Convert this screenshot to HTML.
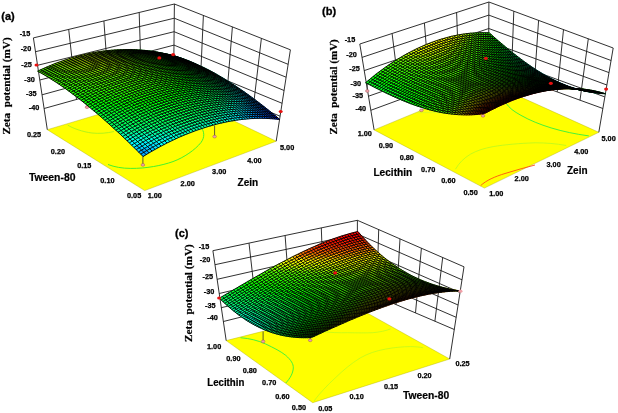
<!DOCTYPE html><html><head><meta charset="utf-8"><title>Zeta potential response surfaces</title><style>
html,body{margin:0;padding:0;background:#fff}svg{display:block}
.tk{font:bold 7.3px "Liberation Sans",sans-serif;fill:#000;stroke:#000;stroke-width:0.25px}
.ax{font:bold 10.1px "Liberation Sans",sans-serif;fill:#000;stroke:#000;stroke-width:0.2px}
.lb{font:bold 11px "Liberation Sans",sans-serif;fill:#000;stroke:#000;stroke-width:0.3px}
.zt{font:bold 11.3px "Liberation Serif",serif;fill:#000;stroke:#000;stroke-width:0.2px}
</style></head><body>
<svg width="618" height="413" viewBox="0 0 618 413">
<rect width="618" height="413" fill="#fff"/>
<g id="plot-a"><polygon points="144.7,190.6 276.2,141.2 173.5,92 47.3,129.7" fill="#ffff00" stroke="#a8a800" stroke-width="0.4"/>
<path d="M67.7,125.1C72,128 83,132 92,133C99,133.8 107,133.2 114,131.5" fill="none" stroke="#a0f020" stroke-width="0.8"/><path d="M108,164.5C114.5,167 122,168.4 130.8,168.4C146,168.6 162,165.5 173,161.6C184,157.5 195,150 201,142.5C205,137 204.5,131.5 200.5,126.4" fill="none" stroke="#30f030" stroke-width="0.9"/>
<path d="M33.4,37.9L47.3,129.7M174.4,4L173.5,92M290.4,49.8L276.2,141.2M68.7,29.4L76.5,99.5M103.9,20.9L108.9,90.4M139.2,12.5L141.3,81.3M203.4,15.4L200.3,83.3M232.4,26.9L226.9,94.2M261.4,38.3L253.5,105.2M33.4,37.9L174.4,4L290.4,49.8M35.5,51.7L174.3,18.2L288.1,64.3M37.5,65.3L174.1,31.7L286.1,77.2M39.8,80L174,45.1L284.1,90.5M42,94.8L173.8,58.7L282.1,103.3M44.1,108.5L173.7,72.3L280.1,116.2" fill="none" stroke="#1a1a1a" stroke-width="0.9"/>
<path d="M142.9,155.9V164.9" stroke="#333" stroke-width="0.8"/><ellipse cx="142.9" cy="164.9" rx="1.8" ry="1.4" fill="#f0a0a8" stroke="#844" stroke-width="0.4"/><path d="M214.6,125.5V136.6" stroke="#333" stroke-width="0.8"/><ellipse cx="214.6" cy="136.6" rx="1.8" ry="1.4" fill="#f0a0a8" stroke="#844" stroke-width="0.4"/><path d="M87,100V107.2" stroke="#333" stroke-width="0.8"/><ellipse cx="87" cy="107.2" rx="1.8" ry="1.4" fill="#f0a0a8" stroke="#844" stroke-width="0.4"/>
<g stroke-width="0.5" stroke-linejoin="round"><path d="M173.4,55.8 178.3,57.1 174.4,55.9 169.5,54.6z" fill="#00ffc2" stroke="#00ffc2"/><path d="M177.3,57.2 182.2,58.4 178.3,57.1 173.4,55.8z" fill="#00ffb7" stroke="#00ffb7"/><path d="M168.4,54.7 173.4,55.8 169.5,54.6 164.5,53.5z" fill="#00ff84" stroke="#00ff84"/><path d="M181.2,58.6 186.1,59.8 182.2,58.4 177.3,57.2z" fill="#00ffae" stroke="#00ffae"/><path d="M172.3,56.1 177.3,57.2 173.4,55.8 168.4,54.7z" fill="#00ff7a" stroke="#00ff7a"/><path d="M163.4,53.7 168.4,54.7 164.5,53.5 159.5,52.5z" fill="#00ff5c" stroke="#00ff5c"/><path d="M185.2,60.2 190.1,61.4 186.1,59.8 181.2,58.6z" fill="#00ffa9" stroke="#00ffa9"/><path d="M176.3,57.6 181.2,58.6 177.3,57.2 172.3,56.1z" fill="#00ff72" stroke="#00ff72"/><path d="M167.3,55.1 172.3,56.1 168.4,54.7 163.4,53.7z" fill="#00ff57" stroke="#00ff57"/><path d="M189.3,61.9 194.1,63.1 190.1,61.4 185.2,60.2z" fill="#00ffa5" stroke="#00ffa5"/><path d="M158.3,52.9 163.4,53.7 159.5,52.5 154.4,51.6z" fill="#00ff3f" stroke="#00ff3f"/><path d="M180.3,59.2 185.2,60.2 181.2,58.6 176.3,57.6z" fill="#00ff6e" stroke="#00ff6e"/><path d="M171.3,56.6 176.3,57.6 172.3,56.1 167.3,55.1z" fill="#00ff53" stroke="#00ff53"/><path d="M193.3,63.7 198.2,64.9 194.1,63.1 189.3,61.9z" fill="#00ffa5" stroke="#00ffa5"/><path d="M162.2,54.3 167.3,55.1 163.4,53.7 158.3,52.9z" fill="#00ff3a" stroke="#00ff3a"/><path d="M184.3,60.9 189.3,61.9 185.2,60.2 180.3,59.2z" fill="#00ff6d" stroke="#00ff6d"/><path d="M153.1,52.2 158.3,52.9 154.4,51.6 149.2,50.9z" fill="#00ff25" stroke="#00ff25"/><path d="M175.3,58.3 180.3,59.2 176.3,57.6 171.3,56.6z" fill="#00ff50" stroke="#00ff50"/><path d="M197.4,65.7 202.3,66.8 198.2,64.9 193.3,63.7z" fill="#00ffa6" stroke="#00ffa6"/><path d="M166.2,55.8 171.3,56.6 167.3,55.1 162.2,54.3z" fill="#00ff37" stroke="#00ff37"/><path d="M188.4,62.7 193.3,63.7 189.3,61.9 184.3,60.9z" fill="#00ff6d" stroke="#00ff6d"/><path d="M157.1,53.6 162.2,54.3 158.3,52.9 153.1,52.2z" fill="#00ff20" stroke="#00ff20"/><path d="M201.5,67.7 206.4,68.8 202.3,66.8 197.4,65.7z" fill="#00ffab" stroke="#00ffab"/><path d="M147.9,51.7 153.1,52.2 149.2,50.9 144,50.3z" fill="#00ff0c" stroke="#00ff0c"/><path d="M179.3,60 184.3,60.9 180.3,59.2 175.3,58.3z" fill="#00ff4f" stroke="#00ff4f"/><path d="M170.2,57.5 175.3,58.3 171.3,56.6 166.2,55.8z" fill="#00ff34" stroke="#00ff34"/><path d="M192.5,64.7 197.4,65.7 193.3,63.7 188.4,62.7z" fill="#00ff6e" stroke="#00ff6e"/><path d="M161,55.2 166.2,55.8 162.2,54.3 157.1,53.6z" fill="#00ff1c" stroke="#00ff1c"/><path d="M205.7,69.9 210.5,70.9 206.4,68.8 201.5,67.7z" fill="#00ffb1" stroke="#00ffb1"/><path d="M183.4,61.9 188.4,62.7 184.3,60.9 179.3,60z" fill="#00ff4f" stroke="#00ff4f"/><path d="M151.8,53.1 157.1,53.6 153.1,52.2 147.9,51.7z" fill="#00ff07" stroke="#00ff07"/><path d="M142.7,51.3 147.9,51.7 144,50.3 138.8,49.9z" fill="#09ff00" stroke="#09ff00"/><path d="M174.2,59.3 179.3,60 175.3,58.3 170.2,57.5z" fill="#00ff34" stroke="#00ff34"/><path d="M196.6,66.8 201.5,67.7 197.4,65.7 192.5,64.7z" fill="#00ff70" stroke="#00ff70"/><path d="M209.9,72.2 214.7,73.2 210.5,70.9 205.7,69.9z" fill="#00ffba" stroke="#00ffba"/><path d="M165,56.9 170.2,57.5 166.2,55.8 161,55.2z" fill="#00ff1a" stroke="#00ff1a"/><path d="M187.5,63.9 192.5,64.7 188.4,62.7 183.4,61.9z" fill="#00ff51" stroke="#00ff51"/><path d="M155.8,54.7 161,55.2 157.1,53.6 151.8,53.1z" fill="#00ff04" stroke="#00ff04"/><path d="M200.8,69 205.7,69.9 201.5,67.7 196.6,66.8z" fill="#00ff77" stroke="#00ff77"/><path d="M146.6,52.8 151.8,53.1 147.9,51.7 142.7,51.3z" fill="#0dff00" stroke="#0dff00"/><path d="M178.3,61.2 183.4,61.9 179.3,60 174.2,59.3z" fill="#00ff34" stroke="#00ff34"/><path d="M137.3,51 142.7,51.3 138.8,49.9 133.5,49.6z" fill="#1bff00" stroke="#1bff00"/><path d="M214.1,74.6 218.9,75.6 214.7,73.2 209.9,72.2z" fill="#00ffc5" stroke="#00ffc5"/><path d="M169.1,58.7 174.2,59.3 170.2,57.5 165,56.9z" fill="#00ff1a" stroke="#00ff1a"/><path d="M191.6,66 196.6,66.8 192.5,64.7 187.5,63.9z" fill="#00ff53" stroke="#00ff53"/><path d="M159.8,56.4 165,56.9 161,55.2 155.8,54.7z" fill="#00ff02" stroke="#00ff02"/><path d="M204.9,71.3 209.9,72.2 205.7,69.9 200.8,69z" fill="#00ff81" stroke="#00ff81"/><path d="M182.4,63.2 187.5,63.9 183.4,61.9 178.3,61.2z" fill="#00ff36" stroke="#00ff36"/><path d="M150.5,54.4 155.8,54.7 151.8,53.1 146.6,52.8z" fill="#0fff00" stroke="#0fff00"/><path d="M218.3,77.1 223.1,78.1 218.9,75.6 214.1,74.6z" fill="#00ffd3" stroke="#00ffd3"/><path d="M141.2,52.5 146.6,52.8 142.7,51.3 137.3,51z" fill="#1fff00" stroke="#1fff00"/><path d="M132,50.9 137.3,51 133.5,49.6 128.1,49.5z" fill="#2bff00" stroke="#2bff00"/><path d="M195.8,68.2 200.8,69 196.6,66.8 191.6,66z" fill="#00ff57" stroke="#00ff57"/><path d="M173.1,60.6 178.3,61.2 174.2,59.3 169.1,58.7z" fill="#00ff1a" stroke="#00ff1a"/><path d="M209.2,73.8 214.1,74.6 209.9,72.2 204.9,71.3z" fill="#00ff8c" stroke="#00ff8c"/><path d="M163.8,58.3 169.1,58.7 165,56.9 159.8,56.4z" fill="#00ff02" stroke="#00ff02"/><path d="M222.6,79.7 227.4,80.7 223.1,78.1 218.3,77.1z" fill="#00ffe2" stroke="#00ffe2"/><path d="M186.5,65.4 191.6,66 187.5,63.9 182.4,63.2z" fill="#00ff39" stroke="#00ff39"/><path d="M154.5,56.1 159.8,56.4 155.8,54.7 150.5,54.4z" fill="#11ff00" stroke="#11ff00"/><path d="M200,70.6 204.9,71.3 200.8,69 195.8,68.2z" fill="#00ff5d" stroke="#00ff5d"/><path d="M145.2,54.2 150.5,54.4 146.6,52.8 141.2,52.5z" fill="#21ff00" stroke="#21ff00"/><path d="M177.2,62.7 182.4,63.2 178.3,61.2 173.1,60.6z" fill="#00ff1c" stroke="#00ff1c"/><path d="M135.9,52.5 141.2,52.5 137.3,51 132,50.9z" fill="#2fff00" stroke="#2fff00"/><path d="M213.4,76.3 218.3,77.1 214.1,74.6 209.2,73.8z" fill="#00ff9a" stroke="#00ff9a"/><path d="M126.5,51 132,50.9 128.1,49.5 122.7,49.6z" fill="#3aff00" stroke="#3aff00"/><path d="M226.8,82.5 231.6,83.4 227.4,80.7 222.6,79.7z" fill="#00fff4" stroke="#00fff4"/><path d="M167.9,60.2 173.1,60.6 169.1,58.7 163.8,58.3z" fill="#00ff03" stroke="#00ff03"/><path d="M190.7,67.6 195.8,68.2 191.6,66 186.5,65.4z" fill="#00ff3d" stroke="#00ff3d"/><path d="M158.6,58 163.8,58.3 159.8,56.4 154.5,56.1z" fill="#11ff00" stroke="#11ff00"/><path d="M204.2,73.1 209.2,73.8 204.9,71.3 200,70.6z" fill="#00ff63" stroke="#00ff63"/><path d="M181.4,64.9 186.5,65.4 182.4,63.2 177.2,62.7z" fill="#00ff20" stroke="#00ff20"/><path d="M217.7,79 222.6,79.7 218.3,77.1 213.4,76.3z" fill="#00ffaa" stroke="#00ffaa"/><path d="M149.2,56 154.5,56.1 150.5,54.4 145.2,54.2z" fill="#22ff00" stroke="#22ff00"/><path d="M231.1,85.3 235.9,86.2 231.6,83.4 226.8,82.5z" fill="#00f6ff" stroke="#00f6ff"/><path d="M139.8,54.2 145.2,54.2 141.2,52.5 135.9,52.5z" fill="#30ff00" stroke="#30ff00"/><path d="M130.4,52.6 135.9,52.5 132,50.9 126.5,51z" fill="#3dff00" stroke="#3dff00"/><path d="M121.1,51.3 126.5,51 122.7,49.6 117.2,49.8z" fill="#47ff00" stroke="#47ff00"/><path d="M194.9,70 200,70.6 195.8,68.2 190.7,67.6z" fill="#00ff42" stroke="#00ff42"/><path d="M172,62.3 177.2,62.7 173.1,60.6 167.9,60.2z" fill="#00ff05" stroke="#00ff05"/><path d="M208.4,75.6 213.4,76.3 209.2,73.8 204.2,73.1z" fill="#00ff6b" stroke="#00ff6b"/><path d="M162.6,60 167.9,60.2 163.8,58.3 158.6,58z" fill="#10ff00" stroke="#10ff00"/><path d="M222,81.7 226.8,82.5 222.6,79.7 217.7,79z" fill="#00ffbd" stroke="#00ffbd"/><path d="M235.5,88.2 240.2,89.1 235.9,86.2 231.1,85.3z" fill="#00e0ff" stroke="#00e0ff"/><path d="M185.6,67.2 190.7,67.6 186.5,65.4 181.4,64.9z" fill="#00ff24" stroke="#00ff24"/><path d="M153.2,57.9 158.6,58 154.5,56.1 149.2,56z" fill="#22ff00" stroke="#22ff00"/><path d="M143.8,56 149.2,56 145.2,54.2 139.8,54.2z" fill="#31ff00" stroke="#31ff00"/><path d="M199.1,72.5 204.2,73.1 200,70.6 194.9,70z" fill="#00ff49" stroke="#00ff49"/><path d="M176.2,64.5 181.4,64.9 177.2,62.7 172,62.3z" fill="#00ff09" stroke="#00ff09"/><path d="M134.4,54.3 139.8,54.2 135.9,52.5 130.4,52.6z" fill="#3eff00" stroke="#3eff00"/><path d="M212.7,78.3 217.7,79 213.4,76.3 208.4,75.6z" fill="#00ff76" stroke="#00ff76"/><path d="M125,52.9 130.4,52.6 126.5,51 121.1,51.3z" fill="#49ff00" stroke="#49ff00"/><path d="M115.5,51.7 121.1,51.3 117.2,49.8 111.7,50.2z" fill="#52ff00" stroke="#52ff00"/><path d="M239.8,91.3 244.6,92.1 240.2,89.1 235.5,88.2z" fill="#00c8ff" stroke="#00c8ff"/><path d="M226.3,84.6 231.1,85.3 226.8,82.5 222,81.7z" fill="#00ffd1" stroke="#00ffd1"/><path d="M166.8,62.1 172,62.3 167.9,60.2 162.6,60z" fill="#0eff00" stroke="#0eff00"/><path d="M189.8,69.6 194.9,70 190.7,67.6 185.6,67.2z" fill="#00ff2a" stroke="#00ff2a"/><path d="M157.3,59.9 162.6,60 158.6,58 153.2,57.9z" fill="#21ff00" stroke="#21ff00"/><path d="M203.4,75.1 208.4,75.6 204.2,73.1 199.1,72.5z" fill="#00ff51" stroke="#00ff51"/><path d="M244.2,94.4 248.9,95.2 244.6,92.1 239.8,91.3z" fill="#00aeff" stroke="#00aeff"/><path d="M180.4,66.9 185.6,67.2 181.4,64.9 176.2,64.5z" fill="#00ff0d" stroke="#00ff0d"/><path d="M217,81.1 222,81.7 217.7,79 212.7,78.3z" fill="#00ff88" stroke="#00ff88"/><path d="M147.9,57.9 153.2,57.9 149.2,56 143.8,56z" fill="#31ff00" stroke="#31ff00"/><path d="M230.6,87.6 235.5,88.2 231.1,85.3 226.3,84.6z" fill="#00ffe7" stroke="#00ffe7"/><path d="M138.4,56.2 143.8,56 139.8,54.2 134.4,54.3z" fill="#3fff00" stroke="#3fff00"/><path d="M128.9,54.6 134.4,54.3 130.4,52.6 125,52.9z" fill="#4bff00" stroke="#4bff00"/><path d="M110,52.3 115.5,51.7 111.7,50.2 106.1,50.7z" fill="#71ff00" stroke="#71ff00"/><path d="M119.4,53.3 125,52.9 121.1,51.3 115.5,51.7z" fill="#5aff00" stroke="#5aff00"/><path d="M194,72.1 199.1,72.5 194.9,70 189.8,69.6z" fill="#00ff30" stroke="#00ff30"/><path d="M170.9,64.4 176.2,64.5 172,62.3 166.8,62.1z" fill="#0bff00" stroke="#0bff00"/><path d="M248.6,97.7 253.3,98.4 248.9,95.2 244.2,94.4z" fill="#0093ff" stroke="#0093ff"/><path d="M207.7,77.8 212.7,78.3 208.4,75.6 203.4,75.1z" fill="#00ff59" stroke="#00ff59"/><path d="M161.4,62.1 166.8,62.1 162.6,60 157.3,59.9z" fill="#1eff00" stroke="#1eff00"/><path d="M235,90.6 239.8,91.3 235.5,88.2 230.6,87.6z" fill="#00ffff" stroke="#00ffff"/><path d="M221.3,84 226.3,84.6 222,81.7 217,81.1z" fill="#00ff9d" stroke="#00ff9d"/><path d="M184.6,69.3 189.8,69.6 185.6,67.2 180.4,66.9z" fill="#00ff13" stroke="#00ff13"/><path d="M151.9,60 157.3,59.9 153.2,57.9 147.9,57.9z" fill="#30ff00" stroke="#30ff00"/><path d="M142.4,58.1 147.9,57.9 143.8,56 138.4,56.2z" fill="#3fff00" stroke="#3fff00"/><path d="M198.3,74.8 203.4,75.1 199.1,72.5 194,72.1z" fill="#00ff38" stroke="#00ff38"/><path d="M253,101 257.7,101.7 253.3,98.4 248.6,97.7z" fill="#0080ff" stroke="#0080ff"/><path d="M175.1,66.7 180.4,66.9 176.2,64.5 170.9,64.4z" fill="#07ff00" stroke="#07ff00"/><path d="M132.9,56.5 138.4,56.2 134.4,54.3 128.9,54.6z" fill="#4bff00" stroke="#4bff00"/><path d="M104.4,53 110,52.3 106.1,50.7 100.6,51.4z" fill="#8aff00" stroke="#8aff00"/><path d="M123.4,55.1 128.9,54.6 125,52.9 119.4,53.3z" fill="#5eff00" stroke="#5eff00"/><path d="M113.9,54 119.4,53.3 115.5,51.7 110,52.3z" fill="#78ff00" stroke="#78ff00"/><path d="M212,80.7 217,81.1 212.7,78.3 207.7,77.8z" fill="#00ff63" stroke="#00ff63"/><path d="M239.3,93.8 244.2,94.4 239.8,91.3 235,90.6z" fill="#00e5ff" stroke="#00e5ff"/><path d="M225.7,87 230.6,87.6 226.3,84.6 221.3,84z" fill="#00ffb4" stroke="#00ffb4"/><path d="M165.6,64.3 170.9,64.4 166.8,62.1 161.4,62.1z" fill="#1bff00" stroke="#1bff00"/><path d="M188.8,71.9 194,72.1 189.8,69.6 184.6,69.3z" fill="#00ff1a" stroke="#00ff1a"/><path d="M257.4,104.4 262.1,105.1 257.7,101.7 253,101z" fill="#006fff" stroke="#006fff"/><path d="M156,62.2 161.4,62.1 157.3,59.9 151.9,60z" fill="#2dff00" stroke="#2dff00"/><path d="M202.5,77.5 207.7,77.8 203.4,75.1 198.3,74.8z" fill="#00ff42" stroke="#00ff42"/><path d="M243.7,97.1 248.6,97.7 244.2,94.4 239.3,93.8z" fill="#00c9ff" stroke="#00c9ff"/><path d="M146.5,60.2 151.9,60 147.9,57.9 142.4,58.1z" fill="#3dff00" stroke="#3dff00"/><path d="M179.3,69.2 184.6,69.3 180.4,66.9 175.1,66.7z" fill="#01ff00" stroke="#01ff00"/><path d="M216.3,83.6 221.3,84 217,81.1 212,80.7z" fill="#00ff6f" stroke="#00ff6f"/><path d="M230,90.1 235,90.6 230.6,87.6 225.7,87z" fill="#00ffcc" stroke="#00ffcc"/><path d="M98.8,54 104.4,53 100.6,51.4 94.9,52.3z" fill="#a0ff00" stroke="#a0ff00"/><path d="M136.9,58.5 142.4,58.1 138.4,56.2 132.9,56.5z" fill="#4aff00" stroke="#4aff00"/><path d="M108.3,54.7 113.9,54 110,52.3 104.4,53z" fill="#91ff00" stroke="#91ff00"/><path d="M127.4,57 132.9,56.5 128.9,54.6 123.4,55.1z" fill="#5fff00" stroke="#5fff00"/><path d="M117.8,55.8 123.4,55.1 119.4,53.3 113.9,54z" fill="#7bff00" stroke="#7bff00"/><path d="M261.8,107.9 266.5,108.5 262.1,105.1 257.4,104.4z" fill="#005cff" stroke="#005cff"/><path d="M193.1,74.6 198.3,74.8 194,72.1 188.8,71.9z" fill="#00ff22" stroke="#00ff22"/><path d="M169.8,66.7 175.1,66.7 170.9,64.4 165.6,64.3z" fill="#17ff00" stroke="#17ff00"/><path d="M248.1,100.4 253,101 248.6,97.7 243.7,97.1z" fill="#00abff" stroke="#00abff"/><path d="M206.9,80.4 212,80.7 207.7,77.8 202.5,77.5z" fill="#00ff4c" stroke="#00ff4c"/><path d="M160.2,64.5 165.6,64.3 161.4,62.1 156,62.2z" fill="#2aff00" stroke="#2aff00"/><path d="M234.4,93.3 239.3,93.8 235,90.6 230,90.1z" fill="#00ffe7" stroke="#00ffe7"/><path d="M220.7,86.6 225.7,87 221.3,84 216.3,83.6z" fill="#00ff84" stroke="#00ff84"/><path d="M183.5,71.8 188.8,71.9 184.6,69.3 179.3,69.2z" fill="#00ff06" stroke="#00ff06"/><path d="M266.2,111.5 270.9,112.1 266.5,108.5 261.8,107.9z" fill="#0049ff" stroke="#0049ff"/><path d="M150.6,62.5 156,62.2 151.9,60 146.5,60.2z" fill="#3aff00" stroke="#3aff00"/><path d="M93.1,55.1 98.8,54 94.9,52.3 89.3,53.4z" fill="#b1ff00" stroke="#b1ff00"/><path d="M141,60.7 146.5,60.2 142.4,58.1 136.9,58.5z" fill="#49ff00" stroke="#49ff00"/><path d="M197.4,77.3 202.5,77.5 198.3,74.8 193.1,74.6z" fill="#00ff2c" stroke="#00ff2c"/><path d="M252.6,103.9 257.4,104.4 253,101 248.1,100.4z" fill="#008dff" stroke="#008dff"/><path d="M102.6,55.7 108.3,54.7 104.4,53 98.8,54z" fill="#a7ff00" stroke="#a7ff00"/><path d="M131.4,59.1 136.9,58.5 132.9,56.5 127.4,57z" fill="#5cff00" stroke="#5cff00"/><path d="M174,69.3 179.3,69.2 175.1,66.7 169.8,66.7z" fill="#11ff00" stroke="#11ff00"/><path d="M112.2,56.6 117.8,55.8 113.9,54 108.3,54.7z" fill="#94ff00" stroke="#94ff00"/><path d="M121.8,57.7 127.4,57 123.4,55.1 117.8,55.8z" fill="#7bff00" stroke="#7bff00"/><path d="M211.2,83.3 216.3,83.6 212,80.7 206.9,80.4z" fill="#00ff57" stroke="#00ff57"/><path d="M238.8,96.6 243.7,97.1 239.3,93.8 234.4,93.3z" fill="#00fbff" stroke="#00fbff"/><path d="M225,89.8 230,90.1 225.7,87 220.7,86.6z" fill="#00ff9d" stroke="#00ff9d"/><path d="M270.7,115.2 275.4,115.7 270.9,112.1 266.2,111.5z" fill="#0035ff" stroke="#0035ff"/><path d="M164.4,66.9 169.8,66.7 165.6,64.3 160.2,64.5z" fill="#25ff00" stroke="#25ff00"/><path d="M187.8,74.5 193.1,74.6 188.8,71.9 183.5,71.8z" fill="#00ff0e" stroke="#00ff0e"/><path d="M257,107.4 261.8,107.9 257.4,104.4 252.6,103.9z" fill="#007aff" stroke="#007aff"/><path d="M154.7,64.8 160.2,64.5 156,62.2 150.6,62.5z" fill="#37ff00" stroke="#37ff00"/><path d="M87.4,56.4 93.1,55.1 89.3,53.4 83.6,54.7z" fill="#bcff00" stroke="#bcff00"/><path d="M201.7,80.2 206.9,80.4 202.5,77.5 197.4,77.3z" fill="#00ff36" stroke="#00ff36"/><path d="M275.2,119 279.8,119.5 275.4,115.7 270.7,115.2z" fill="#001fff" stroke="#001fff"/><path d="M243.3,100 248.1,100.4 243.7,97.1 238.8,96.6z" fill="#00ddff" stroke="#00ddff"/><path d="M145.1,62.9 150.6,62.5 146.5,60.2 141,60.7z" fill="#46ff00" stroke="#46ff00"/><path d="M178.2,71.9 183.5,71.8 179.3,69.2 174,69.3z" fill="#0bff00" stroke="#0bff00"/><path d="M215.6,86.4 220.7,86.6 216.3,83.6 211.2,83.3z" fill="#00ff63" stroke="#00ff63"/><path d="M229.4,93 234.4,93.3 230,90.1 225,89.8z" fill="#00ffb8" stroke="#00ffb8"/><path d="M97,56.9 102.6,55.7 98.8,54 93.1,55.1z" fill="#b7ff00" stroke="#b7ff00"/><path d="M135.5,61.2 141,60.7 136.9,58.5 131.4,59.1z" fill="#55ff00" stroke="#55ff00"/><path d="M106.6,57.6 112.2,56.6 108.3,54.7 102.6,55.7z" fill="#a9ff00" stroke="#a9ff00"/><path d="M125.8,59.8 131.4,59.1 127.4,57 121.8,57.7z" fill="#77ff00" stroke="#77ff00"/><path d="M116.2,58.6 121.8,57.7 117.8,55.8 112.2,56.6z" fill="#93ff00" stroke="#93ff00"/><path d="M261.5,111.1 266.2,111.5 261.8,107.9 257,107.4z" fill="#0066ff" stroke="#0066ff"/><path d="M168.6,69.5 174,69.3 169.8,66.7 164.4,66.9z" fill="#1fff00" stroke="#1fff00"/><path d="M192.1,77.3 197.4,77.3 193.1,74.6 187.8,74.5z" fill="#00ff18" stroke="#00ff18"/><path d="M247.7,103.5 252.6,103.9 248.1,100.4 243.3,100z" fill="#00bdff" stroke="#00bdff"/><path d="M206,83.2 211.2,83.3 206.9,80.4 201.7,80.2z" fill="#00ff42" stroke="#00ff42"/><path d="M158.9,67.3 164.4,66.9 160.2,64.5 154.7,64.8z" fill="#32ff00" stroke="#32ff00"/><path d="M81.7,57.8 87.4,56.4 83.6,54.7 77.9,56.1z" fill="#c0ff00" stroke="#c0ff00"/><path d="M233.8,96.4 238.8,96.6 234.4,93.3 229.4,93z" fill="#00ffd5" stroke="#00ffd5"/><path d="M220,89.6 225,89.8 220.7,86.6 215.6,86.4z" fill="#00ff71" stroke="#00ff71"/><path d="M182.5,74.6 187.8,74.5 183.5,71.8 178.2,71.9z" fill="#03ff00" stroke="#03ff00"/><path d="M265.9,114.8 270.7,115.2 266.2,111.5 261.5,111.1z" fill="#0052ff" stroke="#0052ff"/><path d="M149.3,65.3 154.7,64.8 150.6,62.5 145.1,62.9z" fill="#42ff00" stroke="#42ff00"/><path d="M91.3,58.2 97,56.9 93.1,55.1 87.4,56.4z" fill="#c0ff00" stroke="#c0ff00"/><path d="M139.6,63.5 145.1,62.9 141,60.7 135.5,61.2z" fill="#50ff00" stroke="#50ff00"/><path d="M100.9,58.8 106.6,57.6 102.6,55.7 97,56.9z" fill="#b8ff00" stroke="#b8ff00"/><path d="M252.2,107.1 257,107.4 252.6,103.9 247.7,103.5z" fill="#009bff" stroke="#009bff"/><path d="M196.4,80.3 201.7,80.2 197.4,77.3 192.1,77.3z" fill="#00ff22" stroke="#00ff22"/><path d="M129.9,62 135.5,61.2 131.4,59.1 125.8,59.8z" fill="#70ff00" stroke="#70ff00"/><path d="M110.5,59.6 116.2,58.6 112.2,56.6 106.6,57.6z" fill="#a7ff00" stroke="#a7ff00"/><path d="M120.2,60.7 125.8,59.8 121.8,57.7 116.2,58.6z" fill="#8dff00" stroke="#8dff00"/><path d="M172.8,72.1 178.2,71.9 174,69.3 168.6,69.5z" fill="#19ff00" stroke="#19ff00"/><path d="M238.3,99.8 243.3,100 238.8,96.6 233.8,96.4z" fill="#00fff3" stroke="#00fff3"/><path d="M210.4,86.3 215.6,86.4 211.2,83.3 206,83.2z" fill="#00ff4e" stroke="#00ff4e"/><path d="M270.4,118.6 275.2,119 270.7,115.2 265.9,114.8z" fill="#003dff" stroke="#003dff"/><path d="M224.4,92.9 229.4,93 225,89.8 220,89.6z" fill="#00ff8d" stroke="#00ff8d"/><path d="M76,59.5 81.7,57.8 77.9,56.1 72.2,57.7z" fill="#bdff00" stroke="#bdff00"/><path d="M163.2,69.8 168.6,69.5 164.4,66.9 158.9,67.3z" fill="#2cff00" stroke="#2cff00"/><path d="M186.8,77.5 192.1,77.3 187.8,74.5 182.5,74.6z" fill="#00ff06" stroke="#00ff06"/><path d="M256.6,110.8 261.5,111.1 257,107.4 252.2,107.1z" fill="#0082ff" stroke="#0082ff"/><path d="M85.5,59.7 91.3,58.2 87.4,56.4 81.7,57.8z" fill="#c3ff00" stroke="#c3ff00"/><path d="M153.4,67.8 158.9,67.3 154.7,64.8 149.3,65.3z" fill="#3dff00" stroke="#3dff00"/><path d="M200.8,83.3 206,83.2 201.7,80.2 196.4,80.3z" fill="#00ff2e" stroke="#00ff2e"/><path d="M242.7,103.3 247.7,103.5 243.3,100 238.3,99.8z" fill="#00ebff" stroke="#00ebff"/><path d="M95.2,60.1 100.9,58.8 97,56.9 91.3,58.2z" fill="#c1ff00" stroke="#c1ff00"/><path d="M143.7,65.9 149.3,65.3 145.1,62.9 139.6,63.5z" fill="#4bff00" stroke="#4bff00"/><path d="M177.1,74.9 182.5,74.6 178.2,71.9 172.8,72.1z" fill="#11ff00" stroke="#11ff00"/><path d="M214.8,89.5 220,89.6 215.6,86.4 210.4,86.3z" fill="#00ff5c" stroke="#00ff5c"/><path d="M228.8,96.2 233.8,96.4 229.4,93 224.4,92.9z" fill="#00ffaa" stroke="#00ffaa"/><path d="M104.8,60.8 110.5,59.6 106.6,57.6 100.9,58.8z" fill="#b5ff00" stroke="#b5ff00"/><path d="M134,64.3 139.6,63.5 135.5,61.2 129.9,62z" fill="#65ff00" stroke="#65ff00"/><path d="M114.5,61.8 120.2,60.7 116.2,58.6 110.5,59.6z" fill="#a1ff00" stroke="#a1ff00"/><path d="M124.2,62.9 129.9,62 125.8,59.8 120.2,60.7z" fill="#85ff00" stroke="#85ff00"/><path d="M70.2,61.3 76,59.5 72.2,57.7 66.4,59.5z" fill="#b5ff00" stroke="#b5ff00"/><path d="M261.1,114.5 265.9,114.8 261.5,111.1 256.6,110.8z" fill="#006dff" stroke="#006dff"/><path d="M167.4,72.5 172.8,72.1 168.6,69.5 163.2,69.8z" fill="#25ff00" stroke="#25ff00"/><path d="M191.1,80.4 196.4,80.3 192.1,77.3 186.8,77.5z" fill="#00ff11" stroke="#00ff11"/><path d="M79.8,61.4 85.5,59.7 81.7,57.8 76,59.5z" fill="#c0ff00" stroke="#c0ff00"/><path d="M247.2,106.9 252.2,107.1 247.7,103.5 242.7,103.3z" fill="#00c9ff" stroke="#00c9ff"/><path d="M205.2,86.4 210.4,86.3 206,83.2 200.8,83.3z" fill="#00ff3b" stroke="#00ff3b"/><path d="M157.7,70.4 163.2,69.8 158.9,67.3 153.4,67.8z" fill="#37ff00" stroke="#37ff00"/><path d="M233.2,99.7 238.3,99.8 233.8,96.4 228.8,96.2z" fill="#00ffc9" stroke="#00ffc9"/><path d="M219.2,92.9 224.4,92.9 220,89.6 214.8,89.5z" fill="#00ff6a" stroke="#00ff6a"/><path d="M89.4,61.7 95.2,60.1 91.3,58.2 85.5,59.7z" fill="#c3ff00" stroke="#c3ff00"/><path d="M265.6,118.4 270.4,118.6 265.9,114.8 261.1,114.5z" fill="#0058ff" stroke="#0058ff"/><path d="M181.4,77.8 186.8,77.5 182.5,74.6 177.1,74.9z" fill="#09ff00" stroke="#09ff00"/><path d="M147.9,68.5 153.4,67.8 149.3,65.3 143.7,65.9z" fill="#46ff00" stroke="#46ff00"/><path d="M64.4,63.3 70.2,61.3 66.4,59.5 60.7,61.5z" fill="#a5ff00" stroke="#a5ff00"/><path d="M99.1,62.2 104.8,60.8 100.9,58.8 95.2,60.1z" fill="#bdff00" stroke="#bdff00"/><path d="M138.1,66.8 143.7,65.9 139.6,63.5 134,64.3z" fill="#57ff00" stroke="#57ff00"/><path d="M108.8,63 114.5,61.8 110.5,59.6 104.8,60.8z" fill="#aeff00" stroke="#aeff00"/><path d="M128.3,65.3 134,64.3 129.9,62 124.2,62.9z" fill="#7aff00" stroke="#7aff00"/><path d="M251.7,110.6 256.6,110.8 252.2,107.1 247.2,106.9z" fill="#00a5ff" stroke="#00a5ff"/><path d="M118.6,64 124.2,62.9 120.2,60.7 114.5,61.8z" fill="#97ff00" stroke="#97ff00"/><path d="M195.5,83.5 200.8,83.3 196.4,80.3 191.1,80.4z" fill="#00ff1c" stroke="#00ff1c"/><path d="M171.7,75.3 177.1,74.9 172.8,72.1 167.4,72.5z" fill="#1dff00" stroke="#1dff00"/><path d="M74,63.2 79.8,61.4 76,59.5 70.2,61.3z" fill="#b7ff00" stroke="#b7ff00"/><path d="M237.7,103.3 242.7,103.3 238.3,99.8 233.2,99.7z" fill="#00ffe9" stroke="#00ffe9"/><path d="M209.6,89.7 214.8,89.5 210.4,86.3 205.2,86.4z" fill="#00ff49" stroke="#00ff49"/><path d="M223.7,96.3 228.8,96.2 224.4,92.9 219.2,92.9z" fill="#00ff82" stroke="#00ff82"/><path d="M161.9,73.1 167.4,72.5 163.2,69.8 157.7,70.4z" fill="#30ff00" stroke="#30ff00"/><path d="M58.7,65.5 64.4,63.3 60.7,61.5 54.9,63.6z" fill="#90ff00" stroke="#90ff00"/><path d="M83.7,63.4 89.4,61.7 85.5,59.7 79.8,61.4z" fill="#bfff00" stroke="#bfff00"/><path d="M185.8,80.8 191.1,80.4 186.8,77.5 181.4,77.8z" fill="#00ff01" stroke="#00ff01"/><path d="M256.2,114.4 261.1,114.5 256.6,110.8 251.7,110.6z" fill="#0086ff" stroke="#0086ff"/><path d="M152.1,71.1 157.7,70.4 153.4,67.8 147.9,68.5z" fill="#40ff00" stroke="#40ff00"/><path d="M93.4,63.8 99.1,62.2 95.2,60.1 89.4,61.7z" fill="#beff00" stroke="#beff00"/><path d="M199.9,86.7 205.2,86.4 200.8,83.3 195.5,83.5z" fill="#00ff29" stroke="#00ff29"/><path d="M242.2,106.9 247.2,106.9 242.7,103.3 237.7,103.3z" fill="#00f3ff" stroke="#00f3ff"/><path d="M142.3,69.3 147.9,68.5 143.7,65.9 138.1,66.8z" fill="#4eff00" stroke="#4eff00"/><path d="M68.3,65.3 74,63.2 70.2,61.3 64.4,63.3z" fill="#a7ff00" stroke="#a7ff00"/><path d="M103.1,64.5 108.8,63 104.8,60.8 99.1,62.2z" fill="#b5ff00" stroke="#b5ff00"/><path d="M176,78.3 181.4,77.8 177.1,74.9 171.7,75.3z" fill="#15ff00" stroke="#15ff00"/><path d="M214,93 219.2,92.9 214.8,89.5 209.6,89.7z" fill="#00ff57" stroke="#00ff57"/><path d="M228.1,99.8 233.2,99.7 228.8,96.2 223.7,96.3z" fill="#00ffa2" stroke="#00ffa2"/><path d="M132.5,67.8 138.1,66.8 134,64.3 128.3,65.3z" fill="#6bff00" stroke="#6bff00"/><path d="M112.9,65.3 118.6,64 114.5,61.8 108.8,63z" fill="#a3ff00" stroke="#a3ff00"/><path d="M122.7,66.4 128.3,65.3 124.2,62.9 118.6,64z" fill="#89ff00" stroke="#89ff00"/><path d="M52.9,67.9 58.7,65.5 54.9,63.6 49.2,66z" fill="#78ff00" stroke="#78ff00"/><path d="M260.7,118.3 265.6,118.4 261.1,114.5 256.2,114.4z" fill="#0071ff" stroke="#0071ff"/><path d="M77.9,65.3 83.7,63.4 79.8,61.4 74,63.2z" fill="#b4ff00" stroke="#b4ff00"/><path d="M166.2,76 171.7,75.3 167.4,72.5 161.9,73.1z" fill="#28ff00" stroke="#28ff00"/><path d="M190.1,83.9 195.5,83.5 191.1,80.4 185.8,80.8z" fill="#00ff0d" stroke="#00ff0d"/><path d="M246.7,110.7 251.7,110.6 247.2,106.9 242.2,106.9z" fill="#00cfff" stroke="#00cfff"/><path d="M87.6,65.6 93.4,63.8 89.4,61.7 83.7,63.4z" fill="#b9ff00" stroke="#b9ff00"/><path d="M204.3,90 209.6,89.7 205.2,86.4 199.9,86.7z" fill="#00ff37" stroke="#00ff37"/><path d="M156.4,73.9 161.9,73.1 157.7,70.4 152.1,71.1z" fill="#39ff00" stroke="#39ff00"/><path d="M62.5,67.5 68.3,65.3 64.4,63.3 58.7,65.5z" fill="#90ff00" stroke="#90ff00"/><path d="M232.6,103.4 237.7,103.3 233.2,99.7 228.1,99.8z" fill="#00ffc3" stroke="#00ffc3"/><path d="M218.5,96.5 223.7,96.3 219.2,92.9 214,93z" fill="#00ff67" stroke="#00ff67"/><path d="M47.1,70.5 52.9,67.9 49.2,66 43.4,68.5z" fill="#5aff00" stroke="#5aff00"/><path d="M180.3,81.3 185.8,80.8 181.4,77.8 176,78.3z" fill="#0bff00" stroke="#0bff00"/><path d="M97.4,66.1 103.1,64.5 99.1,62.2 93.4,63.8z" fill="#b6ff00" stroke="#b6ff00"/><path d="M146.5,72 152.1,71.1 147.9,68.5 142.3,69.3z" fill="#48ff00" stroke="#48ff00"/><path d="M107.2,66.8 112.9,65.3 108.8,63 103.1,64.5z" fill="#a9ff00" stroke="#a9ff00"/><path d="M136.7,70.4 142.3,69.3 138.1,66.8 132.5,67.8z" fill="#59ff00" stroke="#59ff00"/><path d="M72.1,67.4 77.9,65.3 74,63.2 68.3,65.3z" fill="#a3ff00" stroke="#a3ff00"/><path d="M117,67.8 122.7,66.4 118.6,64 112.9,65.3z" fill="#94ff00" stroke="#94ff00"/><path d="M126.8,68.9 132.5,67.8 128.3,65.3 122.7,66.4z" fill="#7aff00" stroke="#7aff00"/><path d="M251.2,114.5 256.2,114.4 251.7,110.6 246.7,110.7z" fill="#00a9ff" stroke="#00a9ff"/><path d="M194.5,87.1 199.9,86.7 195.5,83.5 190.1,83.9z" fill="#00ff1a" stroke="#00ff1a"/><path d="M170.5,78.9 176,78.3 171.7,75.3 166.2,76z" fill="#1fff00" stroke="#1fff00"/><path d="M41.3,73.2 47.1,70.5 43.4,68.5 37.6,71.2z" fill="#49ff00" stroke="#49ff00"/><path d="M56.7,70 62.5,67.5 58.7,65.5 52.9,67.9z" fill="#77ff00" stroke="#77ff00"/><path d="M237.1,107.1 242.2,106.9 237.7,103.3 232.6,103.4z" fill="#00ffe5" stroke="#00ffe5"/><path d="M208.7,93.3 214,93 209.6,89.7 204.3,90z" fill="#00ff46" stroke="#00ff46"/><path d="M81.8,67.5 87.6,65.6 83.7,63.4 77.9,65.3z" fill="#aeff00" stroke="#aeff00"/><path d="M222.9,100 228.1,99.8 223.7,96.3 218.5,96.5z" fill="#00ff7e" stroke="#00ff7e"/><path d="M160.6,76.8 166.2,76 161.9,73.1 156.4,73.9z" fill="#31ff00" stroke="#31ff00"/><path d="M184.7,84.4 190.1,83.9 185.8,80.8 180.3,81.3z" fill="#01ff00" stroke="#01ff00"/><path d="M91.6,67.9 97.4,66.1 93.4,63.8 87.6,65.6z" fill="#b0ff00" stroke="#b0ff00"/><path d="M255.7,118.4 260.7,118.3 256.2,114.4 251.2,114.5z" fill="#0088ff" stroke="#0088ff"/><path d="M66.3,69.7 72.1,67.4 68.3,65.3 62.5,67.5z" fill="#8cff00" stroke="#8cff00"/><path d="M150.8,74.8 156.4,73.9 152.1,71.1 146.5,72z" fill="#40ff00" stroke="#40ff00"/><path d="M50.9,72.6 56.7,70 52.9,67.9 47.1,70.5z" fill="#59ff00" stroke="#59ff00"/><path d="M101.4,68.5 107.2,66.8 103.1,64.5 97.4,66.1z" fill="#a9ff00" stroke="#a9ff00"/><path d="M198.9,90.4 204.3,90 199.9,86.7 194.5,87.1z" fill="#00ff28" stroke="#00ff28"/><path d="M140.9,73.1 146.5,72 142.3,69.3 136.7,70.4z" fill="#4dff00" stroke="#4dff00"/><path d="M241.6,110.8 246.7,110.7 242.2,106.9 237.1,107.1z" fill="#00f5ff" stroke="#00f5ff"/><path d="M111.2,69.3 117,67.8 112.9,65.3 107.2,66.8z" fill="#99ff00" stroke="#99ff00"/><path d="M131,71.6 136.7,70.4 132.5,67.8 126.8,68.9z" fill="#67ff00" stroke="#67ff00"/><path d="M174.9,82 180.3,81.3 176,78.3 170.5,78.9z" fill="#15ff00" stroke="#15ff00"/><path d="M121.1,70.3 126.8,68.9 122.7,66.4 117,67.8z" fill="#83ff00" stroke="#83ff00"/><path d="M213.2,96.8 218.5,96.5 214,93 208.7,93.3z" fill="#00ff56" stroke="#00ff56"/><path d="M227.4,103.6 232.6,103.4 228.1,99.8 222.9,100z" fill="#00ffa0" stroke="#00ffa0"/><path d="M76,69.7 81.8,67.5 77.9,65.3 72.1,67.4z" fill="#9cff00" stroke="#9cff00"/><path d="M165,79.8 170.5,78.9 166.2,76 160.6,76.8z" fill="#28ff00" stroke="#28ff00"/><path d="M60.5,72.2 66.3,69.7 62.5,67.5 56.7,70z" fill="#73ff00" stroke="#73ff00"/><path d="M45.1,75.4 50.9,72.6 47.1,70.5 41.3,73.2z" fill="#49ff00" stroke="#49ff00"/><path d="M189.1,87.7 194.5,87.1 190.1,83.9 184.7,84.4z" fill="#00ff0c" stroke="#00ff0c"/><path d="M85.8,69.9 91.6,67.9 87.6,65.6 81.8,67.5z" fill="#a4ff00" stroke="#a4ff00"/><path d="M246.1,114.7 251.2,114.5 246.7,110.7 241.6,110.8z" fill="#00cfff" stroke="#00cfff"/><path d="M155.1,77.7 160.6,76.8 156.4,73.9 150.8,74.8z" fill="#38ff00" stroke="#38ff00"/><path d="M203.4,93.8 208.7,93.3 204.3,90 198.9,90.4z" fill="#00ff37" stroke="#00ff37"/><path d="M95.6,70.3 101.4,68.5 97.4,66.1 91.6,67.9z" fill="#a2ff00" stroke="#a2ff00"/><path d="M231.9,107.4 237.1,107.1 232.6,103.4 227.4,103.6z" fill="#00ffc3" stroke="#00ffc3"/><path d="M217.7,100.4 222.9,100 218.5,96.5 213.2,96.8z" fill="#00ff67" stroke="#00ff67"/><path d="M70.2,72 76,69.7 72.1,67.4 66.3,69.7z" fill="#86ff00" stroke="#86ff00"/><path d="M145.1,75.9 150.8,74.8 146.5,72 140.9,73.1z" fill="#46ff00" stroke="#46ff00"/><path d="M179.2,85.2 184.7,84.4 180.3,81.3 174.9,82z" fill="#0bff00" stroke="#0bff00"/><path d="M105.5,71 111.2,69.3 107.2,66.8 101.4,68.5z" fill="#98ff00" stroke="#98ff00"/><path d="M135.2,74.3 140.9,73.1 136.7,70.4 131,71.6z" fill="#52ff00" stroke="#52ff00"/><path d="M54.7,74.8 60.5,72.2 56.7,70 50.9,72.6z" fill="#54ff00" stroke="#54ff00"/><path d="M115.4,71.9 121.1,70.3 117,67.8 111.2,69.3z" fill="#87ff00" stroke="#87ff00"/><path d="M125.3,73 131,71.6 126.8,68.9 121.1,70.3z" fill="#70ff00" stroke="#70ff00"/><path d="M250.7,118.6 255.7,118.4 251.2,114.5 246.1,114.7z" fill="#00a7ff" stroke="#00a7ff"/><path d="M193.5,91 198.9,90.4 194.5,87.1 189.1,87.7z" fill="#00ff1b" stroke="#00ff1b"/><path d="M80,72 85.8,69.9 81.8,67.5 76,69.7z" fill="#91ff00" stroke="#91ff00"/><path d="M169.3,82.9 174.9,82 170.5,78.9 165,79.8z" fill="#1eff00" stroke="#1eff00"/><path d="M236.5,111.2 241.6,110.8 237.1,107.1 231.9,107.4z" fill="#00ffe7" stroke="#00ffe7"/><path d="M207.9,97.3 213.2,96.8 208.7,93.3 203.4,93.8z" fill="#00ff47" stroke="#00ff47"/><path d="M222.2,104.1 227.4,103.6 222.9,100 217.7,100.4z" fill="#00ff81" stroke="#00ff81"/><path d="M64.4,74.5 70.2,72 66.3,69.7 60.5,72.2z" fill="#6bff00" stroke="#6bff00"/><path d="M89.8,72.3 95.6,70.3 91.6,67.9 85.8,69.9z" fill="#95ff00" stroke="#95ff00"/><path d="M159.4,80.8 165,79.8 160.6,76.8 155.1,77.7z" fill="#2fff00" stroke="#2fff00"/><path d="M48.9,77.7 54.7,74.8 50.9,72.6 45.1,75.4z" fill="#47ff00" stroke="#47ff00"/><path d="M183.6,88.4 189.1,87.7 184.7,84.4 179.2,85.2z" fill="#00ff01" stroke="#00ff01"/><path d="M99.7,72.8 105.5,71 101.4,68.5 95.6,70.3z" fill="#91ff00" stroke="#91ff00"/><path d="M149.4,78.9 155.1,77.7 150.8,74.8 145.1,75.9z" fill="#3dff00" stroke="#3dff00"/><path d="M139.4,77.2 145.1,75.9 140.9,73.1 135.2,74.3z" fill="#4aff00" stroke="#4aff00"/><path d="M109.6,73.6 115.4,71.9 111.2,69.3 105.5,71z" fill="#86ff00" stroke="#86ff00"/><path d="M74.1,74.4 80,72 76,69.7 70.2,72z" fill="#7bff00" stroke="#7bff00"/><path d="M198,94.5 203.4,93.8 198.9,90.4 193.5,91z" fill="#00ff2a" stroke="#00ff2a"/><path d="M129.5,75.8 135.2,74.3 131,71.6 125.3,73z" fill="#5aff00" stroke="#5aff00"/><path d="M119.5,74.6 125.3,73 121.1,70.3 115.4,71.9z" fill="#73ff00" stroke="#73ff00"/><path d="M241,115.1 246.1,114.7 241.6,110.8 236.5,111.2z" fill="#00f1ff" stroke="#00f1ff"/><path d="M173.7,86.1 179.2,85.2 174.9,82 169.3,82.9z" fill="#13ff00" stroke="#13ff00"/><path d="M58.6,77.2 64.4,74.5 60.5,72.2 54.7,74.8z" fill="#50ff00" stroke="#50ff00"/><path d="M212.3,101 217.7,100.4 213.2,96.8 207.9,97.3z" fill="#00ff58" stroke="#00ff58"/><path d="M226.7,107.8 231.9,107.4 227.4,103.6 222.2,104.1z" fill="#00ffa4" stroke="#00ffa4"/><path d="M84,74.5 89.8,72.3 85.8,69.9 80,72z" fill="#84ff00" stroke="#84ff00"/><path d="M163.7,83.9 169.3,82.9 165,79.8 159.4,80.8z" fill="#25ff00" stroke="#25ff00"/><path d="M188.1,91.8 193.5,91 189.1,87.7 183.6,88.4z" fill="#00ff10" stroke="#00ff10"/><path d="M93.9,74.9 99.7,72.8 95.6,70.3 89.8,72.3z" fill="#85ff00" stroke="#85ff00"/><path d="M68.3,76.9 74.1,74.4 70.2,72 64.4,74.5z" fill="#60ff00" stroke="#60ff00"/><path d="M245.5,119.1 250.7,118.6 246.1,114.7 241,115.1z" fill="#00c9ff" stroke="#00c9ff"/><path d="M52.7,80.1 58.6,77.2 54.7,74.8 48.9,77.7z" fill="#44ff00" stroke="#44ff00"/><path d="M153.7,81.9 159.4,80.8 155.1,77.7 149.4,78.9z" fill="#34ff00" stroke="#34ff00"/><path d="M202.4,98 207.9,97.3 203.4,93.8 198,94.5z" fill="#00ff3a" stroke="#00ff3a"/><path d="M103.8,75.5 109.6,73.6 105.5,71 99.7,72.8z" fill="#7eff00" stroke="#7eff00"/><path d="M231.2,111.7 236.5,111.2 231.9,107.4 226.7,107.8z" fill="#00ffc9" stroke="#00ffc9"/><path d="M216.8,104.7 222.2,104.1 217.7,100.4 212.3,101z" fill="#00ff6a" stroke="#00ff6a"/><path d="M143.7,80.2 149.4,78.9 145.1,75.9 139.4,77.2z" fill="#41ff00" stroke="#41ff00"/><path d="M178.1,89.4 183.6,88.4 179.2,85.2 173.7,86.1z" fill="#07ff00" stroke="#07ff00"/><path d="M113.7,76.3 119.5,74.6 115.4,71.9 109.6,73.6z" fill="#71ff00" stroke="#71ff00"/><path d="M133.7,78.7 139.4,77.2 135.2,74.3 129.5,75.8z" fill="#4cff00" stroke="#4cff00"/><path d="M123.7,77.4 129.5,75.8 125.3,73 119.5,74.6z" fill="#5cff00" stroke="#5cff00"/><path d="M78.1,76.9 84,74.5 80,72 74.1,74.4z" fill="#6dff00" stroke="#6dff00"/><path d="M62.5,79.7 68.3,76.9 64.4,74.5 58.6,77.2z" fill="#4cff00" stroke="#4cff00"/><path d="M192.5,95.3 198,94.5 193.5,91 188.1,91.8z" fill="#00ff1f" stroke="#00ff1f"/><path d="M168.1,87.1 173.7,86.1 169.3,82.9 163.7,83.9z" fill="#1aff00" stroke="#1aff00"/><path d="M88,77.2 93.9,74.9 89.8,72.3 84,74.5z" fill="#73ff00" stroke="#73ff00"/><path d="M235.8,115.6 241,115.1 236.5,111.2 231.2,111.7z" fill="#00ffef" stroke="#00ffef"/><path d="M206.9,101.7 212.3,101 207.9,97.3 202.4,98z" fill="#00ff4c" stroke="#00ff4c"/><path d="M221.4,108.5 226.7,107.8 222.2,104.1 216.8,104.7z" fill="#00ff89" stroke="#00ff89"/><path d="M158.1,85.1 163.7,83.9 159.4,80.8 153.7,81.9z" fill="#2aff00" stroke="#2aff00"/><path d="M98,77.6 103.8,75.5 99.7,72.8 93.9,74.9z" fill="#72ff00" stroke="#72ff00"/><path d="M72.3,79.5 78.1,76.9 74.1,74.4 68.3,76.9z" fill="#52ff00" stroke="#52ff00"/><path d="M182.5,92.8 188.1,91.8 183.6,88.4 178.1,89.4z" fill="#00ff06" stroke="#00ff06"/><path d="M148,83.3 153.7,81.9 149.4,78.9 143.7,80.2z" fill="#38ff00" stroke="#38ff00"/><path d="M56.6,82.6 62.5,79.7 58.6,77.2 52.7,80.1z" fill="#40ff00" stroke="#40ff00"/><path d="M107.9,78.3 113.7,76.3 109.6,73.6 103.8,75.5z" fill="#69ff00" stroke="#69ff00"/><path d="M138,81.7 143.7,80.2 139.4,77.2 133.7,78.7z" fill="#43ff00" stroke="#43ff00"/><path d="M117.9,79.2 123.7,77.4 119.5,74.6 113.7,76.3z" fill="#59ff00" stroke="#59ff00"/><path d="M128,80.3 133.7,78.7 129.5,75.8 123.7,77.4z" fill="#4dff00" stroke="#4dff00"/><path d="M197,98.9 202.4,98 198,94.5 192.5,95.3z" fill="#00ff30" stroke="#00ff30"/><path d="M240.3,119.6 245.5,119.1 241,115.1 235.8,115.6z" fill="#00e7ff" stroke="#00e7ff"/><path d="M82.2,79.6 88,77.2 84,74.5 78.1,76.9z" fill="#5cff00" stroke="#5cff00"/><path d="M172.5,90.5 178.1,89.4 173.7,86.1 168.1,87.1z" fill="#0eff00" stroke="#0eff00"/><path d="M211.5,105.4 216.8,104.7 212.3,101 206.9,101.7z" fill="#00ff5e" stroke="#00ff5e"/><path d="M225.9,112.3 231.2,111.7 226.7,107.8 221.4,108.5z" fill="#00ffae" stroke="#00ffae"/><path d="M66.4,82.3 72.3,79.5 68.3,76.9 62.5,79.7z" fill="#47ff00" stroke="#47ff00"/><path d="M92.1,79.9 98,77.6 93.9,74.9 88,77.2z" fill="#60ff00" stroke="#60ff00"/><path d="M162.4,88.4 168.1,87.1 163.7,83.9 158.1,85.1z" fill="#1eff00" stroke="#1eff00"/><path d="M187,96.3 192.5,95.3 188.1,91.8 182.5,92.8z" fill="#00ff16" stroke="#00ff16"/><path d="M102.1,80.4 107.9,78.3 103.8,75.5 98,77.6z" fill="#5cff00" stroke="#5cff00"/><path d="M152.4,86.5 158.1,85.1 153.7,81.9 148,83.3z" fill="#2dff00" stroke="#2dff00"/><path d="M76.3,82.2 82.2,79.6 78.1,76.9 72.3,79.5z" fill="#4cff00" stroke="#4cff00"/><path d="M201.5,102.6 206.9,101.7 202.4,98 197,98.9z" fill="#00ff41" stroke="#00ff41"/><path d="M112.1,81.2 117.9,79.2 113.7,76.3 107.9,78.3z" fill="#51ff00" stroke="#51ff00"/><path d="M142.3,84.9 148,83.3 143.7,80.2 138,81.7z" fill="#39ff00" stroke="#39ff00"/><path d="M230.5,116.3 235.8,115.6 231.2,111.7 225.9,112.3z" fill="#00ffd5" stroke="#00ffd5"/><path d="M60.6,85.3 66.4,82.3 62.5,79.7 56.6,82.6z" fill="#3bff00" stroke="#3bff00"/><path d="M216,109.3 221.4,108.5 216.8,104.7 211.5,105.4z" fill="#00ff71" stroke="#00ff71"/><path d="M122.2,82.2 128,80.3 123.7,77.4 117.9,79.2z" fill="#4cff00" stroke="#4cff00"/><path d="M132.2,83.4 138,81.7 133.7,78.7 128,80.3z" fill="#44ff00" stroke="#44ff00"/><path d="M176.9,94 182.5,92.8 178.1,89.4 172.5,90.5z" fill="#01ff00" stroke="#01ff00"/><path d="M86.3,82.4 92.1,79.9 88,77.2 82.2,79.6z" fill="#4fff00" stroke="#4fff00"/><path d="M166.9,91.8 172.5,90.5 168.1,87.1 162.4,88.4z" fill="#12ff00" stroke="#12ff00"/><path d="M191.5,100 197,98.9 192.5,95.3 187,96.3z" fill="#00ff27" stroke="#00ff27"/><path d="M70.5,85 76.3,82.2 72.3,79.5 66.4,82.3z" fill="#42ff00" stroke="#42ff00"/><path d="M96.2,82.8 102.1,80.4 98,77.6 92.1,79.9z" fill="#4fff00" stroke="#4fff00"/><path d="M235.1,120.4 240.3,119.6 235.8,115.6 230.5,116.3z" fill="#00fffd" stroke="#00fffd"/><path d="M206,106.4 211.5,105.4 206.9,101.7 201.5,102.6z" fill="#00ff53" stroke="#00ff53"/><path d="M156.8,89.8 162.4,88.4 158.1,85.1 152.4,86.5z" fill="#22ff00" stroke="#22ff00"/><path d="M220.5,113.2 225.9,112.3 221.4,108.5 216,109.3z" fill="#00ff97" stroke="#00ff97"/><path d="M106.3,83.4 112.1,81.2 107.9,78.3 102.1,80.4z" fill="#4dff00" stroke="#4dff00"/><path d="M146.7,88.1 152.4,86.5 148,83.3 142.3,84.9z" fill="#2fff00" stroke="#2fff00"/><path d="M181.4,97.5 187,96.3 182.5,92.8 176.9,94z" fill="#00ff0f" stroke="#00ff0f"/><path d="M116.3,84.2 122.2,82.2 117.9,79.2 112.1,81.2z" fill="#49ff00" stroke="#49ff00"/><path d="M80.4,85 86.3,82.4 82.2,79.6 76.3,82.2z" fill="#46ff00" stroke="#46ff00"/><path d="M136.5,86.6 142.3,84.9 138,81.7 132.2,83.4z" fill="#3aff00" stroke="#3aff00"/><path d="M126.4,85.3 132.2,83.4 128,80.3 122.2,82.2z" fill="#42ff00" stroke="#42ff00"/><path d="M64.6,88 70.5,85 66.4,82.3 60.6,85.3z" fill="#35ff00" stroke="#35ff00"/><path d="M196,103.7 201.5,102.6 197,98.9 191.5,100z" fill="#00ff38" stroke="#00ff38"/><path d="M171.3,95.3 176.9,94 172.5,90.5 166.9,91.8z" fill="#06ff00" stroke="#06ff00"/><path d="M90.4,85.3 96.2,82.8 92.1,79.9 86.3,82.4z" fill="#47ff00" stroke="#47ff00"/><path d="M210.5,110.2 216,109.3 211.5,105.4 206,106.4z" fill="#00ff66" stroke="#00ff66"/><path d="M225.1,117.2 230.5,116.3 225.9,112.3 220.5,113.2z" fill="#00ffbe" stroke="#00ffbe"/><path d="M161.2,93.3 166.9,91.8 162.4,88.4 156.8,89.8z" fill="#15ff00" stroke="#15ff00"/><path d="M74.5,87.9 80.4,85 76.3,82.2 70.5,85z" fill="#3bff00" stroke="#3bff00"/><path d="M100.4,85.7 106.3,83.4 102.1,80.4 96.2,82.8z" fill="#47ff00" stroke="#47ff00"/><path d="M185.9,101.2 191.5,100 187,96.3 181.4,97.5z" fill="#00ff20" stroke="#00ff20"/><path d="M151,91.5 156.8,89.8 152.4,86.5 146.7,88.1z" fill="#23ff00" stroke="#23ff00"/><path d="M110.5,86.4 116.3,84.2 112.1,81.2 106.3,83.4z" fill="#44ff00" stroke="#44ff00"/><path d="M140.9,89.9 146.7,88.1 142.3,84.9 136.5,86.6z" fill="#2fff00" stroke="#2fff00"/><path d="M120.6,87.4 126.4,85.3 122.2,82.2 116.3,84.2z" fill="#3fff00" stroke="#3fff00"/><path d="M200.5,107.5 206,106.4 201.5,102.6 196,103.7z" fill="#00ff4b" stroke="#00ff4b"/><path d="M130.7,88.5 136.5,86.6 132.2,83.4 126.4,85.3z" fill="#38ff00" stroke="#38ff00"/><path d="M84.5,88 90.4,85.3 86.3,82.4 80.4,85z" fill="#3eff00" stroke="#3eff00"/><path d="M229.7,121.3 235.1,120.4 230.5,116.3 225.1,117.2z" fill="#00ffe6" stroke="#00ffe6"/><path d="M215.1,114.2 220.5,113.2 216,109.3 210.5,110.2z" fill="#00ff83" stroke="#00ff83"/><path d="M175.8,98.9 181.4,97.5 176.9,94 171.3,95.3z" fill="#00ff0a" stroke="#00ff0a"/><path d="M68.6,90.9 74.5,87.9 70.5,85 64.6,88z" fill="#2eff00" stroke="#2eff00"/><path d="M94.5,88.3 100.4,85.7 96.2,82.8 90.4,85.3z" fill="#3fff00" stroke="#3fff00"/><path d="M165.6,96.8 171.3,95.3 166.9,91.8 161.2,93.3z" fill="#08ff00" stroke="#08ff00"/><path d="M190.4,104.9 196,103.7 191.5,100 185.9,101.2z" fill="#00ff31" stroke="#00ff31"/><path d="M104.6,88.8 110.5,86.4 106.3,83.4 100.4,85.7z" fill="#3eff00" stroke="#3eff00"/><path d="M155.4,94.9 161.2,93.3 156.8,89.8 151,91.5z" fill="#17ff00" stroke="#17ff00"/><path d="M78.6,90.9 84.5,88 80.4,85 74.5,87.9z" fill="#33ff00" stroke="#33ff00"/><path d="M205,111.4 210.5,110.2 206,106.4 200.5,107.5z" fill="#00ff5e" stroke="#00ff5e"/><path d="M219.7,118.2 225.1,117.2 220.5,113.2 215.1,114.2z" fill="#00ffab" stroke="#00ffab"/><path d="M114.8,89.6 120.6,87.4 116.3,84.2 110.5,86.4z" fill="#3bff00" stroke="#3bff00"/><path d="M145.3,93.3 151,91.5 146.7,88.1 140.9,89.9z" fill="#23ff00" stroke="#23ff00"/><path d="M124.9,90.6 130.7,88.5 126.4,85.3 120.6,87.4z" fill="#35ff00" stroke="#35ff00"/><path d="M180.2,102.6 185.9,101.2 181.4,97.5 175.8,98.9z" fill="#00ff1b" stroke="#00ff1b"/><path d="M135.1,91.8 140.9,89.9 136.5,86.6 130.7,88.5z" fill="#2dff00" stroke="#2dff00"/><path d="M88.7,91 94.5,88.3 90.4,85.3 84.5,88z" fill="#36ff00" stroke="#36ff00"/><path d="M194.9,108.8 200.5,107.5 196,103.7 190.4,104.9z" fill="#00ff44" stroke="#00ff44"/><path d="M72.7,94 78.6,90.9 74.5,87.9 68.6,90.9z" fill="#26ff00" stroke="#26ff00"/><path d="M170.1,100.4 175.8,98.9 171.3,95.3 165.6,96.8z" fill="#00ff06" stroke="#00ff06"/><path d="M98.8,91.4 104.6,88.8 100.4,85.7 94.5,88.3z" fill="#36ff00" stroke="#36ff00"/><path d="M209.6,115.4 215.1,114.2 210.5,110.2 205,111.4z" fill="#00ff74" stroke="#00ff74"/><path d="M224.3,122.4 229.7,121.3 225.1,117.2 219.7,118.2z" fill="#00ffd4" stroke="#00ffd4"/><path d="M159.9,98.5 165.6,96.8 161.2,93.3 155.4,94.9z" fill="#0aff00" stroke="#0aff00"/><path d="M108.9,92.1 114.8,89.6 110.5,86.4 104.6,88.8z" fill="#34ff00" stroke="#34ff00"/><path d="M184.8,106.4 190.4,104.9 185.9,101.2 180.2,102.6z" fill="#00ff2d" stroke="#00ff2d"/><path d="M149.7,96.8 155.4,94.9 151,91.5 145.3,93.3z" fill="#16ff00" stroke="#16ff00"/><path d="M82.8,94 88.7,91 84.5,88 78.6,90.9z" fill="#2bff00" stroke="#2bff00"/><path d="M119.1,92.9 124.9,90.6 120.6,87.4 114.8,89.6z" fill="#30ff00" stroke="#30ff00"/><path d="M139.5,95.3 145.3,93.3 140.9,89.9 135.1,91.8z" fill="#21ff00" stroke="#21ff00"/><path d="M129.2,94 135.1,91.8 130.7,88.5 124.9,90.6z" fill="#2aff00" stroke="#2aff00"/><path d="M199.5,112.7 205,111.4 200.5,107.5 194.9,108.8z" fill="#00ff58" stroke="#00ff58"/><path d="M174.6,104.2 180.2,102.6 175.8,98.9 170.1,100.4z" fill="#00ff18" stroke="#00ff18"/><path d="M92.9,94.2 98.8,91.4 94.5,88.3 88.7,91z" fill="#2cff00" stroke="#2cff00"/><path d="M214.2,119.5 219.7,118.2 215.1,114.2 209.6,115.4z" fill="#00ff9c" stroke="#00ff9c"/><path d="M76.9,97.1 82.8,94 78.6,90.9 72.7,94z" fill="#1eff00" stroke="#1eff00"/><path d="M164.3,102.2 170.1,100.4 165.6,96.8 159.9,98.5z" fill="#00ff05" stroke="#00ff05"/><path d="M103,94.7 108.9,92.1 104.6,88.8 98.8,91.4z" fill="#2cff00" stroke="#2cff00"/><path d="M189.3,110.2 194.9,108.8 190.4,104.9 184.8,106.4z" fill="#00ff3f" stroke="#00ff3f"/><path d="M154.1,100.4 159.9,98.5 155.4,94.9 149.7,96.8z" fill="#09ff00" stroke="#09ff00"/><path d="M113.2,95.4 119.1,92.9 114.8,89.6 108.9,92.1z" fill="#29ff00" stroke="#29ff00"/><path d="M204,116.7 209.6,115.4 205,111.4 199.5,112.7z" fill="#00ff6c" stroke="#00ff6c"/><path d="M143.9,98.8 149.7,96.8 145.3,93.3 139.5,95.3z" fill="#14ff00" stroke="#14ff00"/><path d="M123.4,96.3 129.2,94 124.9,90.6 119.1,92.9z" fill="#25ff00" stroke="#25ff00"/><path d="M87,97.2 92.9,94.2 88.7,91 82.8,94z" fill="#21ff00" stroke="#21ff00"/><path d="M133.6,97.4 139.5,95.3 135.1,91.8 129.2,94z" fill="#1eff00" stroke="#1eff00"/><path d="M218.8,123.6 224.3,122.4 219.7,118.2 214.2,119.5z" fill="#00ffc5" stroke="#00ffc5"/><path d="M179.1,108 184.8,106.4 180.2,102.6 174.6,104.2z" fill="#00ff2a" stroke="#00ff2a"/><path d="M97.1,97.5 103,94.7 98.8,91.4 92.9,94.2z" fill="#22ff00" stroke="#22ff00"/><path d="M168.8,105.9 174.6,104.2 170.1,100.4 164.3,102.2z" fill="#00ff17" stroke="#00ff17"/><path d="M193.8,114.2 199.5,112.7 194.9,108.8 189.3,110.2z" fill="#00ff53" stroke="#00ff53"/><path d="M81,100.3 87,97.2 82.8,94 76.9,97.1z" fill="#14ff00" stroke="#14ff00"/><path d="M107.3,98 113.2,95.4 108.9,92.1 103,94.7z" fill="#21ff00" stroke="#21ff00"/><path d="M208.6,120.9 214.2,119.5 209.6,115.4 204,116.7z" fill="#00ff90" stroke="#00ff90"/><path d="M158.6,104.1 164.3,102.2 159.9,98.5 154.1,100.4z" fill="#00ff06" stroke="#00ff06"/><path d="M117.5,98.8 123.4,96.3 119.1,92.9 113.2,95.4z" fill="#1eff00" stroke="#1eff00"/><path d="M148.3,102.4 154.1,100.4 149.7,96.8 143.9,98.8z" fill="#07ff00" stroke="#07ff00"/><path d="M183.6,111.9 189.3,110.2 184.8,106.4 179.1,108z" fill="#00ff3d" stroke="#00ff3d"/><path d="M127.7,99.8 133.6,97.4 129.2,94 123.4,96.3z" fill="#18ff00" stroke="#18ff00"/><path d="M138,101 143.9,98.8 139.5,95.3 133.6,97.4z" fill="#11ff00" stroke="#11ff00"/><path d="M91.2,100.5 97.1,97.5 92.9,94.2 87,97.2z" fill="#16ff00" stroke="#16ff00"/><path d="M198.4,118.3 204,116.7 199.5,112.7 193.8,114.2z" fill="#00ff68" stroke="#00ff68"/><path d="M173.3,109.8 179.1,108 174.6,104.2 168.8,105.9z" fill="#00ff29" stroke="#00ff29"/><path d="M101.4,100.9 107.3,98 103,94.7 97.1,97.5z" fill="#17ff00" stroke="#17ff00"/><path d="M213.2,125.1 218.8,123.6 214.2,119.5 208.6,120.9z" fill="#00ffba" stroke="#00ffba"/><path d="M163.1,107.9 168.8,105.9 164.3,102.2 158.6,104.1z" fill="#00ff18" stroke="#00ff18"/><path d="M85.3,103.7 91.2,100.5 87,97.2 81,100.3z" fill="#09ff00" stroke="#09ff00"/><path d="M111.6,101.5 117.5,98.8 113.2,95.4 107.3,98z" fill="#15ff00" stroke="#15ff00"/><path d="M188.2,115.9 193.8,114.2 189.3,110.2 183.6,111.9z" fill="#00ff51" stroke="#00ff51"/><path d="M152.7,106.2 158.6,104.1 154.1,100.4 148.3,102.4z" fill="#00ff09" stroke="#00ff09"/><path d="M121.9,102.3 127.7,99.8 123.4,96.3 117.5,98.8z" fill="#11ff00" stroke="#11ff00"/><path d="M142.4,104.7 148.3,102.4 143.9,98.8 138,101z" fill="#03ff00" stroke="#03ff00"/><path d="M132.1,103.4 138,101 133.6,97.4 127.7,99.8z" fill="#0bff00" stroke="#0bff00"/><path d="M203,122.4 208.6,120.9 204,116.7 198.4,118.3z" fill="#00ff88" stroke="#00ff88"/><path d="M95.4,103.9 101.4,100.9 97.1,97.5 91.2,100.5z" fill="#0bff00" stroke="#0bff00"/><path d="M177.9,113.7 183.6,111.9 179.1,108 173.3,109.8z" fill="#00ff3c" stroke="#00ff3c"/><path d="M105.7,104.4 111.6,101.5 107.3,98 101.4,100.9z" fill="#0bff00" stroke="#0bff00"/><path d="M167.6,111.8 173.3,109.8 168.8,105.9 163.1,107.9z" fill="#00ff2a" stroke="#00ff2a"/><path d="M192.7,120 198.4,118.3 193.8,114.2 188.2,115.9z" fill="#00ff65" stroke="#00ff65"/><path d="M115.9,105.1 121.9,102.3 117.5,98.8 111.6,101.5z" fill="#09ff00" stroke="#09ff00"/><path d="M157.2,110 163.1,107.9 158.6,104.1 152.7,106.2z" fill="#00ff1b" stroke="#00ff1b"/><path d="M89.5,107.2 95.4,103.9 91.2,100.5 85.3,103.7z" fill="#00ff03" stroke="#00ff03"/><path d="M207.6,126.7 213.2,125.1 208.6,120.9 203,122.4z" fill="#00ffb2" stroke="#00ffb2"/><path d="M126.2,106 132.1,103.4 127.7,99.8 121.9,102.3z" fill="#04ff00" stroke="#04ff00"/><path d="M146.9,108.5 152.7,106.2 148.3,102.4 142.4,104.7z" fill="#00ff0e" stroke="#00ff0e"/><path d="M136.6,107.1 142.4,104.7 138,101 132.1,103.4z" fill="#00ff03" stroke="#00ff03"/><path d="M182.4,117.8 188.2,115.9 183.6,111.9 177.9,113.7z" fill="#00ff50" stroke="#00ff50"/><path d="M99.7,107.5 105.7,104.4 101.4,100.9 95.4,103.9z" fill="#00ff01" stroke="#00ff01"/><path d="M197.4,124.2 203,122.4 198.4,118.3 192.7,120z" fill="#00ff84" stroke="#00ff84"/><path d="M172.1,115.8 177.9,113.7 173.3,109.8 167.6,111.8z" fill="#00ff3e" stroke="#00ff3e"/><path d="M110,108 115.9,105.1 111.6,101.5 105.7,104.4z" fill="#00ff02" stroke="#00ff02"/><path d="M161.8,113.9 167.6,111.8 163.1,107.9 157.2,110z" fill="#00ff2d" stroke="#00ff2d"/><path d="M120.3,108.8 126.2,106 121.9,102.3 115.9,105.1z" fill="#00ff06" stroke="#00ff06"/><path d="M151.4,112.3 157.2,110 152.7,106.2 146.9,108.5z" fill="#00ff20" stroke="#00ff20"/><path d="M93.8,110.8 99.7,107.5 95.4,103.9 89.5,107.2z" fill="#00ff11" stroke="#00ff11"/><path d="M187,121.9 192.7,120 188.2,115.9 182.4,117.8z" fill="#00ff65" stroke="#00ff65"/><path d="M130.7,109.7 136.6,107.1 132.1,103.4 126.2,106z" fill="#00ff0c" stroke="#00ff0c"/><path d="M141,110.9 146.9,108.5 142.4,104.7 136.6,107.1z" fill="#00ff15" stroke="#00ff15"/><path d="M202,128.5 207.6,126.7 203,122.4 197.4,124.2z" fill="#00ffae" stroke="#00ffae"/><path d="M104.1,111.1 110,108 105.7,104.4 99.7,107.5z" fill="#00ff11" stroke="#00ff11"/><path d="M176.7,119.8 182.4,117.8 177.9,113.7 172.1,115.8z" fill="#00ff52" stroke="#00ff52"/><path d="M114.4,111.7 120.3,108.8 115.9,105.1 110,108z" fill="#00ff12" stroke="#00ff12"/><path d="M166.3,118 172.1,115.8 167.6,111.8 161.8,113.9z" fill="#00ff41" stroke="#00ff41"/><path d="M191.6,126.1 197.4,124.2 192.7,120 187,121.9z" fill="#00ff84" stroke="#00ff84"/><path d="M124.7,112.6 130.7,109.7 126.2,106 120.3,108.8z" fill="#00ff17" stroke="#00ff17"/><path d="M155.9,116.3 161.8,113.9 157.2,110 151.4,112.3z" fill="#00ff33" stroke="#00ff33"/><path d="M135.1,113.6 141,110.9 136.6,107.1 130.7,109.7z" fill="#00ff1d" stroke="#00ff1d"/><path d="M145.5,114.8 151.4,112.3 146.9,108.5 141,110.9z" fill="#00ff27" stroke="#00ff27"/><path d="M98.1,114.4 104.1,111.1 99.7,107.5 93.8,110.8z" fill="#00ff21" stroke="#00ff21"/><path d="M181.3,124 187,121.9 182.4,117.8 176.7,119.8z" fill="#00ff67" stroke="#00ff67"/><path d="M108.4,114.9 114.4,111.7 110,108 104.1,111.1z" fill="#00ff21" stroke="#00ff21"/><path d="M170.9,122.1 176.7,119.8 172.1,115.8 166.3,118z" fill="#00ff55" stroke="#00ff55"/><path d="M196.3,130.4 202,128.5 197.4,124.2 191.6,126.1z" fill="#00ffae" stroke="#00ffae"/><path d="M118.8,115.5 124.7,112.6 120.3,108.8 114.4,111.7z" fill="#00ff23" stroke="#00ff23"/><path d="M160.4,120.3 166.3,118 161.8,113.9 155.9,116.3z" fill="#00ff46" stroke="#00ff46"/><path d="M129.2,116.4 135.1,113.6 130.7,109.7 124.7,112.6z" fill="#00ff28" stroke="#00ff28"/><path d="M150,118.8 155.9,116.3 151.4,112.3 145.5,114.8z" fill="#00ff3a" stroke="#00ff3a"/><path d="M139.6,117.5 145.5,114.8 141,110.9 135.1,113.6z" fill="#00ff30" stroke="#00ff30"/><path d="M185.9,128.3 191.6,126.1 187,121.9 181.3,124z" fill="#00ff88" stroke="#00ff88"/><path d="M102.5,118.2 108.4,114.9 104.1,111.1 98.1,114.4z" fill="#00ff31" stroke="#00ff31"/><path d="M175.4,126.3 181.3,124 176.7,119.8 170.9,122.1z" fill="#00ff6b" stroke="#00ff6b"/><path d="M112.9,118.7 118.8,115.5 114.4,111.7 108.4,114.9z" fill="#00ff32" stroke="#00ff32"/><path d="M165,124.5 170.9,122.1 166.3,118 160.4,120.3z" fill="#00ff5b" stroke="#00ff5b"/><path d="M123.2,119.5 129.2,116.4 124.7,112.6 118.8,115.5z" fill="#00ff35" stroke="#00ff35"/><path d="M154.6,122.9 160.4,120.3 155.9,116.3 150,118.8z" fill="#00ff4e" stroke="#00ff4e"/><path d="M133.7,120.4 139.6,117.5 135.1,113.6 129.2,116.4z" fill="#00ff3b" stroke="#00ff3b"/><path d="M190.5,132.6 196.3,130.4 191.6,126.1 185.9,128.3z" fill="#00ffb2" stroke="#00ffb2"/><path d="M144.1,121.6 150,118.8 145.5,114.8 139.6,117.5z" fill="#00ff43" stroke="#00ff43"/><path d="M106.9,122.1 112.9,118.7 108.4,114.9 102.5,118.2z" fill="#00ff43" stroke="#00ff43"/><path d="M180.1,130.6 185.9,128.3 181.3,124 175.4,126.3z" fill="#00ff8f" stroke="#00ff8f"/><path d="M117.3,122.7 123.2,119.5 118.8,115.5 112.9,118.7z" fill="#00ff44" stroke="#00ff44"/><path d="M169.6,128.7 175.4,126.3 170.9,122.1 165,124.5z" fill="#00ff70" stroke="#00ff70"/><path d="M127.7,123.5 133.7,120.4 129.2,116.4 123.2,119.5z" fill="#00ff48" stroke="#00ff48"/><path d="M159.1,127.1 165,124.5 160.4,120.3 154.6,122.9z" fill="#00ff63" stroke="#00ff63"/><path d="M138.2,124.5 144.1,121.6 139.6,117.5 133.7,120.4z" fill="#00ff4e" stroke="#00ff4e"/><path d="M148.6,125.7 154.6,122.9 150,118.8 144.1,121.6z" fill="#00ff57" stroke="#00ff57"/><path d="M184.7,134.9 190.5,132.6 185.9,128.3 180.1,130.6z" fill="#00ffba" stroke="#00ffba"/><path d="M111.3,126.1 117.3,122.7 112.9,118.7 106.9,122.1z" fill="#00ff55" stroke="#00ff55"/><path d="M174.2,133.1 180.1,130.6 175.4,126.3 169.6,128.7z" fill="#00ff9a" stroke="#00ff9a"/><path d="M121.8,126.7 127.7,123.5 123.2,119.5 117.3,122.7z" fill="#00ff57" stroke="#00ff57"/><path d="M163.7,131.4 169.6,128.7 165,124.5 159.1,127.1z" fill="#00ff7f" stroke="#00ff7f"/><path d="M132.2,127.6 138.2,124.5 133.7,120.4 127.7,123.5z" fill="#00ff5c" stroke="#00ff5c"/><path d="M153.2,129.9 159.1,127.1 154.6,122.9 148.6,125.7z" fill="#00ff6c" stroke="#00ff6c"/><path d="M142.7,128.6 148.6,125.7 144.1,121.6 138.2,124.5z" fill="#00ff63" stroke="#00ff63"/><path d="M115.8,130.2 121.8,126.7 117.3,122.7 111.3,126.1z" fill="#00ff68" stroke="#00ff68"/><path d="M178.8,137.4 184.7,134.9 180.1,130.6 174.2,133.1z" fill="#00ffc6" stroke="#00ffc6"/><path d="M126.2,130.9 132.2,127.6 127.7,123.5 121.8,126.7z" fill="#00ff6b" stroke="#00ff6b"/><path d="M168.3,135.7 174.2,133.1 169.6,128.7 163.7,131.4z" fill="#00ffa9" stroke="#00ffa9"/><path d="M136.7,131.8 142.7,128.6 138.2,124.5 132.2,127.6z" fill="#00ff70" stroke="#00ff70"/><path d="M157.8,134.2 163.7,131.4 159.1,127.1 153.2,129.9z" fill="#00ff92" stroke="#00ff92"/><path d="M147.3,132.9 153.2,129.9 148.6,125.7 142.7,128.6z" fill="#00ff7f" stroke="#00ff7f"/><path d="M120.3,134.3 126.2,130.9 121.8,126.7 115.8,130.2z" fill="#00ff88" stroke="#00ff88"/><path d="M172.9,140.2 178.8,137.4 174.2,133.1 168.3,135.7z" fill="#00ffd5" stroke="#00ffd5"/><path d="M130.8,135.1 136.7,131.8 132.2,127.6 126.2,130.9z" fill="#00ff8e" stroke="#00ff8e"/><path d="M162.4,138.6 168.3,135.7 163.7,131.4 157.8,134.2z" fill="#00ffbc" stroke="#00ffbc"/><path d="M141.3,136 147.3,132.9 142.7,128.6 136.7,131.8z" fill="#00ff99" stroke="#00ff99"/><path d="M151.8,137.2 157.8,134.2 153.2,129.9 147.3,132.9z" fill="#00ffa8" stroke="#00ffa8"/><path d="M124.8,138.6 130.8,135.1 126.2,130.9 120.3,134.3z" fill="#00ffaf" stroke="#00ffaf"/><path d="M135.3,139.4 141.3,136 136.7,131.8 130.8,135.1z" fill="#00ffb6" stroke="#00ffb6"/><path d="M167,143 172.9,140.2 168.3,135.7 162.4,138.6z" fill="#00ffe8" stroke="#00ffe8"/><path d="M145.9,140.4 151.8,137.2 147.3,132.9 141.3,136z" fill="#00ffc2" stroke="#00ffc2"/><path d="M156.4,141.6 162.4,138.6 157.8,134.2 151.8,137.2z" fill="#00ffd3" stroke="#00ffd3"/><path d="M129.3,142.9 135.3,139.4 130.8,135.1 124.8,138.6z" fill="#00ffd8" stroke="#00ffd8"/><path d="M139.9,143.8 145.9,140.4 141.3,136 135.3,139.4z" fill="#00ffe1" stroke="#00ffe1"/><path d="M150.5,144.9 156.4,141.6 151.8,137.2 145.9,140.4z" fill="#00ffee" stroke="#00ffee"/><path d="M161.1,146.1 167,143 162.4,138.6 156.4,141.6z" fill="#00ffff" stroke="#00ffff"/><path d="M133.9,147.4 139.9,143.8 135.3,139.4 129.3,142.9z" fill="#00fbff" stroke="#00fbff"/><path d="M144.5,148.3 150.5,144.9 145.9,140.4 139.9,143.8z" fill="#00f2ff" stroke="#00f2ff"/><path d="M155.1,149.4 161.1,146.1 156.4,141.6 150.5,144.9z" fill="#00e4ff" stroke="#00e4ff"/><path d="M138.5,151.9 144.5,148.3 139.9,143.8 133.9,147.4z" fill="#00cfff" stroke="#00cfff"/><path d="M149.1,152.8 155.1,149.4 150.5,144.9 144.5,148.3z" fill="#00c5ff" stroke="#00c5ff"/><path d="M143.1,156.5 149.1,152.8 144.5,148.3 138.5,151.9z" fill="#00a2ff" stroke="#00a2ff"/></g>
<path d="M143.1,156.5 138.5,151.9 133.9,147.4 129.3,142.9 124.8,138.6 120.3,134.3 115.8,130.2 111.3,126.1 106.9,122.1 102.5,118.2 98.1,114.4 93.8,110.8 89.5,107.2 85.3,103.7 81,100.3 76.9,97.1 72.7,94 68.6,90.9 64.6,88 60.6,85.3 56.6,82.6 52.7,80.1 48.9,77.7 45.1,75.4 41.3,73.2 37.6,71.2M143.1,156.5 149.1,152.8 155.1,149.4 161.1,146.1 167,143 172.9,140.2 178.8,137.4 184.7,134.9 190.5,132.6 196.3,130.4 202,128.5 207.6,126.7 213.2,125.1 218.8,123.6 224.3,122.4 229.7,121.3 235.1,120.4 240.3,119.6 245.5,119.1 250.7,118.6 255.7,118.4 260.7,118.3 265.6,118.4 270.4,118.6 275.2,119 279.8,119.5M146.1,154.6 141.5,150 136.9,145.6 132.3,141.1 127.8,136.8 123.3,132.6 118.8,128.4 114.3,124.4 109.9,120.4 105.5,116.5 101.1,112.8 96.8,109.1 92.5,105.5 88.2,102.1 84,98.7 79.8,95.5 75.7,92.4 71.6,89.4 67.5,86.5 63.5,83.8 59.6,81.1 55.6,78.6 51.8,76.2 48,74 44.2,71.8 40.5,69.8M140.8,154.1 146.8,150.5 152.8,147.1 158.8,143.9 164.7,140.8 170.6,137.9 176.5,135.2 182.4,132.7 188.2,130.4 193.9,128.3 199.7,126.3 205.3,124.5 210.9,122.9 216.5,121.5 222,120.3 227.4,119.2 232.8,118.3 238.1,117.6 243.3,117.1 248.4,116.7 253.5,116.4 258.5,116.4 263.4,116.4 268.2,116.7 272.9,117.1 277.6,117.6M149.1,152.8 144.5,148.3 139.9,143.8 135.3,139.4 130.8,135.1 126.2,130.9 121.8,126.7 117.3,122.7 112.9,118.7 108.4,114.9 104.1,111.1 99.7,107.5 95.4,103.9 91.2,100.5 87,97.2 82.8,94 78.6,90.9 74.5,87.9 70.5,85 66.4,82.3 62.5,79.7 58.6,77.2 54.7,74.8 50.9,72.6 47.1,70.5 43.4,68.5M138.5,151.9 144.5,148.3 150.5,144.9 156.4,141.6 162.4,138.6 168.3,135.7 174.2,133.1 180.1,130.6 185.9,128.3 191.6,126.1 197.4,124.2 203,122.4 208.6,120.9 214.2,119.5 219.7,118.2 225.1,117.2 230.5,116.3 235.8,115.6 241,115.1 246.1,114.7 251.2,114.5 256.2,114.4 261.1,114.5 265.9,114.8 270.7,115.2 275.4,115.7M152.1,151.1 147.5,146.5 142.9,142.1 138.3,137.7 133.8,133.4 129.2,129.2 124.7,125.1 120.3,121 115.8,117.1 111.4,113.3 107,109.6 102.7,105.9 98.4,102.4 94.1,99 89.9,95.7 85.7,92.5 81.6,89.4 77.5,86.4 73.4,83.6 69.4,80.9 65.4,78.3 61.5,75.8 57.6,73.5 53.8,71.3 50,69.2 46.3,67.2M136.2,149.6 142.2,146 148.2,142.6 154.1,139.4 160.1,136.4 166,133.5 171.9,130.9 177.7,128.4 183.6,126.1 189.3,124 195,122.1 200.7,120.3 206.3,118.8 211.9,117.4 217.4,116.2 222.8,115.2 228.2,114.3 233.5,113.6 238.7,113.1 243.9,112.8 249,112.6 254,112.5 258.9,112.7 263.7,112.9 268.5,113.3 273.1,113.9M155.1,149.4 150.5,144.9 145.9,140.4 141.3,136 136.7,131.8 132.2,127.6 127.7,123.5 123.2,119.5 118.8,115.5 114.4,111.7 110,108 105.7,104.4 101.4,100.9 97.1,97.5 92.9,94.2 88.7,91 84.5,88 80.4,85 76.3,82.2 72.3,79.5 68.3,76.9 64.4,74.5 60.5,72.2 56.7,70 52.9,67.9 49.2,66M133.9,147.4 139.9,143.8 145.9,140.4 151.8,137.2 157.8,134.2 163.7,131.4 169.6,128.7 175.4,126.3 181.3,124 187,121.9 192.7,120 198.4,118.3 204,116.7 209.6,115.4 215.1,114.2 220.5,113.2 225.9,112.3 231.2,111.7 236.5,111.2 241.6,110.8 246.7,110.7 251.7,110.6 256.6,110.8 261.5,111.1 266.2,111.5 270.9,112.1M158.1,147.7 153.5,143.2 148.9,138.8 144.3,134.4 139.7,130.2 135.2,126 130.7,121.9 126.2,117.9 121.8,114 117.4,110.2 113,106.5 108.6,102.9 104.3,99.4 100,96.1 95.8,92.8 91.6,89.6 87.4,86.6 83.3,83.7 79.2,80.9 75.2,78.2 71.2,75.6 67.3,73.2 63.4,70.9 59.6,68.7 55.8,66.7 52,64.8M131.6,145.1 137.6,141.6 143.6,138.2 149.5,135 155.5,132 161.4,129.2 167.3,126.6 173.1,124.2 179,121.9 184.7,119.8 190.5,117.9 196.1,116.2 201.8,114.7 207.3,113.4 212.8,112.2 218.3,111.2 223.6,110.4 228.9,109.7 234.2,109.3 239.4,108.9 244.4,108.8 249.5,108.8 254.4,108.9 259.2,109.2 264,109.7 268.7,110.3M161.1,146.1 156.4,141.6 151.8,137.2 147.3,132.9 142.7,128.6 138.2,124.5 133.7,120.4 129.2,116.4 124.7,112.6 120.3,108.8 115.9,105.1 111.6,101.5 107.3,98 103,94.7 98.8,91.4 94.5,88.3 90.4,85.3 86.3,82.4 82.2,79.6 78.1,76.9 74.1,74.4 70.2,72 66.3,69.7 62.5,67.5 58.7,65.5 54.9,63.6M129.3,142.9 135.3,139.4 141.3,136 147.3,132.9 153.2,129.9 159.1,127.1 165,124.5 170.9,122.1 176.7,119.8 182.4,117.8 188.2,115.9 193.8,114.2 199.5,112.7 205,111.4 210.5,110.2 216,109.3 221.4,108.5 226.7,107.8 231.9,107.4 237.1,107.1 242.2,106.9 247.2,106.9 252.2,107.1 257,107.4 261.8,107.9 266.5,108.5M164.1,144.6 159.4,140.1 154.8,135.7 150.2,131.4 145.7,127.1 141.1,123 136.6,118.9 132.2,115 127.7,111.1 123.3,107.4 118.9,103.7 114.5,100.1 110.2,96.7 105.9,93.3 101.7,90.1 97.5,87 93.3,84 89.2,81.1 85.1,78.4 81.1,75.7 77.1,73.2 73.1,70.8 69.2,68.5 65.4,66.4 61.6,64.4 57.8,62.5M127,140.8 133,137.2 139,133.9 145,130.7 150.9,127.8 156.8,125 162.7,122.4 168.6,120 174.4,117.8 180.2,115.7 185.9,113.9 191.6,112.2 197.2,110.7 202.8,109.4 208.3,108.3 213.7,107.3 219.1,106.5 224.4,105.9 229.7,105.5 234.8,105.2 239.9,105.1 245,105.1 249.9,105.3 254.8,105.7 259.6,106.1 264.3,106.8M167,143 162.4,138.6 157.8,134.2 153.2,129.9 148.6,125.7 144.1,121.6 139.6,117.5 135.1,113.6 130.7,109.7 126.2,106 121.9,102.3 117.5,98.8 113.2,95.4 108.9,92.1 104.6,88.8 100.4,85.7 96.2,82.8 92.1,79.9 88,77.2 84,74.5 80,72 76,69.7 72.1,67.4 68.3,65.3 64.4,63.3 60.7,61.5M124.8,138.6 130.8,135.1 136.7,131.8 142.7,128.6 148.6,125.7 154.6,122.9 160.4,120.3 166.3,118 172.1,115.8 177.9,113.7 183.6,111.9 189.3,110.2 194.9,108.8 200.5,107.5 206,106.4 211.5,105.4 216.8,104.7 222.2,104.1 227.4,103.6 232.6,103.4 237.7,103.3 242.7,103.3 247.7,103.5 252.6,103.9 257.4,104.4 262.1,105.1M170,141.6 165.4,137.1 160.8,132.8 156.2,128.5 151.6,124.3 147.1,120.2 142.6,116.2 138.1,112.2 133.6,108.4 129.2,104.7 124.8,101 120.4,97.5 116.1,94.1 111.8,90.8 107.6,87.6 103.4,84.5 99.2,81.6 95,78.7 90.9,76 86.9,73.4 82.9,70.9 78.9,68.6 75,66.3 71.1,64.3 67.3,62.3 63.6,60.5M122.5,136.5 128.5,133 134.5,129.7 140.4,126.5 146.4,123.6 152.3,120.9 158.2,118.3 164,115.9 169.8,113.7 175.6,111.7 181.3,109.9 187,108.3 192.6,106.8 198.2,105.6 203.7,104.5 209.2,103.5 214.6,102.8 219.9,102.2 225.2,101.8 230.4,101.6 235.5,101.5 240.5,101.5 245.5,101.8 250.4,102.2 255.2,102.7 259.9,103.4M172.9,140.2 168.3,135.7 163.7,131.4 159.1,127.1 154.6,122.9 150,118.8 145.5,114.8 141,110.9 136.6,107.1 132.1,103.4 127.7,99.8 123.4,96.3 119.1,92.9 114.8,89.6 110.5,86.4 106.3,83.4 102.1,80.4 98,77.6 93.9,74.9 89.8,72.3 85.8,69.9 81.8,67.5 77.9,65.3 74,63.2 70.2,61.3 66.4,59.5M120.3,134.3 126.2,130.9 132.2,127.6 138.2,124.5 144.1,121.6 150,118.8 155.9,116.3 161.8,113.9 167.6,111.8 173.3,109.8 179.1,108 184.8,106.4 190.4,104.9 196,103.7 201.5,102.6 206.9,101.7 212.3,101 217.7,100.4 222.9,100 228.1,99.8 233.2,99.7 238.3,99.8 243.3,100 248.1,100.4 253,101 257.7,101.7M175.9,138.8 171.3,134.4 166.7,130 162.1,125.8 157.5,121.6 153,117.5 148.5,113.6 144,109.7 139.5,105.9 135.1,102.2 130.7,98.6 126.3,95.1 122,91.7 117.7,88.5 113.4,85.3 109.2,82.3 105,79.3 100.9,76.5 96.8,73.8 92.7,71.3 88.7,68.8 84.7,66.5 80.8,64.3 76.9,62.3 73.1,60.4 69.3,58.6M118,132.2 124,128.8 130,125.5 135.9,122.4 141.9,119.5 147.8,116.8 153.6,114.3 159.5,112 165.3,109.8 171.1,107.8 176.8,106.1 182.5,104.5 188.1,103 193.7,101.8 199.2,100.7 204.7,99.9 210.1,99.1 215.4,98.6 220.7,98.2 225.9,98 231,98 236.1,98.1 241,98.3 245.9,98.7 250.7,99.3 255.5,100M178.8,137.4 174.2,133.1 169.6,128.7 165,124.5 160.4,120.3 155.9,116.3 151.4,112.3 146.9,108.5 142.4,104.7 138,101 133.6,97.4 129.2,94 124.9,90.6 120.6,87.4 116.3,84.2 112.1,81.2 107.9,78.3 103.8,75.5 99.7,72.8 95.6,70.3 91.6,67.9 87.6,65.6 83.7,63.4 79.8,61.4 76,59.5 72.2,57.7M115.8,130.2 121.8,126.7 127.7,123.5 133.7,120.4 139.6,117.5 145.5,114.8 151.4,112.3 157.2,110 163.1,107.9 168.8,105.9 174.6,104.2 180.2,102.6 185.9,101.2 191.5,100 197,98.9 202.4,98 207.9,97.3 213.2,96.8 218.5,96.5 223.7,96.3 228.8,96.2 233.8,96.4 238.8,96.6 243.7,97.1 248.6,97.7 253.3,98.4M181.8,136.2 177.1,131.8 172.5,127.5 167.9,123.3 163.4,119.1 158.8,115.1 154.3,111.1 149.8,107.3 145.4,103.5 140.9,99.9 136.5,96.3 132.2,92.9 127.8,89.5 123.5,86.3 119.3,83.2 115,80.2 110.8,77.3 106.7,74.5 102.6,71.9 98.5,69.3 94.5,66.9 90.5,64.7 86.6,62.5 82.7,60.5 78.8,58.6 75,56.9M113.5,128.1 119.5,124.7 125.5,121.5 131.4,118.4 137.4,115.5 143.3,112.9 149.1,110.4 155,108.1 160.8,106 166.6,104 172.3,102.3 178,100.7 183.6,99.3 189.2,98.1 194.7,97.1 200.2,96.3 205.6,95.6 211,95.1 216.2,94.7 221.4,94.6 226.6,94.5 231.6,94.7 236.6,95 241.5,95.4 246.4,96 251.1,96.8M184.7,134.9 180.1,130.6 175.4,126.3 170.9,122.1 166.3,118 161.8,113.9 157.2,110 152.7,106.2 148.3,102.4 143.9,98.8 139.5,95.3 135.1,91.8 130.7,88.5 126.4,85.3 122.2,82.2 117.9,79.2 113.7,76.3 109.6,73.6 105.5,71 101.4,68.5 97.4,66.1 93.4,63.8 89.4,61.7 85.5,59.7 81.7,57.8 77.9,56.1M111.3,126.1 117.3,122.7 123.2,119.5 129.2,116.4 135.1,113.6 141,110.9 146.9,108.5 152.7,106.2 158.6,104.1 164.3,102.2 170.1,100.4 175.8,98.9 181.4,97.5 187,96.3 192.5,95.3 198,94.5 203.4,93.8 208.7,93.3 214,93 219.2,92.9 224.4,92.9 229.4,93 234.4,93.3 239.3,93.8 244.2,94.4 248.9,95.2M187.6,133.7 183,129.4 178.4,125.1 173.8,120.9 169.2,116.8 164.7,112.8 160.1,108.9 155.7,105.1 151.2,101.4 146.8,97.8 142.4,94.2 138,90.8 133.6,87.5 129.3,84.3 125.1,81.2 120.8,78.3 116.6,75.4 112.5,72.7 108.4,70.1 104.3,67.6 100.2,65.2 96.3,63 92.3,60.9 88.4,58.9 84.6,57.1 80.8,55.3M109.1,124.1 115.1,120.7 121,117.5 127,114.5 132.9,111.6 138.8,109 144.7,106.6 150.5,104.3 156.3,102.2 162.1,100.3 167.8,98.6 173.5,97.1 179.2,95.7 184.7,94.6 190.3,93.6 195.8,92.8 201.2,92.1 206.5,91.6 211.8,91.3 217,91.2 222.2,91.2 227.2,91.4 232.2,91.7 237.1,92.2 242,92.8 246.8,93.6M190.5,132.6 185.9,128.3 181.3,124 176.7,119.8 172.1,115.8 167.6,111.8 163.1,107.9 158.6,104.1 154.1,100.4 149.7,96.8 145.3,93.3 140.9,89.9 136.5,86.6 132.2,83.4 128,80.3 123.7,77.4 119.5,74.6 115.4,71.9 111.2,69.3 107.2,66.8 103.1,64.5 99.1,62.2 95.2,60.1 91.3,58.2 87.4,56.4 83.6,54.7M106.9,122.1 112.9,118.7 118.8,115.5 124.7,112.6 130.7,109.7 136.6,107.1 142.4,104.7 148.3,102.4 154.1,100.4 159.9,98.5 165.6,96.8 171.3,95.3 176.9,94 182.5,92.8 188.1,91.8 193.5,91 198.9,90.4 204.3,90 209.6,89.7 214.8,89.5 220,89.6 225,89.8 230,90.1 235,90.6 239.8,91.3 244.6,92.1M193.4,131.5 188.8,127.2 184.1,122.9 179.6,118.8 175,114.7 170.5,110.8 165.9,106.9 161.5,103.1 157,99.4 152.6,95.8 148.1,92.3 143.8,89 139.4,85.7 135.1,82.5 130.8,79.5 126.6,76.6 122.4,73.8 118.2,71.1 114.1,68.5 110,66 106,63.7 102,61.5 98,59.4 94.1,57.5 90.3,55.7 86.5,54M104.7,120.2 110.6,116.8 116.6,113.6 122.5,110.6 128.5,107.9 134.3,105.2 140.2,102.8 146.1,100.6 151.9,98.6 157.7,96.7 163.4,95 169.1,93.5 174.7,92.2 180.3,91.1 185.8,90.1 191.3,89.4 196.7,88.7 202.1,88.3 207.4,88 212.6,87.9 217.8,88 222.8,88.2 227.8,88.6 232.8,89.1 237.6,89.7 242.4,90.6M196.3,130.4 191.6,126.1 187,121.9 182.4,117.8 177.9,113.7 173.3,109.8 168.8,105.9 164.3,102.2 159.9,98.5 155.4,94.9 151,91.5 146.7,88.1 142.3,84.9 138,81.7 133.7,78.7 129.5,75.8 125.3,73 121.1,70.3 117,67.8 112.9,65.3 108.8,63 104.8,60.8 100.9,58.8 97,56.9 93.1,55.1 89.3,53.4M102.5,118.2 108.4,114.9 114.4,111.7 120.3,108.8 126.2,106 132.1,103.4 138,101 143.9,98.8 149.7,96.8 155.4,94.9 161.2,93.3 166.9,91.8 172.5,90.5 178.1,89.4 183.6,88.4 189.1,87.7 194.5,87.1 199.9,86.7 205.2,86.4 210.4,86.3 215.6,86.4 220.7,86.6 225.7,87 230.6,87.6 235.5,88.2 240.2,89.1M199.1,129.4 194.5,125.1 189.9,120.9 185.3,116.8 180.7,112.8 176.2,108.9 171.7,105 167.2,101.3 162.7,97.6 158.3,94.1 153.9,90.6 149.5,87.3 145.2,84.1 140.9,80.9 136.6,77.9 132.3,75 128.1,72.3 124,69.6 119.8,67.1 115.7,64.7 111.7,62.4 107.7,60.2 103.7,58.2 99.8,56.3 95.9,54.5 92.1,52.8M100.3,116.3 106.3,113 112.2,109.9 118.1,106.9 124,104.2 129.9,101.6 135.8,99.2 141.6,97 147.5,95 153.2,93.2 159,91.5 164.6,90.1 170.3,88.8 175.9,87.7 181.4,86.8 186.9,86.1 192.3,85.5 197.7,85.1 203,84.8 208.2,84.8 213.4,84.9 218.5,85.1 223.5,85.5 228.4,86.1 233.3,86.8 238.1,87.6M202,128.5 197.4,124.2 192.7,120 188.2,115.9 183.6,111.9 179.1,108 174.6,104.2 170.1,100.4 165.6,96.8 161.2,93.3 156.8,89.8 152.4,86.5 148,83.3 143.7,80.2 139.4,77.2 135.2,74.3 131,71.6 126.8,68.9 122.7,66.4 118.6,64 114.5,61.8 110.5,59.6 106.6,57.6 102.6,55.7 98.8,54 94.9,52.3M98.1,114.4 104.1,111.1 110,108 115.9,105.1 121.9,102.3 127.7,99.8 133.6,97.4 139.5,95.3 145.3,93.3 151,91.5 156.8,89.8 162.4,88.4 168.1,87.1 173.7,86.1 179.2,85.2 184.7,84.4 190.1,83.9 195.5,83.5 200.8,83.3 206,83.2 211.2,83.3 216.3,83.6 221.3,84 226.3,84.6 231.1,85.3 235.9,86.2M204.8,127.5 200.2,123.3 195.6,119.1 191,115 186.5,111.1 181.9,107.2 177.4,103.3 172.9,99.6 168.5,96 164,92.5 159.6,89.1 155.2,85.8 150.9,82.6 146.6,79.5 142.3,76.5 138,73.7 133.8,71 129.7,68.3 125.5,65.8 121.4,63.5 117.4,61.2 113.4,59.1 109.4,57.1 105.5,55.2 101.6,53.5 97.8,51.9M96,112.6 101.9,109.3 107.8,106.2 113.8,103.3 119.7,100.6 125.6,98 131.4,95.7 137.3,93.5 143.1,91.6 148.8,89.8 154.6,88.2 160.3,86.7 165.9,85.5 171.5,84.4 177,83.6 182.5,82.9 187.9,82.3 193.3,82 198.6,81.8 203.9,81.7 209,81.8 214.1,82.1 219.2,82.6 224.1,83.1 229,83.9 233.8,84.7M207.6,126.7 203,122.4 198.4,118.3 193.8,114.2 189.3,110.2 184.8,106.4 180.2,102.6 175.8,98.9 171.3,95.3 166.9,91.8 162.4,88.4 158.1,85.1 153.7,81.9 149.4,78.9 145.1,75.9 140.9,73.1 136.7,70.4 132.5,67.8 128.3,65.3 124.2,62.9 120.2,60.7 116.2,58.6 112.2,56.6 108.3,54.7 104.4,53 100.6,51.4M93.8,110.8 99.7,107.5 105.7,104.4 111.6,101.5 117.5,98.8 123.4,96.3 129.2,94 135.1,91.8 140.9,89.9 146.7,88.1 152.4,86.5 158.1,85.1 163.7,83.9 169.3,82.9 174.9,82 180.3,81.3 185.8,80.8 191.1,80.4 196.4,80.3 201.7,80.2 206.9,80.4 212,80.7 217,81.1 222,81.7 226.8,82.5 231.6,83.4M210.4,125.8 205.8,121.6 201.2,117.5 196.7,113.4 192.1,109.5 187.6,105.6 183.1,101.9 178.6,98.2 174.1,94.6 169.7,91.1 165.3,87.7 160.9,84.5 156.6,81.3 152.2,78.3 148,75.3 143.7,72.5 139.5,69.8 135.3,67.2 131.2,64.8 127.1,62.4 123,60.2 119,58.1 115,56.2 111.1,54.3 107.2,52.6 103.4,51.1M91.7,109 97.6,105.7 103.5,102.6 109.4,99.8 115.3,97.1 121.2,94.6 127.1,92.3 132.9,90.2 138.7,88.2 144.5,86.5 150.2,84.9 155.9,83.5 161.5,82.3 167.1,81.3 172.7,80.4 178.2,79.8 183.6,79.3 189,78.9 194.3,78.8 199.5,78.8 204.7,78.9 209.8,79.2 214.8,79.7 219.8,80.3 224.7,81.1 229.5,82M213.2,125.1 208.6,120.9 204,116.7 199.5,112.7 194.9,108.8 190.4,104.9 185.9,101.2 181.4,97.5 176.9,94 172.5,90.5 168.1,87.1 163.7,83.9 159.4,80.8 155.1,77.7 150.8,74.8 146.5,72 142.3,69.3 138.1,66.8 134,64.3 129.9,62 125.8,59.8 121.8,57.7 117.8,55.8 113.9,54 110,52.3 106.1,50.7M89.5,107.2 95.4,103.9 101.4,100.9 107.3,98 113.2,95.4 119.1,92.9 124.9,90.6 130.7,88.5 136.5,86.6 142.3,84.9 148,83.3 153.7,81.9 159.4,80.8 165,79.8 170.5,78.9 176,78.3 181.4,77.8 186.8,77.5 192.1,77.3 197.4,77.3 202.5,77.5 207.7,77.8 212.7,78.3 217.7,79 222.6,79.7 227.4,80.7M216,124.3 211.4,120.1 206.8,116 202.3,112 197.7,108.1 193.2,104.3 188.7,100.5 184.2,96.9 179.7,93.4 175.3,89.9 170.9,86.6 166.5,83.4 162.2,80.2 157.9,77.2 153.6,74.3 149.3,71.5 145.1,68.9 140.9,66.3 136.8,63.9 132.7,61.6 128.6,59.4 124.6,57.4 120.6,55.4 116.7,53.6 112.8,52 108.9,50.4M87.4,105.4 93.3,102.2 99.2,99.2 105.1,96.4 111,93.7 116.9,91.2 122.8,89 128.6,86.9 134.4,85 140.1,83.3 145.9,81.7 151.6,80.4 157.2,79.2 162.8,78.2 168.3,77.4 173.8,76.8 179.3,76.3 184.6,76 190,75.9 195.2,75.9 200.4,76.1 205.5,76.5 210.6,77 215.5,77.6 220.4,78.4 225.2,79.3M218.8,123.6 214.2,119.5 209.6,115.4 205,111.4 200.5,107.5 196,103.7 191.5,100 187,96.3 182.5,92.8 178.1,89.4 173.7,86.1 169.3,82.9 165,79.8 160.6,76.8 156.4,73.9 152.1,71.1 147.9,68.5 143.7,65.9 139.6,63.5 135.5,61.2 131.4,59.1 127.4,57 123.4,55.1 119.4,53.3 115.5,51.7 111.7,50.2M85.3,103.7 91.2,100.5 97.1,97.5 103,94.7 108.9,92.1 114.8,89.6 120.6,87.4 126.4,85.3 132.2,83.4 138,81.7 143.7,80.2 149.4,78.9 155.1,77.7 160.6,76.8 166.2,76 171.7,75.3 177.1,74.9 182.5,74.6 187.8,74.5 193.1,74.6 198.3,74.8 203.4,75.1 208.4,75.6 213.4,76.3 218.3,77.1 223.1,78.1M221.5,123 216.9,118.8 212.4,114.8 207.8,110.8 203.3,106.9 198.7,103.1 194.2,99.4 189.7,95.8 185.3,92.3 180.9,88.9 176.5,85.6 172.1,82.4 167.7,79.3 163.4,76.3 159.1,73.5 154.9,70.7 150.7,68.1 146.5,65.6 142.3,63.2 138.2,60.9 134.2,58.8 130.1,56.8 126.2,54.9 122.2,53.1 118.3,51.5 114.5,49.9M83.1,102 89.1,98.8 95,95.8 100.9,93 106.8,90.4 112.6,88 118.5,85.8 124.3,83.7 130.1,81.9 135.9,80.2 141.6,78.7 147.3,77.4 152.9,76.3 158.5,75.3 164,74.5 169.5,73.9 175,73.5 180.4,73.2 185.7,73.1 190.9,73.2 196.1,73.4 201.2,73.8 206.3,74.3 211.3,75 216.2,75.8 221,76.8M224.3,122.4 219.7,118.2 215.1,114.2 210.5,110.2 206,106.4 201.5,102.6 197,98.9 192.5,95.3 188.1,91.8 183.6,88.4 179.2,85.2 174.9,82 170.5,78.9 166.2,76 161.9,73.1 157.7,70.4 153.4,67.8 149.3,65.3 145.1,62.9 141,60.7 136.9,58.5 132.9,56.5 128.9,54.6 125,52.9 121.1,51.3 117.2,49.8M81,100.3 87,97.2 92.9,94.2 98.8,91.4 104.6,88.8 110.5,86.4 116.3,84.2 122.2,82.2 128,80.3 133.7,78.7 139.4,77.2 145.1,75.9 150.8,74.8 156.4,73.9 161.9,73.1 167.4,72.5 172.8,72.1 178.2,71.9 183.5,71.8 188.8,71.9 194,72.1 199.1,72.5 204.2,73.1 209.2,73.8 214.1,74.6 218.9,75.6M227,121.8 222.4,117.7 217.8,113.7 213.3,109.7 208.7,105.9 204.2,102.1 199.7,98.5 195.2,94.9 190.8,91.4 186.4,88 182,84.8 177.6,81.6 173.3,78.6 168.9,75.6 164.7,72.8 160.4,70.1 156.2,67.5 152,65 147.9,62.7 143.8,60.4 139.7,58.3 135.6,56.3 131.7,54.5 127.7,52.7 123.8,51.1 119.9,49.7M79,98.7 84.9,95.6 90.8,92.6 96.6,89.9 102.5,87.3 108.4,84.9 114.2,82.7 120,80.7 125.8,78.9 131.6,77.2 137.3,75.8 143,74.5 148.6,73.4 154.2,72.5 159.8,71.7 165.3,71.2 170.7,70.8 176.1,70.5 181.4,70.5 186.7,70.6 191.9,70.8 197,71.3 202.1,71.8 207,72.5 212,73.4 216.8,74.4M229.7,121.3 225.1,117.2 220.5,113.2 216,109.3 211.5,105.4 206.9,101.7 202.4,98 198,94.5 193.5,91 189.1,87.7 184.7,84.4 180.3,81.3 176,78.3 171.7,75.3 167.4,72.5 163.2,69.8 158.9,67.3 154.7,64.8 150.6,62.5 146.5,60.2 142.4,58.1 138.4,56.2 134.4,54.3 130.4,52.6 126.5,51 122.7,49.6M76.9,97.1 82.8,94 88.7,91 94.5,88.3 100.4,85.7 106.3,83.4 112.1,81.2 117.9,79.2 123.7,77.4 129.5,75.8 135.2,74.3 140.9,73.1 146.5,72 152.1,71.1 157.7,70.4 163.2,69.8 168.6,69.5 174,69.3 179.3,69.2 184.6,69.3 189.8,69.6 194.9,70 200,70.6 204.9,71.3 209.9,72.2 214.7,73.2M232.4,120.8 227.8,116.7 223.2,112.7 218.7,108.8 214.2,105 209.6,101.3 205.2,97.7 200.7,94.1 196.2,90.7 191.8,87.4 187.4,84.1 183.1,81 178.7,78 174.4,75.1 170.1,72.3 165.9,69.6 161.7,67.1 157.5,64.6 153.3,62.3 149.2,60.1 145.1,58 141.1,56.1 137.1,54.2 133.2,52.5 129.3,51 125.4,49.5M74.8,95.5 80.7,92.4 86.6,89.5 92.5,86.8 98.3,84.2 104.2,81.9 110,79.7 115.8,77.8 121.6,76 127.4,74.4 133.1,72.9 138.8,71.7 144.4,70.7 150,69.8 155.5,69.1 161,68.5 166.5,68.2 171.9,68 177.2,68 182.5,68.1 187.7,68.4 192.8,68.8 197.9,69.4 202.8,70.2 207.8,71 212.6,72.1M235.1,120.4 230.5,116.3 225.9,112.3 221.4,108.5 216.8,104.7 212.3,101 207.9,97.3 203.4,93.8 198.9,90.4 194.5,87.1 190.1,83.9 185.8,80.8 181.4,77.8 177.1,74.9 172.8,72.1 168.6,69.5 164.4,66.9 160.2,64.5 156,62.2 151.9,60 147.9,57.9 143.8,56 139.8,54.2 135.9,52.5 132,50.9 128.1,49.5M72.7,94 78.6,90.9 84.5,88 90.4,85.3 96.2,82.8 102.1,80.4 107.9,78.3 113.7,76.3 119.5,74.6 125.3,73 131,71.6 136.7,70.4 142.3,69.3 147.9,68.5 153.4,67.8 158.9,67.3 164.4,66.9 169.8,66.7 175.1,66.7 180.4,66.9 185.6,67.2 190.7,67.6 195.8,68.2 200.8,69 205.7,69.9 210.5,70.9M237.7,120 233.1,115.9 228.6,112 224,108.1 219.5,104.3 215,100.7 210.5,97.1 206.1,93.6 201.6,90.2 197.2,86.9 192.8,83.7 188.5,80.6 184.1,77.6 179.8,74.7 175.5,72 171.3,69.3 167.1,66.8 162.9,64.4 158.7,62.1 154.6,59.9 150.6,57.9 146.5,56 142.5,54.2 138.6,52.5 134.6,51 130.8,49.5M70.7,92.4 76.6,89.4 82.4,86.5 88.3,83.8 94.2,81.3 100,79 105.8,76.9 111.7,74.9 117.4,73.2 123.2,71.6 128.9,70.2 134.6,69 140.2,68 145.8,67.2 151.3,66.5 156.8,66 162.3,65.7 167.7,65.5 173,65.5 178.3,65.7 183.5,66 188.6,66.5 193.7,67.1 198.7,67.9 203.6,68.8 208.5,69.9M240.3,119.6 235.8,115.6 231.2,111.7 226.7,107.8 222.2,104.1 217.7,100.4 213.2,96.8 208.7,93.3 204.3,90 199.9,86.7 195.5,83.5 191.1,80.4 186.8,77.5 182.5,74.6 178.2,71.9 174,69.3 169.8,66.7 165.6,64.3 161.4,62.1 157.3,59.9 153.2,57.9 149.2,56 145.2,54.2 141.2,52.5 137.3,51 133.5,49.6M68.6,90.9 74.5,87.9 80.4,85 86.3,82.4 92.1,79.9 98,77.6 103.8,75.5 109.6,73.6 115.4,71.9 121.1,70.3 126.8,68.9 132.5,67.8 138.1,66.8 143.7,65.9 149.3,65.3 154.7,64.8 160.2,64.5 165.6,64.3 170.9,64.4 176.2,64.5 181.4,64.9 186.5,65.4 191.6,66 196.6,66.8 201.5,67.7 206.4,68.8M243,119.3 238.4,115.3 233.8,111.4 229.3,107.6 224.8,103.8 220.3,100.2 215.8,96.6 211.4,93.2 207,89.8 202.5,86.5 198.2,83.4 193.8,80.3 189.5,77.4 185.2,74.5 180.9,71.8 176.6,69.2 172.4,66.7 168.2,64.3 164.1,62.1 160,59.9 155.9,57.9 151.9,56 147.9,54.3 143.9,52.6 140,51.1 136.1,49.7M66.6,89.5 72.5,86.5 78.4,83.6 84.2,81 90.1,78.5 95.9,76.2 101.7,74.2 107.5,72.3 113.3,70.5 119,69 124.7,67.7 130.4,66.5 136,65.5 141.6,64.7 147.2,64.1 152.7,63.6 158.1,63.3 163.5,63.2 168.8,63.2 174.1,63.4 179.3,63.8 184.4,64.3 189.5,64.9 194.5,65.7 199.5,66.7 204.3,67.8M245.5,119.1 241,115.1 236.5,111.2 231.9,107.4 227.4,103.6 222.9,100 218.5,96.5 214,93 209.6,89.7 205.2,86.4 200.8,83.3 196.4,80.3 192.1,77.3 187.8,74.5 183.5,71.8 179.3,69.2 175.1,66.7 170.9,64.4 166.8,62.1 162.6,60 158.6,58 154.5,56.1 150.5,54.4 146.6,52.8 142.7,51.3 138.8,49.9M64.6,88 70.5,85 76.3,82.2 82.2,79.6 88,77.2 93.9,74.9 99.7,72.8 105.5,71 111.2,69.3 117,67.8 122.7,66.4 128.3,65.3 134,64.3 139.6,63.5 145.1,62.9 150.6,62.5 156,62.2 161.4,62.1 166.8,62.1 172,62.3 177.2,62.7 182.4,63.2 187.5,63.9 192.5,64.7 197.4,65.7 202.3,66.8M248.1,118.8 243.6,114.9 239,111 234.5,107.2 230,103.5 225.5,99.9 221.1,96.3 216.6,92.9 212.2,89.6 207.8,86.4 203.4,83.2 199.1,80.2 194.7,77.3 190.4,74.5 186.2,71.8 181.9,69.2 177.7,66.8 173.5,64.4 169.4,62.2 165.3,60.1 161.2,58.1 157.2,56.3 153.2,54.5 149.2,52.9 145.3,51.4 141.4,50.1M62.6,86.6 68.4,83.7 74.3,80.9 80.2,78.2 86,75.8 91.8,73.6 97.6,71.6 103.4,69.7 109.2,68 114.9,66.5 120.6,65.2 126.3,64.1 131.9,63.1 137.5,62.4 143,61.8 148.5,61.3 154,61.1 159.4,61 164.7,61 170,61.3 175.2,61.7 180.3,62.2 185.4,62.9 190.4,63.7 195.4,64.7 200.2,65.8M250.7,118.6 246.1,114.7 241.6,110.8 237.1,107.1 232.6,103.4 228.1,99.8 223.7,96.3 219.2,92.9 214.8,89.5 210.4,86.3 206,83.2 201.7,80.2 197.4,77.3 193.1,74.6 188.8,71.9 184.6,69.3 180.4,66.9 176.2,64.5 172,62.3 167.9,60.2 163.8,58.3 159.8,56.4 155.8,54.7 151.8,53.1 147.9,51.7 144,50.3M60.6,85.3 66.4,82.3 72.3,79.5 78.1,76.9 84,74.5 89.8,72.3 95.6,70.3 101.4,68.5 107.2,66.8 112.9,65.3 118.6,64 124.2,62.9 129.9,62 135.5,61.2 141,60.7 146.5,60.2 151.9,60 157.3,59.9 162.6,60 167.9,60.2 173.1,60.6 178.3,61.2 183.4,61.9 188.4,62.7 193.3,63.7 198.2,64.9M253.2,118.5 248.7,114.6 244.2,110.7 239.7,107 235.2,103.3 230.7,99.7 226.2,96.2 221.8,92.8 217.4,89.5 213,86.4 208.6,83.3 204.3,80.3 200,77.4 195.7,74.6 191.4,72 187.2,69.4 183,67 178.8,64.7 174.6,62.5 170.5,60.4 166.5,58.5 162.4,56.6 158.4,54.9 154.5,53.4 150.5,51.9 146.7,50.6M58.6,83.9 64.5,81 70.3,78.2 76.1,75.7 82,73.3 87.8,71.1 93.6,69.1 99.4,67.2 105.1,65.6 110.9,64.2 116.6,62.9 122.2,61.8 127.8,60.9 133.4,60.1 139,59.6 144.4,59.2 149.9,59 155.3,58.9 160.6,59 165.9,59.2 171.1,59.7 176.2,60.2 181.3,60.9 186.3,61.8 191.3,62.8 196.2,63.9M255.7,118.4 251.2,114.5 246.7,110.7 242.2,106.9 237.7,103.3 233.2,99.7 228.8,96.2 224.4,92.9 220,89.6 215.6,86.4 211.2,83.3 206.9,80.4 202.5,77.5 198.3,74.8 194,72.1 189.8,69.6 185.6,67.2 181.4,64.9 177.2,62.7 173.1,60.6 169.1,58.7 165,56.9 161,55.2 157.1,53.6 153.1,52.2 149.2,50.9M56.6,82.6 62.5,79.7 68.3,76.9 74.1,74.4 80,72 85.8,69.9 91.6,67.9 97.4,66.1 103.1,64.5 108.8,63 114.5,61.8 120.2,60.7 125.8,59.8 131.4,59.1 136.9,58.5 142.4,58.1 147.9,57.9 153.2,57.9 158.6,58 163.8,58.3 169.1,58.7 174.2,59.3 179.3,60 184.3,60.9 189.3,61.9 194.1,63.1M258.2,118.3 253.7,114.4 249.2,110.6 244.7,106.9 240.2,103.3 235.8,99.7 231.3,96.3 226.9,92.9 222.5,89.7 218.1,86.5 213.8,83.5 209.4,80.5 205.1,77.7 200.8,74.9 196.6,72.3 192.3,69.8 188.1,67.4 184,65.1 179.8,62.9 175.7,60.9 171.6,59 167.6,57.2 163.6,55.5 159.6,54 155.7,52.5 151.8,51.2M54.7,81.3 60.5,78.4 66.3,75.7 72.2,73.2 78,70.8 83.8,68.7 89.6,66.7 95.4,64.9 101.1,63.3 106.8,61.9 112.5,60.7 118.2,59.6 123.8,58.7 129.4,58 134.9,57.5 140.4,57.1 145.8,57 151.2,56.9 156.5,57.1 161.8,57.3 167,57.8 172.2,58.4 177.3,59.1 182.3,60 187.2,61 192.1,62.2M260.7,118.3 256.2,114.4 251.7,110.6 247.2,106.9 242.7,103.3 238.3,99.8 233.8,96.4 229.4,93 225,89.8 220.7,86.6 216.3,83.6 212,80.7 207.7,77.8 203.4,75.1 199.1,72.5 194.9,70 190.7,67.6 186.5,65.4 182.4,63.2 178.3,61.2 174.2,59.3 170.2,57.5 166.2,55.8 162.2,54.3 158.3,52.9 154.4,51.6M52.7,80.1 58.6,77.2 64.4,74.5 70.2,72 76,69.7 81.8,67.5 87.6,65.6 93.4,63.8 99.1,62.2 104.8,60.8 110.5,59.6 116.2,58.6 121.8,57.7 127.4,57 132.9,56.5 138.4,56.2 143.8,56 149.2,56 154.5,56.1 159.8,56.4 165,56.9 170.2,57.5 175.3,58.3 180.3,59.2 185.2,60.2 190.1,61.4M263.2,118.3 258.7,114.5 254.2,110.7 249.7,107 245.2,103.4 240.8,99.9 236.3,96.5 231.9,93.2 227.5,89.9 223.2,86.8 218.8,83.8 214.5,80.9 210.2,78.1 205.9,75.4 201.7,72.8 197.4,70.3 193.2,67.9 189.1,65.7 184.9,63.5 180.8,61.5 176.8,59.6 172.7,57.9 168.7,56.2 164.8,54.7 160.8,53.3 157,52M50.8,78.9 56.6,76 62.4,73.3 68.3,70.8 74.1,68.5 79.9,66.4 85.6,64.5 91.4,62.7 97.1,61.2 102.9,59.8 108.5,58.6 114.2,57.6 119.8,56.7 125.4,56.1 130.9,55.6 136.4,55.2 141.8,55.1 147.2,55.1 152.5,55.2 157.8,55.6 163,56 168.2,56.7 173.3,57.4 178.3,58.3 183.2,59.4 188.1,60.6M265.6,118.4 261.1,114.5 256.6,110.8 252.2,107.1 247.7,103.5 243.3,100 238.8,96.6 234.4,93.3 230,90.1 225.7,87 221.3,84 217,81.1 212.7,78.3 208.4,75.6 204.2,73.1 200,70.6 195.8,68.2 191.6,66 187.5,63.9 183.4,61.9 179.3,60 175.3,58.3 171.3,56.6 167.3,55.1 163.4,53.7 159.5,52.5M48.9,77.7 54.7,74.8 60.5,72.2 66.3,69.7 72.1,67.4 77.9,65.3 83.7,63.4 89.4,61.7 95.2,60.1 100.9,58.8 106.6,57.6 112.2,56.6 117.8,55.8 123.4,55.1 128.9,54.6 134.4,54.3 139.8,54.2 145.2,54.2 150.5,54.4 155.8,54.7 161,55.2 166.2,55.8 171.3,56.6 176.3,57.6 181.2,58.6 186.1,59.8M268,118.5 263.5,114.6 259.1,110.9 254.6,107.3 250.1,103.7 245.7,100.2 241.3,96.8 236.9,93.6 232.5,90.4 228.1,87.3 223.8,84.3 219.5,81.4 215.2,78.6 210.9,76 206.7,73.4 202.5,70.9 198.3,68.6 194.1,66.4 190,64.3 185.9,62.3 181.8,60.4 177.8,58.7 173.8,57.1 169.8,55.6 165.9,54.2 162,53M47,76.5 52.8,73.7 58.6,71.1 64.4,68.6 70.2,66.3 76,64.3 81.7,62.4 87.5,60.7 93.2,59.1 98.9,57.8 104.6,56.6 110.2,55.7 115.8,54.8 121.4,54.2 126.9,53.8 132.4,53.5 137.8,53.3 143.2,53.4 148.5,53.6 153.8,53.9 159,54.4 164.2,55.1 169.3,55.9 174.3,56.8 179.3,57.9 184.2,59.1M270.4,118.6 265.9,114.8 261.5,111.1 257,107.4 252.6,103.9 248.1,100.4 243.7,97.1 239.3,93.8 235,90.6 230.6,87.6 226.3,84.6 222,81.7 217.7,79 213.4,76.3 209.2,73.8 204.9,71.3 200.8,69 196.6,66.8 192.5,64.7 188.4,62.7 184.3,60.9 180.3,59.2 176.3,57.6 172.3,56.1 168.4,54.7 164.5,53.5M45.1,75.4 50.9,72.6 56.7,70 62.5,67.5 68.3,65.3 74,63.2 79.8,61.4 85.5,59.7 91.3,58.2 97,56.9 102.6,55.7 108.3,54.7 113.9,54 119.4,53.3 125,52.9 130.4,52.6 135.9,52.5 141.2,52.5 146.6,52.8 151.8,53.1 157.1,53.6 162.2,54.3 167.3,55.1 172.3,56.1 177.3,57.2 182.2,58.4M272.8,118.8 268.3,115 263.9,111.3 259.4,107.7 255,104.1 250.6,100.7 246.2,97.3 241.8,94.1 237.4,90.9 233,87.9 228.7,84.9 224.4,82.1 220.1,79.3 215.9,76.7 211.6,74.2 207.4,71.7 203.2,69.4 199.1,67.3 194.9,65.2 190.9,63.2 186.8,61.4 182.8,59.7 178.8,58.1 174.8,56.6 170.9,55.3 167,54M43.2,74.3 49,71.5 54.8,68.9 60.6,66.5 66.3,64.3 72.1,62.3 77.9,60.4 83.6,58.7 89.3,57.3 95,55.9 100.7,54.8 106.3,53.9 111.9,53.1 117.5,52.5 123,52.1 128.5,51.8 133.9,51.7 139.3,51.8 144.6,52 149.9,52.4 155.1,52.9 160.2,53.6 165.3,54.4 170.4,55.4 175.3,56.5 180.2,57.7M275.2,119 270.7,115.2 266.2,111.5 261.8,107.9 257.4,104.4 253,101 248.6,97.7 244.2,94.4 239.8,91.3 235.5,88.2 231.1,85.3 226.8,82.5 222.6,79.7 218.3,77.1 214.1,74.6 209.9,72.2 205.7,69.9 201.5,67.7 197.4,65.7 193.3,63.7 189.3,61.9 185.2,60.2 181.2,58.6 177.3,57.2 173.4,55.8 169.5,54.6M41.3,73.2 47.1,70.5 52.9,67.9 58.7,65.5 64.4,63.3 70.2,61.3 76,59.5 81.7,57.8 87.4,56.4 93.1,55.1 98.8,54 104.4,53 110,52.3 115.5,51.7 121.1,51.3 126.5,51 132,50.9 137.3,51 142.7,51.3 147.9,51.7 153.1,52.2 158.3,52.9 163.4,53.7 168.4,54.7 173.4,55.8 178.3,57.1M277.5,119.2 273,115.5 268.6,111.8 264.2,108.2 259.7,104.7 255.3,101.3 250.9,98 246.6,94.8 242.2,91.7 237.9,88.6 233.5,85.7 229.3,82.9 225,80.2 220.7,77.6 216.5,75.1 212.3,72.7 208.1,70.4 204,68.3 199.9,66.2 195.8,64.3 191.7,62.5 187.7,60.8 183.7,59.2 179.7,57.8 175.8,56.4 171.9,55.2M39.5,72.2 45.2,69.5 51,66.9 56.8,64.6 62.6,62.4 68.3,60.4 74.1,58.6 79.8,56.9 85.5,55.5 91.2,54.2 96.8,53.1 102.5,52.2 108.1,51.5 113.6,50.9 119.1,50.5 124.6,50.3 130,50.2 135.4,50.3 140.7,50.6 146,51 151.2,51.5 156.3,52.2 161.4,53.1 166.5,54.1 171.4,55.2 176.3,56.5M279.8,119.5 275.4,115.7 270.9,112.1 266.5,108.5 262.1,105.1 257.7,101.7 253.3,98.4 248.9,95.2 244.6,92.1 240.2,89.1 235.9,86.2 231.6,83.4 227.4,80.7 223.1,78.1 218.9,75.6 214.7,73.2 210.5,70.9 206.4,68.8 202.3,66.8 198.2,64.9 194.1,63.1 190.1,61.4 186.1,59.8 182.2,58.4 178.3,57.1 174.4,55.9M37.6,71.2 43.4,68.5 49.2,66 54.9,63.6 60.7,61.5 66.4,59.5 72.2,57.7 77.9,56.1 83.6,54.7 89.3,53.4 94.9,52.3 100.6,51.4 106.1,50.7 111.7,50.2 117.2,49.8 122.7,49.6 128.1,49.5 133.5,49.6 138.8,49.9 144,50.3 149.2,50.9 154.4,51.6 159.5,52.5 164.5,53.5 169.5,54.6 174.4,55.9" fill="none" stroke="#000" stroke-width="0.92" stroke-linejoin="round"/>
<ellipse cx="36.5" cy="65" rx="2.0" ry="1.6" fill="#e81010"/><ellipse cx="159.3" cy="57.9" rx="2.0" ry="1.6" fill="#e81010"/><ellipse cx="173.1" cy="54.6" rx="2.0" ry="1.6" fill="#e81010"/><ellipse cx="280.7" cy="111.5" rx="2.0" ry="1.6" fill="#e81010"/>
<text x="30.2" y="35.6" text-anchor="end" class="tk">-15</text><text x="31.2" y="51.3" text-anchor="end" class="tk">-20</text><text x="31.9" y="67.2" text-anchor="end" class="tk">-25</text><text x="34.8" y="82.4" text-anchor="end" class="tk">-30</text><text x="36.5" y="96.2" text-anchor="end" class="tk">-35</text><text x="39.4" y="110.4" text-anchor="end" class="tk">-40</text><text x="34" y="136.6" text-anchor="middle" class="tk">0.25</text><text x="57.9" y="153.7" text-anchor="middle" class="tk">0.20</text><text x="84.3" y="167.5" text-anchor="middle" class="tk">0.15</text><text x="107.4" y="183.1" text-anchor="middle" class="tk">0.10</text><text x="134.1" y="198.2" text-anchor="middle" class="tk">0.05</text><text x="154.8" y="197.7" text-anchor="middle" class="tk">1.00</text><text x="187.7" y="185.6" text-anchor="middle" class="tk">2.00</text><text x="219.2" y="173.6" text-anchor="middle" class="tk">3.00</text><text x="254.4" y="163" text-anchor="middle" class="tk">4.00</text><text x="287.1" y="149.9" text-anchor="middle" class="tk">5.00</text><text x="28.9" y="181.2" class="ax" textLength="46.6" lengthAdjust="spacingAndGlyphs">Tween-80</text><text x="237.6" y="185.7" class="ax" textLength="20.6" lengthAdjust="spacingAndGlyphs">Zein</text><text transform="translate(9.9,134.6) rotate(-90)" class="zt" textLength="97.2" lengthAdjust="spacingAndGlyphs">Zeta&#160; potential (mV)</text><text x="1.3" y="19.8" class="lb">(a)</text></g>
<g id="plot-b"><polygon points="484.4,188.1 598.8,132.3 488.5,82.5 374.1,129.9" fill="#ffff00" stroke="#a8a800" stroke-width="0.4"/>
<path d="M505.8,102.7C509,108 514,111.5 520.9,115.3C530,120.5 540,124.5 551.1,127.9C563,131.5 575,134 588.8,135.9" fill="none" stroke="#30f040" stroke-width="0.9"/><path d="M455.5,169.2C459,163 464,158 470.6,154.1C477,150.5 484,148.3 493.2,146.6C505,144.6 520,143.3 535,142.8C546,142.8 556,143.6 566.2,145.5" fill="none" stroke="#b8f820" stroke-width="0.8"/><path d="M480.7,185.6C486,180.5 495,176.5 505,173.5C515,170.5 525,167.5 535,165" fill="none" stroke="#ff5010" stroke-width="0.9"/><path d="M417.7,112.8C430,112.2 445,112.8 455.5,113.9" fill="none" stroke="#c8f830" stroke-width="0.6"/>
<path d="M359.8,44L374.1,129.9M488.9,2L488.5,82.5M613.2,48L598.8,132.3M392.1,33.5L400.3,99.5M424.4,23L429.7,88.7M456.6,12.5L459.1,77.8M513.8,11.2L511.4,75.3M538.6,20.4L534.3,83.6M563.5,29.6L557.2,91.9M588.3,38.8L580,100.2M359.8,44L488.9,2L613.2,48M362,57.4L488.8,15.1L611.1,60.5M364.2,70.6L488.8,28.5L609,72.6M366.4,83.8L488.7,41.5L606.9,85M368.5,96.2L488.6,54.3L604.8,96.9M370.8,110.3L488.6,67L602.9,108.5" fill="none" stroke="#1a1a1a" stroke-width="0.9"/>
<path d="M483,113.5V115.8" stroke="#333" stroke-width="0.8"/><ellipse cx="483" cy="115.8" rx="1.8" ry="1.4" fill="#f0a0a8" stroke="#844" stroke-width="0.4"/><path d="M421.4,109V110.3" stroke="#333" stroke-width="0.8"/><ellipse cx="421.4" cy="110.3" rx="1.8" ry="1.4" fill="#f0a0a8" stroke="#844" stroke-width="0.4"/><path d="M367.3,84V91" stroke="#333" stroke-width="0.8"/><ellipse cx="367.3" cy="91" rx="1.8" ry="1.4" fill="#f0a0a8" stroke="#844" stroke-width="0.4"/>
<g stroke-width="0.5" stroke-linejoin="round"><path d="M489.1,36.5 493.6,36.7 489.3,32.8 484.7,32.7z" fill="#1fff00" stroke="#1fff00"/><path d="M493.5,40.3 498,40.6 493.6,36.7 489.1,36.5z" fill="#09ff00" stroke="#09ff00"/><path d="M497.9,44 502.4,44.3 498,40.6 493.5,40.3z" fill="#00ff0e" stroke="#00ff0e"/><path d="M502.3,47.6 506.8,48 502.4,44.3 497.9,44z" fill="#00ff26" stroke="#00ff26"/><path d="M506.7,51.2 511.1,51.6 506.8,48 502.3,47.6z" fill="#00ff3c" stroke="#00ff3c"/><path d="M511.2,54.6 515.6,55 511.1,51.6 506.7,51.2z" fill="#00ff51" stroke="#00ff51"/><path d="M515.6,58 520,58.4 515.6,55 511.2,54.6z" fill="#00ff65" stroke="#00ff65"/><path d="M520.1,61.2 524.4,61.7 520,58.4 515.6,58z" fill="#00ff7e" stroke="#00ff7e"/><path d="M524.5,64.3 528.8,64.8 524.4,61.7 520.1,61.2z" fill="#00ff9e" stroke="#00ff9e"/><path d="M484.5,36.5 489.1,36.5 484.7,32.7 480.1,32.7z" fill="#32ff00" stroke="#32ff00"/><path d="M489,40.2 493.5,40.3 489.1,36.5 484.5,36.5z" fill="#1dff00" stroke="#1dff00"/><path d="M493.4,43.9 497.9,44 493.5,40.3 489,40.2z" fill="#09ff00" stroke="#09ff00"/><path d="M529,67.3 533.3,67.9 528.8,64.8 524.5,64.3z" fill="#00ffba" stroke="#00ffba"/><path d="M497.8,47.5 502.3,47.6 497.9,44 493.4,43.9z" fill="#00ff0d" stroke="#00ff0d"/><path d="M502.3,50.9 506.7,51.2 502.3,47.6 497.8,47.5z" fill="#00ff22" stroke="#00ff22"/><path d="M533.6,70.2 537.8,70.8 533.3,67.9 529,67.3z" fill="#00ffd3" stroke="#00ffd3"/><path d="M506.7,54.3 511.2,54.6 506.7,51.2 502.3,50.9z" fill="#00ff37" stroke="#00ff37"/><path d="M511.2,57.6 515.6,58 511.2,54.6 506.7,54.3z" fill="#00ff4a" stroke="#00ff4a"/><path d="M538.1,72.9 542.3,73.5 537.8,70.8 533.6,70.2z" fill="#00ffe8" stroke="#00ffe8"/><path d="M515.7,60.8 520.1,61.2 515.6,58 511.2,57.6z" fill="#00ff5b" stroke="#00ff5b"/><path d="M479.9,36.6 484.5,36.5 480.1,32.7 475.5,32.9z" fill="#43ff00" stroke="#43ff00"/><path d="M484.3,40.3 489,40.2 484.5,36.5 479.9,36.6z" fill="#2fff00" stroke="#2fff00"/><path d="M520.2,63.9 524.5,64.3 520.1,61.2 515.7,60.8z" fill="#00ff6b" stroke="#00ff6b"/><path d="M488.8,43.9 493.4,43.9 489,40.2 484.3,40.3z" fill="#1bff00" stroke="#1bff00"/><path d="M542.7,75.5 546.9,76.2 542.3,73.5 538.1,72.9z" fill="#00fff9" stroke="#00fff9"/><path d="M493.3,47.4 497.8,47.5 493.4,43.9 488.8,43.9z" fill="#09ff00" stroke="#09ff00"/><path d="M524.7,66.9 529,67.3 524.5,64.3 520.2,63.9z" fill="#00ff81" stroke="#00ff81"/><path d="M497.7,50.9 502.3,50.9 497.8,47.5 493.3,47.4z" fill="#00ff0a" stroke="#00ff0a"/><path d="M547.3,77.9 551.5,78.6 546.9,76.2 542.7,75.5z" fill="#00f7ff" stroke="#00f7ff"/><path d="M502.2,54.2 506.7,54.3 502.3,50.9 497.7,50.9z" fill="#00ff1e" stroke="#00ff1e"/><path d="M529.2,69.7 533.6,70.2 529,67.3 524.7,66.9z" fill="#00ff98" stroke="#00ff98"/><path d="M506.7,57.5 511.2,57.6 506.7,54.3 502.2,54.2z" fill="#00ff30" stroke="#00ff30"/><path d="M475.2,36.9 479.9,36.6 475.5,32.9 470.7,33.2z" fill="#54ff00" stroke="#54ff00"/><path d="M552,80.2 556.1,80.9 551.5,78.6 547.3,77.9z" fill="#00eeff" stroke="#00eeff"/><path d="M511.2,60.6 515.7,60.8 511.2,57.6 506.7,57.5z" fill="#00ff41" stroke="#00ff41"/><path d="M533.8,72.4 538.1,72.9 533.6,70.2 529.2,69.7z" fill="#00ffac" stroke="#00ffac"/><path d="M479.7,40.5 484.3,40.3 479.9,36.6 475.2,36.9z" fill="#3fff00" stroke="#3fff00"/><path d="M484.2,44.1 488.8,43.9 484.3,40.3 479.7,40.5z" fill="#2cff00" stroke="#2cff00"/><path d="M515.7,63.7 520.2,63.9 515.7,60.8 511.2,60.6z" fill="#00ff50" stroke="#00ff50"/><path d="M488.6,47.6 493.3,47.4 488.8,43.9 484.2,44.1z" fill="#1aff00" stroke="#1aff00"/><path d="M538.4,74.9 542.7,75.5 538.1,72.9 533.8,72.4z" fill="#00ffbc" stroke="#00ffbc"/><path d="M493.1,51 497.7,50.9 493.3,47.4 488.6,47.6z" fill="#0aff00" stroke="#0aff00"/><path d="M556.7,82.3 560.7,83.1 556.1,80.9 552,80.2z" fill="#00eaff" stroke="#00eaff"/><path d="M520.3,66.6 524.7,66.9 520.2,63.9 515.7,63.7z" fill="#00ff5d" stroke="#00ff5d"/><path d="M497.6,54.3 502.2,54.2 497.7,50.9 493.1,51z" fill="#00ff07" stroke="#00ff07"/><path d="M543.1,77.3 547.3,77.9 542.7,75.5 538.4,74.9z" fill="#00ffc8" stroke="#00ffc8"/><path d="M524.9,69.4 529.2,69.7 524.7,66.9 520.3,66.6z" fill="#00ff69" stroke="#00ff69"/><path d="M502.2,57.5 506.7,57.5 502.2,54.2 497.6,54.3z" fill="#00ff19" stroke="#00ff19"/><path d="M470.5,37.4 475.2,36.9 470.7,33.2 466,33.7z" fill="#7fff00" stroke="#7fff00"/><path d="M475,40.9 479.7,40.5 475.2,36.9 470.5,37.4z" fill="#4dff00" stroke="#4dff00"/><path d="M561.4,84.2 565.5,85.1 560.7,83.1 556.7,82.3z" fill="#00eaff" stroke="#00eaff"/><path d="M506.7,60.6 511.2,60.6 506.7,57.5 502.2,57.5z" fill="#00ff28" stroke="#00ff28"/><path d="M479.5,44.4 484.2,44.1 479.7,40.5 475,40.9z" fill="#3bff00" stroke="#3bff00"/><path d="M529.5,72 533.8,72.4 529.2,69.7 524.9,69.4z" fill="#00ff74" stroke="#00ff74"/><path d="M547.7,79.6 552,80.2 547.3,77.9 543.1,77.3z" fill="#00ffcf" stroke="#00ffcf"/><path d="M484,47.9 488.6,47.6 484.2,44.1 479.5,44.4z" fill="#2aff00" stroke="#2aff00"/><path d="M511.2,63.6 515.7,63.7 511.2,60.6 506.7,60.6z" fill="#00ff37" stroke="#00ff37"/><path d="M488.5,51.2 493.1,51 488.6,47.6 484,47.9z" fill="#1aff00" stroke="#1aff00"/><path d="M566.2,86 570.2,86.9 565.5,85.1 561.4,84.2z" fill="#00efff" stroke="#00efff"/><path d="M534.1,74.5 538.4,74.9 533.8,72.4 529.5,72z" fill="#00ff82" stroke="#00ff82"/><path d="M515.8,66.4 520.3,66.6 515.7,63.7 511.2,63.6z" fill="#00ff43" stroke="#00ff43"/><path d="M493,54.5 497.6,54.3 493.1,51 488.5,51.2z" fill="#0bff00" stroke="#0bff00"/><path d="M552.5,81.6 556.7,82.3 552,80.2 547.7,79.6z" fill="#00ffd3" stroke="#00ffd3"/><path d="M465.7,38 470.5,37.4 466,33.7 461.2,34.4z" fill="#a9ff00" stroke="#a9ff00"/><path d="M497.6,57.6 502.2,57.5 497.6,54.3 493,54.5z" fill="#00ff03" stroke="#00ff03"/><path d="M470.2,41.5 475,40.9 470.5,37.4 465.7,38z" fill="#6cff00" stroke="#6cff00"/><path d="M520.4,69.2 524.9,69.4 520.3,66.6 515.8,66.4z" fill="#00ff4e" stroke="#00ff4e"/><path d="M538.8,76.9 543.1,77.3 538.4,74.9 534.1,74.5z" fill="#00ff8d" stroke="#00ff8d"/><path d="M474.7,45 479.5,44.4 475,40.9 470.2,41.5z" fill="#49ff00" stroke="#49ff00"/><path d="M502.1,60.7 506.7,60.6 502.2,57.5 497.6,57.6z" fill="#00ff12" stroke="#00ff12"/><path d="M571.1,87.6 575.1,88.5 570.2,86.9 566.2,86z" fill="#00f9ff" stroke="#00f9ff"/><path d="M479.2,48.3 484,47.9 479.5,44.4 474.7,45z" fill="#38ff00" stroke="#38ff00"/><path d="M557.2,83.5 561.4,84.2 556.7,82.3 552.5,81.6z" fill="#00ffd1" stroke="#00ffd1"/><path d="M525,71.8 529.5,72 524.9,69.4 520.4,69.2z" fill="#00ff57" stroke="#00ff57"/><path d="M506.7,63.6 511.2,63.6 506.7,60.6 502.1,60.7z" fill="#00ff1f" stroke="#00ff1f"/><path d="M483.8,51.6 488.5,51.2 484,47.9 479.2,48.3z" fill="#29ff00" stroke="#29ff00"/><path d="M543.5,79.1 547.7,79.6 543.1,77.3 538.8,76.9z" fill="#00ff93" stroke="#00ff93"/><path d="M460.9,38.8 465.7,38 461.2,34.4 456.4,35.3z" fill="#cdff00" stroke="#cdff00"/><path d="M488.3,54.9 493,54.5 488.5,51.2 483.8,51.6z" fill="#1bff00" stroke="#1bff00"/><path d="M511.3,66.5 515.8,66.4 511.2,63.6 506.7,63.6z" fill="#00ff2b" stroke="#00ff2b"/><path d="M529.7,74.3 534.1,74.5 529.5,72 525,71.8z" fill="#00ff5e" stroke="#00ff5e"/><path d="M465.4,42.3 470.2,41.5 465.7,38 460.9,38.8z" fill="#8eff00" stroke="#8eff00"/><path d="M576,89 580,89.9 575.1,88.5 571.1,87.6z" fill="#00fff5" stroke="#00fff5"/><path d="M562.1,85.3 566.2,86 561.4,84.2 557.2,83.5z" fill="#00ffcb" stroke="#00ffcb"/><path d="M492.9,58 497.6,57.6 493,54.5 488.3,54.9z" fill="#0eff00" stroke="#0eff00"/><path d="M469.9,45.7 474.7,45 470.2,41.5 465.4,42.3z" fill="#59ff00" stroke="#59ff00"/><path d="M548.2,81.1 552.5,81.6 547.7,79.6 543.5,79.1z" fill="#00ff95" stroke="#00ff95"/><path d="M515.9,69.2 520.4,69.2 515.8,66.4 511.3,66.5z" fill="#00ff35" stroke="#00ff35"/><path d="M474.5,49 479.2,48.3 474.7,45 469.9,45.7z" fill="#45ff00" stroke="#45ff00"/><path d="M497.5,61 502.1,60.7 497.6,57.6 492.9,58z" fill="#02ff00" stroke="#02ff00"/><path d="M534.4,76.6 538.8,76.9 534.1,74.5 529.7,74.3z" fill="#00ff62" stroke="#00ff62"/><path d="M479,52.2 483.8,51.6 479.2,48.3 474.5,49z" fill="#36ff00" stroke="#36ff00"/><path d="M456,39.8 460.9,38.8 456.4,35.3 451.5,36.3z" fill="#deff00" stroke="#deff00"/><path d="M502.1,63.9 506.7,63.6 502.1,60.7 497.5,61z" fill="#00ff0a" stroke="#00ff0a"/><path d="M520.5,71.7 525,71.8 520.4,69.2 515.9,69.2z" fill="#00ff3d" stroke="#00ff3d"/><path d="M567,86.8 571.1,87.6 566.2,86 562.1,85.3z" fill="#00ffbf" stroke="#00ffbf"/><path d="M553,83 557.2,83.5 552.5,81.6 548.2,81.1z" fill="#00ff92" stroke="#00ff92"/><path d="M483.6,55.4 488.3,54.9 483.8,51.6 479,52.2z" fill="#29ff00" stroke="#29ff00"/><path d="M581,90.1 584.9,91.1 580,89.9 576,89z" fill="#00ffe0" stroke="#00ffe0"/><path d="M460.5,43.2 465.4,42.3 460.9,38.8 456,39.8z" fill="#afff00" stroke="#afff00"/><path d="M539.1,78.7 543.5,79.1 538.8,76.9 534.4,76.6z" fill="#00ff65" stroke="#00ff65"/><path d="M506.7,66.7 511.3,66.5 506.7,63.6 502.1,63.9z" fill="#00ff15" stroke="#00ff15"/><path d="M465.1,46.5 469.9,45.7 465.4,42.3 460.5,43.2z" fill="#79ff00" stroke="#79ff00"/><path d="M488.2,58.5 492.9,58 488.3,54.9 483.6,55.4z" fill="#1cff00" stroke="#1cff00"/><path d="M525.2,74.2 529.7,74.3 525,71.8 520.5,71.7z" fill="#00ff43" stroke="#00ff43"/><path d="M469.6,49.8 474.5,49 469.9,45.7 465.1,46.5z" fill="#4fff00" stroke="#4fff00"/><path d="M492.8,61.4 497.5,61 492.9,58 488.2,58.5z" fill="#11ff00" stroke="#11ff00"/><path d="M511.3,69.3 515.9,69.2 511.3,66.5 506.7,66.7z" fill="#00ff1f" stroke="#00ff1f"/><path d="M557.9,84.7 562.1,85.3 557.2,83.5 553,83z" fill="#00ff8b" stroke="#00ff8b"/><path d="M543.9,80.8 548.2,81.1 543.5,79.1 539.1,78.7z" fill="#00ff65" stroke="#00ff65"/><path d="M571.9,88.2 576,89 571.1,87.6 567,86.8z" fill="#00ffaf" stroke="#00ffaf"/><path d="M451.1,41 456,39.8 451.5,36.3 446.6,37.6z" fill="#ecff00" stroke="#ecff00"/><path d="M474.2,53 479,52.2 474.5,49 469.6,49.8z" fill="#41ff00" stroke="#41ff00"/><path d="M529.9,76.4 534.4,76.6 529.7,74.3 525.2,74.2z" fill="#00ff47" stroke="#00ff47"/><path d="M586.1,91.1 590,92.1 584.9,91.1 581,90.1z" fill="#00ffc6" stroke="#00ffc6"/><path d="M455.7,44.3 460.5,43.2 456,39.8 451.1,41z" fill="#c9ff00" stroke="#c9ff00"/><path d="M497.4,64.3 502.1,63.9 497.5,61 492.8,61.4z" fill="#07ff00" stroke="#07ff00"/><path d="M478.8,56.1 483.6,55.4 479,52.2 474.2,53z" fill="#35ff00" stroke="#35ff00"/><path d="M516,71.8 520.5,71.7 515.9,69.2 511.3,69.3z" fill="#00ff26" stroke="#00ff26"/><path d="M460.2,47.6 465.1,46.5 460.5,43.2 455.7,44.3z" fill="#92ff00" stroke="#92ff00"/><path d="M548.7,82.6 553,83 548.2,81.1 543.9,80.8z" fill="#00ff63" stroke="#00ff63"/><path d="M483.4,59.1 488.2,58.5 483.6,55.4 478.8,56.1z" fill="#29ff00" stroke="#29ff00"/><path d="M502,67 506.7,66.7 502.1,63.9 497.4,64.3z" fill="#00ff02" stroke="#00ff02"/><path d="M562.8,86.2 567,86.8 562.1,85.3 557.9,84.7z" fill="#00ff7e" stroke="#00ff7e"/><path d="M534.7,78.6 539.1,78.7 534.4,76.6 529.9,76.4z" fill="#00ff49" stroke="#00ff49"/><path d="M464.8,50.8 469.6,49.8 465.1,46.5 460.2,47.6z" fill="#65ff00" stroke="#65ff00"/><path d="M576.9,89.3 581,90.1 576,89 571.9,88.2z" fill="#00ff99" stroke="#00ff99"/><path d="M446.2,42.3 451.1,41 446.6,37.6 441.6,39z" fill="#f5ff00" stroke="#f5ff00"/><path d="M520.7,74.2 525.2,74.2 520.5,71.7 516,71.8z" fill="#00ff2b" stroke="#00ff2b"/><path d="M488,62 492.8,61.4 488.2,58.5 483.4,59.1z" fill="#1fff00" stroke="#1fff00"/><path d="M469.4,53.9 474.2,53 469.6,49.8 464.8,50.8z" fill="#4bff00" stroke="#4bff00"/><path d="M450.7,45.6 455.7,44.3 451.1,41 446.2,42.3z" fill="#d6ff00" stroke="#d6ff00"/><path d="M506.7,69.6 511.3,69.3 506.7,66.7 502,67z" fill="#00ff0a" stroke="#00ff0a"/><path d="M591.2,91.8 595.1,92.9 590,92.1 586.1,91.1z" fill="#00ffa5" stroke="#00ffa5"/><path d="M539.5,80.5 543.9,80.8 539.1,78.7 534.7,78.6z" fill="#00ff49" stroke="#00ff49"/><path d="M474,57 478.8,56.1 474.2,53 469.4,53.9z" fill="#3fff00" stroke="#3fff00"/><path d="M553.6,84.2 557.9,84.7 553,83 548.7,82.6z" fill="#00ff5e" stroke="#00ff5e"/><path d="M455.3,48.8 460.2,47.6 455.7,44.3 450.7,45.6z" fill="#a9ff00" stroke="#a9ff00"/><path d="M492.6,64.8 497.4,64.3 492.8,61.4 488,62z" fill="#15ff00" stroke="#15ff00"/><path d="M525.4,76.5 529.9,76.4 525.2,74.2 520.7,74.2z" fill="#00ff2e" stroke="#00ff2e"/><path d="M567.8,87.5 571.9,88.2 567,86.8 562.8,86.2z" fill="#00ff6e" stroke="#00ff6e"/><path d="M511.4,72.1 516,71.8 511.3,69.3 506.7,69.6z" fill="#00ff10" stroke="#00ff10"/><path d="M459.9,52 464.8,50.8 460.2,47.6 455.3,48.8z" fill="#7bff00" stroke="#7bff00"/><path d="M441.2,43.8 446.2,42.3 441.6,39 436.6,40.6z" fill="#fbff00" stroke="#fbff00"/><path d="M478.6,59.9 483.4,59.1 478.8,56.1 474,57z" fill="#34ff00" stroke="#34ff00"/><path d="M582.1,90.2 586.1,91.1 581,90.1 576.9,89.3z" fill="#00ff7d" stroke="#00ff7d"/><path d="M497.3,67.5 502,67 497.4,64.3 492.6,64.8z" fill="#0eff00" stroke="#0eff00"/><path d="M445.8,47.1 450.7,45.6 446.2,42.3 441.2,43.8z" fill="#ddff00" stroke="#ddff00"/><path d="M464.5,55 469.4,53.9 464.8,50.8 459.9,52z" fill="#54ff00" stroke="#54ff00"/><path d="M544.3,82.3 548.7,82.6 543.9,80.8 539.5,80.5z" fill="#00ff46" stroke="#00ff46"/><path d="M530.2,78.5 534.7,78.6 529.9,76.4 525.4,76.5z" fill="#00ff30" stroke="#00ff30"/><path d="M483.2,62.8 488,62 483.4,59.1 478.6,59.9z" fill="#2aff00" stroke="#2aff00"/><path d="M516.1,74.4 520.7,74.2 516,71.8 511.4,72.1z" fill="#00ff15" stroke="#00ff15"/><path d="M558.5,85.7 562.8,86.2 557.9,84.7 553.6,84.2z" fill="#00ff57" stroke="#00ff57"/><path d="M450.3,50.2 455.3,48.8 450.7,45.6 445.8,47.1z" fill="#b9ff00" stroke="#b9ff00"/><path d="M596.5,92.4 600.4,93.5 595.1,92.9 591.2,91.8z" fill="#00ff7f" stroke="#00ff7f"/><path d="M502,70.1 506.7,69.6 502,67 497.3,67.5z" fill="#07ff00" stroke="#07ff00"/><path d="M469.1,58 474,57 469.4,53.9 464.5,55z" fill="#47ff00" stroke="#47ff00"/><path d="M572.8,88.6 576.9,89.3 571.9,88.2 567.8,87.5z" fill="#00ff62" stroke="#00ff62"/><path d="M436.2,45.6 441.2,43.8 436.6,40.6 431.6,42.4z" fill="#fdff00" stroke="#fdff00"/><path d="M487.8,65.6 492.6,64.8 488,62 483.2,62.8z" fill="#22ff00" stroke="#22ff00"/><path d="M454.9,53.3 459.9,52 455.3,48.8 450.3,50.2z" fill="#8bff00" stroke="#8bff00"/><path d="M535,80.5 539.5,80.5 534.7,78.6 530.2,78.5z" fill="#00ff2e" stroke="#00ff2e"/><path d="M473.7,61 478.6,59.9 474,57 469.1,58z" fill="#3dff00" stroke="#3dff00"/><path d="M520.8,76.6 525.4,76.5 520.7,74.2 516.1,74.4z" fill="#00ff18" stroke="#00ff18"/><path d="M440.8,48.7 445.8,47.1 441.2,43.8 436.2,45.6z" fill="#e0ff00" stroke="#e0ff00"/><path d="M549.2,83.9 553.6,84.2 548.7,82.6 544.3,82.3z" fill="#00ff41" stroke="#00ff41"/><path d="M506.7,72.5 511.4,72.1 506.7,69.6 502,70.1z" fill="#02ff00" stroke="#02ff00"/><path d="M587.2,90.9 591.2,91.8 586.1,91.1 582.1,90.2z" fill="#00ff65" stroke="#00ff65"/><path d="M459.5,56.3 464.5,55 459.9,52 454.9,53.3z" fill="#67ff00" stroke="#67ff00"/><path d="M492.5,68.2 497.3,67.5 492.6,64.8 487.8,65.6z" fill="#1bff00" stroke="#1bff00"/><path d="M563.5,87 567.8,87.5 562.8,86.2 558.5,85.7z" fill="#00ff4d" stroke="#00ff4d"/><path d="M445.3,51.8 450.3,50.2 445.8,47.1 440.8,48.7z" fill="#c1ff00" stroke="#c1ff00"/><path d="M478.3,63.8 483.2,62.8 478.6,59.9 473.7,61z" fill="#34ff00" stroke="#34ff00"/><path d="M431.2,47.5 436.2,45.6 431.6,42.4 426.6,44.3z" fill="#faff00" stroke="#faff00"/><path d="M464.1,59.3 469.1,58 464.5,55 459.5,56.3z" fill="#4eff00" stroke="#4eff00"/><path d="M525.6,78.7 530.2,78.5 525.4,76.5 520.8,76.6z" fill="#00ff18" stroke="#00ff18"/><path d="M511.4,74.8 516.1,74.4 511.4,72.1 506.7,72.5z" fill="#00ff01" stroke="#00ff01"/><path d="M578,89.5 582.1,90.2 576.9,89.3 572.8,88.6z" fill="#00ff53" stroke="#00ff53"/><path d="M539.9,82.2 544.3,82.3 539.5,80.5 535,80.5z" fill="#00ff2b" stroke="#00ff2b"/><path d="M497.2,70.7 502,70.1 497.3,67.5 492.5,68.2z" fill="#15ff00" stroke="#15ff00"/><path d="M601.9,92.6 605.7,93.8 600.4,93.5 596.5,92.4z" fill="#00ff60" stroke="#00ff60"/><path d="M449.9,54.9 454.9,53.3 450.3,50.2 445.3,51.8z" fill="#97ff00" stroke="#97ff00"/><path d="M483,66.5 487.8,65.6 483.2,62.8 478.3,63.8z" fill="#2cff00" stroke="#2cff00"/><path d="M435.7,50.6 440.8,48.7 436.2,45.6 431.2,47.5z" fill="#e0ff00" stroke="#e0ff00"/><path d="M554.2,85.4 558.5,85.7 553.6,84.2 549.2,83.9z" fill="#00ff39" stroke="#00ff39"/><path d="M468.8,62.1 473.7,61 469.1,58 464.1,59.3z" fill="#44ff00" stroke="#44ff00"/><path d="M454.5,57.8 459.5,56.3 454.9,53.3 449.9,54.9z" fill="#74ff00" stroke="#74ff00"/><path d="M440.3,53.6 445.3,51.8 440.8,48.7 435.7,50.6z" fill="#c4ff00" stroke="#c4ff00"/><path d="M592.5,91.4 596.5,92.4 591.2,91.8 587.2,90.9z" fill="#00ff50" stroke="#00ff50"/><path d="M568.6,88 572.8,88.6 567.8,87.5 563.5,87z" fill="#00ff40" stroke="#00ff40"/><path d="M426.1,49.6 431.2,47.5 426.6,44.3 421.5,46.5z" fill="#f3ff00" stroke="#f3ff00"/><path d="M516.2,77 520.8,76.6 516.1,74.4 511.4,74.8z" fill="#00ff03" stroke="#00ff03"/><path d="M501.9,73.1 506.7,72.5 502,70.1 497.2,70.7z" fill="#11ff00" stroke="#11ff00"/><path d="M487.7,69.1 492.5,68.2 487.8,65.6 483,66.5z" fill="#26ff00" stroke="#26ff00"/><path d="M530.5,80.6 535,80.5 530.2,78.5 525.6,78.7z" fill="#00ff16" stroke="#00ff16"/><path d="M473.4,64.9 478.3,63.8 473.7,61 468.8,62.1z" fill="#3cff00" stroke="#3cff00"/><path d="M544.8,83.8 549.2,83.9 544.3,82.3 539.9,82.2z" fill="#00ff25" stroke="#00ff25"/><path d="M459.2,60.7 464.1,59.3 459.5,56.3 454.5,57.8z" fill="#55ff00" stroke="#55ff00"/><path d="M444.9,56.6 449.9,54.9 445.3,51.8 440.3,53.6z" fill="#9cff00" stroke="#9cff00"/><path d="M430.7,52.6 435.7,50.6 431.2,47.5 426.1,49.6z" fill="#dbff00" stroke="#dbff00"/><path d="M583.2,90.1 587.2,90.9 582.1,90.2 578,89.5z" fill="#00ff40" stroke="#00ff40"/><path d="M559.2,86.6 563.5,87 558.5,85.7 554.2,85.4z" fill="#00ff2e" stroke="#00ff2e"/><path d="M492.4,71.5 497.2,70.7 492.5,68.2 487.7,69.1z" fill="#21ff00" stroke="#21ff00"/><path d="M506.7,75.4 511.4,74.8 506.7,72.5 501.9,73.1z" fill="#0eff00" stroke="#0eff00"/><path d="M478.1,67.5 483,66.5 478.3,63.8 473.4,64.9z" fill="#35ff00" stroke="#35ff00"/><path d="M421,51.8 426.1,49.6 421.5,46.5 416.5,48.8z" fill="#e9ff00" stroke="#e9ff00"/><path d="M521,79 525.6,78.7 520.8,76.6 516.2,77z" fill="#00ff02" stroke="#00ff02"/><path d="M463.8,63.5 468.8,62.1 464.1,59.3 459.2,60.7z" fill="#4aff00" stroke="#4aff00"/><path d="M449.5,59.5 454.5,57.8 449.9,54.9 444.9,56.6z" fill="#7bff00" stroke="#7bff00"/><path d="M435.3,55.6 440.3,53.6 435.7,50.6 430.7,52.6z" fill="#bfff00" stroke="#bfff00"/><path d="M535.3,82.3 539.9,82.2 535,80.5 530.5,80.6z" fill="#00ff12" stroke="#00ff12"/><path d="M573.8,88.9 578,89.5 572.8,88.6 568.6,88z" fill="#00ff30" stroke="#00ff30"/><path d="M425.6,54.8 430.7,52.6 426.1,49.6 421,51.8z" fill="#d2ff00" stroke="#d2ff00"/><path d="M549.8,85.2 554.2,85.4 549.2,83.9 544.8,83.8z" fill="#00ff1c" stroke="#00ff1c"/><path d="M439.9,58.5 444.9,56.6 440.3,53.6 435.3,55.6z" fill="#9aff00" stroke="#9aff00"/><path d="M482.8,70.1 487.7,69.1 483,66.5 478.1,67.5z" fill="#30ff00" stroke="#30ff00"/><path d="M468.5,66.2 473.4,64.9 468.8,62.1 463.8,63.5z" fill="#43ff00" stroke="#43ff00"/><path d="M454.2,62.3 459.2,60.7 454.5,57.8 449.5,59.5z" fill="#5eff00" stroke="#5eff00"/><path d="M497.1,73.9 501.9,73.1 497.2,70.7 492.4,71.5z" fill="#1eff00" stroke="#1eff00"/><path d="M597.9,91.6 601.9,92.6 596.5,92.4 592.5,91.4z" fill="#00ff38" stroke="#00ff38"/><path d="M511.5,77.5 516.2,77 511.4,74.8 506.7,75.4z" fill="#0dff00" stroke="#0dff00"/><path d="M415.9,54.3 421,51.8 416.5,48.8 411.4,51.4z" fill="#daff00" stroke="#daff00"/><path d="M525.8,80.8 530.5,80.6 525.6,78.7 521,79z" fill="#00ff00" stroke="#00ff00"/><path d="M430.2,57.7 435.3,55.6 430.7,52.6 425.6,54.8z" fill="#b3ff00" stroke="#b3ff00"/><path d="M564.3,87.6 568.6,88 563.5,87 559.2,86.6z" fill="#00ff20" stroke="#00ff20"/><path d="M444.5,61.3 449.5,59.5 444.9,56.6 439.9,58.5z" fill="#7cff00" stroke="#7cff00"/><path d="M458.8,65 463.8,63.5 459.2,60.7 454.2,62.3z" fill="#4eff00" stroke="#4eff00"/><path d="M473.1,68.8 478.1,67.5 473.4,64.9 468.5,66.2z" fill="#3cff00" stroke="#3cff00"/><path d="M588.5,90.6 592.5,91.4 587.2,90.9 583.2,90.1z" fill="#00ff2b" stroke="#00ff2b"/><path d="M540.3,83.8 544.8,83.8 539.9,82.2 535.3,82.3z" fill="#00ff0b" stroke="#00ff0b"/><path d="M487.5,72.5 492.4,71.5 487.7,69.1 482.8,70.1z" fill="#2bff00" stroke="#2bff00"/><path d="M420.5,57.2 425.6,54.8 421,51.8 415.9,54.3z" fill="#c1ff00" stroke="#c1ff00"/><path d="M501.9,76.1 506.7,75.4 501.9,73.1 497.1,73.9z" fill="#1cff00" stroke="#1cff00"/><path d="M434.8,60.6 439.9,58.5 435.3,55.6 430.2,57.7z" fill="#92ff00" stroke="#92ff00"/><path d="M410.8,57 415.9,54.3 411.4,51.4 406.3,54.1z" fill="#c4ff00" stroke="#c4ff00"/><path d="M516.3,79.4 521,79 516.2,77 511.5,77.5z" fill="#0eff00" stroke="#0eff00"/><path d="M449.1,64.1 454.2,62.3 449.5,59.5 444.5,61.3z" fill="#62ff00" stroke="#62ff00"/><path d="M554.8,86.4 559.2,86.6 554.2,85.4 549.8,85.2z" fill="#00ff11" stroke="#00ff11"/><path d="M463.5,67.7 468.5,66.2 463.8,63.5 458.8,65z" fill="#47ff00" stroke="#47ff00"/><path d="M579,89.5 583.2,90.1 578,89.5 573.8,88.9z" fill="#00ff1d" stroke="#00ff1d"/><path d="M425.1,60 430.2,57.7 425.6,54.8 420.5,57.2z" fill="#a0ff00" stroke="#a0ff00"/><path d="M477.8,71.3 482.8,70.1 478.1,67.5 473.1,68.8z" fill="#37ff00" stroke="#37ff00"/><path d="M530.7,82.5 535.3,82.3 530.5,80.6 525.8,80.8z" fill="#04ff00" stroke="#04ff00"/><path d="M492.2,74.8 497.1,73.9 492.4,71.5 487.5,72.5z" fill="#29ff00" stroke="#29ff00"/><path d="M415.4,59.8 420.5,57.2 415.9,54.3 410.8,57z" fill="#a5ff00" stroke="#a5ff00"/><path d="M439.4,63.3 444.5,61.3 439.9,58.5 434.8,60.6z" fill="#77ff00" stroke="#77ff00"/><path d="M405.7,59.8 410.8,57 406.3,54.1 401.2,57z" fill="#9dff00" stroke="#9dff00"/><path d="M506.7,78.1 511.5,77.5 506.7,75.4 501.9,76.1z" fill="#1cff00" stroke="#1cff00"/><path d="M453.8,66.8 458.8,65 454.2,62.3 449.1,64.1z" fill="#50ff00" stroke="#50ff00"/><path d="M545.3,85.1 549.8,85.2 544.8,83.8 540.3,83.8z" fill="#00ff02" stroke="#00ff02"/><path d="M569.5,88.4 573.8,88.9 568.6,88 564.3,87.6z" fill="#00ff10" stroke="#00ff10"/><path d="M429.7,62.8 434.8,60.6 430.2,57.7 425.1,60z" fill="#84ff00" stroke="#84ff00"/><path d="M468.2,70.2 473.1,68.8 468.5,66.2 463.5,67.7z" fill="#42ff00" stroke="#42ff00"/><path d="M521.1,81.2 525.8,80.8 521,79 516.3,79.4z" fill="#11ff00" stroke="#11ff00"/><path d="M482.6,73.7 487.5,72.5 482.8,70.1 477.8,71.3z" fill="#34ff00" stroke="#34ff00"/><path d="M420,62.6 425.1,60 420.5,57.2 415.4,59.8z" fill="#88ff00" stroke="#88ff00"/><path d="M444,66.1 449.1,64.1 444.5,61.3 439.4,63.3z" fill="#60ff00" stroke="#60ff00"/><path d="M410.3,62.6 415.4,59.8 410.8,57 405.7,59.8z" fill="#83ff00" stroke="#83ff00"/><path d="M593.9,90.7 597.9,91.6 592.5,91.4 588.5,90.6z" fill="#00ff12" stroke="#00ff12"/><path d="M400.6,62.9 405.7,59.8 401.2,57 396.1,60.1z" fill="#74ff00" stroke="#74ff00"/><path d="M497,77 501.9,76.1 497.1,73.9 492.2,74.8z" fill="#27ff00" stroke="#27ff00"/><path d="M458.4,69.4 463.5,67.7 458.8,65 453.8,66.8z" fill="#4aff00" stroke="#4aff00"/><path d="M535.7,84 540.3,83.8 535.3,82.3 530.7,82.5z" fill="#0bff00" stroke="#0bff00"/><path d="M559.9,87.3 564.3,87.6 559.2,86.6 554.8,86.4z" fill="#00ff03" stroke="#00ff03"/><path d="M434.3,65.6 439.4,63.3 434.8,60.6 429.7,62.8z" fill="#6dff00" stroke="#6dff00"/><path d="M472.9,72.7 477.8,71.3 473.1,68.8 468.2,70.2z" fill="#3dff00" stroke="#3dff00"/><path d="M511.5,80.1 516.3,79.4 511.5,77.5 506.7,78.1z" fill="#1dff00" stroke="#1dff00"/><path d="M424.6,65.3 429.7,62.8 425.1,60 420,62.6z" fill="#71ff00" stroke="#71ff00"/><path d="M448.7,68.7 453.8,66.8 449.1,64.1 444,66.1z" fill="#50ff00" stroke="#50ff00"/><path d="M584.3,89.9 588.5,90.6 583.2,90.1 579,89.5z" fill="#00ff07" stroke="#00ff07"/><path d="M395.5,66.1 400.6,62.9 396.1,60.1 391,63.4z" fill="#4eff00" stroke="#4eff00"/><path d="M414.9,65.3 420,62.6 415.4,59.8 410.3,62.6z" fill="#6cff00" stroke="#6cff00"/><path d="M487.3,75.9 492.2,74.8 487.5,72.5 482.6,73.7z" fill="#32ff00" stroke="#32ff00"/><path d="M405.2,65.5 410.3,62.6 405.7,59.8 400.6,62.9z" fill="#5eff00" stroke="#5eff00"/><path d="M550.3,86.3 554.8,86.4 549.8,85.2 545.3,85.1z" fill="#09ff00" stroke="#09ff00"/><path d="M526.1,82.8 530.7,82.5 525.8,80.8 521.1,81.2z" fill="#16ff00" stroke="#16ff00"/><path d="M463.1,71.9 468.2,70.2 463.5,67.7 458.4,69.4z" fill="#45ff00" stroke="#45ff00"/><path d="M438.9,68.2 444,66.1 439.4,63.3 434.3,65.6z" fill="#58ff00" stroke="#58ff00"/><path d="M501.8,79 506.7,78.1 501.9,76.1 497,77z" fill="#28ff00" stroke="#28ff00"/><path d="M574.8,89 579,89.5 573.8,88.9 569.5,88.4z" fill="#03ff00" stroke="#03ff00"/><path d="M390.4,69.5 395.5,66.1 391,63.4 385.9,66.9z" fill="#3eff00" stroke="#3eff00"/><path d="M429.2,68 434.3,65.6 429.7,62.8 424.6,65.3z" fill="#5cff00" stroke="#5cff00"/><path d="M477.6,75 482.6,73.7 477.8,71.3 472.9,72.7z" fill="#3bff00" stroke="#3bff00"/><path d="M453.4,71.2 458.4,69.4 453.8,66.8 448.7,68.7z" fill="#4bff00" stroke="#4bff00"/><path d="M400,68.7 405.2,65.5 400.6,62.9 395.5,66.1z" fill="#48ff00" stroke="#48ff00"/><path d="M419.4,67.9 424.6,65.3 420,62.6 414.9,65.3z" fill="#58ff00" stroke="#58ff00"/><path d="M409.7,68.2 414.9,65.3 410.3,62.6 405.2,65.5z" fill="#4fff00" stroke="#4fff00"/><path d="M540.7,85.3 545.3,85.1 540.3,83.8 535.7,84z" fill="#13ff00" stroke="#13ff00"/><path d="M516.4,81.8 521.1,81.2 516.3,79.4 511.5,80.1z" fill="#21ff00" stroke="#21ff00"/><path d="M492.1,78 497,77 492.2,74.8 487.3,75.9z" fill="#31ff00" stroke="#31ff00"/><path d="M385.3,73.1 390.4,69.5 385.9,66.9 380.8,70.6z" fill="#2cff00" stroke="#2cff00"/><path d="M443.6,70.8 448.7,68.7 444,66.1 438.9,68.2z" fill="#4eff00" stroke="#4eff00"/><path d="M467.8,74.2 472.9,72.7 468.2,70.2 463.1,71.9z" fill="#42ff00" stroke="#42ff00"/><path d="M565.1,88.1 569.5,88.4 564.3,87.6 559.9,87.3z" fill="#0cff00" stroke="#0cff00"/><path d="M394.9,72.1 400,68.7 395.5,66.1 390.4,69.5z" fill="#39ff00" stroke="#39ff00"/><path d="M433.8,70.5 438.9,68.2 434.3,65.6 429.2,68z" fill="#4fff00" stroke="#4fff00"/><path d="M380.2,76.9 385.3,73.1 380.8,70.6 375.7,74.4z" fill="#19ff00" stroke="#19ff00"/><path d="M506.7,80.8 511.5,80.1 506.7,78.1 501.8,79z" fill="#2aff00" stroke="#2aff00"/><path d="M531,84.3 535.7,84 530.7,82.5 526.1,82.8z" fill="#1dff00" stroke="#1dff00"/><path d="M424,70.5 429.2,68 424.6,65.3 419.4,67.9z" fill="#4eff00" stroke="#4eff00"/><path d="M404.6,71.3 409.7,68.2 405.2,65.5 400,68.7z" fill="#43ff00" stroke="#43ff00"/><path d="M482.4,77.2 487.3,75.9 482.6,73.7 477.6,75z" fill="#39ff00" stroke="#39ff00"/><path d="M458.1,73.7 463.1,71.9 458.4,69.4 453.4,71.2z" fill="#47ff00" stroke="#47ff00"/><path d="M414.3,70.8 419.4,67.9 414.9,65.3 409.7,68.2z" fill="#4aff00" stroke="#4aff00"/><path d="M555.5,87.2 559.9,87.3 554.8,86.4 550.3,86.3z" fill="#15ff00" stroke="#15ff00"/><path d="M375.1,80.9 380.2,76.9 375.7,74.4 370.7,78.5z" fill="#03ff00" stroke="#03ff00"/><path d="M589.8,90 593.9,90.7 588.5,90.6 584.3,89.9z" fill="#0fff00" stroke="#0fff00"/><path d="M389.8,75.6 394.9,72.1 390.4,69.5 385.3,73.1z" fill="#28ff00" stroke="#28ff00"/><path d="M448.3,73.3 453.4,71.2 448.7,68.7 443.6,70.8z" fill="#4aff00" stroke="#4aff00"/><path d="M472.6,76.5 477.6,75 472.9,72.7 467.8,74.2z" fill="#3fff00" stroke="#3fff00"/><path d="M496.9,80 501.8,79 497,77 492.1,78z" fill="#32ff00" stroke="#32ff00"/><path d="M370.1,85 375.1,80.9 370.7,78.5 365.6,82.7z" fill="#00ff18" stroke="#00ff18"/><path d="M521.3,83.4 526.1,82.8 521.1,81.2 516.4,81.8z" fill="#26ff00" stroke="#26ff00"/><path d="M438.5,73.1 443.6,70.8 438.9,68.2 433.8,70.5z" fill="#4bff00" stroke="#4bff00"/><path d="M399.4,74.6 404.6,71.3 400,68.7 394.9,72.1z" fill="#35ff00" stroke="#35ff00"/><path d="M545.8,86.4 550.3,86.3 545.3,85.1 540.7,85.3z" fill="#1eff00" stroke="#1eff00"/><path d="M580.1,89.3 584.3,89.9 579,89.5 574.8,89z" fill="#16ff00" stroke="#16ff00"/><path d="M428.7,73.1 433.8,70.5 429.2,68 424,70.5z" fill="#49ff00" stroke="#49ff00"/><path d="M384.7,79.3 389.8,75.6 385.3,73.1 380.2,76.9z" fill="#15ff00" stroke="#15ff00"/><path d="M409.1,73.8 414.3,70.8 409.7,68.2 404.6,71.3z" fill="#3eff00" stroke="#3eff00"/><path d="M418.9,73.3 424,70.5 419.4,67.9 414.3,70.8z" fill="#45ff00" stroke="#45ff00"/><path d="M462.8,76 467.8,74.2 463.1,71.9 458.1,73.7z" fill="#44ff00" stroke="#44ff00"/><path d="M487.1,79.3 492.1,78 487.3,75.9 482.4,77.2z" fill="#39ff00" stroke="#39ff00"/><path d="M511.6,82.6 516.4,81.8 511.5,80.1 506.7,80.8z" fill="#2eff00" stroke="#2eff00"/><path d="M379.6,83.2 384.7,79.3 380.2,76.9 375.1,80.9z" fill="#01ff00" stroke="#01ff00"/><path d="M394.3,78 399.4,74.6 394.9,72.1 389.8,75.6z" fill="#25ff00" stroke="#25ff00"/><path d="M453,75.6 458.1,73.7 453.4,71.2 448.3,73.3z" fill="#47ff00" stroke="#47ff00"/><path d="M570.4,88.6 574.8,89 569.5,88.4 565.1,88.1z" fill="#1dff00" stroke="#1dff00"/><path d="M536.1,85.6 540.7,85.3 535.7,84 531,84.3z" fill="#26ff00" stroke="#26ff00"/><path d="M374.5,87.3 379.6,83.2 375.1,80.9 370.1,85z" fill="#00ff1a" stroke="#00ff1a"/><path d="M477.3,78.7 482.4,77.2 477.6,75 472.6,76.5z" fill="#3fff00" stroke="#3fff00"/><path d="M404,77 409.1,73.8 404.6,71.3 399.4,74.6z" fill="#31ff00" stroke="#31ff00"/><path d="M443.1,75.5 448.3,73.3 443.6,70.8 438.5,73.1z" fill="#47ff00" stroke="#47ff00"/><path d="M433.3,75.5 438.5,73.1 433.8,70.5 428.7,73.1z" fill="#45ff00" stroke="#45ff00"/><path d="M501.8,81.8 506.7,80.8 501.8,79 496.9,80z" fill="#35ff00" stroke="#35ff00"/><path d="M413.7,76.3 418.9,73.3 414.3,70.8 409.1,73.8z" fill="#3aff00" stroke="#3aff00"/><path d="M389.2,81.7 394.3,78 389.8,75.6 384.7,79.3z" fill="#13ff00" stroke="#13ff00"/><path d="M423.5,75.8 428.7,73.1 424,70.5 418.9,73.3z" fill="#41ff00" stroke="#41ff00"/><path d="M560.7,87.9 565.1,88.1 559.9,87.3 555.5,87.2z" fill="#24ff00" stroke="#24ff00"/><path d="M467.5,78.2 472.6,76.5 467.8,74.2 462.8,76z" fill="#43ff00" stroke="#43ff00"/><path d="M526.3,84.8 531,84.3 526.1,82.8 521.3,83.4z" fill="#2eff00" stroke="#2eff00"/><path d="M398.8,80.4 404,77 399.4,74.6 394.3,78z" fill="#22ff00" stroke="#22ff00"/><path d="M384,85.5 389.2,81.7 384.7,79.3 379.6,83.2z" fill="#00ff01" stroke="#00ff01"/><path d="M492,81.2 496.9,80 492.1,78 487.1,79.3z" fill="#3bff00" stroke="#3bff00"/><path d="M457.7,77.9 462.8,76 458.1,73.7 453,75.6z" fill="#45ff00" stroke="#45ff00"/><path d="M550.9,87.3 555.5,87.2 550.3,86.3 545.8,86.4z" fill="#2bff00" stroke="#2bff00"/><path d="M408.6,79.4 413.7,76.3 409.1,73.8 404,77z" fill="#2eff00" stroke="#2eff00"/><path d="M516.5,84.1 521.3,83.4 516.4,81.8 511.6,82.6z" fill="#34ff00" stroke="#34ff00"/><path d="M447.8,77.8 453,75.6 448.3,73.3 443.1,75.5z" fill="#45ff00" stroke="#45ff00"/><path d="M378.9,89.5 384,85.5 379.6,83.2 374.5,87.3z" fill="#00ff1b" stroke="#00ff1b"/><path d="M418.3,78.7 423.5,75.8 418.9,73.3 413.7,76.3z" fill="#37ff00" stroke="#37ff00"/><path d="M482.1,80.7 487.1,79.3 482.4,77.2 477.3,78.7z" fill="#40ff00" stroke="#40ff00"/><path d="M438,77.9 443.1,75.5 438.5,73.1 433.3,75.5z" fill="#42ff00" stroke="#42ff00"/><path d="M428.1,78.2 433.3,75.5 428.7,73.1 423.5,75.8z" fill="#3eff00" stroke="#3eff00"/><path d="M393.7,84 398.8,80.4 394.3,78 389.2,81.7z" fill="#11ff00" stroke="#11ff00"/><path d="M585.6,89.4 589.8,90 584.3,89.9 580.1,89.3z" fill="#2cff00" stroke="#2cff00"/><path d="M541.2,86.6 545.8,86.4 540.7,85.3 536.1,85.6z" fill="#31ff00" stroke="#31ff00"/><path d="M506.7,83.5 511.6,82.6 506.7,80.8 501.8,81.8z" fill="#3aff00" stroke="#3aff00"/><path d="M472.3,80.3 477.3,78.7 472.6,76.5 467.5,78.2z" fill="#43ff00" stroke="#43ff00"/><path d="M403.4,82.8 408.6,79.4 404,77 398.8,80.4z" fill="#20ff00" stroke="#20ff00"/><path d="M388.5,87.8 393.7,84 389.2,81.7 384,85.5z" fill="#00ff03" stroke="#00ff03"/><path d="M575.8,88.9 580.1,89.3 574.8,89 570.4,88.6z" fill="#31ff00" stroke="#31ff00"/><path d="M462.4,80.1 467.5,78.2 462.8,76 457.7,77.9z" fill="#44ff00" stroke="#44ff00"/><path d="M496.8,83 501.8,81.8 496.9,80 492,81.2z" fill="#3fff00" stroke="#3fff00"/><path d="M413.1,81.8 418.3,78.7 413.7,76.3 408.6,79.4z" fill="#2cff00" stroke="#2cff00"/><path d="M531.3,86 536.1,85.6 531,84.3 526.3,84.8z" fill="#37ff00" stroke="#37ff00"/><path d="M452.5,80 457.7,77.9 453,75.6 447.8,77.8z" fill="#43ff00" stroke="#43ff00"/><path d="M423,81 428.1,78.2 423.5,75.8 418.3,78.7z" fill="#35ff00" stroke="#35ff00"/><path d="M383.4,91.7 388.5,87.8 384,85.5 378.9,89.5z" fill="#00ff1b" stroke="#00ff1b"/><path d="M442.7,80.2 447.8,77.8 443.1,75.5 438,77.9z" fill="#41ff00" stroke="#41ff00"/><path d="M432.8,80.5 438,77.9 433.3,75.5 428.1,78.2z" fill="#3cff00" stroke="#3cff00"/><path d="M566,88.4 570.4,88.6 565.1,88.1 560.7,87.9z" fill="#36ff00" stroke="#36ff00"/><path d="M398.2,86.3 403.4,82.8 398.8,80.4 393.7,84z" fill="#0fff00" stroke="#0fff00"/><path d="M487,82.6 492,81.2 487.1,79.3 482.1,80.7z" fill="#42ff00" stroke="#42ff00"/><path d="M521.5,85.5 526.3,84.8 521.3,83.4 516.5,84.1z" fill="#3cff00" stroke="#3cff00"/><path d="M477.1,82.3 482.1,80.7 477.3,78.7 472.3,80.3z" fill="#44ff00" stroke="#44ff00"/><path d="M408,85.1 413.1,81.8 408.6,79.4 403.4,82.8z" fill="#1eff00" stroke="#1eff00"/><path d="M556.2,87.9 560.7,87.9 555.5,87.2 550.9,87.3z" fill="#3aff00" stroke="#3aff00"/><path d="M393,90 398.2,86.3 393.7,84 388.5,87.8z" fill="#00ff03" stroke="#00ff03"/><path d="M511.6,85 516.5,84.1 511.6,82.6 506.7,83.5z" fill="#41ff00" stroke="#41ff00"/><path d="M467.2,82.1 472.3,80.3 467.5,78.2 462.4,80.1z" fill="#45ff00" stroke="#45ff00"/><path d="M417.8,84 423,81 418.3,78.7 413.1,81.8z" fill="#2aff00" stroke="#2aff00"/><path d="M457.3,82.2 462.4,80.1 457.7,77.9 452.5,80z" fill="#43ff00" stroke="#43ff00"/><path d="M546.3,87.5 550.9,87.3 545.8,86.4 541.2,86.6z" fill="#3fff00" stroke="#3fff00"/><path d="M427.6,83.3 432.8,80.5 428.1,78.2 423,81z" fill="#34ff00" stroke="#34ff00"/><path d="M447.4,82.3 452.5,80 447.8,77.8 442.7,80.2z" fill="#40ff00" stroke="#40ff00"/><path d="M387.9,93.9 393,90 388.5,87.8 383.4,91.7z" fill="#00ff1b" stroke="#00ff1b"/><path d="M437.5,82.7 442.7,80.2 438,77.9 432.8,80.5z" fill="#3bff00" stroke="#3bff00"/><path d="M501.8,84.6 506.7,83.5 501.8,81.8 496.8,83z" fill="#44ff00" stroke="#44ff00"/><path d="M402.8,88.5 408,85.1 403.4,82.8 398.2,86.3z" fill="#0fff00" stroke="#0fff00"/><path d="M536.5,87 541.2,86.6 536.1,85.6 531.3,86z" fill="#43ff00" stroke="#43ff00"/><path d="M491.8,84.3 496.8,83 492,81.2 487,82.6z" fill="#46ff00" stroke="#46ff00"/><path d="M412.6,87.3 417.8,84 413.1,81.8 408,85.1z" fill="#1dff00" stroke="#1dff00"/><path d="M581.3,88.9 585.6,89.4 580.1,89.3 575.8,88.9z" fill="#47ff00" stroke="#47ff00"/><path d="M397.6,92.2 402.8,88.5 398.2,86.3 393,90z" fill="#00ff03" stroke="#00ff03"/><path d="M481.9,84.1 487,82.6 482.1,80.7 477.1,82.3z" fill="#47ff00" stroke="#47ff00"/><path d="M526.6,86.6 531.3,86 526.3,84.8 521.5,85.5z" fill="#46ff00" stroke="#46ff00"/><path d="M422.4,86.2 427.6,83.3 423,81 417.8,84z" fill="#2aff00" stroke="#2aff00"/><path d="M472,84.1 477.1,82.3 472.3,80.3 467.2,82.1z" fill="#47ff00" stroke="#47ff00"/><path d="M571.4,88.7 575.8,88.9 570.4,88.6 566,88.4z" fill="#4aff00" stroke="#4aff00"/><path d="M432.3,85.4 437.5,82.7 432.8,80.5 427.6,83.3z" fill="#34ff00" stroke="#34ff00"/><path d="M462,84.1 467.2,82.1 462.4,80.1 457.3,82.2z" fill="#45ff00" stroke="#45ff00"/><path d="M442.2,84.8 447.4,82.3 442.7,80.2 437.5,82.7z" fill="#3bff00" stroke="#3bff00"/><path d="M516.6,86.3 521.5,85.5 516.5,84.1 511.6,85z" fill="#49ff00" stroke="#49ff00"/><path d="M452.1,84.4 457.3,82.2 452.5,80 447.4,82.3z" fill="#41ff00" stroke="#41ff00"/><path d="M392.4,96 397.6,92.2 393,90 387.9,93.9z" fill="#00ff19" stroke="#00ff19"/><path d="M407.3,90.7 412.6,87.3 408,85.1 402.8,88.5z" fill="#0fff00" stroke="#0fff00"/><path d="M561.5,88.4 566,88.4 560.7,87.9 556.2,87.9z" fill="#4cff00" stroke="#4cff00"/><path d="M506.7,86 511.6,85 506.7,83.5 501.8,84.6z" fill="#4bff00" stroke="#4bff00"/><path d="M417.2,89.4 422.4,86.2 417.8,84 412.6,87.3z" fill="#1eff00" stroke="#1eff00"/><path d="M551.6,88.1 556.2,87.9 550.9,87.3 546.3,87.5z" fill="#4fff00" stroke="#4fff00"/><path d="M496.8,85.9 501.8,84.6 496.8,83 491.8,84.3z" fill="#4cff00" stroke="#4cff00"/><path d="M402.1,94.2 407.3,90.7 402.8,88.5 397.6,92.2z" fill="#00ff02" stroke="#00ff02"/><path d="M427,88.3 432.3,85.4 427.6,83.3 422.4,86.2z" fill="#2aff00" stroke="#2aff00"/><path d="M486.8,85.8 491.8,84.3 487,82.6 481.9,84.1z" fill="#4cff00" stroke="#4cff00"/><path d="M541.6,87.8 546.3,87.5 541.2,86.6 536.5,87z" fill="#51ff00" stroke="#51ff00"/><path d="M437,87.5 442.2,84.8 437.5,82.7 432.3,85.4z" fill="#35ff00" stroke="#35ff00"/><path d="M476.8,85.8 481.9,84.1 477.1,82.3 472,84.1z" fill="#4bff00" stroke="#4bff00"/><path d="M466.8,86 472,84.1 467.2,82.1 462,84.1z" fill="#48ff00" stroke="#48ff00"/><path d="M446.9,86.8 452.1,84.4 447.4,82.3 442.2,84.8z" fill="#3dff00" stroke="#3dff00"/><path d="M456.9,86.3 462,84.1 457.3,82.2 452.1,84.4z" fill="#43ff00" stroke="#43ff00"/><path d="M396.9,98 402.1,94.2 397.6,92.2 392.4,96z" fill="#00ff17" stroke="#00ff17"/><path d="M411.9,92.7 417.2,89.4 412.6,87.3 407.3,90.7z" fill="#10ff00" stroke="#10ff00"/><path d="M531.7,87.6 536.5,87 531.3,86 526.6,86.6z" fill="#56ff00" stroke="#56ff00"/><path d="M521.7,87.4 526.6,86.6 521.5,85.5 516.6,86.3z" fill="#5aff00" stroke="#5aff00"/><path d="M421.8,91.4 427,88.3 422.4,86.2 417.2,89.4z" fill="#1fff00" stroke="#1fff00"/><path d="M511.7,87.3 516.6,86.3 511.6,85 506.7,86z" fill="#5bff00" stroke="#5bff00"/><path d="M406.7,96.3 411.9,92.7 407.3,90.7 402.1,94.2z" fill="#01ff00" stroke="#01ff00"/><path d="M431.7,90.4 437,87.5 432.3,85.4 427,88.3z" fill="#2cff00" stroke="#2cff00"/><path d="M576.9,88.7 581.3,88.9 575.8,88.9 571.4,88.7z" fill="#82ff00" stroke="#82ff00"/><path d="M501.7,87.3 506.7,86 501.8,84.6 496.8,85.9z" fill="#5aff00" stroke="#5aff00"/><path d="M441.7,89.5 446.9,86.8 442.2,84.8 437,87.5z" fill="#37ff00" stroke="#37ff00"/><path d="M491.7,87.3 496.8,85.9 491.8,84.3 486.8,85.8z" fill="#56ff00" stroke="#56ff00"/><path d="M566.9,88.6 571.4,88.7 566,88.4 561.5,88.4z" fill="#83ff00" stroke="#83ff00"/><path d="M451.7,88.7 456.9,86.3 452.1,84.4 446.9,86.8z" fill="#40ff00" stroke="#40ff00"/><path d="M481.7,87.5 486.8,85.8 481.9,84.1 476.8,85.8z" fill="#50ff00" stroke="#50ff00"/><path d="M416.6,94.7 421.8,91.4 417.2,89.4 411.9,92.7z" fill="#12ff00" stroke="#12ff00"/><path d="M401.5,100 406.7,96.3 402.1,94.2 396.9,98z" fill="#00ff14" stroke="#00ff14"/><path d="M471.7,87.8 476.8,85.8 472,84.1 466.8,86z" fill="#4cff00" stroke="#4cff00"/><path d="M461.7,88.2 466.8,86 462,84.1 456.9,86.3z" fill="#47ff00" stroke="#47ff00"/><path d="M556.9,88.5 561.5,88.4 556.2,87.9 551.6,88.1z" fill="#84ff00" stroke="#84ff00"/><path d="M546.9,88.4 551.6,88.1 546.3,87.5 541.6,87.8z" fill="#85ff00" stroke="#85ff00"/><path d="M426.5,93.4 431.7,90.4 427,88.3 421.8,91.4z" fill="#22ff00" stroke="#22ff00"/><path d="M536.9,88.4 541.6,87.8 536.5,87 531.7,87.6z" fill="#85ff00" stroke="#85ff00"/><path d="M411.3,98.2 416.6,94.7 411.9,92.7 406.7,96.3z" fill="#04ff00" stroke="#04ff00"/><path d="M436.4,92.3 441.7,89.5 437,87.5 431.7,90.4z" fill="#2fff00" stroke="#2fff00"/><path d="M526.8,88.3 531.7,87.6 526.6,86.6 521.7,87.4z" fill="#83ff00" stroke="#83ff00"/><path d="M516.8,88.4 521.7,87.4 516.6,86.3 511.7,87.3z" fill="#80ff00" stroke="#80ff00"/><path d="M446.4,91.3 451.7,88.7 446.9,86.8 441.7,89.5z" fill="#3bff00" stroke="#3bff00"/><path d="M506.7,88.5 511.7,87.3 506.7,86 501.7,87.3z" fill="#7aff00" stroke="#7aff00"/><path d="M421.2,96.6 426.5,93.4 421.8,91.4 416.6,94.7z" fill="#16ff00" stroke="#16ff00"/><path d="M456.4,90.5 461.7,88.2 456.9,86.3 451.7,88.7z" fill="#44ff00" stroke="#44ff00"/><path d="M406.1,101.9 411.3,98.2 406.7,96.3 401.5,100z" fill="#00ff0f" stroke="#00ff0f"/><path d="M496.7,88.7 501.7,87.3 496.8,85.9 491.7,87.3z" fill="#71ff00" stroke="#71ff00"/><path d="M466.5,89.9 471.7,87.8 466.8,86 461.7,88.2z" fill="#4cff00" stroke="#4cff00"/><path d="M486.6,89 491.7,87.3 486.8,85.8 481.7,87.5z" fill="#65ff00" stroke="#65ff00"/><path d="M476.5,89.3 481.7,87.5 476.8,85.8 471.7,87.8z" fill="#55ff00" stroke="#55ff00"/><path d="M431.2,95.3 436.4,92.3 431.7,90.4 426.5,93.4z" fill="#26ff00" stroke="#26ff00"/><path d="M415.9,100.1 421.2,96.6 416.6,94.7 411.3,98.2z" fill="#08ff00" stroke="#08ff00"/><path d="M572.4,88.5 576.9,88.7 571.4,88.7 566.9,88.6z" fill="#d3ff00" stroke="#d3ff00"/><path d="M441.2,94.1 446.4,91.3 441.7,89.5 436.4,92.3z" fill="#34ff00" stroke="#34ff00"/><path d="M562.3,88.7 566.9,88.6 561.5,88.4 556.9,88.5z" fill="#cfff00" stroke="#cfff00"/><path d="M552.2,88.8 556.9,88.5 551.6,88.1 546.9,88.4z" fill="#cbff00" stroke="#cbff00"/><path d="M451.2,93 456.4,90.5 451.7,88.7 446.4,91.3z" fill="#40ff00" stroke="#40ff00"/><path d="M542.1,88.9 546.9,88.4 541.6,87.8 536.9,88.4z" fill="#c3ff00" stroke="#c3ff00"/><path d="M425.9,98.4 431.2,95.3 426.5,93.4 421.2,96.6z" fill="#1aff00" stroke="#1aff00"/><path d="M410.7,103.7 415.9,100.1 411.3,98.2 406.1,101.9z" fill="#00ff0a" stroke="#00ff0a"/><path d="M532,89.1 536.9,88.4 531.7,87.6 526.8,88.3z" fill="#bbff00" stroke="#bbff00"/><path d="M461.3,92.1 466.5,89.9 461.7,88.2 456.4,90.5z" fill="#4aff00" stroke="#4aff00"/><path d="M521.9,89.3 526.8,88.3 521.7,87.4 516.8,88.4z" fill="#b0ff00" stroke="#b0ff00"/><path d="M471.3,91.4 476.5,89.3 471.7,87.8 466.5,89.9z" fill="#56ff00" stroke="#56ff00"/><path d="M511.8,89.5 516.8,88.4 511.7,87.3 506.7,88.5z" fill="#a3ff00" stroke="#a3ff00"/><path d="M481.5,90.8 486.6,89 481.7,87.5 476.5,89.3z" fill="#6eff00" stroke="#6eff00"/><path d="M501.7,89.9 506.7,88.5 501.7,87.3 496.7,88.7z" fill="#94ff00" stroke="#94ff00"/><path d="M491.6,90.3 496.7,88.7 491.7,87.3 486.6,89z" fill="#82ff00" stroke="#82ff00"/><path d="M435.9,97 441.2,94.1 436.4,92.3 431.2,95.3z" fill="#2bff00" stroke="#2bff00"/><path d="M420.6,101.8 425.9,98.4 421.2,96.6 415.9,100.1z" fill="#0dff00" stroke="#0dff00"/><path d="M445.9,95.7 451.2,93 446.4,91.3 441.2,94.1z" fill="#39ff00" stroke="#39ff00"/><path d="M456,94.6 461.3,92.1 456.4,90.5 451.2,93z" fill="#46ff00" stroke="#46ff00"/><path d="M430.6,100.1 435.9,97 431.2,95.3 425.9,98.4z" fill="#20ff00" stroke="#20ff00"/><path d="M415.3,105.4 420.6,101.8 415.9,100.1 410.7,103.7z" fill="#00ff02" stroke="#00ff02"/><path d="M466.1,93.6 471.3,91.4 466.5,89.9 461.3,92.1z" fill="#52ff00" stroke="#52ff00"/><path d="M476.3,92.8 481.5,90.8 476.5,89.3 471.3,91.4z" fill="#72ff00" stroke="#72ff00"/><path d="M567.9,88.6 572.4,88.5 566.9,88.6 562.3,88.7z" fill="#fffb00" stroke="#fffb00"/><path d="M557.7,88.9 562.3,88.7 556.9,88.5 552.2,88.8z" fill="#fbff00" stroke="#fbff00"/><path d="M486.4,92 491.6,90.3 486.6,89 481.5,90.8z" fill="#8eff00" stroke="#8eff00"/><path d="M440.6,98.6 445.9,95.7 441.2,94.1 435.9,97z" fill="#31ff00" stroke="#31ff00"/><path d="M547.5,89.2 552.2,88.8 546.9,88.4 542.1,88.9z" fill="#f2ff00" stroke="#f2ff00"/><path d="M496.6,91.4 501.7,89.9 496.7,88.7 491.6,90.3z" fill="#aaff00" stroke="#aaff00"/><path d="M537.3,89.6 542.1,88.9 536.9,88.4 532,89.1z" fill="#e8ff00" stroke="#e8ff00"/><path d="M527.1,90 532,89.1 526.8,88.3 521.9,89.3z" fill="#deff00" stroke="#deff00"/><path d="M506.8,90.9 511.8,89.5 506.7,88.5 501.7,89.9z" fill="#c3ff00" stroke="#c3ff00"/><path d="M516.9,90.4 521.9,89.3 516.8,88.4 511.8,89.5z" fill="#d3ff00" stroke="#d3ff00"/><path d="M425.3,103.4 430.6,100.1 425.9,98.4 420.6,101.8z" fill="#14ff00" stroke="#14ff00"/><path d="M450.7,97.3 456,94.6 451.2,93 445.9,95.7z" fill="#41ff00" stroke="#41ff00"/><path d="M460.9,96.1 466.1,93.6 461.3,92.1 456,94.6z" fill="#4fff00" stroke="#4fff00"/><path d="M435.3,101.7 440.6,98.6 435.9,97 430.6,100.1z" fill="#27ff00" stroke="#27ff00"/><path d="M420,106.9 425.3,103.4 420.6,101.8 415.3,105.4z" fill="#05ff00" stroke="#05ff00"/><path d="M471,95 476.3,92.8 471.3,91.4 466.1,93.6z" fill="#70ff00" stroke="#70ff00"/><path d="M481.2,94 486.4,92 481.5,90.8 476.3,92.8z" fill="#94ff00" stroke="#94ff00"/><path d="M445.4,100.1 450.7,97.3 445.9,95.7 440.6,98.6z" fill="#39ff00" stroke="#39ff00"/><path d="M491.4,93.1 496.6,91.4 491.6,90.3 486.4,92z" fill="#baff00" stroke="#baff00"/><path d="M430,105 435.3,101.7 430.6,100.1 425.3,103.4z" fill="#1cff00" stroke="#1cff00"/><path d="M501.7,92.4 506.8,90.9 501.7,89.9 496.6,91.4z" fill="#d5ff00" stroke="#d5ff00"/><path d="M511.9,91.7 516.9,90.4 511.8,89.5 506.8,90.9z" fill="#e7ff00" stroke="#e7ff00"/><path d="M455.6,98.7 460.9,96.1 456,94.6 450.7,97.3z" fill="#4aff00" stroke="#4aff00"/><path d="M522.1,91 527.1,90 521.9,89.3 516.9,90.4z" fill="#f7ff00" stroke="#f7ff00"/><path d="M532.4,90.4 537.3,89.6 532,89.1 527.1,90z" fill="#fff800" stroke="#fff800"/><path d="M542.7,89.8 547.5,89.2 542.1,88.9 537.3,89.6z" fill="#ffe900" stroke="#ffe900"/><path d="M552.9,89.3 557.7,88.9 552.2,88.8 547.5,89.2z" fill="#ffcf00" stroke="#ffcf00"/><path d="M563.2,88.7 567.9,88.6 562.3,88.7 557.7,88.9z" fill="#ffb500" stroke="#ffb500"/><path d="M465.8,97.4 471,95 466.1,93.6 460.9,96.1z" fill="#68ff00" stroke="#68ff00"/><path d="M440.1,103.1 445.4,100.1 440.6,98.6 435.3,101.7z" fill="#30ff00" stroke="#30ff00"/><path d="M424.7,108.4 430,105 425.3,103.4 420,106.9z" fill="#0eff00" stroke="#0eff00"/><path d="M476,96.2 481.2,94 476.3,92.8 471,95z" fill="#94ff00" stroke="#94ff00"/><path d="M450.2,101.5 455.6,98.7 450.7,97.3 445.4,100.1z" fill="#43ff00" stroke="#43ff00"/><path d="M486.2,95.1 491.4,93.1 486.4,92 481.2,94z" fill="#c3ff00" stroke="#c3ff00"/><path d="M434.7,106.4 440.1,103.1 435.3,101.7 430,105z" fill="#25ff00" stroke="#25ff00"/><path d="M496.5,94 501.7,92.4 496.6,91.4 491.4,93.1z" fill="#dfff00" stroke="#dfff00"/><path d="M460.4,99.9 465.8,97.4 460.9,96.1 455.6,98.7z" fill="#5aff00" stroke="#5aff00"/><path d="M506.8,93.1 511.9,91.7 506.8,90.9 501.7,92.4z" fill="#f6ff00" stroke="#f6ff00"/><path d="M517.1,92.2 522.1,91 516.9,90.4 511.9,91.7z" fill="#fff200" stroke="#fff200"/><path d="M527.4,91.4 532.4,90.4 527.1,90 522.1,91z" fill="#ffd300" stroke="#ffd300"/><path d="M444.9,104.5 450.2,101.5 445.4,100.1 440.1,103.1z" fill="#3aff00" stroke="#3aff00"/><path d="M429.4,109.8 434.7,106.4 430,105 424.7,108.4z" fill="#18ff00" stroke="#18ff00"/><path d="M470.7,98.5 476,96.2 471,95 465.8,97.4z" fill="#8eff00" stroke="#8eff00"/><path d="M537.8,90.6 542.7,89.8 537.3,89.6 532.4,90.4z" fill="#ffaf00" stroke="#ffaf00"/><path d="M548.1,89.9 552.9,89.3 547.5,89.2 542.7,89.8z" fill="#ff8c00" stroke="#ff8c00"/><path d="M558.5,89.1 563.2,88.7 557.7,88.9 552.9,89.3z" fill="#ff7200" stroke="#ff7200"/><path d="M481,97.2 486.2,95.1 481.2,94 476,96.2z" fill="#c5ff00" stroke="#c5ff00"/><path d="M455.1,102.7 460.4,99.9 455.6,98.7 450.2,101.5z" fill="#4eff00" stroke="#4eff00"/><path d="M491.3,95.9 496.5,94 491.4,93.1 486.2,95.1z" fill="#e6ff00" stroke="#e6ff00"/><path d="M439.5,107.6 444.9,104.5 440.1,103.1 434.7,106.4z" fill="#30ff00" stroke="#30ff00"/><path d="M501.6,94.8 506.8,93.1 501.7,92.4 496.5,94z" fill="#fffc00" stroke="#fffc00"/><path d="M465.4,101 470.7,98.5 465.8,97.4 460.4,99.9z" fill="#82ff00" stroke="#82ff00"/><path d="M512,93.7 517.1,92.2 511.9,91.7 506.8,93.1z" fill="#ffd900" stroke="#ffd900"/><path d="M449.7,105.6 455.1,102.7 450.2,101.5 444.9,104.5z" fill="#47ff00" stroke="#47ff00"/><path d="M434.2,111 439.5,107.6 434.7,106.4 429.4,109.8z" fill="#24ff00" stroke="#24ff00"/><path d="M522.4,92.6 527.4,91.4 522.1,91 517.1,92.2z" fill="#ffaa00" stroke="#ffaa00"/><path d="M475.7,99.5 481,97.2 476,96.2 470.7,98.5z" fill="#c1ff00" stroke="#c1ff00"/><path d="M532.8,91.6 537.8,90.6 532.4,90.4 527.4,91.4z" fill="#ff7c00" stroke="#ff7c00"/><path d="M543.2,90.6 548.1,89.9 542.7,89.8 537.8,90.6z" fill="#ff6600" stroke="#ff6600"/><path d="M486,98 491.3,95.9 486.2,95.1 481,97.2z" fill="#e9ff00" stroke="#e9ff00"/><path d="M460,103.7 465.4,101 460.4,99.9 455.1,102.7z" fill="#71ff00" stroke="#71ff00"/><path d="M553.7,89.6 558.5,89.1 552.9,89.3 548.1,89.9z" fill="#ff5000" stroke="#ff5000"/><path d="M444.4,108.7 449.7,105.6 444.9,104.5 439.5,107.6z" fill="#3dff00" stroke="#3dff00"/><path d="M496.4,96.6 501.6,94.8 496.5,94 491.3,95.9z" fill="#fff400" stroke="#fff400"/><path d="M470.3,101.9 475.7,99.5 470.7,98.5 465.4,101z" fill="#b6ff00" stroke="#b6ff00"/><path d="M506.8,95.3 512,93.7 506.8,93.1 501.6,94.8z" fill="#ffc000" stroke="#ffc000"/><path d="M454.6,106.6 460,103.7 455.1,102.7 449.7,105.6z" fill="#5aff00" stroke="#5aff00"/><path d="M439,112.1 444.4,108.7 439.5,107.6 434.2,111z" fill="#31ff00" stroke="#31ff00"/><path d="M517.3,94 522.4,92.6 517.1,92.2 512,93.7z" fill="#ff8700" stroke="#ff8700"/><path d="M480.7,100.2 486,98 481,97.2 475.7,99.5z" fill="#e8ff00" stroke="#e8ff00"/><path d="M527.7,92.8 532.8,91.6 527.4,91.4 522.4,92.6z" fill="#ff6600" stroke="#ff6600"/><path d="M465,104.6 470.3,101.9 465.4,101 460,103.7z" fill="#a4ff00" stroke="#a4ff00"/><path d="M491.1,98.6 496.4,96.6 491.3,95.9 486,98z" fill="#fff000" stroke="#fff000"/><path d="M538.3,91.6 543.2,90.6 537.8,90.6 532.8,91.6z" fill="#ff4c00" stroke="#ff4c00"/><path d="M449.2,109.7 454.6,106.6 449.7,105.6 444.4,108.7z" fill="#4bff00" stroke="#4bff00"/><path d="M548.8,90.3 553.7,89.6 548.1,89.9 543.2,90.6z" fill="#ff3200" stroke="#ff3200"/><path d="M501.6,97.1 506.8,95.3 501.6,94.8 496.4,96.6z" fill="#ffaf00" stroke="#ffaf00"/><path d="M475.4,102.7 480.7,100.2 475.7,99.5 470.3,101.9z" fill="#e3ff00" stroke="#e3ff00"/><path d="M512.1,95.6 517.3,94 512,93.7 506.8,95.3z" fill="#ff7400" stroke="#ff7400"/><path d="M443.8,113 449.2,109.7 444.4,108.7 439,112.1z" fill="#41ff00" stroke="#41ff00"/><path d="M459.6,107.5 465,104.6 460,103.7 454.6,106.6z" fill="#8cff00" stroke="#8cff00"/><path d="M485.8,100.8 491.1,98.6 486,98 480.7,100.2z" fill="#ffef00" stroke="#ffef00"/><path d="M522.6,94.1 527.7,92.8 522.4,92.6 517.3,94z" fill="#ff5400" stroke="#ff5400"/><path d="M470,105.3 475.4,102.7 470.3,101.9 465,104.6z" fill="#daff00" stroke="#daff00"/><path d="M533.2,92.7 538.3,91.6 532.8,91.6 527.7,92.8z" fill="#ff3600" stroke="#ff3600"/><path d="M496.3,99 501.6,97.1 496.4,96.6 491.1,98.6z" fill="#ffa500" stroke="#ffa500"/><path d="M454.2,110.5 459.6,107.5 454.6,106.6 449.2,109.7z" fill="#72ff00" stroke="#72ff00"/><path d="M543.8,91.2 548.8,90.3 543.2,90.6 538.3,91.6z" fill="#ff1c00" stroke="#ff1c00"/><path d="M506.9,97.3 512.1,95.6 506.8,95.3 501.6,97.1z" fill="#ff6a00" stroke="#ff6a00"/><path d="M480.5,103.2 485.8,100.8 480.7,100.2 475.4,102.7z" fill="#fff300" stroke="#fff300"/><path d="M448.7,113.7 454.2,110.5 449.2,109.7 443.8,113z" fill="#51ff00" stroke="#51ff00"/><path d="M464.6,108.1 470,105.3 465,104.6 459.6,107.5z" fill="#cdff00" stroke="#cdff00"/><path d="M517.5,95.6 522.6,94.1 517.3,94 512.1,95.6z" fill="#ff4600" stroke="#ff4600"/><path d="M491,101.2 496.3,99 491.1,98.6 485.8,100.8z" fill="#ffa200" stroke="#ffa200"/><path d="M528.1,94 533.2,92.7 527.7,92.8 522.6,94.1z" fill="#ff2300" stroke="#ff2300"/><path d="M475.1,105.8 480.5,103.2 475.4,102.7 470,105.3z" fill="#fffb00" stroke="#fffb00"/><path d="M459.1,111.1 464.6,108.1 459.6,107.5 454.2,110.5z" fill="#b1ff00" stroke="#b1ff00"/><path d="M501.6,99.3 506.9,97.3 501.6,97.1 496.3,99z" fill="#ff6400" stroke="#ff6400"/><path d="M538.8,92.3 543.8,91.2 538.3,91.6 533.2,92.7z" fill="#ff1200" stroke="#ff1200"/><path d="M485.6,103.6 491,101.2 485.8,100.8 480.5,103.2z" fill="#ffa600" stroke="#ffa600"/><path d="M512.2,97.3 517.5,95.6 512.1,95.6 506.9,97.3z" fill="#ff3c00" stroke="#ff3c00"/><path d="M453.7,114.3 459.1,111.1 454.2,110.5 448.7,113.7z" fill="#8eff00" stroke="#8eff00"/><path d="M469.6,108.6 475.1,105.8 470,105.3 464.6,108.1z" fill="#f8ff00" stroke="#f8ff00"/><path d="M522.9,95.4 528.1,94 522.6,94.1 517.5,95.6z" fill="#ff1a00" stroke="#ff1a00"/><path d="M496.2,101.4 501.6,99.3 496.3,99 491,101.2z" fill="#ff6100" stroke="#ff6100"/><path d="M480.2,106.1 485.6,103.6 480.5,103.2 475.1,105.8z" fill="#ffb200" stroke="#ffb200"/><path d="M464.2,111.6 469.6,108.6 464.6,108.1 459.1,111.1z" fill="#e8ff00" stroke="#e8ff00"/><path d="M533.6,93.5 538.8,92.3 533.2,92.7 528.1,94z" fill="#ff0900" stroke="#ff0900"/><path d="M506.9,99.2 512.2,97.3 506.9,97.3 501.6,99.3z" fill="#ff3500" stroke="#ff3500"/><path d="M490.8,103.7 496.2,101.4 491,101.2 485.6,103.6z" fill="#ff6200" stroke="#ff6200"/><path d="M458.7,114.7 464.2,111.6 459.1,111.1 453.7,114.3z" fill="#d5ff00" stroke="#d5ff00"/><path d="M517.7,97.1 522.9,95.4 517.5,95.6 512.2,97.3z" fill="#ff1500" stroke="#ff1500"/><path d="M474.7,108.9 480.2,106.1 475.1,105.8 469.6,108.6z" fill="#ffc500" stroke="#ffc500"/><path d="M501.6,101.3 506.9,99.2 501.6,99.3 496.2,101.4z" fill="#ff3100" stroke="#ff3100"/><path d="M528.5,95 533.6,93.5 528.1,94 522.9,95.4z" fill="#ff0200" stroke="#ff0200"/><path d="M485.4,106.2 490.8,103.7 485.6,103.6 480.2,106.1z" fill="#ff6700" stroke="#ff6700"/><path d="M469.2,111.8 474.7,108.9 469.6,108.6 464.2,111.6z" fill="#ffe000" stroke="#ffe000"/><path d="M512.3,99 517.7,97.1 512.2,97.3 506.9,99.2z" fill="#ff1100" stroke="#ff1100"/><path d="M496.2,103.6 501.6,101.3 496.2,101.4 490.8,103.7z" fill="#ff3100" stroke="#ff3100"/><path d="M463.7,114.9 469.2,111.8 464.2,111.6 458.7,114.7z" fill="#fff700" stroke="#fff700"/><path d="M479.9,108.9 485.4,106.2 480.2,106.1 474.7,108.9z" fill="#ff6f00" stroke="#ff6f00"/><path d="M523.2,96.6 528.5,95 522.9,95.4 517.7,97.1z" fill="#ff0000" stroke="#ff0000"/><path d="M507,101 512.3,99 506.9,99.2 501.6,101.3z" fill="#ff0f00" stroke="#ff0f00"/><path d="M474.4,111.8 479.9,108.9 474.7,108.9 469.2,111.8z" fill="#ff7b00" stroke="#ff7b00"/><path d="M490.7,106.1 496.2,103.6 490.8,103.7 485.4,106.2z" fill="#ff3400" stroke="#ff3400"/><path d="M517.9,98.4 523.2,96.6 517.7,97.1 512.3,99z" fill="#ff0000" stroke="#ff0000"/><path d="M468.9,114.9 474.4,111.8 469.2,111.8 463.7,114.9z" fill="#ff9a00" stroke="#ff9a00"/><path d="M501.5,103.3 507,101 501.6,101.3 496.2,103.6z" fill="#ff0f00" stroke="#ff0f00"/><path d="M485.2,108.7 490.7,106.1 485.4,106.2 479.9,108.9z" fill="#ff3b00" stroke="#ff3b00"/><path d="M512.5,100.4 517.9,98.4 512.3,99 507,101z" fill="#ff0000" stroke="#ff0000"/><path d="M479.6,111.6 485.2,108.7 479.9,108.9 474.4,111.8z" fill="#ff4500" stroke="#ff4500"/><path d="M496.1,105.7 501.5,103.3 496.2,103.6 490.7,106.1z" fill="#ff1000" stroke="#ff1000"/><path d="M474.1,114.7 479.6,111.6 474.4,111.8 468.9,114.9z" fill="#ff5300" stroke="#ff5300"/><path d="M507,102.7 512.5,100.4 507,101 501.5,103.3z" fill="#ff0000" stroke="#ff0000"/><path d="M490.5,108.3 496.1,105.7 490.7,106.1 485.2,108.7z" fill="#ff1200" stroke="#ff1200"/><path d="M485,111.2 490.5,108.3 485.2,108.7 479.6,111.6z" fill="#ff1600" stroke="#ff1600"/><path d="M501.5,105.1 507,102.7 501.5,103.3 496.1,105.7z" fill="#ff0000" stroke="#ff0000"/><path d="M479.4,114.2 485,111.2 479.6,111.6 474.1,114.7z" fill="#ff1c00" stroke="#ff1c00"/><path d="M496,107.7 501.5,105.1 496.1,105.7 490.5,108.3z" fill="#ff0000" stroke="#ff0000"/><path d="M490.4,110.5 496,107.7 490.5,108.3 485,111.2z" fill="#ff0000" stroke="#ff0000"/><path d="M484.7,113.5 490.4,110.5 485,111.2 479.4,114.2z" fill="#ff0000" stroke="#ff0000"/></g>
<path d="M484.7,113.5 479.4,114.2 474.1,114.7 468.9,114.9 463.7,114.9 458.7,114.7 453.7,114.3 448.7,113.7 443.8,113 439,112.1 434.2,111 429.4,109.8 424.7,108.4 420,106.9 415.3,105.4 410.7,103.7 406.1,101.9 401.5,100 396.9,98 392.4,96 387.9,93.9 383.4,91.7 378.9,89.5 374.5,87.3 370.1,85 365.6,82.7M484.7,113.5 490.4,110.5 496,107.7 501.5,105.1 507,102.7 512.5,100.4 517.9,98.4 523.2,96.6 528.5,95 533.6,93.5 538.8,92.3 543.8,91.2 548.8,90.3 553.7,89.6 558.5,89.1 563.2,88.7 567.9,88.6 572.4,88.5 576.9,88.7 581.3,88.9 585.6,89.4 589.8,90 593.9,90.7 597.9,91.6 601.9,92.6 605.7,93.8M487.6,111.9 482.2,112.7 476.9,113.1 471.6,113.3 466.5,113.3 461.4,113.1 456.4,112.7 451.4,112.1 446.5,111.3 441.7,110.4 436.8,109.3 432.1,108 427.3,106.7 422.6,105.2 418,103.6 413.3,101.8 408.7,100 404.1,98.1 399.5,96.1 395,94 390.5,91.9 386,89.7 381.5,87.5 377,85.2 372.6,82.9 368.2,80.6M482,113.9 487.7,110.8 493.3,108 498.8,105.4 504.3,103 509.7,100.8 515.1,98.7 520.4,96.9 525.7,95.2 530.9,93.8 536,92.5 541,91.4 546,90.5 550.9,89.8 555.7,89.2 560.4,88.8 565.1,88.6 569.7,88.6 574.1,88.7 578.5,89 582.8,89.4 587.1,90 591.2,90.7 595.2,91.5 599.2,92.5 603,93.6M490.4,110.5 485,111.2 479.6,111.6 474.4,111.8 469.2,111.8 464.2,111.6 459.1,111.1 454.2,110.5 449.2,109.7 444.4,108.7 439.5,107.6 434.7,106.4 430,105 425.3,103.4 420.6,101.8 415.9,100.1 411.3,98.2 406.7,96.3 402.1,94.2 397.6,92.2 393,90 388.5,87.8 384,85.5 379.6,83.2 375.1,80.9 370.7,78.5M479.4,114.2 485,111.2 490.5,108.3 496.1,105.7 501.5,103.3 507,101 512.3,99 517.7,97.1 522.9,95.4 528.1,94 533.2,92.7 538.3,91.6 543.2,90.6 548.1,89.9 552.9,89.3 557.7,88.9 562.3,88.7 566.9,88.6 571.4,88.7 575.8,88.9 580.1,89.3 584.3,89.9 588.5,90.6 592.5,91.4 596.5,92.4 600.4,93.5M493.2,109 487.8,109.7 482.4,110.2 477.2,110.3 472,110.3 466.9,110 461.9,109.6 456.9,109 451.9,108.1 447.1,107.2 442.2,106 437.4,104.7 432.7,103.3 427.9,101.8 423.2,100.1 418.6,98.3 413.9,96.4 409.3,94.5 404.7,92.4 400.2,90.3 395.6,88.1 391.1,85.9 386.6,83.6 382.1,81.2 377.6,78.8 373.2,76.4M476.7,114.5 482.3,111.4 487.9,108.6 493.4,105.9 498.8,103.5 504.3,101.2 509.6,99.1 514.9,97.2 520.2,95.6 525.3,94.1 530.5,92.7 535.5,91.6 540.5,90.7 545.4,89.9 550.2,89.3 554.9,88.9 559.6,88.6 564.2,88.5 568.7,88.6 573.1,88.8 577.4,89.2 581.7,89.7 585.8,90.4 589.9,91.2 593.9,92.1 597.7,93.2M496,107.7 490.5,108.3 485.2,108.7 479.9,108.9 474.7,108.9 469.6,108.6 464.6,108.1 459.6,107.5 454.6,106.6 449.7,105.6 444.9,104.5 440.1,103.1 435.3,101.7 430.6,100.1 425.9,98.4 421.2,96.6 416.6,94.7 411.9,92.7 407.3,90.7 402.8,88.5 398.2,86.3 393.7,84 389.2,81.7 384.7,79.3 380.2,76.9 375.7,74.4M474.1,114.7 479.6,111.6 485.2,108.7 490.7,106.1 496.2,103.6 501.6,101.3 506.9,99.2 512.2,97.3 517.5,95.6 522.6,94.1 527.7,92.8 532.8,91.6 537.8,90.6 542.7,89.8 547.5,89.2 552.2,88.8 556.9,88.5 561.5,88.4 566,88.4 570.4,88.6 574.8,89 579,89.5 583.2,90.1 587.2,90.9 591.2,91.8 595.1,92.9M498.8,106.3 493.3,107 487.9,107.4 482.7,107.5 477.5,107.5 472.3,107.2 467.3,106.7 462.3,106 457.3,105.1 452.4,104.1 447.6,102.9 442.8,101.6 438,100.1 433.2,98.5 428.5,96.8 423.8,95 419.2,93.1 414.6,91 409.9,88.9 405.4,86.8 400.8,84.5 396.3,82.2 391.7,79.8 387.2,77.4 382.7,75 378.3,72.5M471.5,114.8 477,111.7 482.6,108.9 488,106.2 493.5,103.7 498.9,101.4 504.2,99.3 509.5,97.4 514.8,95.6 519.9,94.1 525.1,92.7 530.1,91.5 535.1,90.6 540,89.7 544.8,89.1 549.6,88.6 554.2,88.3 558.8,88.2 563.3,88.2 567.8,88.4 572.1,88.7 576.4,89.2 580.6,89.8 584.6,90.6 588.6,91.5 592.6,92.5M501.5,105.1 496.1,105.7 490.7,106.1 485.4,106.2 480.2,106.1 475.1,105.8 470,105.3 465,104.6 460,103.7 455.1,102.7 450.2,101.5 445.4,100.1 440.6,98.6 435.9,97 431.2,95.3 426.5,93.4 421.8,91.4 417.2,89.4 412.6,87.3 408,85.1 403.4,82.8 398.8,80.4 394.3,78 389.8,75.6 385.3,73.1 380.8,70.6M468.9,114.9 474.4,111.8 479.9,108.9 485.4,106.2 490.8,103.7 496.2,101.4 501.6,99.3 506.9,97.3 512.1,95.6 517.3,94 522.4,92.6 527.4,91.4 532.4,90.4 537.3,89.6 542.1,88.9 546.9,88.4 551.6,88.1 556.2,87.9 560.7,87.9 565.1,88.1 569.5,88.4 573.8,88.9 578,89.5 582.1,90.2 586.1,91.1 590,92.1M504.3,103.8 498.8,104.5 493.4,104.8 488.1,104.9 482.9,104.8 477.8,104.5 472.7,104 467.7,103.2 462.7,102.3 457.8,101.3 452.9,100 448.1,98.7 443.3,97.2 438.5,95.5 433.8,93.7 429.1,91.9 424.4,89.9 419.8,87.8 415.2,85.6 410.6,83.4 406,81.1 401.4,78.7 396.9,76.3 392.3,73.8 387.8,71.3 383.3,68.7M466.3,114.9 471.8,111.8 477.3,108.9 482.8,106.2 488.2,103.7 493.6,101.3 498.9,99.2 504.2,97.2 509.5,95.4 514.6,93.9 519.7,92.5 524.8,91.2 529.8,90.2 534.7,89.4 539.5,88.7 544.3,88.2 548.9,87.8 553.6,87.6 558.1,87.6 562.5,87.7 566.9,88 571.2,88.5 575.4,89.1 579.5,89.8 583.5,90.7 587.5,91.7M507,102.7 501.5,103.3 496.2,103.6 490.8,103.7 485.6,103.6 480.5,103.2 475.4,102.7 470.3,101.9 465.4,101 460.4,99.9 455.6,98.7 450.7,97.3 445.9,95.7 441.2,94.1 436.4,92.3 431.7,90.4 427,88.3 422.4,86.2 417.8,84 413.1,81.8 408.6,79.4 404,77 399.4,74.6 394.9,72.1 390.4,69.5 385.9,66.9M463.7,114.9 469.2,111.8 474.7,108.9 480.2,106.1 485.6,103.6 491,101.2 496.3,99 501.6,97.1 506.8,95.3 512,93.7 517.1,92.2 522.1,91 527.1,90 532,89.1 536.9,88.4 541.6,87.8 546.3,87.5 550.9,87.3 555.5,87.2 559.9,87.3 564.3,87.6 568.6,88 572.8,88.6 576.9,89.3 581,90.1 584.9,91.1M509.8,101.5 504.3,102.1 498.9,102.4 493.5,102.5 488.3,102.4 483.1,102 478.1,101.4 473,100.7 468,99.7 463.1,98.6 458.2,97.3 453.4,95.9 448.6,94.4 443.8,92.7 439.1,90.8 434.3,88.9 429.7,86.9 425,84.7 420.4,82.5 415.7,80.2 411.1,77.8 406.6,75.4 402,72.9 397.5,70.4 392.9,67.8 388.4,65.2M461.2,114.8 466.7,111.7 472.2,108.7 477.6,106 483,103.4 488.4,101 493.7,98.9 499,96.9 504.2,95 509.4,93.4 514.5,92 519.5,90.7 524.5,89.6 529.4,88.7 534.3,88 539,87.5 543.7,87.1 548.4,86.8 552.9,86.8 557.4,86.9 561.8,87.1 566.1,87.5 570.3,88.1 574.4,88.8 578.5,89.6 582.4,90.5M512.5,100.4 507,101 501.6,101.3 496.2,101.4 491,101.2 485.8,100.8 480.7,100.2 475.7,99.5 470.7,98.5 465.8,97.4 460.9,96.1 456,94.6 451.2,93 446.4,91.3 441.7,89.5 437,87.5 432.3,85.4 427.6,83.3 423,81 418.3,78.7 413.7,76.3 409.1,73.8 404.6,71.3 400,68.7 395.5,66.1 391,63.4M458.7,114.7 464.2,111.6 469.6,108.6 475.1,105.8 480.5,103.2 485.8,100.8 491.1,98.6 496.4,96.6 501.6,94.8 506.8,93.1 511.9,91.7 516.9,90.4 521.9,89.3 526.8,88.3 531.7,87.6 536.5,87 541.2,86.6 545.8,86.4 550.3,86.3 554.8,86.4 559.2,86.6 563.5,87 567.8,87.5 571.9,88.2 576,89 580,89.9M515.2,99.4 509.7,100 504.2,100.2 498.9,100.3 493.7,100.1 488.5,99.7 483.4,99.1 478.3,98.3 473.3,97.3 468.4,96.1 463.5,94.8 458.6,93.3 453.8,91.7 449,90 444.3,88.1 439.6,86.1 434.9,84 430.2,81.9 425.6,79.6 420.9,77.2 416.3,74.8 411.7,72.3 407.2,69.7 402.6,67.1 398.1,64.5 393.5,61.8M456.1,114.5 461.6,111.4 467.1,108.4 472.5,105.6 477.9,103 483.3,100.6 488.6,98.3 493.8,96.3 499,94.4 504.2,92.8 509.3,91.3 514.4,90 519.3,88.9 524.3,87.9 529.1,87.1 533.9,86.5 538.6,86.1 543.2,85.8 547.8,85.7 552.3,85.8 556.7,86 561,86.4 565.3,86.9 569.4,87.5 573.5,88.3 577.5,89.2M517.9,98.4 512.3,99 506.9,99.2 501.6,99.3 496.3,99 491.1,98.6 486,98 481,97.2 476,96.2 471,95 466.1,93.6 461.3,92.1 456.4,90.5 451.7,88.7 446.9,86.8 442.2,84.8 437.5,82.7 432.8,80.5 428.1,78.2 423.5,75.8 418.9,73.3 414.3,70.8 409.7,68.2 405.2,65.5 400.6,62.9 396.1,60.1M453.7,114.3 459.1,111.1 464.6,108.1 470,105.3 475.4,102.7 480.7,100.2 486,98 491.3,95.9 496.5,94 501.7,92.4 506.8,90.9 511.8,89.5 516.8,88.4 521.7,87.4 526.6,86.6 531.3,86 536.1,85.6 540.7,85.3 545.3,85.1 549.8,85.2 554.2,85.4 558.5,85.7 562.8,86.2 567,86.8 571.1,87.6 575.1,88.5M520.5,97.5 515,98 509.6,98.3 504.2,98.3 499,98 493.8,97.6 488.7,96.9 483.6,96.1 478.6,95.1 473.6,93.9 468.7,92.5 463.9,91 459.1,89.3 454.3,87.5 449.5,85.6 444.8,83.6 440.1,81.4 435.4,79.2 430.7,76.8 426.1,74.4 421.5,71.9 416.9,69.3 412.3,66.7 407.7,64 403.2,61.3 398.6,58.6M451.2,114.1 456.6,110.8 462.1,107.8 467.5,105 472.9,102.3 478.2,99.9 483.5,97.6 488.7,95.5 494,93.6 499.1,91.9 504.2,90.4 509.3,89 514.2,87.9 519.2,86.9 524,86.1 528.8,85.4 533.5,84.9 538.2,84.6 542.8,84.5 547.3,84.5 551.7,84.7 556.1,85 560.3,85.5 564.5,86.1 568.6,86.8 572.6,87.7M523.2,96.6 517.7,97.1 512.2,97.3 506.9,97.3 501.6,97.1 496.4,96.6 491.3,95.9 486.2,95.1 481.2,94 476.3,92.8 471.3,91.4 466.5,89.9 461.7,88.2 456.9,86.3 452.1,84.4 447.4,82.3 442.7,80.2 438,77.9 433.3,75.5 428.7,73.1 424,70.5 419.4,67.9 414.9,65.3 410.3,62.6 405.7,59.8 401.2,57M448.7,113.7 454.2,110.5 459.6,107.5 465,104.6 470.3,101.9 475.7,99.5 481,97.2 486.2,95.1 491.4,93.1 496.6,91.4 501.7,89.9 506.7,88.5 511.7,87.3 516.6,86.3 521.5,85.5 526.3,84.8 531,84.3 535.7,84 540.3,83.8 544.8,83.8 549.2,83.9 553.6,84.2 557.9,84.7 562.1,85.3 566.2,86 570.2,86.9M525.8,95.8 520.3,96.2 514.8,96.5 509.5,96.4 504.2,96.1 499,95.7 493.9,95 488.8,94.1 483.8,93 478.9,91.8 473.9,90.3 469.1,88.8 464.2,87.1 459.5,85.2 454.7,83.3 450,81.2 445.2,79 440.6,76.7 435.9,74.3 431.2,71.8 426.6,69.2 422,66.6 417.4,63.9 412.8,61.2 408.3,58.4 403.7,55.5M446.2,113.4 451.7,110.1 457.1,107.1 462.5,104.2 467.9,101.5 473.2,99 478.5,96.7 483.7,94.6 488.9,92.6 494.1,90.9 499.2,89.3 504.2,87.9 509.2,86.7 514.1,85.7 519,84.8 523.8,84.1 528.5,83.6 533.2,83.2 537.8,83.1 542.3,83 546.8,83.2 551.1,83.4 555.4,83.9 559.7,84.4 563.8,85.1 567.8,86M528.5,95 522.9,95.4 517.5,95.6 512.1,95.6 506.8,95.3 501.6,94.8 496.5,94 491.4,93.1 486.4,92 481.5,90.8 476.5,89.3 471.7,87.8 466.8,86 462,84.1 457.3,82.2 452.5,80 447.8,77.8 443.1,75.5 438.5,73.1 433.8,70.5 429.2,68 424.6,65.3 420,62.6 415.4,59.8 410.8,57 406.3,54.1M443.8,113 449.2,109.7 454.6,106.6 460,103.7 465.4,101 470.7,98.5 476,96.2 481.2,94 486.4,92 491.6,90.3 496.7,88.7 501.7,87.3 506.7,86 511.6,85 516.5,84.1 521.3,83.4 526.1,82.8 530.7,82.5 535.3,82.3 539.9,82.2 544.3,82.3 548.7,82.6 553,83 557.2,83.5 561.4,84.2 565.5,85.1M531.1,94.2 525.5,94.7 520.1,94.8 514.7,94.8 509.4,94.4 504.2,93.9 499.1,93.2 494,92.2 489,91.1 484,89.8 479.1,88.4 474.2,86.8 469.4,85 464.6,83.1 459.8,81.1 455.1,79 450.4,76.7 445.7,74.3 441,71.9 436.4,69.4 431.8,66.7 427.1,64 422.5,61.3 418,58.5 413.4,55.6 408.8,52.7M441.4,112.5 446.8,109.2 452.2,106.1 457.6,103.2 462.9,100.5 468.2,97.9 473.5,95.6 478.7,93.4 483.9,91.4 489.1,89.6 494.2,88 499.2,86.6 504.2,85.3 509.2,84.2 514,83.3 518.9,82.6 523.6,82.1 528.3,81.7 532.9,81.4 537.4,81.4 541.9,81.4 546.3,81.7 550.6,82.1 554.9,82.6 559,83.3 563.1,84.1M533.6,93.5 528.1,94 522.6,94.1 517.3,94 512,93.7 506.8,93.1 501.7,92.4 496.6,91.4 491.6,90.3 486.6,89 481.7,87.5 476.8,85.8 472,84.1 467.2,82.1 462.4,80.1 457.7,77.9 453,75.6 448.3,73.3 443.6,70.8 438.9,68.2 434.3,65.6 429.7,62.8 425.1,60 420.5,57.2 415.9,54.3 411.4,51.4M439,112.1 444.4,108.7 449.7,105.6 455.1,102.7 460.4,99.9 465.8,97.4 471,95 476.3,92.8 481.5,90.8 486.6,89 491.7,87.3 496.8,85.9 501.8,84.6 506.7,83.5 511.6,82.6 516.4,81.8 521.1,81.2 525.8,80.8 530.5,80.6 535,80.5 539.5,80.5 543.9,80.8 548.2,81.1 552.5,81.6 556.7,82.3 560.7,83.1M536.2,92.9 530.7,93.3 525.2,93.4 519.8,93.3 514.6,92.9 509.3,92.4 504.2,91.6 499.1,90.6 494.1,89.4 489.2,88.1 484.2,86.6 479.4,84.9 474.5,83.1 469.7,81.2 465,79.1 460.2,76.9 455.5,74.6 450.8,72.2 446.1,69.7 441.5,67.1 436.9,64.4 432.2,61.7 427.6,58.9 423.1,56 418.5,53.1 413.9,50.1M436.6,111.5 441.9,108.2 447.3,105.1 452.7,102.1 458,99.3 463.3,96.7 468.6,94.3 473.8,92.1 479,90.1 484.1,88.2 489.2,86.6 494.3,85.1 499.3,83.8 504.2,82.7 509.1,81.7 513.9,80.9 518.7,80.3 523.4,79.9 528,79.6 532.6,79.5 537.1,79.6 541.5,79.8 545.8,80.1 550.1,80.6 554.3,81.3 558.4,82M538.8,92.3 533.2,92.7 527.7,92.8 522.4,92.6 517.1,92.2 511.9,91.7 506.8,90.9 501.7,89.9 496.7,88.7 491.7,87.3 486.8,85.8 481.9,84.1 477.1,82.3 472.3,80.3 467.5,78.2 462.8,76 458.1,73.7 453.4,71.2 448.7,68.7 444,66.1 439.4,63.3 434.8,60.6 430.2,57.7 425.6,54.8 421,51.8 416.5,48.8M434.2,111 439.5,107.6 444.9,104.5 450.2,101.5 455.6,98.7 460.9,96.1 466.1,93.6 471.3,91.4 476.5,89.3 481.7,87.5 486.8,85.8 491.8,84.3 496.8,83 501.8,81.8 506.7,80.8 511.5,80.1 516.3,79.4 521,79 525.6,78.7 530.2,78.5 534.7,78.6 539.1,78.7 543.5,79.1 547.7,79.6 552,80.2 556.1,80.9M541.3,91.7 535.7,92.1 530.3,92.2 524.9,92 519.6,91.6 514.4,91 509.3,90.2 504.2,89.1 499.2,87.9 494.2,86.6 489.3,85 484.4,83.3 479.6,81.5 474.8,79.5 470,77.3 465.3,75.1 460.6,72.7 455.9,70.3 451.2,67.7 446.6,65 442,62.3 437.3,59.5 432.7,56.6 428.1,53.7 423.6,50.7 419,47.6M431.8,110.4 437.1,107 442.5,103.8 447.8,100.8 453.1,98 458.4,95.3 463.7,92.9 468.9,90.6 474.1,88.6 479.2,86.7 484.3,85 489.4,83.4 494.4,82.1 499.4,80.9 504.2,79.9 509.1,79.1 513.9,78.5 518.6,78 523.2,77.7 527.8,77.5 532.3,77.5 536.7,77.7 541.1,78 545.4,78.5 549.6,79.1 553.8,79.8M543.8,91.2 538.3,91.6 532.8,91.6 527.4,91.4 522.1,91 516.9,90.4 511.8,89.5 506.7,88.5 501.7,87.3 496.8,85.9 491.8,84.3 487,82.6 482.1,80.7 477.3,78.7 472.6,76.5 467.8,74.2 463.1,71.9 458.4,69.4 453.8,66.8 449.1,64.1 444.5,61.3 439.9,58.5 435.3,55.6 430.7,52.6 426.1,49.6 421.5,46.5M429.4,109.8 434.7,106.4 440.1,103.1 445.4,100.1 450.7,97.3 456,94.6 461.3,92.1 466.5,89.9 471.7,87.8 476.8,85.8 481.9,84.1 487,82.6 492,81.2 496.9,80 501.8,79 506.7,78.1 511.5,77.5 516.2,77 520.8,76.6 525.4,76.5 529.9,76.4 534.4,76.6 538.8,76.9 543.1,77.3 547.3,77.9 551.5,78.6M546.3,90.8 540.7,91.1 535.3,91.1 529.9,90.9 524.6,90.5 519.4,89.8 514.3,88.9 509.2,87.9 504.2,86.6 499.3,85.2 494.3,83.6 489.5,81.9 484.6,79.9 479.9,77.9 475.1,75.7 470.4,73.4 465.6,71 461,68.5 456.3,65.9 451.6,63.2 447,60.4 442.4,57.5 437.8,54.6 433.2,51.5 428.6,48.5 424.1,45.4M427,109.1 432.4,105.7 437.7,102.4 443,99.4 448.3,96.5 453.6,93.8 458.8,91.3 464.1,89 469.2,86.9 474.4,85 479.5,83.2 484.5,81.6 489.6,80.2 494.5,79 499.4,78 504.3,77.1 509.1,76.4 513.8,75.9 518.4,75.6 523,75.4 527.6,75.3 532,75.4 536.4,75.7 540.7,76.1 545,76.7 549.2,77.4M548.8,90.3 543.2,90.6 537.8,90.6 532.4,90.4 527.1,90 521.9,89.3 516.8,88.4 511.7,87.3 506.7,86 501.8,84.6 496.8,83 492,81.2 487.1,79.3 482.4,77.2 477.6,75 472.9,72.7 468.2,70.2 463.5,67.7 458.8,65 454.2,62.3 449.5,59.5 444.9,56.6 440.3,53.6 435.7,50.6 431.2,47.5 426.6,44.3M424.7,108.4 430,105 435.3,101.7 440.6,98.6 445.9,95.7 451.2,93 456.4,90.5 461.7,88.2 466.8,86 472,84.1 477.1,82.3 482.1,80.7 487.1,79.3 492.1,78 497,77 501.9,76.1 506.7,75.4 511.4,74.8 516.1,74.4 520.7,74.2 525.2,74.2 529.7,74.3 534.1,74.5 538.4,74.9 542.7,75.5 546.9,76.2M551.2,90 545.7,90.2 540.2,90.2 534.9,90 529.6,89.5 524.4,88.8 519.3,87.9 514.2,86.8 509.2,85.5 504.2,84 499.3,82.4 494.5,80.6 489.6,78.6 484.8,76.5 480.1,74.3 475.4,72 470.7,69.5 466,66.9 461.3,64.2 456.7,61.5 452,58.6 447.4,55.7 442.8,52.7 438.2,49.6 433.7,46.5 429.1,43.3M422.3,107.7 427.6,104.2 433,100.9 438.3,97.8 443.5,94.9 448.8,92.2 454,89.6 459.3,87.3 464.4,85.1 469.6,83.1 474.7,81.3 479.7,79.7 484.7,78.2 489.7,77 494.6,75.9 499.5,75 504.3,74.3 509,73.7 513.7,73.3 518.3,73 522.9,73 527.4,73 531.8,73.3 536.1,73.7 540.4,74.2 544.6,74.9M553.7,89.6 548.1,89.9 542.7,89.8 537.3,89.6 532,89.1 526.8,88.3 521.7,87.4 516.6,86.3 511.6,85 506.7,83.5 501.8,81.8 496.9,80 492.1,78 487.3,75.9 482.6,73.7 477.8,71.3 473.1,68.8 468.5,66.2 463.8,63.5 459.2,60.7 454.5,57.8 449.9,54.9 445.3,51.8 440.8,48.7 436.2,45.6 431.6,42.4M420,106.9 425.3,103.4 430.6,100.1 435.9,97 441.2,94.1 446.4,91.3 451.7,88.7 456.9,86.3 462,84.1 467.2,82.1 472.3,80.3 477.3,78.7 482.4,77.2 487.3,75.9 492.2,74.8 497.1,73.9 501.9,73.1 506.7,72.5 511.4,72.1 516,71.8 520.5,71.7 525,71.8 529.5,72 533.8,72.4 538.1,72.9 542.3,73.5M556.1,89.3 550.5,89.6 545.1,89.5 539.7,89.2 534.5,88.7 529.3,88 524.1,87 519.1,85.9 514.1,84.5 509.1,83 504.2,81.3 499.4,79.5 494.6,77.5 489.8,75.3 485,73.1 480.3,70.7 475.6,68.2 470.9,65.5 466.3,62.8 461.7,60 457,57.1 452.4,54.1 447.8,51 443.3,47.9 438.7,44.7 434.1,41.4M417.6,106.2 422.9,102.6 428.2,99.3 433.5,96.1 438.8,93.2 444,90.4 449.3,87.8 454.5,85.4 459.6,83.2 464.8,81.1 469.9,79.3 475,77.6 480,76.1 484.9,74.8 489.9,73.7 494.7,72.7 499.6,71.9 504.3,71.3 509,70.9 513.6,70.6 518.2,70.5 522.7,70.5 527.2,70.7 531.5,71 535.8,71.5 540.1,72.2M558.5,89.1 552.9,89.3 547.5,89.2 542.1,88.9 536.9,88.4 531.7,87.6 526.6,86.6 521.5,85.5 516.5,84.1 511.6,82.6 506.7,80.8 501.8,79 497,77 492.2,74.8 487.5,72.5 482.8,70.1 478.1,67.5 473.4,64.9 468.8,62.1 464.1,59.3 459.5,56.3 454.9,53.3 450.3,50.2 445.8,47.1 441.2,43.8 436.6,40.6M415.3,105.4 420.6,101.8 425.9,98.4 431.2,95.3 436.4,92.3 441.7,89.5 446.9,86.8 452.1,84.4 457.3,82.2 462.4,80.1 467.5,78.2 472.6,76.5 477.6,75 482.6,73.7 487.5,72.5 492.4,71.5 497.2,70.7 502,70.1 506.7,69.6 511.3,69.3 515.9,69.2 520.4,69.2 524.9,69.4 529.2,69.7 533.6,70.2 537.8,70.8M560.9,88.9 555.3,89.1 549.9,89 544.5,88.6 539.3,88.1 534.1,87.3 529,86.3 523.9,85.1 518.9,83.7 514,82.2 509.1,80.4 504.3,78.5 499.5,76.5 494.7,74.3 489.9,72 485.2,69.5 480.5,67 475.9,64.3 471.2,61.5 466.6,58.6 462,55.7 457.4,52.6 452.8,49.5 448.2,46.3 443.7,43.1 439.1,39.8M413,104.5 418.3,100.9 423.5,97.5 428.8,94.3 434.1,91.3 439.3,88.5 444.5,85.8 449.7,83.4 454.9,81.1 460,79 465.1,77.1 470.2,75.4 475.2,73.9 480.2,72.5 485.1,71.3 490,70.3 494.8,69.5 499.6,68.8 504.3,68.3 509,68 513.6,67.8 518.1,67.8 522.6,68 527,68.3 531.3,68.7 535.6,69.3M563.2,88.7 557.7,88.9 552.2,88.8 546.9,88.4 541.6,87.8 536.5,87 531.3,86 526.3,84.8 521.3,83.4 516.4,81.8 511.5,80.1 506.7,78.1 501.9,76.1 497.1,73.9 492.4,71.5 487.7,69.1 483,66.5 478.3,63.8 473.7,61 469.1,58 464.5,55 459.9,52 455.3,48.8 450.7,45.6 446.2,42.3 441.6,39M410.7,103.7 415.9,100.1 421.2,96.6 426.5,93.4 431.7,90.4 437,87.5 442.2,84.8 447.4,82.3 452.5,80 457.7,77.9 462.8,76 467.8,74.2 472.9,72.7 477.8,71.3 482.8,70.1 487.7,69.1 492.5,68.2 497.3,67.5 502,67 506.7,66.7 511.3,66.5 515.8,66.4 520.3,66.6 524.7,66.9 529,67.3 533.3,67.9M565.6,88.6 560,88.7 554.6,88.6 549.2,88.2 544,87.6 538.8,86.8 533.7,85.8 528.7,84.5 523.7,83.1 518.8,81.5 513.9,79.7 509.1,77.8 504.3,75.7 499.5,73.5 494.8,71.1 490.1,68.6 485.4,66 480.8,63.3 476.1,60.4 471.5,57.5 466.9,54.5 462.3,51.4 457.8,48.2 453.2,44.9 448.6,41.6 444.1,38.2M408.4,102.8 413.6,99.1 418.9,95.7 424.1,92.4 429.4,89.4 434.6,86.5 439.8,83.8 445,81.3 450.2,78.9 455.3,76.8 460.4,74.8 465.5,73.1 470.5,71.5 475.5,70.1 480.4,68.8 485.3,67.8 490.2,66.9 495,66.2 499.7,65.6 504.4,65.3 509,65.1 513.5,65 518,65.1 522.4,65.4 526.8,65.8 531.1,66.4M567.9,88.6 562.3,88.7 556.9,88.5 551.6,88.1 546.3,87.5 541.2,86.6 536.1,85.6 531,84.3 526.1,82.8 521.1,81.2 516.3,79.4 511.5,77.5 506.7,75.4 501.9,73.1 497.2,70.7 492.5,68.2 487.8,65.6 483.2,62.8 478.6,59.9 474,57 469.4,53.9 464.8,50.8 460.2,47.6 455.7,44.3 451.1,41 446.6,37.6M406.1,101.9 411.3,98.2 416.6,94.7 421.8,91.4 427,88.3 432.3,85.4 437.5,82.7 442.7,80.2 447.8,77.8 453,75.6 458.1,73.7 463.1,71.9 468.2,70.2 473.1,68.8 478.1,67.5 483,66.5 487.8,65.6 492.6,64.8 497.4,64.3 502.1,63.9 506.7,63.6 511.2,63.6 515.7,63.7 520.2,63.9 524.5,64.3 528.8,64.8M570.2,88.5 564.6,88.6 559.2,88.4 553.9,88 548.6,87.3 543.5,86.5 538.4,85.4 533.4,84.1 528.4,82.6 523.5,81 518.6,79.2 513.8,77.2 509,75.1 504.3,72.8 499.6,70.4 494.9,67.8 490.2,65.2 485.6,62.4 481,59.5 476.4,56.5 471.8,53.4 467.2,50.3 462.7,47 458.1,43.7 453.6,40.4 449,36.9M403.8,100.9 409,97.2 414.3,93.7 419.5,90.4 424.7,87.3 429.9,84.4 435.1,81.6 440.3,79 445.5,76.7 450.6,74.5 455.7,72.4 460.8,70.6 465.8,69 470.8,67.5 475.8,66.2 480.7,65.1 485.5,64.2 490.3,63.4 495.1,62.9 499.8,62.4 504.4,62.2 509,62.1 513.5,62.2 517.9,62.4 522.3,62.8 526.6,63.3M572.4,88.5 566.9,88.6 561.5,88.4 556.2,87.9 550.9,87.3 545.8,86.4 540.7,85.3 535.7,84 530.7,82.5 525.8,80.8 521,79 516.2,77 511.4,74.8 506.7,72.5 502,70.1 497.3,67.5 492.6,64.8 488,62 483.4,59.1 478.8,56.1 474.2,53 469.6,49.8 465.1,46.5 460.5,43.2 456,39.8 451.5,36.3M401.5,100 406.7,96.3 411.9,92.7 417.2,89.4 422.4,86.2 427.6,83.3 432.8,80.5 438,77.9 443.1,75.5 448.3,73.3 453.4,71.2 458.4,69.4 463.5,67.7 468.5,66.2 473.4,64.9 478.3,63.8 483.2,62.8 488,62 492.8,61.4 497.5,61 502.1,60.7 506.7,60.6 511.2,60.6 515.7,60.8 520.1,61.2 524.4,61.7M574.7,88.6 569.2,88.6 563.8,88.4 558.4,87.9 553.2,87.2 548.1,86.3 543,85.2 538,83.9 533,82.4 528.2,80.7 523.3,78.8 518.5,76.8 513.7,74.6 509,72.3 504.3,69.8 499.7,67.2 495,64.5 490.4,61.7 485.8,58.8 481.2,55.7 476.6,52.6 472.1,49.4 467.5,46.1 463,42.7 458.4,39.3 453.9,35.8M399.2,99 404.4,95.3 409.6,91.7 414.9,88.3 420.1,85.2 425.3,82.2 430.5,79.3 435.6,76.7 440.8,74.3 445.9,72 451,70 456.1,68.1 461.1,66.4 466.1,64.9 471.1,63.5 476,62.4 480.9,61.4 485.7,60.6 490.5,59.9 495.2,59.5 499.8,59.2 504.4,59 509,59.1 513.4,59.2 517.8,59.6 522.2,60.1M576.9,88.7 571.4,88.7 566,88.4 560.7,87.9 555.5,87.2 550.3,86.3 545.3,85.1 540.3,83.8 535.3,82.3 530.5,80.6 525.6,78.7 520.8,76.6 516.1,74.4 511.4,72.1 506.7,69.6 502,67 497.4,64.3 492.8,61.4 488.2,58.5 483.6,55.4 479,52.2 474.5,49 469.9,45.7 465.4,42.3 460.9,38.8 456.4,35.3M396.9,98 402.1,94.2 407.3,90.7 412.6,87.3 417.8,84 423,81 428.1,78.2 433.3,75.5 438.5,73.1 443.6,70.8 448.7,68.7 453.8,66.8 458.8,65 463.8,63.5 468.8,62.1 473.7,61 478.6,59.9 483.4,59.1 488.2,58.5 492.9,58 497.6,57.6 502.2,57.5 506.7,57.5 511.2,57.6 515.6,58 520,58.4M579.1,88.8 573.6,88.8 568.2,88.5 562.9,88 557.7,87.3 552.6,86.3 547.5,85.1 542.5,83.8 537.6,82.2 532.7,80.5 527.9,78.6 523.1,76.5 518.4,74.3 513.7,71.9 509,69.4 504.3,66.8 499.7,64 495.1,61.2 490.5,58.2 486,55.1 481.4,51.9 476.9,48.6 472.3,45.3 467.8,41.9 463.3,38.4 458.8,34.8M394.7,97 399.9,93.2 405.1,89.6 410.3,86.2 415.5,82.9 420.6,79.9 425.8,77 431,74.3 436.1,71.8 441.3,69.5 446.4,67.4 451.4,65.4 456.5,63.7 461.5,62.1 466.5,60.7 471.4,59.5 476.3,58.5 481.1,57.6 485.9,56.9 490.6,56.4 495.3,56.1 499.9,55.9 504.5,55.9 509,56 513.4,56.3 517.8,56.7M581.3,88.9 575.8,88.9 570.4,88.6 565.1,88.1 559.9,87.3 554.8,86.4 549.8,85.2 544.8,83.8 539.9,82.2 535,80.5 530.2,78.5 525.4,76.5 520.7,74.2 516,71.8 511.3,69.3 506.7,66.7 502.1,63.9 497.5,61 492.9,58 488.3,54.9 483.8,51.6 479.2,48.3 474.7,45 470.2,41.5 465.7,38 461.2,34.4M392.4,96 397.6,92.2 402.8,88.5 408,85.1 413.1,81.8 418.3,78.7 423.5,75.8 428.7,73.1 433.8,70.5 438.9,68.2 444,66.1 449.1,64.1 454.2,62.3 459.2,60.7 464.1,59.3 469.1,58 474,57 478.8,56.1 483.6,55.4 488.3,54.9 493,54.5 497.6,54.3 502.2,54.2 506.7,54.3 511.2,54.6 515.6,55M583.5,89.2 578,89.1 572.6,88.8 567.3,88.2 562.1,87.4 557,86.5 552,85.2 547,83.8 542.1,82.3 537.3,80.5 532.4,78.5 527.7,76.4 523,74.2 518.3,71.8 513.6,69.2 509,66.5 504.4,63.7 499.8,60.8 495.2,57.8 490.7,54.6 486.1,51.4 481.6,48.1 477.1,44.7 472.6,41.2 468.1,37.7 463.6,34.1M390.1,94.9 395.3,91.1 400.5,87.4 405.7,83.9 410.9,80.6 416,77.5 421.2,74.6 426.4,71.8 431.5,69.3 436.6,66.9 441.7,64.7 446.8,62.7 451.8,60.9 456.9,59.3 461.8,57.8 466.8,56.6 471.7,55.5 476.5,54.6 481.3,53.8 486.1,53.3 490.7,52.9 495.4,52.6 500,52.6 504.5,52.7 509,52.9 513.3,53.3M585.6,89.4 580.1,89.3 574.8,89 569.5,88.4 564.3,87.6 559.2,86.6 554.2,85.4 549.2,83.9 544.3,82.3 539.5,80.5 534.7,78.6 529.9,76.4 525.2,74.2 520.5,71.7 515.9,69.2 511.3,66.5 506.7,63.6 502.1,60.7 497.6,57.6 493,54.5 488.5,51.2 484,47.9 479.5,44.4 475,40.9 470.5,37.4 466,33.7M387.9,93.9 393,90 398.2,86.3 403.4,82.8 408.6,79.4 413.7,76.3 418.9,73.3 424,70.5 429.2,68 434.3,65.6 439.4,63.3 444.5,61.3 449.5,59.5 454.5,57.8 459.5,56.3 464.5,55 469.4,53.9 474.2,53 479,52.2 483.8,51.6 488.5,51.2 493.1,51 497.7,50.9 502.3,50.9 506.7,51.2 511.1,51.6M587.7,89.7 582.2,89.6 576.9,89.2 571.6,88.6 566.5,87.8 561.4,86.8 556.4,85.5 551.4,84.1 546.5,82.4 541.7,80.6 536.9,78.6 532.2,76.5 527.5,74.2 522.8,71.7 518.2,69.2 513.6,66.4 509,63.6 504.4,60.6 499.9,57.5 495.3,54.4 490.8,51.1 486.3,47.7 481.8,44.2 477.3,40.7 472.9,37.1 468.4,33.4M385.6,92.8 390.8,88.9 395.9,85.2 401.1,81.6 406.3,78.2 411.4,75.1 416.6,72.1 421.7,69.3 426.9,66.6 432,64.2 437.1,62 442.2,59.9 447.2,58 452.2,56.3 457.2,54.8 462.2,53.5 467.1,52.4 471.9,51.4 476.7,50.6 481.5,50 486.2,49.6 490.9,49.3 495.5,49.2 500,49.2 504.5,49.4 509,49.8M589.8,90 584.3,89.9 579,89.5 573.8,88.9 568.6,88 563.5,87 558.5,85.7 553.6,84.2 548.7,82.6 543.9,80.8 539.1,78.7 534.4,76.6 529.7,74.3 525,71.8 520.4,69.2 515.8,66.4 511.2,63.6 506.7,60.6 502.2,57.5 497.6,54.3 493.1,51 488.6,47.6 484.2,44.1 479.7,40.5 475.2,36.9 470.7,33.2M383.4,91.7 388.5,87.8 393.7,84 398.8,80.4 404,77 409.1,73.8 414.3,70.8 419.4,67.9 424.6,65.3 429.7,62.8 434.8,60.6 439.9,58.5 444.9,56.6 449.9,54.9 454.9,53.3 459.9,52 464.8,50.8 469.6,49.8 474.5,49 479.2,48.3 484,47.9 488.6,47.6 493.3,47.4 497.8,47.5 502.3,47.6 506.8,48M591.9,90.3 586.4,90.2 581.1,89.8 575.9,89.2 570.7,88.3 565.7,87.2 560.7,85.9 555.7,84.4 550.9,82.8 546.1,80.9 541.3,78.9 536.6,76.7 531.9,74.4 527.3,71.9 522.6,69.3 518.1,66.5 513.5,63.6 509,60.6 504.4,57.5 499.9,54.2 495.4,50.9 491,47.5 486.5,44 482,40.4 477.6,36.7 473.1,33M381.2,90.6 386.3,86.6 391.4,82.8 396.6,79.2 401.7,75.8 406.9,72.6 412,69.5 417.1,66.6 422.3,63.9 427.4,61.4 432.5,59.1 437.6,57 442.6,55.1 447.6,53.3 452.6,51.8 457.6,50.4 462.5,49.2 467.4,48.2 472.2,47.3 477,46.7 481.7,46.2 486.4,45.8 491,45.7 495.6,45.7 500.1,45.8 504.6,46.2M593.9,90.7 588.5,90.6 583.2,90.1 578,89.5 572.8,88.6 567.8,87.5 562.8,86.2 557.9,84.7 553,83 548.2,81.1 543.5,79.1 538.8,76.9 534.1,74.5 529.5,72 524.9,69.4 520.3,66.6 515.7,63.7 511.2,60.6 506.7,57.5 502.2,54.2 497.7,50.9 493.3,47.4 488.8,43.9 484.3,40.3 479.9,36.6 475.5,32.9M378.9,89.5 384,85.5 389.2,81.7 394.3,78 399.4,74.6 404.6,71.3 409.7,68.2 414.9,65.3 420,62.6 425.1,60 430.2,57.7 435.3,55.6 440.3,53.6 445.3,51.8 450.3,50.2 455.3,48.8 460.2,47.6 465.1,46.5 469.9,45.7 474.7,45 479.5,44.4 484.2,44.1 488.8,43.9 493.4,43.9 497.9,44 502.4,44.3M595.9,91.1 590.5,91 585.2,90.5 580,89.8 574.9,88.9 569.9,87.8 564.9,86.5 560,85 555.1,83.3 550.4,81.4 545.6,79.3 540.9,77.1 536.3,74.7 531.7,72.2 527.1,69.5 522.5,66.7 518,63.8 513.5,60.7 509,57.5 504.5,54.3 500,50.9 495.5,47.4 491.1,43.9 486.7,40.2 482.2,36.5 477.8,32.8M376.7,88.4 381.8,84.4 386.9,80.5 392,76.8 397.2,73.3 402.3,70 407.4,66.9 412.6,63.9 417.7,61.2 422.8,58.6 427.9,56.3 433,54.1 438,52.1 443,50.3 448,48.7 453,47.2 457.9,46 462.8,44.9 467.7,44 472.5,43.3 477.2,42.7 481.9,42.3 486.6,42.1 491.2,42.1 495.7,42.2 500.2,42.4M597.9,91.6 592.5,91.4 587.2,90.9 582.1,90.2 576.9,89.3 571.9,88.2 567,86.8 562.1,85.3 557.2,83.5 552.5,81.6 547.7,79.6 543.1,77.3 538.4,74.9 533.8,72.4 529.2,69.7 524.7,66.9 520.2,63.9 515.7,60.8 511.2,57.6 506.7,54.3 502.3,50.9 497.8,47.5 493.4,43.9 489,40.2 484.5,36.5 480.1,32.7M374.5,87.3 379.6,83.2 384.7,79.3 389.8,75.6 394.9,72.1 400,68.7 405.2,65.5 410.3,62.6 415.4,59.8 420.5,57.2 425.6,54.8 430.7,52.6 435.7,50.6 440.8,48.7 445.8,47.1 450.7,45.6 455.7,44.3 460.5,43.2 465.4,42.3 470.2,41.5 475,40.9 479.7,40.5 484.3,40.3 489,40.2 493.5,40.3 498,40.6M599.9,92.1 594.5,91.9 589.3,91.4 584.1,90.6 579,89.7 574,88.5 569,87.2 564.1,85.6 559.3,83.9 554.6,81.9 549.9,79.9 545.2,77.6 540.6,75.2 536,72.6 531.4,69.9 526.9,67.1 522.4,64.1 517.9,61 513.4,57.8 509,54.5 504.5,51 500.1,47.5 495.7,43.9 491.2,40.2 486.8,36.5 482.4,32.7M372.3,86.1 377.3,82 382.4,78.1 387.5,74.3 392.6,70.8 397.8,67.4 402.9,64.2 408,61.2 413.1,58.4 418.2,55.8 423.3,53.3 428.4,51.1 433.4,49 438.5,47.1 443.5,45.5 448.4,44 453.4,42.6 458.3,41.5 463.1,40.5 468,39.8 472.7,39.2 477.4,38.7 482.1,38.5 486.7,38.4 491.3,38.4 495.8,38.7M601.9,92.6 596.5,92.4 591.2,91.8 586.1,91.1 581,90.1 576,89 571.1,87.6 566.2,86 561.4,84.2 556.7,82.3 552,80.2 547.3,77.9 542.7,75.5 538.1,72.9 533.6,70.2 529,67.3 524.5,64.3 520.1,61.2 515.6,58 511.2,54.6 506.7,51.2 502.3,47.6 497.9,44 493.5,40.3 489.1,36.5 484.7,32.7M370.1,85 375.1,80.9 380.2,76.9 385.3,73.1 390.4,69.5 395.5,66.1 400.6,62.9 405.7,59.8 410.8,57 415.9,54.3 421,51.8 426.1,49.6 431.2,47.5 436.2,45.6 441.2,43.8 446.2,42.3 451.1,41 456,39.8 460.9,38.8 465.7,38 470.5,37.4 475.2,36.9 479.9,36.6 484.5,36.5 489.1,36.5 493.6,36.7M603.8,93.2 598.4,92.9 593.2,92.4 588,91.6 583,90.6 578,89.4 573.1,88 568.2,86.4 563.4,84.6 558.7,82.7 554,80.5 549.4,78.2 544.8,75.8 540.2,73.2 535.7,70.4 531.2,67.6 526.7,64.5 522.2,61.4 517.8,58.2 513.4,54.8 509,51.3 504.5,47.8 500.1,44.1 495.8,40.4 491.4,36.6 487,32.7M367.8,83.8 372.9,79.7 378,75.7 383,71.8 388.1,68.2 393.2,64.8 398.3,61.5 403.5,58.4 408.6,55.5 413.7,52.9 418.7,50.3 423.8,48 428.9,45.9 433.9,44 438.9,42.2 443.9,40.6 448.8,39.3 453.7,38.1 458.6,37.1 463.4,36.2 468.2,35.6 473,35.1 477.7,34.7 482.3,34.6 486.9,34.6 491.4,34.8M605.7,93.8 600.4,93.5 595.1,92.9 590,92.1 584.9,91.1 580,89.9 575.1,88.5 570.2,86.9 565.5,85.1 560.7,83.1 556.1,80.9 551.5,78.6 546.9,76.2 542.3,73.5 537.8,70.8 533.3,67.9 528.8,64.8 524.4,61.7 520,58.4 515.6,55 511.1,51.6 506.8,48 502.4,44.3 498,40.6 493.6,36.7 489.3,32.8M365.6,82.7 370.7,78.5 375.7,74.4 380.8,70.6 385.9,66.9 391,63.4 396.1,60.1 401.2,57 406.3,54.1 411.4,51.4 416.5,48.8 421.5,46.5 426.6,44.3 431.6,42.4 436.6,40.6 441.6,39 446.6,37.6 451.5,36.3 456.4,35.3 461.2,34.4 466,33.7 470.7,33.2 475.5,32.9 480.1,32.7 484.7,32.7 489.3,32.8" fill="none" stroke="#000" stroke-width="0.92" stroke-linejoin="round"/>
<ellipse cx="485.9" cy="58.3" rx="2.0" ry="1.6" fill="#e81010"/><ellipse cx="550.9" cy="83.3" rx="2.0" ry="1.6" fill="#e81010"/><ellipse cx="606.1" cy="89.1" rx="2.0" ry="1.6" fill="#e81010"/>
<text x="355.2" y="41.9" text-anchor="end" class="tk">-15</text><text x="356.9" y="56.8" text-anchor="end" class="tk">-20</text><text x="359.8" y="71.3" text-anchor="end" class="tk">-25</text><text x="361" y="85.6" text-anchor="end" class="tk">-30</text><text x="363" y="97.8" text-anchor="end" class="tk">-35</text><text x="366" y="111.1" text-anchor="end" class="tk">-40</text><text x="364.8" y="135.5" text-anchor="middle" class="tk">1.00</text><text x="385.9" y="148.1" text-anchor="middle" class="tk">0.90</text><text x="406.8" y="160.2" text-anchor="middle" class="tk">0.80</text><text x="428.2" y="172" text-anchor="middle" class="tk">0.70</text><text x="448.4" y="182.6" text-anchor="middle" class="tk">0.60</text><text x="470.6" y="195" text-anchor="middle" class="tk">0.50</text><text x="496.3" y="195.7" text-anchor="middle" class="tk">1.00</text><text x="521.7" y="181.1" text-anchor="middle" class="tk">2.00</text><text x="553.6" y="167.2" text-anchor="middle" class="tk">3.00</text><text x="581.3" y="154.4" text-anchor="middle" class="tk">4.00</text><text x="608.6" y="140.6" text-anchor="middle" class="tk">5.00</text><text x="373.4" y="176.2" class="ax" textLength="38.8" lengthAdjust="spacingAndGlyphs">Lecithin</text><text x="567" y="173.7" class="ax" textLength="20.5" lengthAdjust="spacingAndGlyphs">Zein</text><text transform="translate(337.4,134.5) rotate(-90)" class="zt" textLength="95.2" lengthAdjust="spacingAndGlyphs">Zeta&#160; potential (mV)</text><text x="322" y="15.2" class="lb">(b)</text></g>
<g id="plot-c"><polygon points="312.7,402.7 449.7,359 357.3,307.5 226.2,340.6" fill="#ffff00" stroke="#a8a800" stroke-width="0.4"/>
<path d="M240.5,337.7C250,338.5 258,340.5 265.7,344C274,348 281,351.5 285.8,355.4C291,360 293.5,364 293.3,367.9C293,373.5 290,378.5 285.8,383" fill="none" stroke="#30f040" stroke-width="0.9"/><path d="M321.3,331.5C330,332.6 340,332.9 347.7,332.7C357,332.9 366,333 372.9,332.7C380,332 386,330.8 390.5,328.9" fill="none" stroke="#b8f820" stroke-width="0.7"/><path d="M314,401C320,393 327,385.5 335.2,378C343,370.5 351,363.5 360.3,357.9C368,353.5 376,350.8 385.5,349.1C394,347.5 402,346.7 410.7,346.6C416,346.7 420,347.1 423.2,347.8" fill="none" stroke="#b8f820" stroke-width="0.7"/>
<path d="M212.9,250.7L226.2,340.6M357.4,220.3L357.3,307.5M464,266.8L449.7,359M249,243.1L256.9,313.1M285.1,235.5L290.3,304.8M321.3,227.9L323.8,296.4M378.7,229.6L376.7,296.3M400,238.9L396.1,304.6M421.4,248.2L415.5,312.9M442.7,257.5L434.9,321.2M212.9,250.7L357.4,220.3L464,266.8M215,264.7L357.4,234L462,279.8M217.1,279.3L357.4,247.5L460,292.5M219.2,293.5L357.4,261L458.1,305M221.3,307.7L357.3,274.5L456.2,317.3M223.4,321.5L357.3,288L454.3,329.5" fill="none" stroke="#1a1a1a" stroke-width="0.9"/>
<path d="M263.1,331.5V341.5" stroke="#333" stroke-width="0.8"/><ellipse cx="263.1" cy="341.5" rx="1.8" ry="1.4" fill="#f0a0a8" stroke="#844" stroke-width="0.4"/><path d="M310.2,337.5V340.3" stroke="#333" stroke-width="0.8"/><ellipse cx="310.2" cy="340.3" rx="1.8" ry="1.4" fill="#f0a0a8" stroke="#844" stroke-width="0.4"/>
<g stroke-width="0.5" stroke-linejoin="round"><path d="M356.3,237 361.6,235.8 357.9,231.5 352.6,232.8z" fill="#ff0100" stroke="#ff0100"/><path d="M360,241 365.3,239.8 361.6,235.8 356.3,237z" fill="#ff1600" stroke="#ff1600"/><path d="M363.7,244.8 369,243.7 365.3,239.8 360,241z" fill="#ff3800" stroke="#ff3800"/><path d="M351,238.4 356.3,237 352.6,232.8 347.3,234.3z" fill="#ff0200" stroke="#ff0200"/><path d="M354.7,242.4 360,241 356.3,237 351,238.4z" fill="#ff1700" stroke="#ff1700"/><path d="M367.5,248.5 372.8,247.4 369,243.7 363.7,244.8z" fill="#ff6200" stroke="#ff6200"/><path d="M358.4,246.2 363.7,244.8 360,241 354.7,242.4z" fill="#ff3a00" stroke="#ff3a00"/><path d="M345.7,240 351,238.4 347.3,234.3 341.9,235.9z" fill="#ff0500" stroke="#ff0500"/><path d="M371.3,252 376.5,250.9 372.8,247.4 367.5,248.5z" fill="#ff9600" stroke="#ff9600"/><path d="M349.4,244 354.7,242.4 351,238.4 345.7,240z" fill="#ff1a00" stroke="#ff1a00"/><path d="M362.2,249.8 367.5,248.5 363.7,244.8 358.4,246.2z" fill="#ff6200" stroke="#ff6200"/><path d="M375.1,255.3 380.3,254.3 376.5,250.9 371.3,252z" fill="#ffdd00" stroke="#ffdd00"/><path d="M340.3,241.8 345.7,240 341.9,235.9 336.6,237.7z" fill="#ff0900" stroke="#ff0900"/><path d="M353.1,247.7 358.4,246.2 354.7,242.4 349.4,244z" fill="#ff3e00" stroke="#ff3e00"/><path d="M366,253.2 371.3,252 367.5,248.5 362.2,249.8z" fill="#ff9400" stroke="#ff9400"/><path d="M344,245.7 349.4,244 345.7,240 340.3,241.8z" fill="#ff1d00" stroke="#ff1d00"/><path d="M356.9,251.3 362.2,249.8 358.4,246.2 353.1,247.7z" fill="#ff6500" stroke="#ff6500"/><path d="M378.9,258.5 384.1,257.5 380.3,254.3 375.1,255.3z" fill="#f9ff00" stroke="#f9ff00"/><path d="M334.9,243.7 340.3,241.8 336.6,237.7 331.1,239.6z" fill="#ff0f00" stroke="#ff0f00"/><path d="M347.7,249.4 353.1,247.7 349.4,244 344,245.7z" fill="#ff4600" stroke="#ff4600"/><path d="M369.8,256.5 375.1,255.3 371.3,252 366,253.2z" fill="#ffd800" stroke="#ffd800"/><path d="M338.6,247.5 344,245.7 340.3,241.8 334.9,243.7z" fill="#ff2700" stroke="#ff2700"/><path d="M360.6,254.7 366,253.2 362.2,249.8 356.9,251.3z" fill="#ff9800" stroke="#ff9800"/><path d="M382.7,261.5 388,260.5 384.1,257.5 378.9,258.5z" fill="#dcff00" stroke="#dcff00"/><path d="M329.4,245.7 334.9,243.7 331.1,239.6 325.7,241.7z" fill="#ff1600" stroke="#ff1600"/><path d="M351.5,252.9 356.9,251.3 353.1,247.7 347.7,249.4z" fill="#ff6c00" stroke="#ff6c00"/><path d="M373.6,259.6 378.9,258.5 375.1,255.3 369.8,256.5z" fill="#fdff00" stroke="#fdff00"/><path d="M342.3,251.2 347.7,249.4 344,245.7 338.6,247.5z" fill="#ff5000" stroke="#ff5000"/><path d="M364.4,257.9 369.8,256.5 366,253.2 360.6,254.7z" fill="#ffda00" stroke="#ffda00"/><path d="M333.1,249.5 338.6,247.5 334.9,243.7 329.4,245.7z" fill="#ff3500" stroke="#ff3500"/><path d="M355.2,256.2 360.6,254.7 356.9,251.3 351.5,252.9z" fill="#ffa300" stroke="#ffa300"/><path d="M324,247.9 329.4,245.7 325.7,241.7 320.2,243.9z" fill="#ff1d00" stroke="#ff1d00"/><path d="M386.6,264.3 391.8,263.4 388,260.5 382.7,261.5z" fill="#baff00" stroke="#baff00"/><path d="M346.1,254.7 351.5,252.9 347.7,249.4 342.3,251.2z" fill="#ff7500" stroke="#ff7500"/><path d="M377.4,262.6 382.7,261.5 378.9,258.5 373.6,259.6z" fill="#e0ff00" stroke="#e0ff00"/><path d="M336.9,253.1 342.3,251.2 338.6,247.5 333.1,249.5z" fill="#ff5d00" stroke="#ff5d00"/><path d="M327.7,251.6 333.1,249.5 329.4,245.7 324,247.9z" fill="#ff4600" stroke="#ff4600"/><path d="M368.2,261 373.6,259.6 369.8,256.5 364.4,257.9z" fill="#fdff00" stroke="#fdff00"/><path d="M318.5,250.2 324,247.9 320.2,243.9 314.8,246.3z" fill="#ff3000" stroke="#ff3000"/><path d="M359,259.4 364.4,257.9 360.6,254.7 355.2,256.2z" fill="#ffe300" stroke="#ffe300"/><path d="M349.8,258 355.2,256.2 351.5,252.9 346.1,254.7z" fill="#ffb400" stroke="#ffb400"/><path d="M340.6,256.6 346.1,254.7 342.3,251.2 336.9,253.1z" fill="#ff8800" stroke="#ff8800"/><path d="M390.5,267 395.8,266.1 391.8,263.4 386.6,264.3z" fill="#95ff00" stroke="#95ff00"/><path d="M331.4,255.2 336.9,253.1 333.1,249.5 327.7,251.6z" fill="#ff6d00" stroke="#ff6d00"/><path d="M322.2,253.9 327.7,251.6 324,247.9 318.5,250.2z" fill="#ff5900" stroke="#ff5900"/><path d="M381.3,265.4 386.6,264.3 382.7,261.5 377.4,262.6z" fill="#c5ff00" stroke="#c5ff00"/><path d="M313,252.6 318.5,250.2 314.8,246.3 309.3,248.7z" fill="#ff4600" stroke="#ff4600"/><path d="M372.1,263.9 377.4,262.6 373.6,259.6 368.2,261z" fill="#e2ff00" stroke="#e2ff00"/><path d="M362.9,262.5 368.2,261 364.4,257.9 359,259.4z" fill="#faff00" stroke="#faff00"/><path d="M353.6,261.1 359,259.4 355.2,256.2 349.8,258z" fill="#ffee00" stroke="#ffee00"/><path d="M344.4,259.9 349.8,258 346.1,254.7 340.6,256.6z" fill="#ffcb00" stroke="#ffcb00"/><path d="M335.1,258.6 340.6,256.6 336.9,253.1 331.4,255.2z" fill="#ffa700" stroke="#ffa700"/><path d="M325.9,257.4 331.4,255.2 327.7,251.6 322.2,253.9z" fill="#ff8400" stroke="#ff8400"/><path d="M316.7,256.3 322.2,253.9 318.5,250.2 313,252.6z" fill="#ff6f00" stroke="#ff6f00"/><path d="M307.4,255.1 313,252.6 309.3,248.7 303.7,251.3z" fill="#ff5f00" stroke="#ff5f00"/><path d="M394.5,269.5 399.7,268.7 395.8,266.1 390.5,267z" fill="#79ff00" stroke="#79ff00"/><path d="M385.2,268 390.5,267 386.6,264.3 381.3,265.4z" fill="#a1ff00" stroke="#a1ff00"/><path d="M376,266.6 381.3,265.4 377.4,262.6 372.1,263.9z" fill="#c9ff00" stroke="#c9ff00"/><path d="M366.7,265.3 372.1,263.9 368.2,261 362.9,262.5z" fill="#e0ff00" stroke="#e0ff00"/><path d="M301.9,257.8 307.4,255.1 303.7,251.3 298.2,254z" fill="#ff7900" stroke="#ff7900"/><path d="M311.1,258.8 316.7,256.3 313,252.6 307.4,255.1z" fill="#ff9300" stroke="#ff9300"/><path d="M357.4,264.1 362.9,262.5 359,259.4 353.6,261.1z" fill="#f3ff00" stroke="#f3ff00"/><path d="M320.4,259.8 325.9,257.4 322.2,253.9 316.7,256.3z" fill="#ffae00" stroke="#ffae00"/><path d="M329.6,260.8 335.1,258.6 331.4,255.2 325.9,257.4z" fill="#ffca00" stroke="#ffca00"/><path d="M348.2,263 353.6,261.1 349.8,258 344.4,259.9z" fill="#fff900" stroke="#fff900"/><path d="M338.9,261.9 344.4,259.9 340.6,256.6 335.1,258.6z" fill="#ffe800" stroke="#ffe800"/><path d="M296.3,260.5 301.9,257.8 298.2,254 292.6,256.7z" fill="#ffb300" stroke="#ffb300"/><path d="M305.6,261.4 311.1,258.8 307.4,255.1 301.9,257.8z" fill="#ffc800" stroke="#ffc800"/><path d="M398.5,272 403.7,271.2 399.7,268.7 394.5,269.5z" fill="#63ff00" stroke="#63ff00"/><path d="M314.8,262.3 320.4,259.8 316.7,256.3 311.1,258.8z" fill="#ffdd00" stroke="#ffdd00"/><path d="M324.1,263.1 329.6,260.8 325.9,257.4 320.4,259.8z" fill="#ffef00" stroke="#ffef00"/><path d="M389.2,270.5 394.5,269.5 390.5,267 385.2,268z" fill="#86ff00" stroke="#86ff00"/><path d="M333.4,264 338.9,261.9 335.1,258.6 329.6,260.8z" fill="#fffb00" stroke="#fffb00"/><path d="M342.7,264.9 348.2,263 344.4,259.9 338.9,261.9z" fill="#f7ff00" stroke="#f7ff00"/><path d="M379.9,269.2 385.2,268 381.3,265.4 376,266.6z" fill="#a8ff00" stroke="#a8ff00"/><path d="M352,265.9 357.4,264.1 353.6,261.1 348.2,263z" fill="#e9ff00" stroke="#e9ff00"/><path d="M370.6,268.1 376,266.6 372.1,263.9 366.7,265.3z" fill="#c8ff00" stroke="#c8ff00"/><path d="M361.3,267 366.7,265.3 362.9,262.5 357.4,264.1z" fill="#daff00" stroke="#daff00"/><path d="M290.7,263.3 296.3,260.5 292.6,256.7 287.1,259.6z" fill="#ffee00" stroke="#ffee00"/><path d="M300,264.1 305.6,261.4 301.9,257.8 296.3,260.5z" fill="#fff700" stroke="#fff700"/><path d="M309.3,264.8 314.8,262.3 311.1,258.8 305.6,261.4z" fill="#ffff00" stroke="#ffff00"/><path d="M318.6,265.6 324.1,263.1 320.4,259.8 314.8,262.3z" fill="#f7ff00" stroke="#f7ff00"/><path d="M285.1,266.2 290.7,263.3 287.1,259.6 281.5,262.5z" fill="#edff00" stroke="#edff00"/><path d="M327.9,266.3 333.4,264 329.6,260.8 324.1,263.1z" fill="#efff00" stroke="#efff00"/><path d="M294.4,266.9 300,264.1 296.3,260.5 290.7,263.3z" fill="#e7ff00" stroke="#e7ff00"/><path d="M337.2,267.1 342.7,264.9 338.9,261.9 333.4,264z" fill="#e6ff00" stroke="#e6ff00"/><path d="M346.5,267.9 352,265.9 348.2,263 342.7,264.9z" fill="#ddff00" stroke="#ddff00"/><path d="M402.5,274.2 407.8,273.5 403.7,271.2 398.5,272z" fill="#53ff00" stroke="#53ff00"/><path d="M303.7,267.5 309.3,264.8 305.6,261.4 300,264.1z" fill="#e2ff00" stroke="#e2ff00"/><path d="M355.8,268.7 361.3,267 357.4,264.1 352,265.9z" fill="#d2ff00" stroke="#d2ff00"/><path d="M279.5,269.2 285.1,266.2 281.5,262.5 275.9,265.5z" fill="#c6ff00" stroke="#c6ff00"/><path d="M393.2,272.9 398.5,272 394.5,269.5 389.2,270.5z" fill="#72ff00" stroke="#72ff00"/><path d="M365.2,269.6 370.6,268.1 366.7,265.3 361.3,267z" fill="#c1ff00" stroke="#c1ff00"/><path d="M383.9,271.7 389.2,270.5 385.2,268 379.9,269.2z" fill="#8dff00" stroke="#8dff00"/><path d="M374.5,270.6 379.9,269.2 376,266.6 370.6,268.1z" fill="#a9ff00" stroke="#a9ff00"/><path d="M313,268.1 318.6,265.6 314.8,262.3 309.3,264.8z" fill="#ddff00" stroke="#ddff00"/><path d="M288.8,269.8 294.4,266.9 290.7,263.3 285.1,266.2z" fill="#c1ff00" stroke="#c1ff00"/><path d="M322.3,268.7 327.9,266.3 324.1,263.1 318.6,265.6z" fill="#d8ff00" stroke="#d8ff00"/><path d="M273.9,272.3 279.5,269.2 275.9,265.5 270.3,268.6z" fill="#87ff00" stroke="#87ff00"/><path d="M298.1,270.3 303.7,267.5 300,264.1 294.4,266.9z" fill="#bcff00" stroke="#bcff00"/><path d="M331.6,269.3 337.2,267.1 333.4,264 327.9,266.3z" fill="#d3ff00" stroke="#d3ff00"/><path d="M341,269.9 346.5,267.9 342.7,264.9 337.2,267.1z" fill="#cdff00" stroke="#cdff00"/><path d="M283.2,272.7 288.8,269.8 285.1,266.2 279.5,269.2z" fill="#85ff00" stroke="#85ff00"/><path d="M307.4,270.7 313,268.1 309.3,264.8 303.7,267.5z" fill="#b9ff00" stroke="#b9ff00"/><path d="M268.3,275.4 273.9,272.3 270.3,268.6 264.7,271.8z" fill="#50ff00" stroke="#50ff00"/><path d="M350.3,270.6 355.8,268.7 352,265.9 346.5,267.9z" fill="#c2ff00" stroke="#c2ff00"/><path d="M316.7,271.2 322.3,268.7 318.6,265.6 313,268.1z" fill="#b6ff00" stroke="#b6ff00"/><path d="M292.5,273.1 298.1,270.3 294.4,266.9 288.8,269.8z" fill="#86ff00" stroke="#86ff00"/><path d="M359.7,271.4 365.2,269.6 361.3,267 355.8,268.7z" fill="#b4ff00" stroke="#b4ff00"/><path d="M369.1,272.2 374.5,270.6 370.6,268.1 365.2,269.6z" fill="#a4ff00" stroke="#a4ff00"/><path d="M277.6,275.7 283.2,272.7 279.5,269.2 273.9,272.3z" fill="#51ff00" stroke="#51ff00"/><path d="M406.6,276.3 411.8,275.7 407.8,273.5 402.5,274.2z" fill="#4fff00" stroke="#4fff00"/><path d="M378.5,273 383.9,271.7 379.9,269.2 374.5,270.6z" fill="#90ff00" stroke="#90ff00"/><path d="M262.7,278.6 268.3,275.4 264.7,271.8 259.1,275z" fill="#3eff00" stroke="#3eff00"/><path d="M397.2,275.1 402.5,274.2 398.5,272 393.2,272.9z" fill="#64ff00" stroke="#64ff00"/><path d="M326.1,271.7 331.6,269.3 327.9,266.3 322.3,268.7z" fill="#b3ff00" stroke="#b3ff00"/><path d="M387.9,274 393.2,272.9 389.2,270.5 383.9,271.7z" fill="#7cff00" stroke="#7cff00"/><path d="M301.8,273.5 307.4,270.7 303.7,267.5 298.1,270.3z" fill="#87ff00" stroke="#87ff00"/><path d="M335.4,272.1 341,269.9 337.2,267.1 331.6,269.3z" fill="#afff00" stroke="#afff00"/><path d="M286.9,276 292.5,273.1 288.8,269.8 283.2,272.7z" fill="#53ff00" stroke="#53ff00"/><path d="M271.9,278.8 277.6,275.7 273.9,272.3 268.3,275.4z" fill="#3fff00" stroke="#3fff00"/><path d="M257,281.8 262.7,278.6 259.1,275 253.4,278.2z" fill="#2bff00" stroke="#2bff00"/><path d="M311.1,273.8 316.7,271.2 313,268.1 307.4,270.7z" fill="#88ff00" stroke="#88ff00"/><path d="M344.8,272.7 350.3,270.6 346.5,267.9 341,269.9z" fill="#a9ff00" stroke="#a9ff00"/><path d="M296.2,276.3 301.8,273.5 298.1,270.3 292.5,273.1z" fill="#58ff00" stroke="#58ff00"/><path d="M320.5,274.1 326.1,271.7 322.3,268.7 316.7,271.2z" fill="#8aff00" stroke="#8aff00"/><path d="M354.2,273.2 359.7,271.4 355.8,268.7 350.3,270.6z" fill="#a2ff00" stroke="#a2ff00"/><path d="M281.2,279 286.9,276 283.2,272.7 277.6,275.7z" fill="#42ff00" stroke="#42ff00"/><path d="M251.4,285 257,281.8 253.4,278.2 247.8,281.5z" fill="#18ff00" stroke="#18ff00"/><path d="M266.3,282 271.9,278.8 268.3,275.4 262.7,278.6z" fill="#2eff00" stroke="#2eff00"/><path d="M363.6,273.8 369.1,272.2 365.2,269.6 359.7,271.4z" fill="#99ff00" stroke="#99ff00"/><path d="M305.5,276.5 311.1,273.8 307.4,270.7 301.8,273.5z" fill="#5eff00" stroke="#5eff00"/><path d="M329.9,274.5 335.4,272.1 331.6,269.3 326.1,271.7z" fill="#8cff00" stroke="#8cff00"/><path d="M373,274.5 378.5,273 374.5,270.6 369.1,272.2z" fill="#8dff00" stroke="#8dff00"/><path d="M245.7,288.3 251.4,285 247.8,281.5 242.1,284.8z" fill="#05ff00" stroke="#05ff00"/><path d="M290.5,279.2 296.2,276.3 292.5,273.1 286.9,276z" fill="#44ff00" stroke="#44ff00"/><path d="M260.6,285.2 266.3,282 262.7,278.6 257,281.8z" fill="#1bff00" stroke="#1bff00"/><path d="M275.6,282.1 281.2,279 277.6,275.7 271.9,278.8z" fill="#31ff00" stroke="#31ff00"/><path d="M382.5,275.3 387.9,274 383.9,271.7 378.5,273z" fill="#80ff00" stroke="#80ff00"/><path d="M391.9,276.2 397.2,275.1 393.2,272.9 387.9,274z" fill="#6fff00" stroke="#6fff00"/><path d="M410.8,278.3 416,277.7 411.8,275.7 406.6,276.3z" fill="#4dff00" stroke="#4dff00"/><path d="M339.3,274.8 344.8,272.7 341,269.9 335.4,272.1z" fill="#8dff00" stroke="#8dff00"/><path d="M401.3,277.2 406.6,276.3 402.5,274.2 397.2,275.1z" fill="#5bff00" stroke="#5bff00"/><path d="M314.9,276.7 320.5,274.1 316.7,271.2 311.1,273.8z" fill="#64ff00" stroke="#64ff00"/><path d="M240,291.6 245.7,288.3 242.1,284.8 236.5,288.1z" fill="#00ff11" stroke="#00ff11"/><path d="M255,288.4 260.6,285.2 257,281.8 251.4,285z" fill="#08ff00" stroke="#08ff00"/><path d="M299.9,279.3 305.5,276.5 301.8,273.5 296.2,276.3z" fill="#47ff00" stroke="#47ff00"/><path d="M348.7,275.2 354.2,273.2 350.3,270.6 344.8,272.7z" fill="#8cff00" stroke="#8cff00"/><path d="M269.9,285.2 275.6,282.1 271.9,278.8 266.3,282z" fill="#1fff00" stroke="#1fff00"/><path d="M284.9,282.1 290.5,279.2 286.9,276 281.2,279z" fill="#34ff00" stroke="#34ff00"/><path d="M324.3,276.9 329.9,274.5 326.1,271.7 320.5,274.1z" fill="#6aff00" stroke="#6aff00"/><path d="M234.4,294.9 240,291.6 236.5,288.1 230.8,291.5z" fill="#00ff29" stroke="#00ff29"/><path d="M358.1,275.7 363.6,273.8 359.7,271.4 354.2,273.2z" fill="#8aff00" stroke="#8aff00"/><path d="M249.3,291.6 255,288.4 251.4,285 245.7,288.3z" fill="#00ff0c" stroke="#00ff0c"/><path d="M309.2,279.4 314.9,276.7 311.1,273.8 305.5,276.5z" fill="#4aff00" stroke="#4aff00"/><path d="M264.3,288.4 269.9,285.2 266.3,282 260.6,285.2z" fill="#0dff00" stroke="#0dff00"/><path d="M294.2,282.2 299.9,279.3 296.2,276.3 290.5,279.2z" fill="#38ff00" stroke="#38ff00"/><path d="M279.2,285.2 284.9,282.1 281.2,279 275.6,282.1z" fill="#24ff00" stroke="#24ff00"/><path d="M333.7,277.1 339.3,274.8 335.4,272.1 329.9,274.5z" fill="#70ff00" stroke="#70ff00"/><path d="M367.6,276.2 373,274.5 369.1,272.2 363.6,273.8z" fill="#86ff00" stroke="#86ff00"/><path d="M228.7,298.3 234.4,294.9 230.8,291.5 225.1,294.8z" fill="#00ff40" stroke="#00ff40"/><path d="M243.6,294.9 249.3,291.6 245.7,288.3 240,291.6z" fill="#00ff23" stroke="#00ff23"/><path d="M377,276.8 382.5,275.3 378.5,273 373,274.5z" fill="#7fff00" stroke="#7fff00"/><path d="M318.6,279.4 324.3,276.9 320.5,274.1 314.9,276.7z" fill="#4eff00" stroke="#4eff00"/><path d="M258.6,291.6 264.3,288.4 260.6,285.2 255,288.4z" fill="#00ff06" stroke="#00ff06"/><path d="M343.1,277.4 348.7,275.2 344.8,272.7 339.3,274.8z" fill="#75ff00" stroke="#75ff00"/><path d="M222.9,301.6 228.7,298.3 225.1,294.8 219.4,298.2z" fill="#00ff57" stroke="#00ff57"/><path d="M386.5,277.4 391.9,276.2 387.9,274 382.5,275.3z" fill="#75ff00" stroke="#75ff00"/><path d="M273.6,288.3 279.2,285.2 275.6,282.1 269.9,285.2z" fill="#12ff00" stroke="#12ff00"/><path d="M303.6,282.1 309.2,279.4 305.5,276.5 299.9,279.3z" fill="#3dff00" stroke="#3dff00"/><path d="M288.6,285.1 294.2,282.2 290.5,279.2 284.9,282.1z" fill="#29ff00" stroke="#29ff00"/><path d="M396,278.2 401.3,277.2 397.2,275.1 391.9,276.2z" fill="#68ff00" stroke="#68ff00"/><path d="M237.9,298.2 243.6,294.9 240,291.6 234.4,294.9z" fill="#00ff3a" stroke="#00ff3a"/><path d="M405.5,279.1 410.8,278.3 406.6,276.3 401.3,277.2z" fill="#57ff00" stroke="#57ff00"/><path d="M414.9,280.2 420.2,279.6 416,277.7 410.8,278.3z" fill="#4cff00" stroke="#4cff00"/><path d="M352.6,277.6 358.1,275.7 354.2,273.2 348.7,275.2z" fill="#78ff00" stroke="#78ff00"/><path d="M252.9,294.8 258.6,291.6 255,288.4 249.3,291.6z" fill="#00ff1c" stroke="#00ff1c"/><path d="M328.1,279.5 333.7,277.1 329.9,274.5 324.3,276.9z" fill="#51ff00" stroke="#51ff00"/><path d="M267.9,291.4 273.6,288.3 269.9,285.2 264.3,288.4z" fill="#01ff00" stroke="#01ff00"/><path d="M232.2,301.6 237.9,298.2 234.4,294.9 228.7,298.3z" fill="#00ff51" stroke="#00ff51"/><path d="M313,282.1 318.6,279.4 314.9,276.7 309.2,279.4z" fill="#41ff00" stroke="#41ff00"/><path d="M282.9,288.1 288.6,285.1 284.9,282.1 279.2,285.2z" fill="#19ff00" stroke="#19ff00"/><path d="M362,278 367.6,276.2 363.6,273.8 358.1,275.7z" fill="#7aff00" stroke="#7aff00"/><path d="M297.9,285 303.6,282.1 299.9,279.3 294.2,282.2z" fill="#2eff00" stroke="#2eff00"/><path d="M247.2,298.1 252.9,294.8 249.3,291.6 243.6,294.9z" fill="#00ff32" stroke="#00ff32"/><path d="M337.5,279.6 343.1,277.4 339.3,274.8 333.7,277.1z" fill="#5aff00" stroke="#5aff00"/><path d="M226.5,304.9 232.2,301.6 228.7,298.3 222.9,301.6z" fill="#00ff68" stroke="#00ff68"/><path d="M262.2,294.6 267.9,291.4 264.3,288.4 258.6,291.6z" fill="#00ff14" stroke="#00ff14"/><path d="M371.5,278.4 377,276.8 373,274.5 367.6,276.2z" fill="#7aff00" stroke="#7aff00"/><path d="M322.4,282 328.1,279.5 324.3,276.9 318.6,279.4z" fill="#46ff00" stroke="#46ff00"/><path d="M277.2,291.2 282.9,288.1 279.2,285.2 273.6,288.3z" fill="#08ff00" stroke="#08ff00"/><path d="M241.4,301.4 247.2,298.1 243.6,294.9 237.9,298.2z" fill="#00ff49" stroke="#00ff49"/><path d="M292.2,287.9 297.9,285 294.2,282.2 288.6,285.1z" fill="#1fff00" stroke="#1fff00"/><path d="M307.3,284.8 313,282.1 309.2,279.4 303.6,282.1z" fill="#34ff00" stroke="#34ff00"/><path d="M381.1,278.8 386.5,277.4 382.5,275.3 377,276.8z" fill="#76ff00" stroke="#76ff00"/><path d="M347,279.7 352.6,277.6 348.7,275.2 343.1,277.4z" fill="#63ff00" stroke="#63ff00"/><path d="M256.5,297.8 262.2,294.6 258.6,291.6 252.9,294.8z" fill="#00ff2a" stroke="#00ff2a"/><path d="M390.6,279.4 396,278.2 391.9,276.2 386.5,277.4z" fill="#70ff00" stroke="#70ff00"/><path d="M235.7,304.7 241.4,301.4 237.9,298.2 232.2,301.6z" fill="#00ff5f" stroke="#00ff5f"/><path d="M271.5,294.3 277.2,291.2 273.6,288.3 267.9,291.4z" fill="#00ff0b" stroke="#00ff0b"/><path d="M331.9,282 337.5,279.6 333.7,277.1 328.1,279.5z" fill="#4bff00" stroke="#4bff00"/><path d="M400.1,280.1 405.5,279.1 401.3,277.2 396,278.2z" fill="#66ff00" stroke="#66ff00"/><path d="M356.5,279.9 362,278 358.1,275.7 352.6,277.6z" fill="#6aff00" stroke="#6aff00"/><path d="M286.6,290.9 292.2,287.9 288.6,285.1 282.9,288.1z" fill="#0fff00" stroke="#0fff00"/><path d="M409.7,280.9 414.9,280.2 410.8,278.3 405.5,279.1z" fill="#58ff00" stroke="#58ff00"/><path d="M250.7,301.1 256.5,297.8 252.9,294.8 247.2,298.1z" fill="#00ff3f" stroke="#00ff3f"/><path d="M316.8,284.6 322.4,282 318.6,279.4 313,282.1z" fill="#3aff00" stroke="#3aff00"/><path d="M419.2,281.9 424.4,281.4 420.2,279.6 414.9,280.2z" fill="#4eff00" stroke="#4eff00"/><path d="M301.6,287.6 307.3,284.8 303.6,282.1 297.9,285z" fill="#26ff00" stroke="#26ff00"/><path d="M230,308 235.7,304.7 232.2,301.6 226.5,304.9z" fill="#00ff7b" stroke="#00ff7b"/><path d="M366,280.1 371.5,278.4 367.6,276.2 362,278z" fill="#70ff00" stroke="#70ff00"/><path d="M265.8,297.4 271.5,294.3 267.9,291.4 262.2,294.6z" fill="#00ff20" stroke="#00ff20"/><path d="M341.4,281.9 347,279.7 343.1,277.4 337.5,279.6z" fill="#4fff00" stroke="#4fff00"/><path d="M245,304.3 250.7,301.1 247.2,298.1 241.4,301.4z" fill="#00ff55" stroke="#00ff55"/><path d="M280.8,293.9 286.6,290.9 282.9,288.1 277.2,291.2z" fill="#00ff01" stroke="#00ff01"/><path d="M326.2,284.4 331.9,282 328.1,279.5 322.4,282z" fill="#40ff00" stroke="#40ff00"/><path d="M375.6,280.4 381.1,278.8 377,276.8 371.5,278.4z" fill="#73ff00" stroke="#73ff00"/><path d="M295.9,290.5 301.6,287.6 297.9,285 292.2,287.9z" fill="#17ff00" stroke="#17ff00"/><path d="M311.1,287.3 316.8,284.6 313,282.1 307.3,284.8z" fill="#2dff00" stroke="#2dff00"/><path d="M260,300.6 265.8,297.4 262.2,294.6 256.5,297.8z" fill="#00ff35" stroke="#00ff35"/><path d="M350.9,281.9 356.5,279.9 352.6,277.6 347,279.7z" fill="#56ff00" stroke="#56ff00"/><path d="M239.2,307.6 245,304.3 241.4,301.4 235.7,304.7z" fill="#00ff6c" stroke="#00ff6c"/><path d="M385.1,280.8 390.6,279.4 386.5,277.4 381.1,278.8z" fill="#73ff00" stroke="#73ff00"/><path d="M275.1,297 280.8,293.9 277.2,291.2 271.5,294.3z" fill="#00ff15" stroke="#00ff15"/><path d="M254.3,303.9 260,300.6 256.5,297.8 250.7,301.1z" fill="#00ff4a" stroke="#00ff4a"/><path d="M335.7,284.3 341.4,281.9 337.5,279.6 331.9,282z" fill="#46ff00" stroke="#46ff00"/><path d="M290.2,293.5 295.9,290.5 292.2,287.9 286.6,290.9z" fill="#08ff00" stroke="#08ff00"/><path d="M394.7,281.3 400.1,280.1 396,278.2 390.6,279.4z" fill="#70ff00" stroke="#70ff00"/><path d="M233.5,310.9 239.2,307.6 235.7,304.7 230,308z" fill="#00ff91" stroke="#00ff91"/><path d="M360.4,282 366,280.1 362,278 356.5,279.9z" fill="#61ff00" stroke="#61ff00"/><path d="M305.4,290.1 311.1,287.3 307.3,284.8 301.6,287.6z" fill="#20ff00" stroke="#20ff00"/><path d="M320.6,287 326.2,284.4 322.4,282 316.8,284.6z" fill="#35ff00" stroke="#35ff00"/><path d="M404.3,281.9 409.7,280.9 405.5,279.1 400.1,280.1z" fill="#69ff00" stroke="#69ff00"/><path d="M269.4,300.1 275.1,297 271.5,294.3 265.8,297.4z" fill="#00ff29" stroke="#00ff29"/><path d="M248.5,307.1 254.3,303.9 250.7,301.1 245,304.3z" fill="#00ff60" stroke="#00ff60"/><path d="M413.9,282.6 419.2,281.9 414.9,280.2 409.7,280.9z" fill="#5dff00" stroke="#5dff00"/><path d="M423.5,283.5 428.7,283 424.4,281.4 419.2,281.9z" fill="#50ff00" stroke="#50ff00"/><path d="M345.3,284.1 350.9,281.9 347,279.7 341.4,281.9z" fill="#4cff00" stroke="#4cff00"/><path d="M370,282.1 375.6,280.4 371.5,278.4 366,280.1z" fill="#6aff00" stroke="#6aff00"/><path d="M284.5,296.5 290.2,293.5 286.6,290.9 280.8,293.9z" fill="#00ff09" stroke="#00ff09"/><path d="M299.7,293 305.4,290.1 301.6,287.6 295.9,290.5z" fill="#12ff00" stroke="#12ff00"/><path d="M263.6,303.3 269.4,300.1 265.8,297.4 260,300.6z" fill="#00ff3e" stroke="#00ff3e"/><path d="M330.1,286.7 335.7,284.3 331.9,282 326.2,284.4z" fill="#3cff00" stroke="#3cff00"/><path d="M242.8,310.4 248.5,307.1 245,304.3 239.2,307.6z" fill="#00ff7a" stroke="#00ff7a"/><path d="M314.9,289.7 320.6,287 316.8,284.6 311.1,287.3z" fill="#28ff00" stroke="#28ff00"/><path d="M379.6,282.3 385.1,280.8 381.1,278.8 375.6,280.4z" fill="#71ff00" stroke="#71ff00"/><path d="M278.8,299.6 284.5,296.5 280.8,293.9 275.1,297z" fill="#00ff1c" stroke="#00ff1c"/><path d="M354.8,284 360.4,282 356.5,279.9 350.9,281.9z" fill="#51ff00" stroke="#51ff00"/><path d="M257.9,306.5 263.6,303.3 260,300.6 254.3,303.9z" fill="#00ff53" stroke="#00ff53"/><path d="M237,313.7 242.8,310.4 239.2,307.6 233.5,310.9z" fill="#00ffa3" stroke="#00ffa3"/><path d="M389.3,282.6 394.7,281.3 390.6,279.4 385.1,280.8z" fill="#74ff00" stroke="#74ff00"/><path d="M293.9,295.9 299.7,293 295.9,290.5 290.2,293.5z" fill="#03ff00" stroke="#03ff00"/><path d="M339.6,286.4 345.3,284.1 341.4,281.9 335.7,284.3z" fill="#43ff00" stroke="#43ff00"/><path d="M309.1,292.5 314.9,289.7 311.1,287.3 305.4,290.1z" fill="#1bff00" stroke="#1bff00"/><path d="M324.4,289.3 330.1,286.7 326.2,284.4 320.6,287z" fill="#31ff00" stroke="#31ff00"/><path d="M273,302.7 278.8,299.6 275.1,297 269.4,300.1z" fill="#00ff30" stroke="#00ff30"/><path d="M364.4,284 370,282.1 366,280.1 360.4,282z" fill="#5eff00" stroke="#5eff00"/><path d="M398.9,283 404.3,281.9 400.1,280.1 394.7,281.3z" fill="#74ff00" stroke="#74ff00"/><path d="M252.1,309.8 257.9,306.5 254.3,303.9 248.5,307.1z" fill="#00ff68" stroke="#00ff68"/><path d="M288.2,298.9 293.9,295.9 290.2,293.5 284.5,296.5z" fill="#00ff0f" stroke="#00ff0f"/><path d="M408.5,283.5 413.9,282.6 409.7,280.9 404.3,281.9z" fill="#70ff00" stroke="#70ff00"/><path d="M349.2,286.2 354.8,284 350.9,281.9 345.3,284.1z" fill="#4aff00" stroke="#4aff00"/><path d="M267.2,305.8 273,302.7 269.4,300.1 263.6,303.3z" fill="#00ff44" stroke="#00ff44"/><path d="M246.3,313 252.1,309.8 248.5,307.1 242.8,310.4z" fill="#00ff89" stroke="#00ff89"/><path d="M374.1,284 379.6,282.3 375.6,280.4 370,282.1z" fill="#6bff00" stroke="#6bff00"/><path d="M418.2,284.1 423.5,283.5 419.2,281.9 413.9,282.6z" fill="#68ff00" stroke="#68ff00"/><path d="M303.4,295.3 309.1,292.5 305.4,290.1 299.7,293z" fill="#0eff00" stroke="#0eff00"/><path d="M333.9,288.8 339.6,286.4 335.7,284.3 330.1,286.7z" fill="#3aff00" stroke="#3aff00"/><path d="M318.7,291.9 324.4,289.3 320.6,287 314.9,289.7z" fill="#25ff00" stroke="#25ff00"/><path d="M427.9,284.9 433.1,284.5 428.7,283 423.5,283.5z" fill="#5bff00" stroke="#5bff00"/><path d="M282.4,301.9 288.2,298.9 284.5,296.5 278.8,299.6z" fill="#00ff22" stroke="#00ff22"/><path d="M261.4,309 267.2,305.8 263.6,303.3 257.9,306.5z" fill="#00ff59" stroke="#00ff59"/><path d="M240.5,316.3 246.3,313 242.8,310.4 237,313.7z" fill="#00ffb1" stroke="#00ffb1"/><path d="M383.7,284.1 389.3,282.6 385.1,280.8 379.6,282.3z" fill="#74ff00" stroke="#74ff00"/><path d="M358.8,286 364.4,284 360.4,282 354.8,284z" fill="#50ff00" stroke="#50ff00"/><path d="M297.7,298.2 303.4,295.3 299.7,293 293.9,295.9z" fill="#00ff01" stroke="#00ff01"/><path d="M343.5,288.4 349.2,286.2 345.3,284.1 339.6,286.4z" fill="#42ff00" stroke="#42ff00"/><path d="M312.9,294.6 318.7,291.9 314.9,289.7 309.1,292.5z" fill="#19ff00" stroke="#19ff00"/><path d="M276.6,305 282.4,301.9 278.8,299.6 273,302.7z" fill="#00ff35" stroke="#00ff35"/><path d="M393.4,284.3 398.9,283 394.7,281.3 389.3,282.6z" fill="#7bff00" stroke="#7bff00"/><path d="M255.6,312.2 261.4,309 257.9,306.5 252.1,309.8z" fill="#00ff6e" stroke="#00ff6e"/><path d="M328.2,291.4 333.9,288.8 330.1,286.7 324.4,289.3z" fill="#2fff00" stroke="#2fff00"/><path d="M368.5,285.8 374.1,284 370,282.1 364.4,284z" fill="#60ff00" stroke="#60ff00"/><path d="M291.9,301.2 297.7,298.2 293.9,295.9 288.2,298.9z" fill="#00ff13" stroke="#00ff13"/><path d="M403.1,284.6 408.5,283.5 404.3,281.9 398.9,283z" fill="#7eff00" stroke="#7eff00"/><path d="M270.8,308.2 276.6,305 273,302.7 267.2,305.8z" fill="#00ff49" stroke="#00ff49"/><path d="M249.8,315.5 255.6,312.2 252.1,309.8 246.3,313z" fill="#00ff93" stroke="#00ff93"/><path d="M307.2,297.4 312.9,294.6 309.1,292.5 303.4,295.3z" fill="#0bff00" stroke="#0bff00"/><path d="M353.2,288.1 358.8,286 354.8,284 349.2,286.2z" fill="#4aff00" stroke="#4aff00"/><path d="M412.8,285 418.2,284.1 413.9,282.6 408.5,283.5z" fill="#7dff00" stroke="#7dff00"/><path d="M378.2,285.7 383.7,284.1 379.6,282.3 374.1,284z" fill="#70ff00" stroke="#70ff00"/><path d="M322.5,294 328.2,291.4 324.4,289.3 318.7,291.9z" fill="#24ff00" stroke="#24ff00"/><path d="M337.8,290.8 343.5,288.4 339.6,286.4 333.9,288.8z" fill="#39ff00" stroke="#39ff00"/><path d="M286.1,304.2 291.9,301.2 288.2,298.9 282.4,301.9z" fill="#00ff25" stroke="#00ff25"/><path d="M422.6,285.6 427.9,284.9 423.5,283.5 418.2,284.1z" fill="#78ff00" stroke="#78ff00"/><path d="M244,318.7 249.8,315.5 246.3,313 240.5,316.3z" fill="#00ffbb" stroke="#00ffbb"/><path d="M265,311.3 270.8,308.2 267.2,305.8 261.4,309z" fill="#00ff5d" stroke="#00ff5d"/><path d="M432.3,286.3 437.5,285.9 433.1,284.5 427.9,284.9z" fill="#6dff00" stroke="#6dff00"/><path d="M301.4,300.3 307.2,297.4 303.4,295.3 297.7,298.2z" fill="#00ff03" stroke="#00ff03"/><path d="M362.9,287.7 368.5,285.8 364.4,284 358.8,286z" fill="#51ff00" stroke="#51ff00"/><path d="M387.9,285.7 393.4,284.3 389.3,282.6 383.7,284.1z" fill="#7dff00" stroke="#7dff00"/><path d="M280.3,307.3 286.1,304.2 282.4,301.9 276.6,305z" fill="#00ff38" stroke="#00ff38"/><path d="M259.2,314.5 265,311.3 261.4,309 255.6,312.2z" fill="#00ff72" stroke="#00ff72"/><path d="M316.7,296.7 322.5,294 318.7,291.9 312.9,294.6z" fill="#18ff00" stroke="#18ff00"/><path d="M347.5,290.3 353.2,288.1 349.2,286.2 343.5,288.4z" fill="#42ff00" stroke="#42ff00"/><path d="M332.1,293.3 337.8,290.8 333.9,288.8 328.2,291.4z" fill="#2fff00" stroke="#2fff00"/><path d="M397.7,285.8 403.1,284.6 398.9,283 393.4,284.3z" fill="#87ff00" stroke="#87ff00"/><path d="M295.6,303.3 301.4,300.3 297.7,298.2 291.9,301.2z" fill="#00ff15" stroke="#00ff15"/><path d="M372.6,287.5 378.2,285.7 374.1,284 368.5,285.8z" fill="#67ff00" stroke="#67ff00"/><path d="M253.4,317.8 259.2,314.5 255.6,312.2 249.8,315.5z" fill="#00ff99" stroke="#00ff99"/><path d="M274.5,310.4 280.3,307.3 276.6,305 270.8,308.2z" fill="#00ff4b" stroke="#00ff4b"/><path d="M407.4,286 412.8,285 408.5,283.5 403.1,284.6z" fill="#8dff00" stroke="#8dff00"/><path d="M311,299.5 316.7,296.7 312.9,294.6 307.2,297.4z" fill="#0bff00" stroke="#0bff00"/><path d="M357.2,289.8 362.9,287.7 358.8,286 353.2,288.1z" fill="#4cff00" stroke="#4cff00"/><path d="M326.4,295.9 332.1,293.3 328.2,291.4 322.5,294z" fill="#24ff00" stroke="#24ff00"/><path d="M341.8,292.6 347.5,290.3 343.5,288.4 337.8,290.8z" fill="#3aff00" stroke="#3aff00"/><path d="M247.5,321 253.4,317.8 249.8,315.5 244,318.7z" fill="#00ffc0" stroke="#00ffc0"/><path d="M289.8,306.3 295.6,303.3 291.9,301.2 286.1,304.2z" fill="#00ff26" stroke="#00ff26"/><path d="M268.6,313.5 274.5,310.4 270.8,308.2 265,311.3z" fill="#00ff5f" stroke="#00ff5f"/><path d="M382.3,287.3 387.9,285.7 383.7,284.1 378.2,285.7z" fill="#7aff00" stroke="#7aff00"/><path d="M417.2,286.3 422.6,285.6 418.2,284.1 412.8,285z" fill="#8fff00" stroke="#8fff00"/><path d="M427,286.8 432.3,286.3 427.9,284.9 422.6,285.6z" fill="#8cff00" stroke="#8cff00"/><path d="M305.2,302.3 311,299.5 307.2,297.4 301.4,300.3z" fill="#00ff03" stroke="#00ff03"/><path d="M366.9,289.4 372.6,287.5 368.5,285.8 362.9,287.7z" fill="#5aff00" stroke="#5aff00"/><path d="M262.8,316.7 268.6,313.5 265,311.3 259.2,314.5z" fill="#00ff75" stroke="#00ff75"/><path d="M284,309.3 289.8,306.3 286.1,304.2 280.3,307.3z" fill="#00ff39" stroke="#00ff39"/><path d="M436.8,287.5 442,287.2 437.5,285.9 432.3,286.3z" fill="#84ff00" stroke="#84ff00"/><path d="M392.1,287.2 397.7,285.8 393.4,284.3 387.9,285.7z" fill="#8aff00" stroke="#8aff00"/><path d="M320.6,298.6 326.4,295.9 322.5,294 316.7,296.7z" fill="#18ff00" stroke="#18ff00"/><path d="M351.5,292 357.2,289.8 353.2,288.1 347.5,290.3z" fill="#45ff00" stroke="#45ff00"/><path d="M336,295.1 341.8,292.6 337.8,290.8 332.1,293.3z" fill="#30ff00" stroke="#30ff00"/><path d="M299.4,305.2 305.2,302.3 301.4,300.3 295.6,303.3z" fill="#00ff14" stroke="#00ff14"/><path d="M256.9,319.9 262.8,316.7 259.2,314.5 253.4,317.8z" fill="#00ff9b" stroke="#00ff9b"/><path d="M278.1,312.4 284,309.3 280.3,307.3 274.5,310.4z" fill="#00ff4c" stroke="#00ff4c"/><path d="M401.9,287.2 407.4,286 403.1,284.6 397.7,285.8z" fill="#99ff00" stroke="#99ff00"/><path d="M376.7,289 382.3,287.3 378.2,285.7 372.6,287.5z" fill="#73ff00" stroke="#73ff00"/><path d="M314.8,301.3 320.6,298.6 316.7,296.7 311,299.5z" fill="#0cff00" stroke="#0cff00"/><path d="M251,323.1 256.9,319.9 253.4,317.8 247.5,321z" fill="#00ffc1" stroke="#00ffc1"/><path d="M361.3,291.4 366.9,289.4 362.9,287.7 357.2,289.8z" fill="#4fff00" stroke="#4fff00"/><path d="M411.8,287.3 417.2,286.3 412.8,285 407.4,286z" fill="#a3ff00" stroke="#a3ff00"/><path d="M330.3,297.6 336,295.1 332.1,293.3 326.4,295.9z" fill="#26ff00" stroke="#26ff00"/><path d="M293.5,308.2 299.4,305.2 295.6,303.3 289.8,306.3z" fill="#00ff26" stroke="#00ff26"/><path d="M272.3,315.6 278.1,312.4 274.5,310.4 268.6,313.5z" fill="#00ff5f" stroke="#00ff5f"/><path d="M345.8,294.3 351.5,292 347.5,290.3 341.8,292.6z" fill="#3dff00" stroke="#3dff00"/><path d="M386.6,288.7 392.1,287.2 387.9,285.7 382.3,287.3z" fill="#89ff00" stroke="#89ff00"/><path d="M421.6,287.6 427,286.8 422.6,285.6 417.2,286.3z" fill="#a8ff00" stroke="#a8ff00"/><path d="M309,304.1 314.8,301.3 311,299.5 305.2,302.3z" fill="#00ff02" stroke="#00ff02"/><path d="M266.4,318.7 272.3,315.6 268.6,313.5 262.8,316.7z" fill="#00ff74" stroke="#00ff74"/><path d="M287.7,311.2 293.5,308.2 289.8,306.3 284,309.3z" fill="#00ff38" stroke="#00ff38"/><path d="M431.5,288 436.8,287.5 432.3,286.3 427,286.8z" fill="#a8ff00" stroke="#a8ff00"/><path d="M371.1,290.9 376.7,289 372.6,287.5 366.9,289.4z" fill="#67ff00" stroke="#67ff00"/><path d="M324.5,300.3 330.3,297.6 326.4,295.9 320.6,298.6z" fill="#1bff00" stroke="#1bff00"/><path d="M396.4,288.5 401.9,287.2 397.7,285.8 392.1,287.2z" fill="#9fff00" stroke="#9fff00"/><path d="M441.4,288.6 446.6,288.3 442,287.2 436.8,287.5z" fill="#a2ff00" stroke="#a2ff00"/><path d="M355.5,293.6 361.3,291.4 357.2,289.8 351.5,292z" fill="#48ff00" stroke="#48ff00"/><path d="M340,296.7 345.8,294.3 341.8,292.6 336,295.1z" fill="#33ff00" stroke="#33ff00"/><path d="M260.5,321.9 266.4,318.7 262.8,316.7 256.9,319.9z" fill="#00ff99" stroke="#00ff99"/><path d="M303.1,307 309,304.1 305.2,302.3 299.4,305.2z" fill="#00ff12" stroke="#00ff12"/><path d="M281.8,314.3 287.7,311.2 284,309.3 278.1,312.4z" fill="#00ff4a" stroke="#00ff4a"/><path d="M406.3,288.5 411.8,287.3 407.4,286 401.9,287.2z" fill="#b1ff00" stroke="#b1ff00"/><path d="M380.9,290.4 386.6,288.7 382.3,287.3 376.7,289z" fill="#84ff00" stroke="#84ff00"/><path d="M318.6,303 324.5,300.3 320.6,298.6 314.8,301.3z" fill="#0fff00" stroke="#0fff00"/><path d="M254.6,325.1 260.5,321.9 256.9,319.9 251,323.1z" fill="#00ffbf" stroke="#00ffbf"/><path d="M275.9,317.4 281.8,314.3 278.1,312.4 272.3,315.6z" fill="#00ff5d" stroke="#00ff5d"/><path d="M297.3,310 303.1,307 299.4,305.2 293.5,308.2z" fill="#00ff23" stroke="#00ff23"/><path d="M334.2,299.3 340,296.7 336,295.1 330.3,297.6z" fill="#2aff00" stroke="#2aff00"/><path d="M365.4,292.9 371.1,290.9 366.9,289.4 361.3,291.4z" fill="#58ff00" stroke="#58ff00"/><path d="M349.8,295.9 355.5,293.6 351.5,292 345.8,294.3z" fill="#41ff00" stroke="#41ff00"/><path d="M416.2,288.5 421.6,287.6 417.2,286.3 411.8,287.3z" fill="#bfff00" stroke="#bfff00"/><path d="M390.8,290 396.4,288.5 392.1,287.2 386.6,288.7z" fill="#a0ff00" stroke="#a0ff00"/><path d="M312.8,305.8 318.6,303 314.8,301.3 309,304.1z" fill="#02ff00" stroke="#02ff00"/><path d="M270,320.6 275.9,317.4 272.3,315.6 266.4,318.7z" fill="#00ff70" stroke="#00ff70"/><path d="M291.4,313 297.3,310 293.5,308.2 287.7,311.2z" fill="#00ff34" stroke="#00ff34"/><path d="M426.1,288.7 431.5,288 427,286.8 421.6,287.6z" fill="#c7ff00" stroke="#c7ff00"/><path d="M328.4,301.9 334.2,299.3 330.3,297.6 324.5,300.3z" fill="#1fff00" stroke="#1fff00"/><path d="M375.3,292.2 380.9,290.4 376.7,289 371.1,290.9z" fill="#7aff00" stroke="#7aff00"/><path d="M436.1,289 441.4,288.6 436.8,287.5 431.5,288z" fill="#caff00" stroke="#caff00"/><path d="M344,298.3 349.8,295.9 345.8,294.3 340,296.7z" fill="#38ff00" stroke="#38ff00"/><path d="M359.6,295 365.4,292.9 361.3,291.4 355.5,293.6z" fill="#4eff00" stroke="#4eff00"/><path d="M400.7,289.8 406.3,288.5 401.9,287.2 396.4,288.5z" fill="#baff00" stroke="#baff00"/><path d="M264.1,323.8 270,320.6 266.4,318.7 260.5,321.9z" fill="#00ff93" stroke="#00ff93"/><path d="M306.9,308.7 312.8,305.8 309,304.1 303.1,307z" fill="#00ff0d" stroke="#00ff0d"/><path d="M285.5,316.1 291.4,313 287.7,311.2 281.8,314.3z" fill="#00ff46" stroke="#00ff46"/><path d="M446,289.5 451.2,289.3 446.6,288.3 441.4,288.6z" fill="#c6ff00" stroke="#c6ff00"/><path d="M322.5,304.6 328.4,301.9 324.5,300.3 318.6,303z" fill="#13ff00" stroke="#13ff00"/><path d="M258.1,326.9 264.1,323.8 260.5,321.9 254.6,325.1z" fill="#00ffb8" stroke="#00ffb8"/><path d="M385.2,291.7 390.8,290 386.6,288.7 380.9,290.4z" fill="#9cff00" stroke="#9cff00"/><path d="M410.7,289.6 416.2,288.5 411.8,287.3 406.3,288.5z" fill="#ceff00" stroke="#ceff00"/><path d="M279.6,319.2 285.5,316.1 281.8,314.3 275.9,317.4z" fill="#00ff58" stroke="#00ff58"/><path d="M301,311.6 306.9,308.7 303.1,307 297.3,310z" fill="#00ff1e" stroke="#00ff1e"/><path d="M338.2,300.7 344,298.3 340,296.7 334.2,299.3z" fill="#2fff00" stroke="#2fff00"/><path d="M369.5,294.2 375.3,292.2 371.1,290.9 365.4,292.9z" fill="#6cff00" stroke="#6cff00"/><path d="M353.9,297.3 359.6,295 355.5,293.6 349.8,295.9z" fill="#47ff00" stroke="#47ff00"/><path d="M420.7,289.5 426.1,288.7 421.6,287.6 416.2,288.5z" fill="#d8ff00" stroke="#d8ff00"/><path d="M316.7,307.4 322.5,304.6 318.6,303 312.8,305.8z" fill="#07ff00" stroke="#07ff00"/><path d="M273.6,322.3 279.6,319.2 275.9,317.4 270,320.6z" fill="#00ff6b" stroke="#00ff6b"/><path d="M395.1,291.2 400.7,289.8 396.4,288.5 390.8,290z" fill="#bdff00" stroke="#bdff00"/><path d="M295.1,314.6 301,311.6 297.3,310 291.4,313z" fill="#00ff2f" stroke="#00ff2f"/><path d="M430.7,289.6 436.1,289 431.5,288 426.1,288.7z" fill="#dfff00" stroke="#dfff00"/><path d="M332.3,303.3 338.2,300.7 334.2,299.3 328.4,301.9z" fill="#24ff00" stroke="#24ff00"/><path d="M379.5,293.5 385.2,291.7 380.9,290.4 375.3,292.2z" fill="#92ff00" stroke="#92ff00"/><path d="M267.7,325.5 273.6,322.3 270,320.6 264.1,323.8z" fill="#00ff8a" stroke="#00ff8a"/><path d="M348.1,299.6 353.9,297.3 349.8,295.9 344,298.3z" fill="#3fff00" stroke="#3fff00"/><path d="M363.8,296.3 369.5,294.2 365.4,292.9 359.6,295z" fill="#5bff00" stroke="#5bff00"/><path d="M310.8,310.2 316.7,307.4 312.8,305.8 306.9,308.7z" fill="#00ff07" stroke="#00ff07"/><path d="M289.2,317.7 295.1,314.6 291.4,313 285.5,316.1z" fill="#00ff40" stroke="#00ff40"/><path d="M440.7,289.9 446,289.5 441.4,288.6 436.1,289z" fill="#e2ff00" stroke="#e2ff00"/><path d="M405.1,290.8 410.7,289.6 406.3,288.5 400.7,289.8z" fill="#d4ff00" stroke="#d4ff00"/><path d="M450.7,290.4 455.9,290.2 451.2,289.3 446,289.5z" fill="#e1ff00" stroke="#e1ff00"/><path d="M261.7,328.6 267.7,325.5 264.1,323.8 258.1,326.9z" fill="#00ffad" stroke="#00ffad"/><path d="M326.5,306 332.3,303.3 328.4,301.9 322.5,304.6z" fill="#19ff00" stroke="#19ff00"/><path d="M283.3,320.8 289.2,317.7 285.5,316.1 279.6,319.2z" fill="#00ff52" stroke="#00ff52"/><path d="M389.5,292.8 395.1,291.2 390.8,290 385.2,291.7z" fill="#bbff00" stroke="#bbff00"/><path d="M304.9,313.1 310.8,310.2 306.9,308.7 301,311.6z" fill="#00ff17" stroke="#00ff17"/><path d="M415.2,290.6 420.7,289.5 416.2,288.5 410.7,289.6z" fill="#e3ff00" stroke="#e3ff00"/><path d="M342.2,302.1 348.1,299.6 344,298.3 338.2,300.7z" fill="#36ff00" stroke="#36ff00"/><path d="M373.8,295.4 379.5,293.5 375.3,292.2 369.5,294.2z" fill="#86ff00" stroke="#86ff00"/><path d="M358,298.5 363.8,296.3 359.6,295 353.9,297.3z" fill="#4eff00" stroke="#4eff00"/><path d="M277.3,323.9 283.3,320.8 279.6,319.2 273.6,322.3z" fill="#00ff64" stroke="#00ff64"/><path d="M320.6,308.8 326.5,306 322.5,304.6 316.7,307.4z" fill="#0dff00" stroke="#0dff00"/><path d="M425.2,290.5 430.7,289.6 426.1,288.7 420.7,289.5z" fill="#eeff00" stroke="#eeff00"/><path d="M298.9,316.1 304.9,313.1 301,311.6 295.1,314.6z" fill="#00ff27" stroke="#00ff27"/><path d="M399.5,292.2 405.1,290.8 400.7,289.8 395.1,291.2z" fill="#d7ff00" stroke="#d7ff00"/><path d="M336.3,304.6 342.2,302.1 338.2,300.7 332.3,303.3z" fill="#2cff00" stroke="#2cff00"/><path d="M435.3,290.5 440.7,289.9 436.1,289 430.7,289.6z" fill="#f7ff00" stroke="#f7ff00"/><path d="M271.3,327 277.3,323.9 273.6,322.3 267.7,325.5z" fill="#00ff7c" stroke="#00ff7c"/><path d="M383.8,294.6 389.5,292.8 385.2,291.7 379.5,293.5z" fill="#b3ff00" stroke="#b3ff00"/><path d="M352.2,300.8 358,298.5 353.9,297.3 348.1,299.6z" fill="#46ff00" stroke="#46ff00"/><path d="M314.7,311.6 320.6,308.8 316.7,307.4 310.8,310.2z" fill="#01ff00" stroke="#01ff00"/><path d="M293,319.1 298.9,316.1 295.1,314.6 289.2,317.7z" fill="#00ff38" stroke="#00ff38"/><path d="M368,297.5 373.8,295.4 369.5,294.2 363.8,296.3z" fill="#76ff00" stroke="#76ff00"/><path d="M409.6,291.8 415.2,290.6 410.7,289.6 405.1,290.8z" fill="#eaff00" stroke="#eaff00"/><path d="M445.4,290.7 450.7,290.4 446,289.5 440.7,289.9z" fill="#fbff00" stroke="#fbff00"/><path d="M265.3,330.2 271.3,327 267.7,325.5 261.7,328.6z" fill="#00ff9f" stroke="#00ff9f"/><path d="M330.5,307.3 336.3,304.6 332.3,303.3 326.5,306z" fill="#21ff00" stroke="#21ff00"/><path d="M455.5,291.1 460.7,291 455.9,290.2 450.7,290.4z" fill="#fcff00" stroke="#fcff00"/><path d="M287,322.2 293,319.1 289.2,317.7 283.3,320.8z" fill="#00ff4a" stroke="#00ff4a"/><path d="M308.7,314.5 314.7,311.6 310.8,310.2 304.9,313.1z" fill="#00ff0e" stroke="#00ff0e"/><path d="M393.9,293.8 399.5,292.2 395.1,291.2 389.5,292.8z" fill="#d7ff00" stroke="#d7ff00"/><path d="M346.3,303.3 352.2,300.8 348.1,299.6 342.2,302.1z" fill="#3eff00" stroke="#3eff00"/><path d="M419.7,291.5 425.2,290.5 420.7,289.5 415.2,290.6z" fill="#fbff00" stroke="#fbff00"/><path d="M378,296.5 383.8,294.6 379.5,293.5 373.8,295.4z" fill="#a7ff00" stroke="#a7ff00"/><path d="M362.2,299.6 368,297.5 363.8,296.3 358,298.5z" fill="#63ff00" stroke="#63ff00"/><path d="M281,325.3 287,322.2 283.3,320.8 277.3,323.9z" fill="#00ff5b" stroke="#00ff5b"/><path d="M324.5,310 330.5,307.3 326.5,306 320.6,308.8z" fill="#16ff00" stroke="#16ff00"/><path d="M302.8,317.4 308.7,314.5 304.9,313.1 298.9,316.1z" fill="#00ff1e" stroke="#00ff1e"/><path d="M429.9,291.3 435.3,290.5 430.7,289.6 425.2,290.5z" fill="#fff600" stroke="#fff600"/><path d="M404,293.2 409.6,291.8 405.1,290.8 399.5,292.2z" fill="#efff00" stroke="#efff00"/><path d="M340.4,305.8 346.3,303.3 342.2,302.1 336.3,304.6z" fill="#35ff00" stroke="#35ff00"/><path d="M275,328.4 281,325.3 277.3,323.9 271.3,327z" fill="#00ff6d" stroke="#00ff6d"/><path d="M388.1,295.5 393.9,293.8 389.5,292.8 383.8,294.6z" fill="#d4ff00" stroke="#d4ff00"/><path d="M296.8,320.4 302.8,317.4 298.9,316.1 293,319.1z" fill="#00ff2f" stroke="#00ff2f"/><path d="M318.6,312.8 324.5,310 320.6,308.8 314.7,311.6z" fill="#0aff00" stroke="#0aff00"/><path d="M356.3,301.9 362.2,299.6 358,298.5 352.2,300.8z" fill="#50ff00" stroke="#50ff00"/><path d="M440,291.2 445.4,290.7 440.7,289.9 435.3,290.5z" fill="#ffec00" stroke="#ffec00"/><path d="M372.2,298.5 378,296.5 373.8,295.4 368,297.5z" fill="#97ff00" stroke="#97ff00"/><path d="M414.2,292.6 419.7,291.5 415.2,290.6 409.6,291.8z" fill="#fffa00" stroke="#fffa00"/><path d="M269,331.6 275,328.4 271.3,327 265.3,330.2z" fill="#00ff8d" stroke="#00ff8d"/><path d="M450.2,291.3 455.5,291.1 450.7,290.4 445.4,290.7z" fill="#ffe200" stroke="#ffe200"/><path d="M334.5,308.4 340.4,305.8 336.3,304.6 330.5,307.3z" fill="#2aff00" stroke="#2aff00"/><path d="M290.8,323.5 296.8,320.4 293,319.1 287,322.2z" fill="#00ff40" stroke="#00ff40"/><path d="M312.6,315.7 318.6,312.8 314.7,311.6 308.7,314.5z" fill="#00ff04" stroke="#00ff04"/><path d="M398.3,294.7 404,293.2 399.5,292.2 393.9,293.8z" fill="#f0ff00" stroke="#f0ff00"/><path d="M350.4,304.3 356.3,301.9 352.2,300.8 346.3,303.3z" fill="#48ff00" stroke="#48ff00"/><path d="M424.4,292.2 429.9,291.3 425.2,290.5 419.7,291.5z" fill="#ffe700" stroke="#ffe700"/><path d="M382.4,297.4 388.1,295.5 383.8,294.6 378,296.5z" fill="#ceff00" stroke="#ceff00"/><path d="M366.4,300.6 372.2,298.5 368,297.5 362.2,299.6z" fill="#84ff00" stroke="#84ff00"/><path d="M284.7,326.6 290.8,323.5 287,322.2 281,325.3z" fill="#00ff51" stroke="#00ff51"/><path d="M328.5,311.1 334.5,308.4 330.5,307.3 324.5,310z" fill="#1fff00" stroke="#1fff00"/><path d="M306.6,318.6 312.6,315.7 308.7,314.5 302.8,317.4z" fill="#00ff13" stroke="#00ff13"/><path d="M434.6,291.9 440,291.2 435.3,290.5 429.9,291.3z" fill="#ffcb00" stroke="#ffcb00"/><path d="M408.5,293.9 414.2,292.6 409.6,291.8 404,293.2z" fill="#fff500" stroke="#fff500"/><path d="M344.5,306.8 350.4,304.3 346.3,303.3 340.4,305.8z" fill="#3fff00" stroke="#3fff00"/><path d="M278.7,329.7 284.7,326.6 281,325.3 275,328.4z" fill="#00ff62" stroke="#00ff62"/><path d="M300.6,321.6 306.6,318.6 302.8,317.4 296.8,320.4z" fill="#00ff23" stroke="#00ff23"/><path d="M322.6,313.9 328.5,311.1 324.5,310 318.6,312.8z" fill="#14ff00" stroke="#14ff00"/><path d="M392.6,296.3 398.3,294.7 393.9,293.8 388.1,295.5z" fill="#eeff00" stroke="#eeff00"/><path d="M360.5,302.9 366.4,300.6 362.2,299.6 356.3,301.9z" fill="#6fff00" stroke="#6fff00"/><path d="M376.6,299.4 382.4,297.4 378,296.5 372.2,298.5z" fill="#c2ff00" stroke="#c2ff00"/><path d="M444.8,291.8 450.2,291.3 445.4,290.7 440,291.2z" fill="#ffb500" stroke="#ffb500"/><path d="M272.6,332.8 278.7,329.7 275,328.4 269,331.6z" fill="#00ff77" stroke="#00ff77"/><path d="M418.8,293.3 424.4,292.2 419.7,291.5 414.2,292.6z" fill="#ffd300" stroke="#ffd300"/><path d="M338.6,309.4 344.5,306.8 340.4,305.8 334.5,308.4z" fill="#35ff00" stroke="#35ff00"/><path d="M294.6,324.6 300.6,321.6 296.8,320.4 290.8,323.5z" fill="#00ff33" stroke="#00ff33"/><path d="M316.6,316.8 322.6,313.9 318.6,312.8 312.6,315.7z" fill="#08ff00" stroke="#08ff00"/><path d="M354.6,305.2 360.5,302.9 356.3,301.9 350.4,304.3z" fill="#57ff00" stroke="#57ff00"/><path d="M402.8,295.4 408.5,293.9 404,293.2 398.3,294.7z" fill="#fff300" stroke="#fff300"/><path d="M429.1,292.8 434.6,291.9 429.9,291.3 424.4,292.2z" fill="#ffae00" stroke="#ffae00"/><path d="M370.7,301.5 376.6,299.4 372.2,298.5 366.4,300.6z" fill="#afff00" stroke="#afff00"/><path d="M386.8,298.2 392.6,296.3 388.1,295.5 382.4,297.4z" fill="#e9ff00" stroke="#e9ff00"/><path d="M288.5,327.7 294.6,324.6 290.8,323.5 284.7,326.6z" fill="#00ff44" stroke="#00ff44"/><path d="M332.6,312.1 338.6,309.4 334.5,308.4 328.5,311.1z" fill="#2bff00" stroke="#2bff00"/><path d="M310.5,319.7 316.6,316.8 312.6,315.7 306.6,318.6z" fill="#00ff06" stroke="#00ff06"/><path d="M439.4,292.5 444.8,291.8 440,291.2 434.6,291.9z" fill="#ff9000" stroke="#ff9000"/><path d="M413.1,294.6 418.8,293.3 414.2,292.6 408.5,293.9z" fill="#ffc700" stroke="#ffc700"/><path d="M348.7,307.7 354.6,305.2 350.4,304.3 344.5,306.8z" fill="#4bff00" stroke="#4bff00"/><path d="M282.4,330.8 288.5,327.7 284.7,326.6 278.7,329.7z" fill="#00ff55" stroke="#00ff55"/><path d="M304.5,322.6 310.5,319.7 306.6,318.6 300.6,321.6z" fill="#00ff15" stroke="#00ff15"/><path d="M326.6,314.9 332.6,312.1 328.5,311.1 322.6,313.9z" fill="#20ff00" stroke="#20ff00"/><path d="M364.8,303.7 370.7,301.5 366.4,300.6 360.5,302.9z" fill="#98ff00" stroke="#98ff00"/><path d="M397.1,297 402.8,295.4 398.3,294.7 392.6,296.3z" fill="#fff300" stroke="#fff300"/><path d="M380.9,300.1 386.8,298.2 382.4,297.4 376.6,299.4z" fill="#e2ff00" stroke="#e2ff00"/><path d="M276.3,333.9 282.4,330.8 278.7,329.7 272.6,332.8z" fill="#00ff66" stroke="#00ff66"/><path d="M423.5,293.9 429.1,292.8 424.4,292.2 418.8,293.3z" fill="#ff9900" stroke="#ff9900"/><path d="M342.7,310.3 348.7,307.7 344.5,306.8 338.6,309.4z" fill="#42ff00" stroke="#42ff00"/><path d="M298.4,325.6 304.5,322.6 300.6,321.6 294.6,324.6z" fill="#00ff25" stroke="#00ff25"/><path d="M320.5,317.7 326.6,314.9 322.6,313.9 316.6,316.8z" fill="#14ff00" stroke="#14ff00"/><path d="M358.9,306 364.8,303.7 360.5,302.9 354.6,305.2z" fill="#80ff00" stroke="#80ff00"/><path d="M407.4,296 413.1,294.6 408.5,293.9 402.8,295.4z" fill="#ffc000" stroke="#ffc000"/><path d="M292.3,328.7 298.4,325.6 294.6,324.6 288.5,327.7z" fill="#00ff36" stroke="#00ff36"/><path d="M375.1,302.2 380.9,300.1 376.6,299.4 370.7,301.5z" fill="#d8ff00" stroke="#d8ff00"/><path d="M391.3,298.8 397.1,297 392.6,296.3 386.8,298.2z" fill="#fff700" stroke="#fff700"/><path d="M433.8,293.3 439.4,292.5 434.6,291.9 429.1,292.8z" fill="#ff7600" stroke="#ff7600"/><path d="M336.7,312.9 342.7,310.3 338.6,309.4 332.6,312.1z" fill="#38ff00" stroke="#38ff00"/><path d="M314.5,320.6 320.5,317.7 316.6,316.8 310.5,319.7z" fill="#08ff00" stroke="#08ff00"/><path d="M286.2,331.8 292.3,328.7 288.5,327.7 282.4,330.8z" fill="#00ff46" stroke="#00ff46"/><path d="M352.9,308.5 358.9,306 354.6,305.2 348.7,307.7z" fill="#67ff00" stroke="#67ff00"/><path d="M417.8,295.1 423.5,293.9 418.8,293.3 413.1,294.6z" fill="#ff8a00" stroke="#ff8a00"/><path d="M308.4,323.5 314.5,320.6 310.5,319.7 304.5,322.6z" fill="#00ff06" stroke="#00ff06"/><path d="M330.6,315.7 336.7,312.9 332.6,312.1 326.6,314.9z" fill="#2dff00" stroke="#2dff00"/><path d="M369.1,304.4 375.1,302.2 370.7,301.5 364.8,303.7z" fill="#ccff00" stroke="#ccff00"/><path d="M401.6,297.6 407.4,296 402.8,295.4 397.1,297z" fill="#ffbf00" stroke="#ffbf00"/><path d="M385.4,300.7 391.3,298.8 386.8,298.2 380.9,300.1z" fill="#fffd00" stroke="#fffd00"/><path d="M280,334.9 286.2,331.8 282.4,330.8 276.3,333.9z" fill="#00ff57" stroke="#00ff57"/><path d="M346.9,311 352.9,308.5 348.7,307.7 342.7,310.3z" fill="#4fff00" stroke="#4fff00"/><path d="M302.3,326.5 308.4,323.5 304.5,322.6 298.4,325.6z" fill="#00ff16" stroke="#00ff16"/><path d="M428.2,294.3 433.8,293.3 429.1,292.8 423.5,293.9z" fill="#ff6a00" stroke="#ff6a00"/><path d="M324.6,318.5 330.6,315.7 326.6,314.9 320.5,317.7z" fill="#22ff00" stroke="#22ff00"/><path d="M363.2,306.7 369.1,304.4 364.8,303.7 358.9,306z" fill="#b4ff00" stroke="#b4ff00"/><path d="M412.1,296.5 417.8,295.1 413.1,294.6 407.4,296z" fill="#ff8100" stroke="#ff8100"/><path d="M296.2,329.5 302.3,326.5 298.4,325.6 292.3,328.7z" fill="#00ff25" stroke="#00ff25"/><path d="M379.5,302.7 385.4,300.7 380.9,300.1 375.1,302.2z" fill="#f9ff00" stroke="#f9ff00"/><path d="M395.8,299.3 401.6,297.6 397.1,297 391.3,298.8z" fill="#ffc300" stroke="#ffc300"/><path d="M340.8,313.6 346.9,311 342.7,310.3 336.7,312.9z" fill="#46ff00" stroke="#46ff00"/><path d="M318.5,321.3 324.6,318.5 320.5,317.7 314.5,320.6z" fill="#16ff00" stroke="#16ff00"/><path d="M290,332.6 296.2,329.5 292.3,328.7 286.2,331.8z" fill="#00ff36" stroke="#00ff36"/><path d="M357.2,309.1 363.2,306.7 358.9,306 352.9,308.5z" fill="#98ff00" stroke="#98ff00"/><path d="M422.6,295.5 428.2,294.3 423.5,293.9 417.8,295.1z" fill="#ff6200" stroke="#ff6200"/><path d="M312.4,324.3 318.5,321.3 314.5,320.6 308.4,323.5z" fill="#09ff00" stroke="#09ff00"/><path d="M334.8,316.3 340.8,313.6 336.7,312.9 330.6,315.7z" fill="#3cff00" stroke="#3cff00"/><path d="M373.5,304.9 379.5,302.7 375.1,302.2 369.1,304.4z" fill="#eeff00" stroke="#eeff00"/><path d="M406.3,298 412.1,296.5 407.4,296 401.6,297.6z" fill="#ff7d00" stroke="#ff7d00"/><path d="M389.9,301.2 395.8,299.3 391.3,298.8 385.4,300.7z" fill="#ffcc00" stroke="#ffcc00"/><path d="M283.8,335.7 290,332.6 286.2,331.8 280,334.9z" fill="#00ff46" stroke="#00ff46"/><path d="M351.1,311.6 357.2,309.1 352.9,308.5 346.9,311z" fill="#7cff00" stroke="#7cff00"/><path d="M306.2,327.2 312.4,324.3 308.4,323.5 302.3,326.5z" fill="#00ff04" stroke="#00ff04"/><path d="M328.7,319.1 334.8,316.3 330.6,315.7 324.6,318.5z" fill="#31ff00" stroke="#31ff00"/><path d="M367.5,307.2 373.5,304.9 369.1,304.4 363.2,306.7z" fill="#e0ff00" stroke="#e0ff00"/><path d="M416.8,296.8 422.6,295.5 417.8,295.1 412.1,296.5z" fill="#ff5c00" stroke="#ff5c00"/><path d="M300,330.3 306.2,327.2 302.3,326.5 296.2,329.5z" fill="#00ff13" stroke="#00ff13"/><path d="M384,303.2 389.9,301.2 385.4,300.7 379.5,302.7z" fill="#ffda00" stroke="#ffda00"/><path d="M400.4,299.7 406.3,298 401.6,297.6 395.8,299.3z" fill="#ff7f00" stroke="#ff7f00"/><path d="M345.1,314.2 351.1,311.6 346.9,311 340.8,313.6z" fill="#5fff00" stroke="#5fff00"/><path d="M322.5,322 328.7,319.1 324.6,318.5 318.5,321.3z" fill="#25ff00" stroke="#25ff00"/><path d="M293.8,333.3 300,330.3 296.2,329.5 290,332.6z" fill="#00ff23" stroke="#00ff23"/><path d="M361.5,309.5 367.5,307.2 363.2,306.7 357.2,309.1z" fill="#d1ff00" stroke="#d1ff00"/><path d="M316.4,324.9 322.5,322 318.5,321.3 312.4,324.3z" fill="#19ff00" stroke="#19ff00"/><path d="M339,316.9 345.1,314.2 340.8,313.6 334.8,316.3z" fill="#4cff00" stroke="#4cff00"/><path d="M378,305.3 384,303.2 379.5,302.7 373.5,304.9z" fill="#ffec00" stroke="#ffec00"/><path d="M411,298.3 416.8,296.8 412.1,296.5 406.3,298z" fill="#ff5900" stroke="#ff5900"/><path d="M394.5,301.5 400.4,299.7 395.8,299.3 389.9,301.2z" fill="#ff8600" stroke="#ff8600"/><path d="M287.6,336.4 293.8,333.3 290,332.6 283.8,335.7z" fill="#00ff33" stroke="#00ff33"/><path d="M310.2,327.8 316.4,324.9 312.4,324.3 306.2,327.2z" fill="#0dff00" stroke="#0dff00"/><path d="M355.4,312 361.5,309.5 357.2,309.1 351.1,311.6z" fill="#b8ff00" stroke="#b8ff00"/><path d="M332.8,319.6 339,316.9 334.8,316.3 328.7,319.1z" fill="#41ff00" stroke="#41ff00"/><path d="M372,307.5 378,305.3 373.5,304.9 367.5,307.2z" fill="#fff800" stroke="#fff800"/><path d="M304,330.8 310.2,327.8 306.2,327.2 300,330.3z" fill="#00ff00" stroke="#00ff00"/><path d="M388.6,303.5 394.5,301.5 389.9,301.2 384,303.2z" fill="#ff9200" stroke="#ff9200"/><path d="M405.1,299.9 411,298.3 406.3,298 400.4,299.7z" fill="#ff5900" stroke="#ff5900"/><path d="M349.3,314.6 355.4,312 351.1,311.6 345.1,314.2z" fill="#97ff00" stroke="#97ff00"/><path d="M326.6,322.4 332.8,319.6 328.7,319.1 322.5,322z" fill="#36ff00" stroke="#36ff00"/><path d="M297.7,333.9 304,330.8 300,330.3 293.8,333.3z" fill="#00ff0f" stroke="#00ff0f"/><path d="M365.9,309.9 372,307.5 367.5,307.2 361.5,309.5z" fill="#f8ff00" stroke="#f8ff00"/><path d="M320.5,325.3 326.6,322.4 322.5,322 316.4,324.9z" fill="#2bff00" stroke="#2bff00"/><path d="M343.2,317.2 349.3,314.6 345.1,314.2 339,316.9z" fill="#78ff00" stroke="#78ff00"/><path d="M382.6,305.6 388.6,303.5 384,303.2 378,305.3z" fill="#ffa200" stroke="#ffa200"/><path d="M291.5,336.9 297.7,333.9 293.8,333.3 287.6,336.4z" fill="#00ff1e" stroke="#00ff1e"/><path d="M399.2,301.7 405.1,299.9 400.4,299.7 394.5,301.5z" fill="#ff5c00" stroke="#ff5c00"/><path d="M314.2,328.3 320.5,325.3 316.4,324.9 310.2,327.8z" fill="#1fff00" stroke="#1fff00"/><path d="M359.8,312.3 365.9,309.9 361.5,309.5 355.4,312z" fill="#e8ff00" stroke="#e8ff00"/><path d="M337,320 343.2,317.2 339,316.9 332.8,319.6z" fill="#58ff00" stroke="#58ff00"/><path d="M376.5,307.8 382.6,305.6 378,305.3 372,307.5z" fill="#ffb700" stroke="#ffb700"/><path d="M308,331.2 314.2,328.3 310.2,327.8 304,330.8z" fill="#13ff00" stroke="#13ff00"/><path d="M393.2,303.6 399.2,301.7 394.5,301.5 388.6,303.5z" fill="#ff6000" stroke="#ff6000"/><path d="M353.7,314.9 359.8,312.3 355.4,312 349.3,314.6z" fill="#d6ff00" stroke="#d6ff00"/><path d="M330.8,322.8 337,320 332.8,319.6 326.6,322.4z" fill="#49ff00" stroke="#49ff00"/><path d="M301.7,334.3 308,331.2 304,330.8 297.7,333.9z" fill="#06ff00" stroke="#06ff00"/><path d="M370.4,310.1 376.5,307.8 372,307.5 365.9,309.9z" fill="#ffd000" stroke="#ffd000"/><path d="M324.6,325.6 330.8,322.8 326.6,322.4 320.5,325.3z" fill="#3eff00" stroke="#3eff00"/><path d="M347.5,317.5 353.7,314.9 349.3,314.6 343.2,317.2z" fill="#bcff00" stroke="#bcff00"/><path d="M387.2,305.7 393.2,303.6 388.6,303.5 382.6,305.6z" fill="#ff6700" stroke="#ff6700"/><path d="M295.4,337.3 301.7,334.3 297.7,333.9 291.5,336.9z" fill="#00ff08" stroke="#00ff08"/><path d="M318.3,328.6 324.6,325.6 320.5,325.3 314.2,328.3z" fill="#33ff00" stroke="#33ff00"/><path d="M364.3,312.5 370.4,310.1 365.9,309.9 359.8,312.3z" fill="#ffeb00" stroke="#ffeb00"/><path d="M341.3,320.2 347.5,317.5 343.2,317.2 337,320z" fill="#98ff00" stroke="#98ff00"/><path d="M381.1,307.8 387.2,305.7 382.6,305.6 376.5,307.8z" fill="#ff7000" stroke="#ff7000"/><path d="M312,331.5 318.3,328.6 314.2,328.3 308,331.2z" fill="#27ff00" stroke="#27ff00"/><path d="M358.1,315 364.3,312.5 359.8,312.3 353.7,314.9z" fill="#fffc00" stroke="#fffc00"/><path d="M335.1,323 341.3,320.2 337,320 330.8,322.8z" fill="#76ff00" stroke="#76ff00"/><path d="M305.7,334.5 312,331.5 308,331.2 301.7,334.3z" fill="#1bff00" stroke="#1bff00"/><path d="M375,310.1 381.1,307.8 376.5,307.8 370.4,310.1z" fill="#ff7c00" stroke="#ff7c00"/><path d="M328.8,325.8 335.1,323 330.8,322.8 324.6,325.6z" fill="#54ff00" stroke="#54ff00"/><path d="M351.9,317.6 358.1,315 353.7,314.9 347.5,317.5z" fill="#efff00" stroke="#efff00"/><path d="M299.4,337.6 305.7,334.5 301.7,334.3 295.4,337.3z" fill="#0eff00" stroke="#0eff00"/><path d="M322.5,328.7 328.8,325.8 324.6,325.6 318.3,328.6z" fill="#47ff00" stroke="#47ff00"/><path d="M368.8,312.5 375,310.1 370.4,310.1 364.3,312.5z" fill="#ff9600" stroke="#ff9600"/><path d="M345.7,320.3 351.9,317.6 347.5,317.5 341.3,320.2z" fill="#dcff00" stroke="#dcff00"/><path d="M316.1,331.7 322.5,328.7 318.3,328.6 312,331.5z" fill="#3cff00" stroke="#3cff00"/><path d="M362.6,315 368.8,312.5 364.3,312.5 358.1,315z" fill="#ffb400" stroke="#ffb400"/><path d="M339.4,323 345.7,320.3 341.3,320.2 335.1,323z" fill="#c3ff00" stroke="#c3ff00"/><path d="M309.8,334.7 316.1,331.7 312,331.5 305.7,334.5z" fill="#30ff00" stroke="#30ff00"/><path d="M333.1,325.9 339.4,323 335.1,323 328.8,325.8z" fill="#9cff00" stroke="#9cff00"/><path d="M356.4,317.6 362.6,315 358.1,315 351.9,317.6z" fill="#ffd400" stroke="#ffd400"/><path d="M303.4,337.7 309.8,334.7 305.7,334.5 299.4,337.6z" fill="#24ff00" stroke="#24ff00"/><path d="M326.7,328.7 333.1,325.9 328.8,325.8 322.5,328.7z" fill="#78ff00" stroke="#78ff00"/><path d="M350.1,320.2 356.4,317.6 351.9,317.6 345.7,320.3z" fill="#fff200" stroke="#fff200"/><path d="M320.3,331.7 326.7,328.7 322.5,328.7 316.1,331.7z" fill="#55ff00" stroke="#55ff00"/><path d="M343.8,323 350.1,320.2 345.7,320.3 339.4,323z" fill="#f8ff00" stroke="#f8ff00"/><path d="M313.9,334.7 320.3,331.7 316.1,331.7 309.8,334.7z" fill="#47ff00" stroke="#47ff00"/><path d="M337.4,325.8 343.8,323 339.4,323 333.1,325.9z" fill="#e3ff00" stroke="#e3ff00"/><path d="M307.5,337.7 313.9,334.7 309.8,334.7 303.4,337.7z" fill="#3cff00" stroke="#3cff00"/><path d="M331,328.6 337.4,325.8 333.1,325.9 326.7,328.7z" fill="#cdff00" stroke="#cdff00"/><path d="M324.6,331.5 331,328.6 326.7,328.7 320.3,331.7z" fill="#a5ff00" stroke="#a5ff00"/><path d="M318.1,334.5 324.6,331.5 320.3,331.7 313.9,334.7z" fill="#7fff00" stroke="#7fff00"/><path d="M311.6,337.5 318.1,334.5 313.9,334.7 307.5,337.7z" fill="#5bff00" stroke="#5bff00"/></g>
<path d="M311.6,337.5 307.5,337.7 303.4,337.7 299.4,337.6 295.4,337.3 291.5,336.9 287.6,336.4 283.8,335.7 280,334.9 276.3,333.9 272.6,332.8 269,331.6 265.3,330.2 261.7,328.6 258.1,326.9 254.6,325.1 251,323.1 247.5,321 244,318.7 240.5,316.3 237,313.7 233.5,310.9 230,308 226.5,304.9 222.9,301.6 219.4,298.2M311.6,337.5 318.1,334.5 324.6,331.5 331,328.6 337.4,325.8 343.8,323 350.1,320.2 356.4,317.6 362.6,315 368.8,312.5 375,310.1 381.1,307.8 387.2,305.7 393.2,303.6 399.2,301.7 405.1,299.9 411,298.3 416.8,296.8 422.6,295.5 428.2,294.3 433.8,293.3 439.4,292.5 444.8,291.8 450.2,291.3 455.5,291.1 460.7,291M314.9,336 310.7,336.2 306.6,336.2 302.5,336.1 298.6,335.8 294.6,335.4 290.7,334.8 286.9,334.2 283.1,333.3 279.4,332.4 275.7,331.2 272,330 268.3,328.6 264.7,327 261.1,325.3 257.5,323.5 254,321.5 250.4,319.4 246.9,317.1 243.4,314.6 239.9,312 236.4,309.3 232.8,306.3 229.3,303.2 225.8,300 222.3,296.5M309.5,337.6 316,334.6 322.4,331.6 328.8,328.7 335.2,325.8 341.6,323 347.9,320.3 354.1,317.6 360.4,315 366.5,312.5 372.7,310.1 378.8,307.8 384.9,305.6 390.9,303.6 396.9,301.6 402.8,299.8 408.6,298.2 414.4,296.7 420.2,295.3 425.8,294.1 431.4,293.1 437,292.2 442.4,291.5 447.8,291 453.1,290.7 458.3,290.6M318.1,334.5 313.9,334.7 309.8,334.7 305.7,334.5 301.7,334.3 297.7,333.9 293.8,333.3 290,332.6 286.2,331.8 282.4,330.8 278.7,329.7 275,328.4 271.3,327 267.7,325.5 264.1,323.8 260.5,321.9 256.9,319.9 253.4,317.8 249.8,315.5 246.3,313 242.8,310.4 239.2,307.6 235.7,304.7 232.2,301.6 228.7,298.3 225.1,294.8M307.5,337.7 313.9,334.7 320.3,331.7 326.7,328.7 333.1,325.9 339.4,323 345.7,320.3 351.9,317.6 358.1,315 364.3,312.5 370.4,310.1 376.5,307.8 382.6,305.6 388.6,303.5 394.5,301.5 400.4,299.7 406.3,298 412.1,296.5 417.8,295.1 423.5,293.9 429.1,292.8 434.6,291.9 440,291.2 445.4,290.7 450.7,290.4 455.9,290.2M321.4,333 317.1,333.2 313,333.2 308.9,333 304.8,332.8 300.9,332.3 296.9,331.8 293.1,331.1 289.2,330.2 285.5,329.2 281.7,328.1 278,326.8 274.3,325.4 270.7,323.9 267,322.2 263.4,320.3 259.9,318.3 256.3,316.2 252.7,313.8 249.2,311.4 245.6,308.8 242.1,306 238.6,303 235,299.9 231.5,296.6 228,293.1M305.4,337.7 311.8,334.7 318.2,331.7 324.6,328.8 330.9,325.9 337.2,323 343.5,320.3 349.7,317.6 355.9,314.9 362,312.4 368.2,310 374.2,307.7 380.3,305.4 386.3,303.3 392.2,301.4 398.1,299.5 403.9,297.8 409.7,296.3 415.4,294.8 421.1,293.6 426.7,292.5 432.2,291.6 437.7,290.9 443,290.3 448.3,290 453.6,289.8M324.6,331.5 320.3,331.7 316.1,331.7 312,331.5 308,331.2 304,330.8 300,330.3 296.2,329.5 292.3,328.7 288.5,327.7 284.7,326.6 281,325.3 277.3,323.9 273.6,322.3 270,320.6 266.4,318.7 262.8,316.7 259.2,314.5 255.6,312.2 252.1,309.8 248.5,307.1 245,304.3 241.4,301.4 237.9,298.2 234.4,294.9 230.8,291.5M303.4,337.7 309.8,334.7 316.1,331.7 322.5,328.7 328.8,325.8 335.1,323 341.3,320.2 347.5,317.5 353.7,314.9 359.8,312.3 365.9,309.9 372,307.5 378,305.3 384,303.2 389.9,301.2 395.8,299.3 401.6,297.6 407.4,296 413.1,294.6 418.8,293.3 424.4,292.2 429.9,291.3 435.3,290.5 440.7,289.9 446,289.5 451.2,289.3M327.8,330.1 323.5,330.2 319.3,330.2 315.2,330 311.1,329.8 307.1,329.3 303.1,328.7 299.2,328 295.4,327.2 291.5,326.2 287.8,325 284,323.7 280.3,322.3 276.6,320.7 273,319 269.3,317.1 265.7,315.1 262.1,312.9 258.5,310.6 255,308.1 251.4,305.5 247.9,302.7 244.3,299.7 240.8,296.6 237.2,293.3 233.6,289.8M301.4,337.7 307.7,334.6 314.1,331.6 320.4,328.7 326.7,325.8 332.9,322.9 339.2,320.1 345.3,317.4 351.5,314.7 357.6,312.2 363.7,309.7 369.8,307.4 375.8,305.1 381.7,303 387.6,301 393.5,299.1 399.3,297.3 405.1,295.7 410.8,294.3 416.5,293 422,291.8 427.6,290.9 433,290.1 438.4,289.5 443.7,289.1 448.9,288.8M331,328.6 326.7,328.7 322.5,328.7 318.3,328.6 314.2,328.3 310.2,327.8 306.2,327.2 302.3,326.5 298.4,325.6 294.6,324.6 290.8,323.5 287,322.2 283.3,320.8 279.6,319.2 275.9,317.4 272.3,315.6 268.6,313.5 265,311.3 261.4,309 257.9,306.5 254.3,303.9 250.7,301.1 247.2,298.1 243.6,294.9 240,291.6 236.5,288.1M299.4,337.6 305.7,334.5 312,331.5 318.3,328.6 324.6,325.6 330.8,322.8 337,320 343.2,317.2 349.3,314.6 355.4,312 361.5,309.5 367.5,307.2 373.5,304.9 379.5,302.7 385.4,300.7 391.3,298.8 397.1,297 402.8,295.4 408.5,293.9 414.2,292.6 419.7,291.5 425.2,290.5 430.7,289.6 436.1,289 441.4,288.6 446.6,288.3M334.2,327.2 329.9,327.3 325.6,327.3 321.5,327.1 317.3,326.8 313.3,326.3 309.3,325.7 305.3,325 301.4,324.1 297.6,323.1 293.8,322 290,320.7 286.2,319.2 282.5,317.6 278.9,315.9 275.2,314 271.6,312 267.9,309.8 264.3,307.4 260.7,304.9 257.2,302.3 253.6,299.4 250,296.4 246.5,293.3 242.9,290 239.3,286.5M297.4,337.5 303.7,334.4 310,331.4 316.3,328.4 322.5,325.5 328.7,322.6 334.9,319.8 341.1,317.1 347.2,314.4 353.3,311.8 359.3,309.3 365.3,306.9 371.3,304.6 377.3,302.5 383.2,300.4 389,298.5 394.8,296.7 400.6,295.1 406.2,293.6 411.9,292.2 417.5,291 423,290 428.4,289.2 433.8,288.5 439.1,288 444.3,287.7M337.4,325.8 333.1,325.9 328.8,325.8 324.6,325.6 320.5,325.3 316.4,324.9 312.4,324.3 308.4,323.5 304.5,322.6 300.6,321.6 296.8,320.4 293,319.1 289.2,317.7 285.5,316.1 281.8,314.3 278.1,312.4 274.5,310.4 270.8,308.2 267.2,305.8 263.6,303.3 260,300.6 256.5,297.8 252.9,294.8 249.3,291.6 245.7,288.3 242.1,284.8M295.4,337.3 301.7,334.3 308,331.2 314.2,328.3 320.5,325.3 326.6,322.4 332.8,319.6 339,316.9 345.1,314.2 351.1,311.6 357.2,309.1 363.2,306.7 369.1,304.4 375.1,302.2 380.9,300.1 386.8,298.2 392.6,296.3 398.3,294.7 404,293.2 409.6,291.8 415.2,290.6 420.7,289.5 426.1,288.7 431.5,288 436.8,287.5 442,287.2M340.6,324.4 336.2,324.4 331.9,324.4 327.7,324.2 323.6,323.9 319.5,323.4 315.4,322.8 311.4,322 307.5,321.1 303.6,320.1 299.8,318.9 296,317.6 292.2,316.1 288.4,314.5 284.7,312.8 281,310.9 277.4,308.8 273.7,306.6 270.1,304.2 266.5,301.7 262.9,299 259.3,296.2 255.7,293.2 252.1,290 248.5,286.7 245,283.1M293.4,337.1 299.7,334.1 306,331.1 312.2,328.1 318.4,325.1 324.6,322.2 330.7,319.4 336.9,316.6 342.9,313.9 349,311.3 355,308.8 361,306.4 367,304 372.9,301.8 378.7,299.7 384.6,297.8 390.3,296 396.1,294.3 401.8,292.7 407.4,291.3 412.9,290.1 418.4,289 423.9,288.1 429.2,287.4 434.5,286.9 439.7,286.5M343.8,323 339.4,323 335.1,323 330.8,322.8 326.6,322.4 322.5,322 318.5,321.3 314.5,320.6 310.5,319.7 306.6,318.6 302.8,317.4 298.9,316.1 295.1,314.6 291.4,313 287.7,311.2 284,309.3 280.3,307.3 276.6,305 273,302.7 269.4,300.1 265.8,297.4 262.2,294.6 258.6,291.6 255,288.4 251.4,285 247.8,281.5M291.5,336.9 297.7,333.9 304,330.8 310.2,327.8 316.4,324.9 322.5,322 328.7,319.1 334.8,316.3 340.8,313.6 346.9,311 352.9,308.5 358.9,306 364.8,303.7 370.7,301.5 376.6,299.4 382.4,297.4 388.1,295.5 393.9,293.8 399.5,292.2 405.1,290.8 410.7,289.6 416.2,288.5 421.6,287.6 427,286.8 432.3,286.3 437.5,285.9M346.9,321.6 342.5,321.7 338.2,321.6 333.9,321.4 329.7,321 325.6,320.5 321.5,319.9 317.5,319.1 313.5,318.2 309.6,317.2 305.7,316 301.9,314.6 298.1,313.1 294.3,311.5 290.6,309.7 286.9,307.8 283.2,305.7 279.5,303.5 275.9,301.1 272.2,298.6 268.6,295.9 265,293 261.4,290 257.8,286.8 254.2,283.4 250.6,279.8M289.6,336.7 295.8,333.6 302,330.6 308.2,327.5 314.4,324.6 320.5,321.7 326.6,318.8 332.7,316 338.8,313.3 344.8,310.7 350.8,308.1 356.7,305.7 362.7,303.3 368.5,301.1 374.4,298.9 380.2,296.9 386,295.1 391.7,293.3 397.3,291.7 402.9,290.3 408.5,289 414,287.9 419.4,287 424.8,286.2 430.1,285.6 435.3,285.2M350.1,320.2 345.7,320.3 341.3,320.2 337,320 332.8,319.6 328.7,319.1 324.6,318.5 320.5,317.7 316.6,316.8 312.6,315.7 308.7,314.5 304.9,313.1 301,311.6 297.3,310 293.5,308.2 289.8,306.3 286.1,304.2 282.4,301.9 278.8,299.6 275.1,297 271.5,294.3 267.9,291.4 264.3,288.4 260.6,285.2 257,281.8 253.4,278.2M287.6,336.4 293.8,333.3 300,330.3 306.2,327.2 312.4,324.3 318.5,321.3 324.6,318.5 330.6,315.7 336.7,312.9 342.7,310.3 348.7,307.7 354.6,305.2 360.5,302.9 366.4,300.6 372.2,298.5 378,296.5 383.8,294.6 389.5,292.8 395.1,291.2 400.7,289.8 406.3,288.5 411.8,287.3 417.2,286.3 422.6,285.6 427.9,284.9 433.1,284.5M353.2,318.9 348.8,318.9 344.4,318.8 340.1,318.6 335.9,318.2 331.7,317.7 327.6,317.1 323.6,316.3 319.6,315.3 315.6,314.2 311.7,313 307.8,311.7 304,310.2 300.2,308.5 296.4,306.7 292.7,304.8 289,302.7 285.3,300.4 281.6,298 278,295.4 274.3,292.7 270.7,289.8 267.1,286.8 263.5,283.6 259.9,280.2 256.2,276.6M285.7,336.1 291.9,333 298.1,329.9 304.2,326.9 310.4,323.9 316.5,321 322.5,318.1 328.6,315.3 334.6,312.5 340.6,309.9 346.6,307.3 352.5,304.8 358.4,302.4 364.3,300.1 370.1,298 375.9,295.9 381.6,294 387.3,292.3 393,290.6 398.6,289.2 404.1,287.8 409.6,286.7 415,285.7 420.4,284.9 425.7,284.2 430.9,283.8M356.4,317.6 351.9,317.6 347.5,317.5 343.2,317.2 339,316.9 334.8,316.3 330.6,315.7 326.6,314.9 322.6,313.9 318.6,312.8 314.7,311.6 310.8,310.2 306.9,308.7 303.1,307 299.4,305.2 295.6,303.3 291.9,301.2 288.2,298.9 284.5,296.5 280.8,293.9 277.2,291.2 273.6,288.3 269.9,285.2 266.3,282 262.7,278.6 259.1,275M283.8,335.7 290,332.6 296.2,329.5 302.3,326.5 308.4,323.5 314.5,320.6 320.5,317.7 326.6,314.9 332.6,312.1 338.6,309.4 344.5,306.8 350.4,304.3 356.3,301.9 362.2,299.6 368,297.5 373.8,295.4 379.5,293.5 385.2,291.7 390.8,290 396.4,288.5 401.9,287.2 407.4,286 412.8,285 418.2,284.1 423.5,283.5 428.7,283M359.5,316.3 355,316.3 350.6,316.2 346.3,315.9 342,315.5 337.8,315 333.7,314.3 329.6,313.5 325.5,312.5 321.6,311.4 317.6,310.2 313.7,308.8 309.9,307.3 306,305.6 302.3,303.8 298.5,301.8 294.8,299.7 291.1,297.4 287.4,295 283.7,292.4 280,289.6 276.4,286.7 272.8,283.6 269.1,280.4 265.5,277 261.9,273.4M281.9,335.3 288.1,332.2 294.2,329.1 300.3,326.1 306.4,323.1 312.5,320.1 318.5,317.2 324.6,314.4 330.5,311.6 336.5,308.9 342.4,306.3 348.4,303.8 354.2,301.4 360.1,299.1 365.9,296.9 371.6,294.8 377.4,292.9 383,291.1 388.7,289.4 394.3,287.9 399.8,286.5 405.3,285.3 410.7,284.3 416,283.4 421.3,282.7 426.6,282.2M362.6,315 358.1,315 353.7,314.9 349.3,314.6 345.1,314.2 340.8,313.6 336.7,312.9 332.6,312.1 328.5,311.1 324.5,310 320.6,308.8 316.7,307.4 312.8,305.8 309,304.1 305.2,302.3 301.4,300.3 297.7,298.2 293.9,295.9 290.2,293.5 286.6,290.9 282.9,288.1 279.2,285.2 275.6,282.1 271.9,278.8 268.3,275.4 264.7,271.8M280,334.9 286.2,331.8 292.3,328.7 298.4,325.6 304.5,322.6 310.5,319.7 316.6,316.8 322.6,313.9 328.5,311.1 334.5,308.4 340.4,305.8 346.3,303.3 352.2,300.8 358,298.5 363.8,296.3 369.5,294.2 375.3,292.2 380.9,290.4 386.6,288.7 392.1,287.2 397.7,285.8 403.1,284.6 408.5,283.5 413.9,282.6 419.2,281.9 424.4,281.4M365.7,313.7 361.2,313.7 356.8,313.6 352.4,313.3 348.1,312.9 343.9,312.3 339.7,311.6 335.6,310.8 331.5,309.8 327.5,308.6 323.5,307.4 319.6,306 315.7,304.4 311.9,302.7 308.1,300.9 304.3,298.9 300.5,296.7 296.8,294.4 293.1,292 289.4,289.4 285.7,286.6 282.1,283.7 278.4,280.6 274.8,277.3 271.1,273.8 267.5,270.2M278.2,334.4 284.3,331.3 290.4,328.2 296.5,325.2 302.5,322.1 308.6,319.2 314.6,316.2 320.6,313.4 326.5,310.6 332.5,307.9 338.4,305.2 344.3,302.7 350.1,300.3 355.9,297.9 361.7,295.7 367.4,293.6 373.2,291.6 378.8,289.7 384.4,288 390,286.5 395.5,285 401,283.8 406.4,282.7 411.8,281.8 417.1,281.1 422.3,280.5M368.8,312.5 364.3,312.5 359.8,312.3 355.4,312 351.1,311.6 346.9,311 342.7,310.3 338.6,309.4 334.5,308.4 330.5,307.3 326.5,306 322.5,304.6 318.6,303 314.8,301.3 311,299.5 307.2,297.4 303.4,295.3 299.7,293 295.9,290.5 292.2,287.9 288.6,285.1 284.9,282.1 281.2,279 277.6,275.7 273.9,272.3 270.3,268.6M276.3,333.9 282.4,330.8 288.5,327.7 294.6,324.6 300.6,321.6 306.6,318.6 312.6,315.7 318.6,312.8 324.5,310 330.5,307.3 336.3,304.6 342.2,302.1 348.1,299.6 353.9,297.3 359.6,295 365.4,292.9 371.1,290.9 376.7,289 382.3,287.3 387.9,285.7 393.4,284.3 398.9,283 404.3,281.9 409.7,280.9 414.9,280.2 420.2,279.6M371.9,311.3 367.4,311.3 362.9,311.1 358.5,310.8 354.2,310.3 349.9,309.7 345.7,309 341.5,308.1 337.4,307.1 333.4,306 329.4,304.7 325.5,303.2 321.6,301.6 317.7,299.9 313.9,298.1 310.1,296 306.3,293.9 302.5,291.5 298.8,289.1 295.1,286.4 291.4,283.6 287.7,280.7 284.1,277.5 280.4,274.2 276.7,270.7 273.1,267.1M274.5,333.4 280.5,330.3 286.6,327.1 292.7,324.1 298.7,321 304.7,318 310.7,315.1 316.6,312.2 322.6,309.4 328.5,306.7 334.3,304 340.2,301.4 346,299 351.8,296.6 357.6,294.3 363.3,292.2 369,290.2 374.6,288.3 380.3,286.5 385.8,284.9 391.3,283.4 396.8,282.2 402.2,281 407.6,280.1 412.8,279.3 418.1,278.7M375,310.1 370.4,310.1 365.9,309.9 361.5,309.5 357.2,309.1 352.9,308.5 348.7,307.7 344.5,306.8 340.4,305.8 336.3,304.6 332.3,303.3 328.4,301.9 324.5,300.3 320.6,298.6 316.7,296.7 312.9,294.6 309.1,292.5 305.4,290.1 301.6,287.6 297.9,285 294.2,282.2 290.5,279.2 286.9,276 283.2,272.7 279.5,269.2 275.9,265.5M272.6,332.8 278.7,329.7 284.7,326.6 290.8,323.5 296.8,320.4 302.8,317.4 308.7,314.5 314.7,311.6 320.6,308.8 326.5,306 332.3,303.3 338.2,300.7 344,298.3 349.8,295.9 355.5,293.6 361.3,291.4 366.9,289.4 372.6,287.5 378.2,285.7 383.7,284.1 389.3,282.6 394.7,281.3 400.1,280.1 405.5,279.1 410.8,278.3 416,277.7M378.1,309 373.5,308.9 369,308.7 364.5,308.3 360.2,307.9 355.9,307.2 351.6,306.5 347.5,305.6 343.4,304.5 339.3,303.4 335.3,302 331.3,300.6 327.4,299 323.5,297.2 319.6,295.3 315.8,293.3 312,291.1 308.2,288.7 304.5,286.2 300.8,283.5 297.1,280.7 293.4,277.7 289.7,274.6 286,271.2 282.4,267.7 278.7,264M270.8,332.2 276.8,329.1 282.9,325.9 288.9,322.9 294.9,319.8 300.8,316.8 306.8,313.8 312.7,310.9 318.6,308.1 324.5,305.3 330.4,302.6 336.2,300 342,297.5 347.8,295.1 353.5,292.8 359.2,290.6 364.9,288.6 370.5,286.6 376.1,284.9 381.7,283.2 387.2,281.7 392.6,280.4 398,279.2 403.4,278.2 408.7,277.3 413.9,276.7M381.1,307.8 376.5,307.8 372,307.5 367.5,307.2 363.2,306.7 358.9,306 354.6,305.2 350.4,304.3 346.3,303.3 342.2,302.1 338.2,300.7 334.2,299.3 330.3,297.6 326.4,295.9 322.5,294 318.7,291.9 314.9,289.7 311.1,287.3 307.3,284.8 303.6,282.1 299.9,279.3 296.2,276.3 292.5,273.1 288.8,269.8 285.1,266.2 281.5,262.5M269,331.6 275,328.4 281,325.3 287,322.2 293,319.1 298.9,316.1 304.9,313.1 310.8,310.2 316.7,307.4 322.5,304.6 328.4,301.9 334.2,299.3 340,296.7 345.8,294.3 351.5,292 357.2,289.8 362.9,287.7 368.5,285.8 374.1,284 379.6,282.3 385.1,280.8 390.6,279.4 396,278.2 401.3,277.2 406.6,276.3 411.8,275.7M384.2,306.7 379.5,306.6 375,306.4 370.5,306 366.2,305.5 361.8,304.8 357.6,304 353.4,303.1 349.2,302 345.1,300.8 341.1,299.5 337.1,298 333.2,296.4 329.2,294.6 325.4,292.7 321.5,290.6 317.7,288.3 313.9,286 310.2,283.4 306.4,280.7 302.7,277.9 299,274.9 295.3,271.7 291.6,268.3 287.9,264.8 284.3,261.1M267.1,330.9 273.2,327.7 279.2,324.6 285.1,321.5 291.1,318.4 297,315.4 303,312.4 308.9,309.5 314.7,306.6 320.6,303.8 326.4,301.1 332.2,298.5 338,295.9 343.8,293.5 349.5,291.2 355.2,289 360.8,286.9 366.5,284.9 372,283.1 377.6,281.4 383.1,279.8 388.5,278.5 393.9,277.2 399.3,276.2 404.6,275.3 409.8,274.6M387.2,305.7 382.6,305.6 378,305.3 373.5,304.9 369.1,304.4 364.8,303.7 360.5,302.9 356.3,301.9 352.2,300.8 348.1,299.6 344,298.3 340,296.7 336,295.1 332.1,293.3 328.2,291.4 324.4,289.3 320.6,287 316.8,284.6 313,282.1 309.2,279.4 305.5,276.5 301.8,273.5 298.1,270.3 294.4,266.9 290.7,263.3 287.1,259.6M265.3,330.2 271.3,327 277.3,323.9 283.3,320.8 289.2,317.7 295.1,314.6 301,311.6 306.9,308.7 312.8,305.8 318.6,303 324.5,300.3 330.3,297.6 336,295.1 341.8,292.6 347.5,290.3 353.2,288.1 358.8,286 364.4,284 370,282.1 375.6,280.4 381.1,278.8 386.5,277.4 391.9,276.2 397.2,275.1 402.5,274.2 407.8,273.5M390.2,304.6 385.6,304.5 381,304.2 376.5,303.8 372.1,303.2 367.8,302.6 363.5,301.7 359.2,300.8 355.1,299.7 351,298.4 346.9,297 342.9,295.5 338.9,293.9 335,292 331.1,290.1 327.2,288 323.4,285.7 319.6,283.3 315.8,280.7 312.1,278 308.3,275.1 304.6,272.1 300.9,268.9 297.2,265.5 293.5,261.9 289.8,258.2M263.5,329.4 269.5,326.2 275.5,323.1 281.4,320 287.4,316.9 293.3,313.8 299.2,310.8 305,307.9 310.9,305 316.7,302.2 322.5,299.4 328.3,296.8 334.1,294.2 339.8,291.7 345.5,289.4 351.2,287.1 356.8,285 362.4,283 368,281.1 373.5,279.4 379,277.8 384.5,276.4 389.9,275.1 395.2,274 400.5,273.1 405.7,272.3M393.2,303.6 388.6,303.5 384,303.2 379.5,302.7 375.1,302.2 370.7,301.5 366.4,300.6 362.2,299.6 358,298.5 353.9,297.3 349.8,295.9 345.8,294.3 341.8,292.6 337.8,290.8 333.9,288.8 330.1,286.7 326.2,284.4 322.4,282 318.6,279.4 314.9,276.7 311.1,273.8 307.4,270.7 303.7,267.5 300,264.1 296.3,260.5 292.6,256.7M261.7,328.6 267.7,325.5 273.6,322.3 279.6,319.2 285.5,316.1 291.4,313 297.3,310 303.1,307 309,304.1 314.8,301.3 320.6,298.6 326.4,295.9 332.1,293.3 337.8,290.8 343.5,288.4 349.2,286.2 354.8,284 360.4,282 366,280.1 371.5,278.4 377,276.8 382.5,275.3 387.9,274 393.2,272.9 398.5,272 403.7,271.2M396.2,302.7 391.6,302.5 387,302.2 382.4,301.7 378,301.1 373.6,300.4 369.3,299.5 365.1,298.5 360.9,297.4 356.8,296.1 352.7,294.7 348.6,293.2 344.6,291.5 340.7,289.6 336.8,287.6 332.9,285.5 329.1,283.2 325.2,280.8 321.4,278.2 317.7,275.4 313.9,272.5 310.2,269.4 306.5,266.1 302.8,262.7 299.1,259.1 295.4,255.3M259.9,327.8 265.9,324.6 271.8,321.5 277.7,318.3 283.6,315.2 289.5,312.1 295.4,309.1 301.2,306.2 307.1,303.2 312.9,300.4 318.7,297.6 324.4,294.9 330.2,292.3 335.9,289.8 341.6,287.5 347.2,285.2 352.9,283 358.5,281 364,279.1 369.5,277.3 375,275.7 380.5,274.2 385.9,272.9 391.2,271.7 396.5,270.8 401.7,270M399.2,301.7 394.5,301.5 389.9,301.2 385.4,300.7 380.9,300.1 376.6,299.4 372.2,298.5 368,297.5 363.8,296.3 359.6,295 355.5,293.6 351.5,292 347.5,290.3 343.5,288.4 339.6,286.4 335.7,284.3 331.9,282 328.1,279.5 324.3,276.9 320.5,274.1 316.7,271.2 313,268.1 309.3,264.8 305.6,261.4 301.9,257.8 298.2,254M258.1,326.9 264.1,323.8 270,320.6 275.9,317.4 281.8,314.3 287.7,311.2 293.5,308.2 299.4,305.2 305.2,302.3 311,299.5 316.7,296.7 322.5,294 328.2,291.4 333.9,288.8 339.6,286.4 345.3,284.1 350.9,281.9 356.5,279.9 362,278 367.6,276.2 373,274.5 378.5,273 383.9,271.7 389.2,270.5 394.5,269.5 399.7,268.7M402.2,300.8 397.5,300.6 392.9,300.2 388.3,299.7 383.9,299.1 379.5,298.3 375.1,297.5 370.9,296.4 366.7,295.2 362.5,293.9 358.4,292.5 354.3,290.9 350.3,289.2 346.4,287.3 342.4,285.3 338.6,283.1 334.7,280.8 330.9,278.3 327.1,275.7 323.3,272.9 319.5,269.9 315.8,266.8 312.1,263.5 308.4,260.1 304.7,256.4 301,252.6M256.4,326 262.3,322.8 268.2,319.7 274.1,316.5 280,313.4 285.8,310.3 291.7,307.3 297.5,304.3 303.3,301.3 309.1,298.5 314.8,295.7 320.6,293 326.3,290.3 332,287.8 337.7,285.4 343.3,283.1 348.9,280.9 354.5,278.8 360.1,276.8 365.6,275 371.1,273.4 376.5,271.9 381.9,270.5 387.2,269.3 392.5,268.3 397.7,267.4M405.1,299.9 400.4,299.7 395.8,299.3 391.3,298.8 386.8,298.2 382.4,297.4 378,296.5 373.8,295.4 369.5,294.2 365.4,292.9 361.3,291.4 357.2,289.8 353.2,288.1 349.2,286.2 345.3,284.1 341.4,281.9 337.5,279.6 333.7,277.1 329.9,274.5 326.1,271.7 322.3,268.7 318.6,265.6 314.8,262.3 311.1,258.8 307.4,255.1 303.7,251.3M254.6,325.1 260.5,321.9 266.4,318.7 272.3,315.6 278.1,312.4 284,309.3 289.8,306.3 295.6,303.3 301.4,300.3 307.2,297.4 312.9,294.6 318.7,291.9 324.4,289.3 330.1,286.7 335.7,284.3 341.4,281.9 347,279.7 352.6,277.6 358.1,275.7 363.6,273.8 369.1,272.2 374.5,270.6 379.9,269.2 385.2,268 390.5,267 395.8,266.1M408.1,299.1 403.4,298.8 398.7,298.4 394.2,297.9 389.7,297.2 385.3,296.4 380.9,295.5 376.6,294.4 372.4,293.2 368.2,291.9 364.1,290.4 360,288.8 356,287 352,285.1 348.1,283 344.2,280.8 340.3,278.5 336.5,276 332.6,273.3 328.9,270.5 325.1,267.5 321.3,264.3 317.6,261 313.9,257.5 310.2,253.8 306.5,250M252.8,324.1 258.7,320.9 264.6,317.7 270.4,314.6 276.3,311.4 282.1,308.3 287.9,305.2 293.7,302.2 299.5,299.3 305.3,296.4 311,293.6 316.8,290.8 322.5,288.2 328.1,285.6 333.8,283.1 339.4,280.8 345,278.6 350.6,276.4 356.1,274.5 361.7,272.6 367.1,270.9 372.6,269.4 377.9,268 383.3,266.7 388.6,265.7 393.8,264.8M411,298.3 406.3,298 401.6,297.6 397.1,297 392.6,296.3 388.1,295.5 383.8,294.6 379.5,293.5 375.3,292.2 371.1,290.9 366.9,289.4 362.9,287.7 358.8,286 354.8,284 350.9,281.9 347,279.7 343.1,277.4 339.3,274.8 335.4,272.1 331.6,269.3 327.9,266.3 324.1,263.1 320.4,259.8 316.7,256.3 313,252.6 309.3,248.7M251,323.1 256.9,319.9 262.8,316.7 268.6,313.5 274.5,310.4 280.3,307.3 286.1,304.2 291.9,301.2 297.7,298.2 303.4,295.3 309.1,292.5 314.9,289.7 320.6,287 326.2,284.4 331.9,282 337.5,279.6 343.1,277.4 348.7,275.2 354.2,273.2 359.7,271.4 365.2,269.6 370.6,268.1 376,266.6 381.3,265.4 386.6,264.3 391.8,263.4M413.9,297.5 409.2,297.2 404.5,296.8 399.9,296.2 395.4,295.5 391,294.7 386.6,293.7 382.3,292.6 378.1,291.3 373.9,289.9 369.8,288.4 365.7,286.7 361.6,284.9 357.6,283 353.7,280.9 349.8,278.7 345.9,276.3 342,273.7 338.2,271 334.4,268.2 330.6,265.1 326.9,262 323.1,258.6 319.4,255.1 315.7,251.4 312,247.5M249.3,322.1 255.1,318.9 261,315.6 266.8,312.5 272.7,309.3 278.5,306.2 284.3,303.1 290,300 295.8,297.1 301.5,294.1 307.3,291.3 313,288.5 318.7,285.8 324.3,283.3 330,280.8 335.6,278.4 341.2,276.1 346.7,274 352.3,271.9 357.8,270.1 363.2,268.3 368.7,266.7 374,265.3 379.4,264 384.7,262.9 389.9,262M416.8,296.8 412.1,296.5 407.4,296 402.8,295.4 398.3,294.7 393.9,293.8 389.5,292.8 385.2,291.7 380.9,290.4 376.7,289 372.6,287.5 368.5,285.8 364.4,284 360.4,282 356.5,279.9 352.6,277.6 348.7,275.2 344.8,272.7 341,269.9 337.2,267.1 333.4,264 329.6,260.8 325.9,257.4 322.2,253.9 318.5,250.2 314.8,246.3M247.5,321 253.4,317.8 259.2,314.5 265,311.3 270.8,308.2 276.6,305 282.4,301.9 288.2,298.9 293.9,295.9 299.7,293 305.4,290.1 311.1,287.3 316.8,284.6 322.4,282 328.1,279.5 333.7,277.1 339.3,274.8 344.8,272.7 350.3,270.6 355.8,268.7 361.3,267 366.7,265.3 372.1,263.9 377.4,262.6 382.7,261.5 388,260.5M419.7,296.1 414.9,295.8 410.3,295.3 405.7,294.6 401.2,293.9 396.7,293 392.3,292 388,290.8 383.7,289.6 379.5,288.1 375.4,286.6 371.3,284.9 367.2,283 363.2,281 359.3,278.9 355.3,276.6 351.4,274.2 347.6,271.6 343.7,268.9 339.9,266 336.2,262.9 332.4,259.7 328.7,256.3 324.9,252.7 321.2,249 317.5,245.1M245.7,319.9 251.6,316.6 257.4,313.4 263.2,310.2 269,307 274.8,303.9 280.6,300.8 286.3,297.7 292.1,294.7 297.8,291.8 303.5,288.9 309.2,286.1 314.9,283.4 320.5,280.8 326.2,278.2 331.8,275.8 337.3,273.5 342.9,271.3 348.4,269.3 353.9,267.3 359.4,265.6 364.8,263.9 370.2,262.4 375.5,261.1 380.8,260 386,259M422.6,295.5 417.8,295.1 413.1,294.6 408.5,293.9 404,293.2 399.5,292.2 395.1,291.2 390.8,290 386.6,288.7 382.3,287.3 378.2,285.7 374.1,284 370,282.1 366,280.1 362,278 358.1,275.7 354.2,273.2 350.3,270.6 346.5,267.9 342.7,264.9 338.9,261.9 335.1,258.6 331.4,255.2 327.7,251.6 324,247.9 320.2,243.9M244,318.7 249.8,315.5 255.6,312.2 261.4,309 267.2,305.8 273,302.7 278.8,299.6 284.5,296.5 290.2,293.5 295.9,290.5 301.6,287.6 307.3,284.8 313,282.1 318.6,279.4 324.3,276.9 329.9,274.5 335.4,272.1 341,269.9 346.5,267.9 352,265.9 357.4,264.1 362.9,262.5 368.2,261 373.6,259.6 378.9,258.5 384.1,257.5M425.4,294.9 420.6,294.5 416,293.9 411.3,293.3 406.8,292.5 402.3,291.5 398,290.5 393.6,289.3 389.3,287.9 385.1,286.5 381,284.9 376.9,283.1 372.8,281.2 368.8,279.2 364.8,277.1 360.9,274.7 357,272.3 353.1,269.6 349.3,266.9 345.4,263.9 341.6,260.8 337.9,257.6 334.1,254.2 330.4,250.6 326.7,246.8 323,242.8M242.2,317.5 248.1,314.3 253.9,311 259.6,307.8 265.4,304.6 271.2,301.4 276.9,298.3 282.7,295.2 288.4,292.2 294.1,289.2 299.8,286.3 305.5,283.5 311.1,280.7 316.8,278.1 322.4,275.5 328,273.1 333.5,270.7 339.1,268.5 344.6,266.4 350.1,264.5 355.5,262.6 360.9,261 366.3,259.4 371.7,258.1 377,256.9 382.2,255.9M428.2,294.3 423.5,293.9 418.8,293.3 414.2,292.6 409.6,291.8 405.1,290.8 400.7,289.8 396.4,288.5 392.1,287.2 387.9,285.7 383.7,284.1 379.6,282.3 375.6,280.4 371.5,278.4 367.6,276.2 363.6,273.8 359.7,271.4 355.8,268.7 352,265.9 348.2,263 344.4,259.9 340.6,256.6 336.9,253.1 333.1,249.5 329.4,245.7 325.7,241.7M240.5,316.3 246.3,313 252.1,309.8 257.9,306.5 263.6,303.3 269.4,300.1 275.1,297 280.8,293.9 286.6,290.9 292.2,287.9 297.9,285 303.6,282.1 309.2,279.4 314.9,276.7 320.5,274.1 326.1,271.7 331.6,269.3 337.2,267.1 342.7,264.9 348.2,263 353.6,261.1 359,259.4 364.4,257.9 369.8,256.5 375.1,255.3 380.3,254.3M431.1,293.8 426.3,293.3 421.6,292.7 417,292 412.4,291.2 407.9,290.2 403.5,289.1 399.2,287.8 394.9,286.5 390.7,285 386.5,283.3 382.4,281.5 378.3,279.6 374.3,277.5 370.3,275.3 366.4,273 362.4,270.5 358.6,267.8 354.7,265 350.9,262 347.1,258.9 343.3,255.6 339.6,252.1 335.9,248.5 332.1,244.7 328.4,240.7M238.7,315 244.5,311.7 250.3,308.5 256.1,305.2 261.8,302 267.6,298.8 273.3,295.7 279,292.6 284.7,289.5 290.4,286.5 296.1,283.6 301.7,280.7 307.4,278 313,275.3 318.6,272.7 324.2,270.2 329.8,267.8 335.3,265.6 340.8,263.4 346.3,261.4 351.7,259.6 357.1,257.9 362.5,256.3 367.9,254.9 373.2,253.7 378.4,252.6M433.8,293.3 429.1,292.8 424.4,292.2 419.7,291.5 415.2,290.6 410.7,289.6 406.3,288.5 401.9,287.2 397.7,285.8 393.4,284.3 389.3,282.6 385.1,280.8 381.1,278.8 377,276.8 373,274.5 369.1,272.2 365.2,269.6 361.3,267 357.4,264.1 353.6,261.1 349.8,258 346.1,254.7 342.3,251.2 338.6,247.5 334.9,243.7 331.1,239.6M237,313.7 242.8,310.4 248.5,307.1 254.3,303.9 260,300.6 265.8,297.4 271.5,294.3 277.2,291.2 282.9,288.1 288.6,285.1 294.2,282.2 299.9,279.3 305.5,276.5 311.1,273.8 316.7,271.2 322.3,268.7 327.9,266.3 333.4,264 338.9,261.9 344.4,259.9 349.8,258 355.2,256.2 360.6,254.7 366,253.2 371.3,252 376.5,250.9M436.6,292.9 431.8,292.3 427.1,291.7 422.5,290.9 417.9,290 413.5,289 409,287.9 404.7,286.6 400.4,285.2 396.2,283.6 392,281.9 387.9,280.1 383.8,278.1 379.7,276 375.8,273.8 371.8,271.4 367.9,268.8 364,266.1 360.2,263.3 356.3,260.3 352.5,257.1 348.8,253.8 345,250.2 341.3,246.6 337.6,242.7 333.9,238.7M235.2,312.3 241,309 246.8,305.7 252.5,302.5 258.2,299.3 264,296 269.7,292.9 275.4,289.7 281.1,286.7 286.7,283.6 292.4,280.7 298,277.8 303.7,275 309.3,272.3 314.9,269.7 320.4,267.1 326,264.7 331.5,262.4 337,260.3 342.5,258.2 347.9,256.3 353.4,254.6 358.7,253 364.1,251.5 369.4,250.3 374.6,249.2M439.4,292.5 434.6,291.9 429.9,291.3 425.2,290.5 420.7,289.5 416.2,288.5 411.8,287.3 407.4,286 403.1,284.6 398.9,283 394.7,281.3 390.6,279.4 386.5,277.4 382.5,275.3 378.5,273 374.5,270.6 370.6,268.1 366.7,265.3 362.9,262.5 359,259.4 355.2,256.2 351.5,252.9 347.7,249.4 344,245.7 340.3,241.8 336.6,237.7M233.5,310.9 239.2,307.6 245,304.3 250.7,301.1 256.5,297.8 262.2,294.6 267.9,291.4 273.6,288.3 279.2,285.2 284.9,282.1 290.5,279.2 296.2,276.3 301.8,273.5 307.4,270.7 313,268.1 318.6,265.6 324.1,263.1 329.6,260.8 335.1,258.6 340.6,256.6 346.1,254.7 351.5,252.9 356.9,251.3 362.2,249.8 367.5,248.5 372.8,247.4M442.1,292.1 437.3,291.5 432.6,290.9 428,290 423.4,289.1 418.9,288 414.5,286.8 410.1,285.5 405.8,284 401.6,282.4 397.4,280.7 393.3,278.8 389.2,276.8 385.2,274.7 381.2,272.4 377.2,269.9 373.3,267.3 369.4,264.6 365.6,261.7 361.7,258.6 357.9,255.4 354.2,252.1 350.4,248.5 346.7,244.8 343,240.9 339.3,236.8M231.7,309.5 237.5,306.2 243.2,302.9 248.9,299.6 254.7,296.3 260.4,293.1 266.1,289.9 271.7,286.8 277.4,283.7 283.1,280.6 288.7,277.6 294.3,274.7 300,271.9 305.6,269.1 311.1,266.5 316.7,263.9 322.2,261.5 327.8,259.2 333.3,256.9 338.7,254.9 344.2,252.9 349.6,251.1 355,249.5 360.3,248 365.6,246.7 370.9,245.5M444.8,291.8 440,291.2 435.3,290.5 430.7,289.6 426.1,288.7 421.6,287.6 417.2,286.3 412.8,285 408.5,283.5 404.3,281.9 400.1,280.1 396,278.2 391.9,276.2 387.9,274 383.9,271.7 379.9,269.2 376,266.6 372.1,263.9 368.2,261 364.4,257.9 360.6,254.7 356.9,251.3 353.1,247.7 349.4,244 345.7,240 341.9,235.9M230,308 235.7,304.7 241.4,301.4 247.2,298.1 252.9,294.8 258.6,291.6 264.3,288.4 269.9,285.2 275.6,282.1 281.2,279 286.9,276 292.5,273.1 298.1,270.3 303.7,267.5 309.3,264.8 314.8,262.3 320.4,259.8 325.9,257.4 331.4,255.2 336.9,253.1 342.3,251.2 347.7,249.4 353.1,247.7 358.4,246.2 363.7,244.8 369,243.7M447.5,291.6 442.7,290.9 438,290.2 433.4,289.3 428.8,288.3 424.3,287.2 419.9,285.9 415.5,284.5 411.2,283 407,281.4 402.8,279.6 398.7,277.7 394.6,275.6 390.5,273.4 386.5,271.1 382.6,268.6 378.7,266 374.8,263.2 370.9,260.3 367.1,257.2 363.3,253.9 359.5,250.5 355.8,246.9 352,243.2 348.3,239.2 344.6,235.1M228.2,306.4 233.9,303.1 239.7,299.8 245.4,296.5 251.1,293.3 256.8,290 262.4,286.8 268.1,283.6 273.8,280.5 279.4,277.4 285,274.4 290.7,271.5 296.3,268.6 301.9,265.8 307.4,263.1 313,260.5 318.5,258.1 324,255.7 329.5,253.4 335,251.3 340.4,249.4 345.9,247.5 351.2,245.8 356.6,244.3 361.9,243 367.2,241.8M450.2,291.3 445.4,290.7 440.7,289.9 436.1,289 431.5,288 427,286.8 422.6,285.6 418.2,284.1 413.9,282.6 409.7,280.9 405.5,279.1 401.3,277.2 397.2,275.1 393.2,272.9 389.2,270.5 385.2,268 381.3,265.4 377.4,262.6 373.6,259.6 369.8,256.5 366,253.2 362.2,249.8 358.4,246.2 354.7,242.4 351,238.4 347.3,234.3M226.5,304.9 232.2,301.6 237.9,298.2 243.6,294.9 249.3,291.6 255,288.4 260.6,285.2 266.3,282 271.9,278.8 277.6,275.7 283.2,272.7 288.8,269.8 294.4,266.9 300,264.1 305.6,261.4 311.1,258.8 316.7,256.3 322.2,253.9 327.7,251.6 333.1,249.5 338.6,247.5 344,245.7 349.4,244 354.7,242.4 360,241 365.3,239.8M452.9,291.2 448.1,290.5 443.4,289.7 438.7,288.8 434.1,287.7 429.6,286.5 425.2,285.2 420.9,283.8 416.6,282.2 412.3,280.5 408.1,278.7 404,276.7 399.9,274.6 395.8,272.4 391.8,270 387.9,267.5 384,264.8 380.1,262 376.2,259 372.4,255.9 368.6,252.6 364.8,249.1 361.1,245.5 357.4,241.7 353.7,237.7 350,233.6M224.7,303.3 230.4,299.9 236.1,296.6 241.8,293.3 247.5,290 253.2,286.7 258.8,283.5 264.5,280.3 270.1,277.1 275.8,274 281.4,271 287,268 292.6,265.1 298.2,262.3 303.7,259.6 309.3,257 314.8,254.5 320.3,252.1 325.8,249.8 331.3,247.6 336.7,245.6 342.1,243.7 347.5,242 352.9,240.5 358.2,239 363.4,237.8M455.5,291.1 450.7,290.4 446,289.5 441.4,288.6 436.8,287.5 432.3,286.3 427.9,284.9 423.5,283.5 419.2,281.9 414.9,280.2 410.8,278.3 406.6,276.3 402.5,274.2 398.5,272 394.5,269.5 390.5,267 386.6,264.3 382.7,261.5 378.9,258.5 375.1,255.3 371.3,252 367.5,248.5 363.7,244.8 360,241 356.3,237 352.6,232.8M222.9,301.6 228.7,298.3 234.4,294.9 240,291.6 245.7,288.3 251.4,285 257,281.8 262.7,278.6 268.3,275.4 273.9,272.3 279.5,269.2 285.1,266.2 290.7,263.3 296.3,260.5 301.9,257.8 307.4,255.1 313,252.6 318.5,250.2 324,247.9 329.4,245.7 334.9,243.7 340.3,241.8 345.7,240 351,238.4 356.3,237 361.6,235.8M458.1,291 453.3,290.3 448.6,289.4 444,288.4 439.4,287.3 434.9,286.1 430.5,284.7 426.1,283.2 421.8,281.6 417.6,279.9 413.4,278 409.2,276 405.1,273.8 401.1,271.5 397.1,269.1 393.2,266.5 389.2,263.8 385.4,261 381.5,257.9 377.7,254.8 373.9,251.4 370.1,247.9 366.4,244.2 362.7,240.4 359,236.4 355.3,232.2M221.2,299.9 226.9,296.6 232.6,293.2 238.3,289.9 243.9,286.6 249.6,283.3 255.2,280 260.9,276.8 266.5,273.6 272.1,270.5 277.7,267.4 283.3,264.4 288.9,261.5 294.5,258.6 300,255.9 305.6,253.2 311.1,250.7 316.6,248.2 322.1,245.9 327.6,243.7 333,241.7 338.4,239.8 343.8,238 349.2,236.4 354.5,235 359.7,233.7M460.7,291 455.9,290.2 451.2,289.3 446.6,288.3 442,287.2 437.5,285.9 433.1,284.5 428.7,283 424.4,281.4 420.2,279.6 416,277.7 411.8,275.7 407.8,273.5 403.7,271.2 399.7,268.7 395.8,266.1 391.8,263.4 388,260.5 384.1,257.5 380.3,254.3 376.5,250.9 372.8,247.4 369,243.7 365.3,239.8 361.6,235.8 357.9,231.5M219.4,298.2 225.1,294.8 230.8,291.5 236.5,288.1 242.1,284.8 247.8,281.5 253.4,278.2 259.1,275 264.7,271.8 270.3,268.6 275.9,265.5 281.5,262.5 287.1,259.6 292.6,256.7 298.2,254 303.7,251.3 309.3,248.7 314.8,246.3 320.2,243.9 325.7,241.7 331.1,239.6 336.6,237.7 341.9,235.9 347.3,234.3 352.6,232.8 357.9,231.5" fill="none" stroke="#000" stroke-width="0.92" stroke-linejoin="round"/>
<ellipse cx="219.1" cy="298" rx="2.0" ry="1.6" fill="#e81010"/><ellipse cx="335.2" cy="272.9" rx="2.0" ry="1.6" fill="#e81010"/><ellipse cx="389.3" cy="298.8" rx="2.0" ry="1.6" fill="#e81010"/><ellipse cx="460.5" cy="291.2" rx="2.0" ry="1.6" fill="#f0a0a8"/>
<text x="209.2" y="248.6" text-anchor="end" class="tk">-15</text><text x="210.3" y="262.4" text-anchor="end" class="tk">-20</text><text x="213.1" y="279" text-anchor="end" class="tk">-25</text><text x="214.4" y="293.5" text-anchor="end" class="tk">-30</text><text x="215.6" y="307.8" text-anchor="end" class="tk">-35</text><text x="217.9" y="320" text-anchor="end" class="tk">-40</text><text x="214.1" y="348.6" text-anchor="middle" class="tk">1.00</text><text x="233.4" y="361.2" text-anchor="middle" class="tk">0.90</text><text x="249.8" y="373.2" text-anchor="middle" class="tk">0.80</text><text x="269.2" y="385.4" text-anchor="middle" class="tk">0.70</text><text x="282.4" y="398.6" text-anchor="middle" class="tk">0.60</text><text x="298.9" y="410.4" text-anchor="middle" class="tk">0.50</text><text x="325.3" y="411.1" text-anchor="middle" class="tk">0.05</text><text x="356.6" y="399" text-anchor="middle" class="tk">0.10</text><text x="391" y="388.9" text-anchor="middle" class="tk">0.15</text><text x="424.5" y="377.6" text-anchor="middle" class="tk">0.20</text><text x="462.5" y="365.5" text-anchor="middle" class="tk">0.25</text><text x="207.3" y="385.7" class="ax" textLength="37" lengthAdjust="spacingAndGlyphs">Lecithin</text><text x="403.1" y="398.8" class="ax" textLength="46.1" lengthAdjust="spacingAndGlyphs">Tween-80</text><text transform="translate(191.6,342) rotate(-90)" class="zt" textLength="97.8" lengthAdjust="spacingAndGlyphs">Zeta&#160; potential (mV)</text><text x="175" y="237.2" class="lb">(c)</text></g>
</svg></body></html>
